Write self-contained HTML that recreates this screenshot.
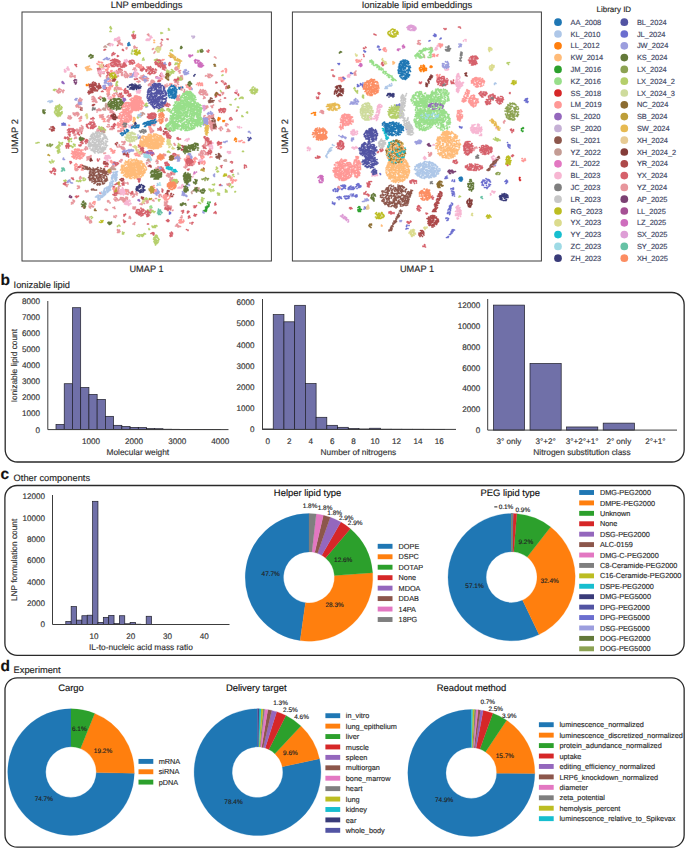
<!DOCTYPE html>
<html><head><meta charset="utf-8"><style>
html,body{margin:0;padding:0;background:#fff;}
svg{display:block;font-family:"Liberation Sans", sans-serif;text-rendering:geometricPrecision;}
</style></head><body>
<svg width="685" height="848" viewBox="0 0 685 848">
<rect width="685" height="848" fill="#fff"/>
<path d="M128.5 157h0M128 155h0M128.5 154.5h0M128.5 156h0M126.5 156h0M128 156h0M112.5 116h0M112 117h0M112 118h0M111.5 115h0M111 117h0M110.5 115.5h0M112 115.5h0M112 116.5h0M110.5 116h0M111 115.5h0M114 116h0M112.5 117.5h0M113.5 115.5h0M111 117.5h0M113 118h0M112.5 118.5h0M112 118.5h0M123 97h0M123 95.5h0M123 96.5h0M97.5 68.5h0M100.5 70h0M100.5 69h0M100 69.5h0M98 70.5h0M99.5 70h0M98 69h0M98 70h0M99.5 68.5h0M99.5 68h0M98.5 68.5h0M156.5 77.5h0M157 77h0M156 77h0M157.5 77h0M156.5 77h0M158 81.5h0M160.5 80.5h0M160 80.5h0M160 81h0M159 81.5h0M159.5 80.5h0M159 80h0M158 81h0M141.5 147.5h0M142.5 148.5h0M143 147.5h0M143 148h0M141 148.5h0M142.5 148h0M142 147.5h0M143 146.5h0M140.5 148.5h0M143 148.5h0M141.5 149.5h0M201.5 162h0M201 162h0M202 162.5h0M200 161.5h0M201 162.5h0M199 163.5h0M200 162.5h0M199 164h0M199.5 164h0M198.5 162.5h0M199 162.5h0M104 66.5h0M106.5 66.5h0M107 66.5h0M103.5 66h0M106 65.5h0M107 65h0M106 66.5h0M103.5 65h0M106.5 65h0M107 65.5h0M105.5 166.5h0M107.5 166.5h0M106.5 166h0M107.5 166h0M105 166.5h0M175 155.5h0M173 154h0M173.5 153.5h0M174.5 153.5h0M175.5 154h0M173 154.5h0M176 155h0M174.5 154h0M176 154.5h0M112 128.5h0M114 128.5h0M113 128h0M113.5 127h0M114.5 124.5h0M114.5 125.5h0M113.5 124.5h0M114.5 123.5h0M115 125h0M114.5 126.5h0M113 126h0M114 125.5h0M115.5 124.5h0M113.5 125.5h0M113.5 126.5h0M111.5 126.5h0M112.5 126.5h0M118.5 70h0M120 71.5h0M122 70.5h0M122 70h0M120 71h0M120.5 72h0M119 70h0M118.5 69.5h0M120.5 69.5h0M121 72h0M120 68.5h0M119 68.5h0M121 69.5h0M119.5 71.5h0M120.5 66.5h0M122 66h0M122 67.5h0M121 66h0M121 67h0M120.5 66h0M124 66.5h0M123 66.5h0M120 66h0M123.5 67h0M123 67h0M139.5 181.5h0M138 178.5h0M137.5 179h0M140 178.5h0M140 180h0M139 180.5h0M139 181h0M139 179.5h0M140 179.5h0M138.5 179.5h0M139 182h0M138.5 181h0M167 133.5h0M166.5 135.5h0M167.5 135h0M167 136h0M167.5 134h0M168.5 133h0M168 134.5h0M168 134h0M167 134h0M166.5 132h0M166 131.5h0M165 133.5h0M167 132h0M165 132.5h0M166.5 133h0M165.5 133h0M167 131.5h0M166.5 134h0M164.5 134h0M166.5 132.5h0M164 134.5h0M163.5 133.5h0M167 134.5h0M166.5 134.5h0M163.5 134h0M164.5 133.5h0M165.5 132.5h0M165 133h0M166 132.5h0M190 163h0M191.5 163h0M190 160.5h0M190.5 162.5h0M190 161h0M191 163.5h0M191.5 162.5h0M190.5 161.5h0M79.5 167.5h0M79 166.5h0M81 166.5h0M79.5 166.5h0M80.5 167h0M80.5 166h0M78 167h0M80.5 165h0M78 167.5h0M112 86.5h0M110.5 85h0M111.5 86h0M110 85.5h0M112 86h0M112.5 85.5h0M124 182h0M123 183.5h0M123 184.5h0M122.5 185h0M123 182h0M124 185h0M124 183.5h0M122 183.5h0M122.5 184h0M127.5 90.5h0M126.5 92.5h0M128.5 92h0M127.5 92h0M127.5 92.5h0M128 93h0M128 91h0M127 92h0M128 92h0M125.5 92.5h0M124.5 92h0M125 90h0M126 93.5h0M127.5 91h0M125.5 90h0M124.5 91h0M124 90.5h0M125.5 88.5h0M124.5 93h0M125.5 91h0M124.5 89.5h0M126.5 90.5h0M125 89h0M124.5 90h0M129 96.5h0M131 95.5h0M128.5 95h0M130 96h0M130.5 96h0M130 94h0M130.5 94h0M129 95h0M129 94h0M128.5 94.5h0M130.5 95.5h0M127.5 95.5h0M78 132h0M78.5 132.5h0M78 133h0M79.5 135h0M79.5 130h0M81.5 131.5h0M81.5 133h0M78.5 134h0M77.5 133h0M79 130.5h0M81.5 133.5h0M79 134.5h0M79.5 134.5h0M78 134h0M144 152.5h0M145.5 152h0M144.5 153.5h0M145 152.5h0M143.5 152.5h0M160 75.5h0M161.5 74h0M161.5 75.5h0M162 75.5h0M162.5 75.5h0M160.5 74.5h0M161 76.5h0M161 73.5h0M108 74.5h0M107 72.5h0M109.5 73h0M108 72h0M107.5 73h0M109.5 75.5h0M107.5 76h0M110 73.5h0M108.5 72.5h0M109.5 75h0M107.5 72h0M107 75.5h0M108 74h0M115 194h0M114.5 195.5h0M115.5 193h0M114.5 193.5h0M116.5 195h0M113 194.5h0M114.5 195h0M114.5 192.5h0M115 195.5h0M116 193.5h0M114 195h0M116 193h0M117.5 192.5h0M116.5 192h0M118 192.5h0M119 191h0M119.5 192h0M119 193h0M117.5 193.5h0M118 193.5h0M118 191h0M172.5 158h0M171.5 158.5h0M174 158h0M173.5 156h0M172.5 159h0M174.5 158.5h0M174 157.5h0M174.5 158h0M174.5 157.5h0M172 157.5h0M98.5 98h0M99.5 98h0M99 98h0M99.5 98.5h0M160 167.5h0M160.5 170h0M162 170.5h0M160.5 167h0M163 168h0M162.5 170.5h0M160 170h0M161.5 168.5h0M161 167.5h0M161 169h0M161.5 167h0M163 170h0M162 169h0M161.5 170h0M164 170h0M164.5 172.5h0M163.5 169.5h0M163 171h0M165 172.5h0M163.5 172h0M164.5 171.5h0M142.5 149.5h0M143.5 148.5h0M142 149.5h0M142.5 152h0M142.5 152.5h0M141.5 151h0M141.5 149h0M143.5 150.5h0M140.5 151h0M143 150.5h0M142 151.5h0M143.5 151.5h0M142.5 150h0M141.5 151.5h0M141 151.5h0M140.5 149h0M141 153h0M140 151.5h0M143.5 151h0M143 149h0M142 153h0M141 147h0M140.5 146h0M138.5 145h0M142.5 145.5h0M140.5 145h0M142.5 146h0M141 145h0M140 146h0M139 147h0M142 146.5h0M139.5 146h0M138.5 145.5h0M85.5 142h0M85 141.5h0M86 143.5h0M88.5 141h0M87.5 142h0M86.5 139.5h0M86.5 141h0M88 141h0M88 142.5h0M87 140.5h0M86 141.5h0M86 142h0M86.5 140.5h0M85.5 140.5h0M84.5 139h0M84 138.5h0M83 138.5h0M82.5 138.5h0M87 141.5h0M86.5 140h0M86.5 141.5h0M87.5 140h0M123.5 191.5h0M124 192.5h0M123 191.5h0M124 192h0M123 191h0M155 70h0M156.5 70h0M155.5 69.5h0M155.5 69h0M155 72h0M156 72h0M155 73h0M153 71.5h0M152 72.5h0M153.5 71.5h0M154 73.5h0M154.5 73h0M154 71.5h0M152.5 71.5h0M149 150.5h0M151.5 153h0M149 152h0M150 153h0M150 150.5h0M152 151.5h0M152 151h0M150 152h0M151.5 150.5h0M152.5 154h0M153.5 153h0M151.5 155h0M152 152.5h0M152.5 155.5h0M154 154h0M152.5 154.5h0M152.5 153h0M205 136.5h0M206.5 138h0M207 137.5h0M204.5 138h0M204 137h0M205 138h0M205.5 142h0M206.5 139.5h0M205.5 140h0M207.5 141.5h0M207.5 142h0M206.5 140h0M208.5 141.5h0M209 139h0M209 141.5h0M208 140h0M208 138h0M205.5 139.5h0M208 138.5h0M208.5 142h0M208 139h0M208 139.5h0M206.5 138.5h0M209 141h0M206.5 140.5h0M205.5 139h0M207.5 140h0M125 199.5h0M124 200.5h0M125.5 201h0M127 199.5h0M123.5 199.5h0M125.5 200.5h0M124 199h0M126 198.5h0M126.5 199.5h0M127 199h0M169 164.5h0M168 163.5h0M167.5 164h0M168.5 165.5h0M167 166h0M168.5 166h0M169 165.5h0M166 163.5h0M165.5 165.5h0M167.5 165h0M167 162h0M166.5 162.5h0M165.5 162.5h0M166.5 165.5h0M165.5 164h0M165 162.5h0M166 163h0M167.5 163.5h0M166 165h0M165 163.5h0M120 94h0M122 96.5h0M121 95h0M119 96h0M118.5 95h0M120 94.5h0M121.5 97.5h0M121.5 94.5h0M120.5 97h0M120.5 94.5h0M120 96h0M120 93.5h0M118.5 96.5h0M120.5 94h0M119.5 93.5h0M121.5 94h0M121.5 93h0M140 66h0M139 64.5h0M139 67h0M139 66h0M138 66.5h0M141 65h0M139 65.5h0M138.5 64.5h0M139.5 67.5h0M125 65.5h0M124 62.5h0M124 65.5h0M125 62.5h0M123.5 64.5h0M124.5 62.5h0M126 66h0M124 64.5h0M124.5 66.5h0M124 64h0M124 65h0M126.5 65.5h0M125.5 64.5h0M125 66h0M126 65h0M123 64.5h0M125.5 64h0M123.5 63.5h0M124 66h0M124.5 63h0M125 63.5h0M123 64h0M123 65.5h0M125.5 66h0M122 67h0M123 66h0M124.5 67h0M124 67h0M123.5 66.5h0M177.5 182.5h0M177 181.5h0M175 182.5h0M176 182h0M177 183h0M177 182h0M177.5 182h0M176.5 181h0M176.5 182h0M178 181.5h0M206.5 119h0M207.5 119.5h0M205.5 119h0M206 119h0M205.5 119.5h0M206.5 120.5h0M208 119h0M204 120.5h0M205.5 118.5h0M204 119h0M204.5 120h0M205 119.5h0M205 120h0M206 119.5h0M173.5 173h0M171 172.5h0M172 173.5h0M172 174h0M173 173h0M172.5 172.5h0M171 174.5h0M173 172h0M171 173h0M173 171.5h0M171 174h0M171.5 174.5h0M162.5 191.5h0M163 190h0M162.5 191h0M162 191h0M162.5 190.5h0M162.5 192h0M162 189h0M114 187h0M112.5 186h0M113.5 187.5h0M114.5 187h0M113 186.5h0M113.5 187h0M114 186.5h0M115.5 184.5h0M117 183.5h0M115 184.5h0M117 184h0M117 183h0M117.5 183h0M117.5 184h0M116 184h0M136.5 79h0M136 79h0M137 78.5h0M135 79.5h0M134.5 79h0M137.5 79h0M136.5 78.5h0M170 138.5h0M169 137h0M170.5 138h0M167 137h0M171 136.5h0M170.5 137.5h0M167 136.5h0M170 135.5h0M168 136h0M168 136.5h0M170 138h0M167.5 138h0M168 138h0M168.5 135.5h0M168.5 138h0M169.5 135h0M167 135.5h0M169 136h0M168 135h0M167.5 134.5h0M192 162h0M191 163h0M189.5 161.5h0M189.5 162h0M190.5 162h0M189 169h0M188 169.5h0M187.5 169.5h0M188 170h0M188.5 170h0M141 69h0M141.5 69.5h0M140.5 70h0M143 68h0M141.5 70.5h0M140.5 68.5h0M142 68h0M143 69h0M141 70.5h0M141 69.5h0M141 68h0M144 69h0M142 70.5h0M144 68.5h0M142 71h0M144.5 69h0M141.5 69h0M143 70h0M143 67h0M143.5 67.5h0M142.5 68.5h0M80 146h0M79 145h0M80.5 145h0M80.5 145.5h0M81 145.5h0M79 145.5h0M81 144.5h0M82 141h0M83 140.5h0M82 141.5h0M80.5 142.5h0M81.5 140.5h0M81 142.5h0M82.5 140.5h0M81.5 141h0M82 142.5h0M82 143h0M83 143h0M82.5 143.5h0M93 118h0M93 120h0M91 119h0M92 118.5h0M94 118.5h0M91 118.5h0M93 117.5h0M101.5 130.5h0M102.5 128h0M100.5 131h0M100.5 130h0M101 130.5h0M102 129h0M102.5 128.5h0M100 129.5h0M102 128.5h0M100.5 129.5h0M101.5 128h0M99.5 128.5h0M102 129.5h0M104 129h0M103.5 128h0M101.5 129h0M102.5 129.5h0M103 128h0M102 128h0M106 87.5h0M106.5 88h0M105.5 89.5h0M104.5 89h0M104 89h0M105.5 87h0M106 89h0M103.5 88.5h0M103 91.5h0M101.5 91.5h0M102.5 91h0M204 145.5h0M204.5 147h0M204 146h0M203.5 147.5h0M202.5 146h0M206 148.5h0M203.5 148h0M205 146.5h0M204 146.5h0M204.5 146h0M204.5 148h0M204.5 146.5h0M204 147h0M205.5 148h0M171.5 235h0M171.5 233h0M172.5 234h0M171 235.5h0M170.5 236.5h0M170.5 235h0M170.5 235.5h0M170.5 234h0M172 236h0M170 233h0M170 235.5h0M172 235.5h0M172.5 233h0M171.5 232h0M84.5 208h0M85 206.5h0M85 207h0M84 207.5h0M83.5 207h0M84.5 206h0M83 206.5h0M84 206h0M85 204h0M133 35h0M133.5 34h0M132.5 36h0M133.5 35.5h0M132 35h0M133.5 36.5h0M132 35.5h0M133.5 35h0M133.5 37h0M135.5 37h0M132.5 36.5h0M135.5 35h0M134 38.5h0M134.5 36.5h0M135 38h0M134.5 38.5h0M135 36h0M135 35.5h0M133 36.5h0M133 35.5h0M134 36h0M133 38h0M150.5 191.5h0M152.5 191.5h0M151.5 192.5h0M154 193h0M153.5 192.5h0M50 171.5h0M51 172.5h0M51.5 173h0M52 171.5h0M50.5 171.5h0M51 171.5h0M55.5 169.5h0M54.5 169.5h0M54.5 171.5h0M53 170h0M55 169h0M54.5 169h0M52.5 171h0M53 168.5h0M53.5 170h0M55.5 171h0M53.5 169.5h0M54 168h0M53 170.5h0M55.5 170.5h0M54 173.5h0M55 173.5h0M55 174.5h0M77.5 196.5h0M76.5 197.5h0M75.5 196.5h0M78.5 196h0M78 196.5h0M76.5 196h0M77 197h0M66 184.5h0M65.5 182h0M65.5 182.5h0M63.5 183.5h0M64.5 183.5h0M63.5 184h0M64.5 184.5h0M64.5 184h0M66 182.5h0M65.5 185h0M65 183.5h0M65 182h0M208.5 52h0M208.5 50h0M209 50.5h0M207 51h0M208 52h0M70 136h0M69.5 136h0M70 134.5h0M69 134h0M69.5 135.5h0M68.5 134.5h0M69.5 134h0M190 217.5h0M188.5 216.5h0M189.5 216h0M189 216h0M189 216.5h0M188.5 218h0M236 92.5h0M235 92.5h0M237 92h0M236 93h0M235.5 93h0M236.5 93.5h0M238.5 95.5h0M238 94.5h0M238.5 95h0M238.5 94h0M246 165.5h0M245 165.5h0M244.5 165h0M245.5 165.5h0M244.5 167.5h0M244.5 167h0M246.5 167h0M244.5 165.5h0M244.5 168h0M223 82h0M222 81.5h0M221.5 81h0M222.5 81h0M171.5 57h0M170.5 57h0M172 56.5h0M170.5 56h0M171 55.5h0M170.5 55.5h0M226 84h0M226 83.5h0M225.5 83h0M224.5 83.5h0M224.5 84.5h0M227 86.5h0M228 88h0M227 86h0M228.5 87.5h0M228 87h0M226.5 86.5h0M226 87h0M226 88.5h0M215.5 96.5h0M216.5 96.5h0M215.5 97h0M220.5 95.5h0M220 95.5h0M219.5 95h0M219 95h0M220 94.5h0M217 94h0M218 94.5h0M216 93h0M217.5 93h0M216.5 95.5h0M215.5 94h0M216 95.5h0M153 233.5h0M152 233h0M153 233h0M153 232.5h0M151 233.5h0M153 234h0M153.5 233.5h0M153.5 235h0M154 234h0M154 233h0M363.5 54.5h0M364 56.5h0M364 56h0M507.5 165.5h0M508 165h0M507.5 163.5h0M506.5 164h0M507 164.5h0M513.5 155.5h0M513 155h0M512.5 156.5h0M511.5 156h0M512.5 155h0M431.5 197.5h0M433.5 197.5h0M432.5 198h0M432.5 196h0M432.5 198.5h0M433 199h0M432.5 199h0M431 196.5h0M377.5 152h0M378.5 151.5h0M378 152.5h0M377.5 152.5h0M381 148h0M382 151h0M383 150h0M381 150.5h0M381.5 150.5h0M380.5 149h0M380.5 150.5h0M382 148h0M380 149.5h0M382.5 148h0M382.5 149.5h0M381 151.5h0M367 183h0M367.5 184h0M368.5 183h0M369.5 183.5h0M369 182h0M369 181.5h0M370.5 181.5h0M369.5 182h0M371.5 181.5h0M370 184h0M369 184.5h0M368 186.5h0M370 184.5h0M369 187h0M368.5 186h0M367.5 185h0M368 185h0M369.5 184.5h0M369 186h0M369 185h0M367.5 183.5h0M368 183.5h0M368 185.5h0M369 185.5h0M367.5 186.5h0M369.5 184h0M426.5 214h0M426 213h0M427 213.5h0M427.5 213.5h0M453.5 82.5h0M451 82h0M451 81h0M452.5 82.5h0M452.5 83h0M453 82h0M453.5 80h0M453.5 80.5h0M451.5 82h0M451.5 83.5h0M452 83.5h0M454 83.5h0M364 193h0M364.5 194h0M365 193h0M365 194h0M366 191.5h0M364 194h0M365.5 192.5h0M369 195h0M367.5 194.5h0M368.5 196h0M367.5 194h0M366.5 194.5h0M368 195h0M368.5 194.5h0M369 195.5h0M383.5 65h0M384.5 63.5h0M382 62.5h0M382.5 62.5h0M382 63h0M382.5 64h0M381.5 64h0M383 65.5h0M383 64.5h0M382.5 65.5h0M383 62h0" stroke="#d6616b" stroke-width="1.7" stroke-linecap="round" fill="none"/>
<path d="M101 97.5h0M100 96.5h0M101.5 97.5h0M102 97.5h0M100.5 96.5h0M156.5 161.5h0M157 163.5h0M157.5 162h0M157.5 162.5h0M158 163h0M158 161.5h0M156.5 160.5h0M157.5 160.5h0M156 161.5h0M156.5 160h0M181.5 88h0M181.5 89h0M183 88h0M182 88h0M182 87.5h0M184.5 91h0M184 92.5h0M185.5 92.5h0M184.5 90.5h0M186.5 92.5h0M184 91.5h0M184.5 89.5h0M184.5 92h0M187 91h0M180.5 87.5h0M181 86.5h0M178.5 87h0M181 87.5h0M140.5 78.5h0M139.5 77.5h0M142.5 77.5h0M141.5 78.5h0M141 77.5h0M141.5 79h0M143 78.5h0M142.5 80h0M140 78h0M141.5 78h0M138.5 82h0M140 81.5h0M137 81.5h0M139.5 81h0M138.5 82.5h0M138.5 81h0M122.5 149h0M123.5 147.5h0M121.5 148h0M124 148.5h0M124 147.5h0M121.5 148.5h0M123 147h0M179.5 95h0M177.5 96h0M179.5 95.5h0M178.5 96.5h0M177.5 95.5h0M179 96.5h0M178 97h0M179.5 96h0M178.5 97h0M178.5 98h0M176 97h0M177 98h0M176.5 97h0M176.5 98.5h0M178 98.5h0M213 128.5h0M212 128.5h0M212 130h0M213.5 128.5h0M211 129h0M212 130.5h0M211.5 128.5h0M76 134h0M74.5 135.5h0M75 135h0M74 135h0M74 133.5h0M75.5 135h0M74 133h0M74.5 134h0M122.5 148h0M121 147h0M123 148h0M121 146.5h0M121.5 146.5h0M121.5 147h0M122 148.5h0M123 148.5h0M119.5 146.5h0M119 145h0M118 147h0M117.5 147h0M120 147h0M117 146.5h0M119.5 145h0M124.5 149h0M123.5 150h0M125 149h0M123.5 149h0M123.5 148h0M122.5 148.5h0M110 129h0M110 129.5h0M111.5 128.5h0M110.5 128.5h0M111.5 129h0M111.5 128h0M112.5 129.5h0M111.5 129.5h0M112 129h0M109.5 126.5h0M107 126.5h0M109 125h0M107.5 126.5h0M109 124.5h0M108 124.5h0M108 127h0M100 75h0M100.5 76.5h0M99.5 75.5h0M100.5 75h0M100 73h0M98.5 71h0M98.5 73.5h0M99.5 74h0M99.5 71h0M100 70h0M101 71.5h0M99.5 73.5h0M99.5 75h0M98.5 72.5h0M101.5 73.5h0M100.5 73h0M99 71.5h0M101.5 73h0M100.5 72.5h0M98.5 71.5h0M99.5 74.5h0M102 72h0M102 73h0M103.5 73.5h0M104 73.5h0M104 73h0M104 72.5h0M104 71.5h0M103.5 73h0M75 137.5h0M75.5 138h0M74.5 138.5h0M76 137h0M76 138h0M76.5 138h0M142 153h0M140.5 153.5h0M141.5 154h0M142 153.5h0M141.5 153h0M141 153h0M192.5 162.5h0M190 162.5h0M189 163h0M190 163.5h0M192.5 163h0M189.5 163.5h0M189 162.5h0M191.5 162h0M191 163h0M192 163.5h0M191 164h0M190.5 162h0M191.5 164.5h0M188.5 159h0M188.5 162h0M187.5 158.5h0M187 161.5h0M189.5 159h0M188 160.5h0M189.5 160.5h0M188 162h0M189 160h0M188.5 160h0M186 161h0M189 160.5h0M186 160.5h0M189.5 161h0M187.5 158h0M92.5 99h0M93 99.5h0M93.5 99.5h0M93.5 96.5h0M92 97h0M93 97h0M94.5 97.5h0M92 99h0M93 96.5h0M93 99h0M94 98h0M128 75h0M127.5 77.5h0M128 75.5h0M128.5 76h0M130 77h0M127.5 76.5h0M127.5 75.5h0M127.5 76h0M126.5 77h0M128.5 75.5h0M130 73.5h0M132.5 75h0M130 75h0M131.5 73.5h0M130.5 75h0M132 75.5h0M131 75h0M203.5 150.5h0M205.5 152.5h0M205 151.5h0M202.5 154.5h0M203 151h0M203 153h0M201.5 153h0M203.5 153h0M202 154h0M205 154.5h0M203 154h0M204 150.5h0M204.5 151h0M145 79.5h0M144 80.5h0M144.5 79h0M145.5 80h0M144 79h0M145 78.5h0M143.5 79h0M143.5 78.5h0M145.5 78.5h0M147 77.5h0M148.5 78.5h0M148 80.5h0M146.5 80.5h0M147 79h0M146.5 81h0M146.5 79h0M147.5 78.5h0M146 79.5h0M146 80.5h0M147.5 79h0M209.5 149h0M209 150.5h0M210 150h0M210 149h0M209.5 150h0M210.5 149h0M106.5 76.5h0M109 78.5h0M106.5 77.5h0M107 76.5h0M107 78.5h0M106.5 79h0M108 78.5h0M107 77.5h0M108 77.5h0M110 79h0M109 79h0M110.5 79.5h0M111 80.5h0M140 204h0M142 204.5h0M141.5 204.5h0M140.5 204h0M143.5 201.5h0M143 202h0M144.5 203.5h0M143 203h0M143.5 203h0M143.5 202.5h0M142 203h0M142.5 203.5h0M74.5 114.5h0M73.5 114.5h0M73 113h0M73.5 113h0M74 113.5h0M209.5 121h0M210.5 123.5h0M210 121.5h0M210 124h0M210.5 123h0M210.5 121h0M210 121h0M210.5 122h0M210 123h0M211 122.5h0M211 121.5h0M212 123h0M212 121.5h0M210 122.5h0M212 122.5h0M94 100.5h0M95 99h0M92.5 101.5h0M93.5 101h0M93 101.5h0M95 98.5h0M92 99.5h0M95 100.5h0M93.5 98.5h0M94.5 100h0M93.5 101.5h0M94.5 99.5h0M94 99h0M113 167.5h0M115 166h0M113.5 166.5h0M112.5 166h0M113 166.5h0M113.5 165.5h0M113 166h0M113 165h0M175.5 145h0M174.5 145h0M175 145h0M174.5 143.5h0M174 143.5h0M136.5 70h0M135.5 68h0M133 69.5h0M134 68h0M135 68h0M134 69h0M135.5 71h0M135 70.5h0M135 70h0M135 68.5h0M81 118.5h0M81.5 118h0M79 118.5h0M81.5 116.5h0M80 118.5h0M81.5 118.5h0M80 117.5h0M81 116.5h0M81.5 117.5h0M122.5 198h0M122.5 199.5h0M121.5 197.5h0M121.5 198.5h0M120 199h0M122 199h0M121 199h0M121.5 198h0M123 201h0M123.5 200.5h0M125.5 202h0M124.5 200h0M124 199.5h0M126 201h0M124.5 199.5h0M125.5 199.5h0M124 201.5h0M126.5 202h0M126 198.5h0M124 199h0M124 198.5h0M123.5 200h0M124.5 199h0M213 126h0M210.5 125h0M211 126.5h0M210.5 127.5h0M211.5 127.5h0M212.5 124h0M213 125.5h0M212.5 126h0M212 128h0M213 125h0M212 125.5h0M212.5 128h0M211 128h0M213.5 125.5h0M210 126.5h0M216.5 127.5h0M213.5 127.5h0M214.5 128h0M216 129h0M213 127.5h0M216 126.5h0M216 128h0M214 129h0M215 127h0M215 127.5h0M214.5 125.5h0M215.5 126.5h0M125.5 72.5h0M124.5 71.5h0M125 71.5h0M126 72h0M121.5 73h0M122.5 72.5h0M122 75.5h0M122.5 74h0M122 73.5h0M121.5 74h0M122.5 75h0M121.5 75h0M116.5 72.5h0M118.5 73.5h0M117.5 73.5h0M117 72.5h0M116.5 77.5h0M116.5 76.5h0M117.5 76.5h0M118 75.5h0M118.5 76h0M118 76h0M182.5 78.5h0M181 76.5h0M180 77.5h0M180.5 76h0M182 75.5h0M181 78h0M180.5 77h0M182.5 77h0M180.5 78.5h0M180.5 79h0M182 79.5h0M182.5 79h0M180.5 79.5h0M178.5 82h0M177.5 84h0M178.5 84.5h0M178 84h0M177.5 83h0M176 85.5h0M176 86h0M174.5 85h0M175 86.5h0M175.5 85.5h0M176.5 86h0M175 85h0M176 81h0M175 82.5h0M176 82.5h0M177.5 81h0M174.5 80.5h0M175 81.5h0M177 82.5h0M176 81.5h0M174 80.5h0M176.5 82.5h0M207.5 154h0M207 153.5h0M206 154.5h0M208 155h0M205.5 153h0M206 152.5h0M208 153h0M206 154h0M90 156.5h0M89.5 157h0M91 155.5h0M89.5 156.5h0M89 156.5h0M90.5 157h0M91 157h0M88 157h0M89 157h0M88.5 159.5h0M89.5 157.5h0M87.5 157h0M88 159.5h0M87 158h0M88.5 157.5h0M88.5 158.5h0M90.5 158.5h0M90 158.5h0M87.5 159.5h0M87 157h0M87 160h0M122.5 144.5h0M124.5 144h0M124 144h0M123 144.5h0M123.5 144.5h0M125 142.5h0M124.5 142h0M123.5 142h0M124 143h0M122 141.5h0M122 142h0M124.5 141.5h0M125 141.5h0M124 142h0M97 131.5h0M98.5 132h0M99 130.5h0M98 131.5h0M98 128.5h0M98.5 131h0M97 130h0M98.5 130h0M116 199.5h0M117 199.5h0M119 200h0M118 200.5h0M117.5 199.5h0M116 199h0M120 199.5h0M117 198.5h0M120.5 198.5h0M120.5 198h0M122 200h0M120.5 199.5h0M122 198h0M123 197.5h0M120.5 197.5h0M120.5 199h0M116 197.5h0M114 199h0M115 200.5h0M115 197.5h0M115.5 200.5h0M115 200h0M117.5 199h0M116 201h0M116.5 198h0M115.5 197.5h0M116.5 199h0M111 112h0M110 112h0M110.5 112.5h0M112 112.5h0M111.5 111h0M113 111.5h0M111 111h0M111 112.5h0M112.5 111.5h0M112 110.5h0M109.5 109.5h0M111 110.5h0M111 109.5h0M109 110h0M110.5 111h0M109.5 110h0M113 112.5h0M113.5 114h0M114.5 113h0M113 113h0M112.5 113h0M113 114h0M178 99h0M179 98.5h0M176.5 99h0M178 100.5h0M177.5 100h0M177 100.5h0M180 98.5h0M179 99.5h0M177.5 97.5h0M206 120h0M205.5 119h0M206.5 117.5h0M206 117.5h0M206.5 118h0M207 118h0M207 119h0M205.5 120.5h0M206.5 119.5h0M207 118.5h0M205 115.5h0M204 116h0M204 117h0M209.5 121.5h0M208.5 123h0M209 122.5h0M209.5 122.5h0M207.5 123.5h0M209 122h0M207 121.5h0M208.5 122.5h0M209.5 124h0M207.5 121.5h0M121 193h0M118.5 193h0M119.5 192h0M119.5 193.5h0M118.5 191h0M121 191.5h0M120 192h0M119 191h0M120.5 193.5h0M118.5 192.5h0M120.5 193h0M207 107.5h0M204 106h0M206 106h0M205.5 108.5h0M204 108h0M204 107h0M206.5 108h0M207.5 106.5h0M205.5 106.5h0M206.5 108.5h0M206.5 107h0M206 107.5h0M208 107h0M207 106h0M207.5 106h0M207 107h0M205 106.5h0M154 121.5h0M153 120.5h0M153 121.5h0M154 121h0M154.5 123.5h0M154 125h0M153.5 124.5h0M154.5 125.5h0M153.5 125.5h0M154 124.5h0M154 123h0M153.5 123.5h0M155 124.5h0M157 121.5h0M157 120.5h0M156.5 121.5h0M178 69h0M176 67.5h0M177 67h0M175.5 69.5h0M177.5 67h0M178 69.5h0M176 67h0M176 70h0M176.5 70h0M176 69.5h0M175.5 67.5h0M177.5 69h0M177.5 68.5h0M177 67.5h0M175 69h0M175 68h0M176.5 68h0M180 73h0M179 71h0M178.5 71.5h0M180.5 70.5h0M179.5 73h0M179.5 71.5h0M179.5 70.5h0M180 72.5h0M123.5 179.5h0M123.5 180h0M123.5 180.5h0M121.5 180.5h0M121 180.5h0M122 179.5h0M123 178.5h0M80 129.5h0M79.5 130.5h0M79.5 131.5h0M79 131h0M80.5 132h0M80 130.5h0M82.5 130h0M79.5 131h0M82 131.5h0M82 127h0M82 127.5h0M83 127h0M82.5 127.5h0M82.5 127h0M81.5 125.5h0M83 128.5h0M81 130h0M79.5 129h0M82.5 128.5h0M81 128.5h0M82.5 126.5h0M82 128.5h0M80 127.5h0M78 130h0M77 129h0M77 131h0M77 129.5h0M76 130h0M78 130.5h0M79 130h0M77 131.5h0M76.5 129.5h0M75.5 130h0M164 155h0M164 156h0M165.5 155h0M165.5 154.5h0M165.5 155.5h0M164.5 154.5h0M163.5 154h0M165 155h0M164 154h0M117.5 94.5h0M118.5 95h0M118 95.5h0M117 94.5h0M119.5 95.5h0M118.5 95.5h0M117 92.5h0M115.5 93h0M114 93.5h0M117 94h0M114.5 94h0M116.5 93h0M211.5 122h0M213 122h0M213 124.5h0M213.5 122.5h0M213 123.5h0M211 124h0M213 123h0M214 123h0M211.5 124h0M165 85.5h0M168 85.5h0M167 84h0M167 86.5h0M165.5 87h0M165 85h0M165.5 85h0M166 85.5h0M165 87h0M165 86h0M165 86.5h0M68.5 133.5h0M69.5 133h0M67.5 132.5h0M70 132.5h0M119.5 70.5h0M117.5 71.5h0M116.5 71.5h0M118 73.5h0M118 73h0M120 71.5h0M119 70.5h0M116 71.5h0M119.5 71h0M116 73h0M118 72h0M116.5 70.5h0M119 72.5h0M121.5 70.5h0M120.5 71h0M121 70h0M145.5 156.5h0M145 155.5h0M148 154.5h0M145.5 155.5h0M146.5 154h0M146 157h0M146 155.5h0M147.5 156h0M146 156.5h0M148 156.5h0M148 155h0M147 156h0M151 153h0M151 152.5h0M149 152h0M148.5 153.5h0M149 152.5h0M150 153.5h0M148.5 152.5h0M148 153h0M174.5 174.5h0M174 173.5h0M174 174.5h0M173.5 174h0M174.5 173h0M173 173.5h0M151 159h0M148.5 161h0M150 159.5h0M150 162h0M150 160.5h0M150.5 160h0M149.5 159.5h0M149.5 161h0M150.5 159.5h0M149 160.5h0M152 129.5h0M153.5 131h0M153 131h0M151 131h0M150.5 131.5h0M151 132h0M150.5 132h0M152.5 132h0M153.5 130.5h0M152.5 131h0M153 131.5h0M151 133h0M213 117.5h0M211.5 115.5h0M213 116.5h0M212 117.5h0M211.5 114h0M213.5 114.5h0M210 117h0M212.5 115.5h0M212 116h0M213.5 116h0M211.5 117h0M212 115.5h0M209.5 119.5h0M208 117h0M209.5 119h0M209.5 116.5h0M211 117h0M209 116.5h0M209.5 118.5h0M209 118.5h0M209.5 115.5h0M209.5 120h0M208.5 116h0M211 118h0M209.5 116h0M208.5 119.5h0M210 116h0M208 118h0M116 190h0M116.5 189.5h0M118.5 189.5h0M118 188h0M119 188.5h0M118.5 190h0M118 191h0M120.5 186h0M118.5 186.5h0M119 187h0M118.5 187.5h0M120 186h0M121 129.5h0M123 130h0M121.5 132h0M121.5 130.5h0M121.5 130h0M124 131h0M121 131.5h0M123.5 129.5h0M123.5 130h0M119 130.5h0M118 130.5h0M119 131.5h0M118 131.5h0M119.5 131.5h0M120 130.5h0M129.5 145h0M130 144h0M130.5 144.5h0M130.5 145h0M131 144.5h0M131 145.5h0M141 76h0M144 76.5h0M142 76h0M143 76h0M142.5 76h0M143.5 77h0M143 77h0M143.5 75h0M109 172h0M110 173.5h0M109 173h0M111 170h0M108 172.5h0M109 170.5h0M109.5 172.5h0M110.5 169.5h0M108 170.5h0M108 171h0M108 172h0M109 170h0M110.5 170.5h0M110.5 173h0M108.5 170h0M111.5 172h0M109.5 169h0M108.5 171h0M108.5 172.5h0M105.5 171h0M105 172h0M105.5 171.5h0M108.5 171.5h0M106 171h0M149.5 83.5h0M150 84.5h0M151.5 85.5h0M151 85h0M151 83.5h0M150.5 83.5h0M148.5 85.5h0M151 85.5h0M149 85h0M150.5 85h0M148.5 84.5h0M153.5 80.5h0M152 81h0M151 81h0M152 82.5h0M154 82h0M154.5 81.5h0M152 80h0M151 83h0M152.5 82h0M153 81.5h0M151 82h0M152 82h0M153 83h0M152.5 81.5h0M153.5 81.5h0M137.5 193.5h0M136.5 192h0M137 193h0M137 195h0M136.5 194h0M136 191.5h0M136 192h0M135.5 194h0M133 194.5h0M133 194h0M134.5 196h0M134 195h0M133 196.5h0M131 193.5h0M131 195h0M132.5 197h0M134.5 194.5h0M133 193h0M133 197h0M131.5 194h0M134 194h0M133.5 196.5h0M146.5 70h0M146.5 70.5h0M148 70.5h0M149 70h0M148 70h0M208.5 143.5h0M209 145h0M208 144.5h0M208 143.5h0M207.5 143h0M207.5 144.5h0M209 143.5h0M207.5 145.5h0M204 144.5h0M204.5 144.5h0M205.5 145h0M206 145.5h0M204.5 145h0M205.5 143.5h0M205 146h0M205 144h0M205.5 146.5h0M193.5 164h0M193.5 163.5h0M193.5 164.5h0M192.5 165.5h0M191 165.5h0M191.5 163.5h0M191.5 165h0M194 164h0M184 167h0M186.5 166h0M185.5 168h0M187 165.5h0M186.5 167h0M186 167h0M185 167.5h0M186 166.5h0M185.5 165h0M185.5 166h0M187 166.5h0M125.5 192.5h0M128.5 192h0M128 190.5h0M125.5 193h0M127 189.5h0M128 194h0M126.5 190.5h0M126 192.5h0M126 190.5h0M128.5 192.5h0M128 191.5h0M128.5 190h0M126.5 191h0M127.5 194h0M128.5 191.5h0M126 192h0M126 194h0M128 194.5h0M129.5 192.5h0M123 191h0M123.5 190h0M125 192.5h0M123.5 189.5h0M125.5 189.5h0M123.5 191h0M125.5 190h0M125 191.5h0M124 191.5h0M124.5 192h0M172.5 174h0M173.5 172.5h0M174.5 173.5h0M174.5 172.5h0M173.5 174.5h0M174 172.5h0M173 172.5h0M175 172.5h0M171.5 172h0M173.5 172h0M108.5 95h0M108 95h0M107 94h0M108 96.5h0M109.5 94.5h0M109 92.5h0M108.5 95.5h0M108 93.5h0M109.5 94h0M107.5 96h0M109 93.5h0M108.5 119h0M109.5 119.5h0M109 120h0M107.5 120h0M107 121h0M109 122h0M109 119.5h0M108 121.5h0M109 120.5h0M109.5 120h0M108 119.5h0M108.5 119.5h0M109.5 117.5h0M111 118.5h0M109.5 119h0M109.5 118.5h0M110 119h0M159.5 168.5h0M158 167.5h0M159 168h0M157 170h0M159.5 169.5h0M158.5 170.5h0M157.5 169h0M158.5 168h0M158 166.5h0M158 170.5h0M157 169h0M159 167h0M157 168.5h0M156.5 170h0M156 169h0M157 170.5h0M158 168.5h0M157.5 168h0M156 168h0M110 108.5h0M108 109.5h0M109.5 109h0M108 107.5h0M107.5 108h0M107.5 108.5h0M110 108h0M108.5 107h0M121 159.5h0M121.5 160.5h0M122 159.5h0M119.5 161.5h0M119.5 161h0M120 161h0M122 160.5h0M121 162h0M78.5 107h0M79.5 103h0M78.5 106.5h0M79.5 107.5h0M80.5 107h0M79 105h0M77.5 106h0M80.5 104h0M78 106.5h0M79 102.5h0M78.5 107.5h0M78 104h0M79 107h0M80.5 104.5h0M77 104.5h0M79.5 103.5h0M78 105.5h0M80 104h0M79 104.5h0M76.5 105.5h0M76 105.5h0M77 106.5h0M76 106h0M76.5 107h0M202 152h0M200.5 152h0M200.5 152.5h0M201 152h0M201.5 150.5h0M201 152.5h0M202 152.5h0M202 151h0M159.5 197h0M159 195.5h0M160.5 194.5h0M159 196.5h0M159.5 194.5h0M161.5 196.5h0M161 195h0M159.5 195.5h0M160 194.5h0M92 206.5h0M91 206.5h0M91.5 205h0M90.5 206.5h0M93 206.5h0M93.5 206.5h0M93 207h0M92.5 206h0M90 203h0M90.5 204h0M89.5 204h0M89.5 207.5h0M90 206.5h0M90.5 208h0M90 206h0M90 207h0M89 206h0M214.5 57h0M216 58h0M215 57h0M204.5 97.5h0M205 98h0M204 97h0M204.5 98h0M204 96.5h0M205 97.5h0M203.5 98.5h0M206 94.5h0M206 95h0M207 95h0M207.5 94h0M207.5 95h0M188.5 199.5h0M188 200h0M146.5 201h0M148 202h0M147 202.5h0M146 200.5h0M148 202.5h0M148 200.5h0M146 201.5h0M148 201.5h0M148 200h0M147 203h0M57.5 92h0M58 92.5h0M57 91h0M58.5 93h0M59 92.5h0M57 91.5h0M56.5 91h0M57.5 91h0M59 89.5h0M59.5 88.5h0M59.5 92h0M59 91h0M60.5 89.5h0M60 92h0M58 90h0M60 91.5h0M59 88.5h0M61.5 90h0M60 92.5h0M60.5 91.5h0M59 89h0M119 232h0M117.5 232.5h0M118 231.5h0M119.5 231.5h0M118.5 231h0M119.5 230h0M119 232.5h0M117.5 229.5h0M120 231.5h0M117.5 230.5h0M119 230h0M223.5 93.5h0M222.5 92.5h0M221.5 92.5h0M222.5 93.5h0M222.5 94.5h0M223.5 92.5h0M150.5 211h0M151 210h0M151 209h0M150 211h0M151 211h0M150 210h0M152 210.5h0M120 40h0M119 40.5h0M118 41.5h0M119.5 41h0M119.5 40h0M117.5 41h0M122 44.5h0M122.5 45h0M122 43.5h0M122 44h0M121 44.5h0M180.5 100h0M180 100h0M180 100.5h0M179 100h0M177 99.5h0M73 200h0M72.5 202.5h0M74 202h0M73 203.5h0M74 200.5h0M71.5 202.5h0M73.5 201h0M72 202.5h0M71.5 204h0M73.5 201.5h0M73.5 200.5h0M74.5 201h0M136.5 48h0M137 47.5h0M135 46.5h0M134.5 46h0M134.5 46.5h0M135.5 47.5h0M134 48h0M134.5 48h0M134 46.5h0M152.5 49.5h0M153.5 48.5h0M153 49h0M152.5 49h0M154.5 52.5h0M154 53h0M155 51.5h0M220 101.5h0M219.5 101.5h0M220.5 99.5h0M220.5 101.5h0M219 100.5h0M175.5 226h0M176.5 224.5h0M177.5 226h0M176.5 226h0M178 225.5h0M177.5 225.5h0M177 224.5h0M177.5 225h0M177.5 224h0M180.5 226.5h0M178 227h0M179 226.5h0M179 226h0M178.5 227h0M179.5 226.5h0M180 226.5h0M180.5 217.5h0M182 216h0M182 217.5h0M181.5 216h0M168 175h0M168.5 177h0M169.5 175h0M168.5 175.5h0M166.5 175.5h0M172.5 179h0M171.5 178.5h0M172.5 177.5h0M171.5 179.5h0M171 181h0M170 179.5h0M172 178h0M170 179h0M170 180.5h0M172 179.5h0M171 179.5h0M170.5 177.5h0M171.5 180h0M170.5 180.5h0M194 207.5h0M194.5 206.5h0M194.5 206h0M193.5 206h0M108 116h0M107 117h0M108.5 115.5h0M108 117h0M152.5 200.5h0M154 201h0M153.5 200h0M155.5 198.5h0M156.5 198.5h0M119.5 43.5h0M120 44h0M119.5 41.5h0M118.5 43.5h0M118.5 42.5h0M120.5 43h0M119.5 42h0M159.5 47h0M161 46h0M160.5 47h0M157.5 47h0M157.5 47.5h0M158 46.5h0M161 43h0M160.5 43.5h0M162 45h0M161.5 42h0M161.5 44.5h0M104 153h0M104 153.5h0M105.5 153h0M229.5 177h0M228.5 177h0M228 176.5h0M229.5 176.5h0M228.5 176.5h0M229 175.5h0M230 176h0M228 177h0M228 124.5h0M225.5 125h0M226 123.5h0M226.5 125.5h0M227.5 124h0M225.5 125.5h0M227 124h0M226.5 126h0M100 192.5h0M100 193h0M101 193.5h0M100 193.5h0M166 121h0M166 119h0M166.5 118.5h0M165.5 120h0M166.5 119h0M167 118.5h0M167.5 120h0M166 120.5h0M180.5 89.5h0M182 90h0M181.5 89.5h0M126.5 49h0M127 48h0M127 47.5h0M126 48h0M87 219.5h0M87.5 220h0M88.5 218h0M89 218h0M87.5 217.5h0M87.5 218h0M87.5 218.5h0M88.5 219h0M89 219.5h0M89 218.5h0M86 218h0M86.5 218h0M87.5 217h0M85.5 217h0M88 217h0M85.5 216h0M85.5 218h0M91.5 221.5h0M90 223h0M91.5 222.5h0M89.5 222h0M91 220.5h0M90 221.5h0M90 220h0M89.5 221.5h0M200.5 154h0M200.5 155.5h0M199 155h0M199 154h0M202 156h0M201 156.5h0M201.5 156h0M202.5 155h0M135.5 207h0M135 209h0M134 207h0M133 208.5h0M134 207.5h0M133 207h0M135 207h0M134 209h0M135 208h0M148 166h0M150 165h0M149.5 166.5h0M149.5 165h0M149.5 166h0M149 166.5h0M150 166.5h0M147 162.5h0M146.5 162.5h0M146.5 164h0M148 163h0M171.5 207h0M170 207h0M169 208h0M171 206h0M171 208.5h0M170.5 206.5h0M170.5 207.5h0M171 208h0M172.5 210.5h0M170.5 210h0M173 210h0M170.5 209.5h0M72.5 76h0M72 76.5h0M72.5 74h0M70 76.5h0M71 77h0M70.5 73h0M72 74.5h0M71.5 73h0M70 75h0M71 75h0M72 73.5h0M72 74h0M74.5 76.5h0M73.5 76.5h0M75 75.5h0M75 77.5h0M75 76.5h0M73.5 76h0M166.5 206.5h0M167 205.5h0M166 205.5h0M165.5 205h0M165 205h0M165.5 205.5h0M165.5 206h0M167 206h0M166 206h0M165 203h0M164.5 205.5h0M164.5 204h0M165 204.5h0M165.5 204h0M165.5 203h0M166 203h0M166 205h0M164.5 202h0M167.5 202h0M167 201.5h0M165 202.5h0M166.5 202.5h0M167.5 201.5h0M165 202h0M165 203.5h0M166.5 201h0M167 204h0M123.5 202h0M125.5 202.5h0M124.5 201h0M126 202h0M126.5 201h0M126 200.5h0M125 202h0M126.5 199h0M125.5 200h0M127 197.5h0M127.5 198h0M127.5 197.5h0M126 197.5h0M125 198.5h0M126 197h0M127.5 199h0M126.5 197.5h0M85 148.5h0M87.5 148.5h0M87.5 148h0M85.5 150h0M85.5 147h0M86.5 149h0M85.5 147.5h0M86 147h0M87.5 149h0M86.5 147h0M84.5 149h0M339 187.5h0M338 187.5h0M338 187h0M338.5 188h0M339 187h0M338.5 186.5h0M339 186.5h0M340.5 188h0M339.5 189h0M339.5 188.5h0M505 121h0M504.5 121h0M504 123h0M504 122h0M504 121.5h0M503.5 122h0M504.5 120.5h0M476 147.5h0M476.5 147h0M477 148h0M475.5 147.5h0M474.5 149h0M474.5 147.5h0M475 148.5h0M475 147.5h0M471.5 150.5h0M472.5 150h0M473 149.5h0M473.5 148.5h0M474 150.5h0M472.5 150.5h0M472.5 149.5h0M472 150.5h0M494 166h0M495 166h0M493 165h0M494.5 165.5h0M494 165.5h0M493 166h0M493.5 165.5h0M492.5 165.5h0M493.5 167h0M432 48h0M430.5 49h0M430.5 47.5h0M431.5 49.5h0M431 48.5h0M432 50h0M432.5 50h0M430.5 48.5h0M430.5 49.5h0M431 50.5h0M424.5 56h0M424 55.5h0M424 56.5h0M424.5 57.5h0M424 56h0M424 55h0M354.5 73h0M355.5 73.5h0M356 71h0M355.5 73h0M355 73h0M355.5 75h0M355 72h0M355 75h0M354 73h0M356 75h0M354.5 75h0M354.5 74h0M321.5 111h0M322.5 112.5h0M322 112h0M322 111h0M321.5 112.5h0M322 112.5h0M323 111h0M322 110.5h0M320 112h0M321 110.5h0M322 113h0M322.5 111.5h0M321 112h0M323 112h0M323.5 111.5h0M323 113.5h0M323.5 113h0M322 111.5h0M418.5 40.5h0M419 44h0M418.5 44h0M420.5 43.5h0M418 44h0M420 44.5h0M418 41h0M417.5 43.5h0M418.5 42h0M420 40.5h0M419 42.5h0M418.5 43h0" stroke="#e7969c" stroke-width="1.7" stroke-linecap="round" fill="none"/>
<path d="M147 106.5h0M146.5 107h0M147.5 106.5h0M146.5 106.5h0M146 107h0M146 106.5h0M104.5 80.5h0M104.5 83h0M107 80h0M106.5 83h0M105.5 80h0M106.5 81h0M106 83h0M106 82h0M105 81h0M105 80h0M105 82h0M104.5 82.5h0M107.5 78.5h0M108.5 78h0M109 79h0M108.5 79.5h0M108 78.5h0M191.5 88.5h0M191.5 88h0M192 88.5h0M192 89.5h0M191.5 89h0M191 89h0M191 87.5h0M114.5 164h0M115 163h0M113 164h0M114 163h0M113.5 162.5h0M115 162h0M113 163h0M115.5 163h0M114 162h0M117.5 163.5h0M117 164.5h0M115.5 164h0M117 164h0M162.5 65.5h0M161.5 66h0M161.5 64.5h0M164.5 63.5h0M165.5 64.5h0M164.5 63h0M165 63.5h0M164.5 64h0M163 63.5h0M165 62.5h0M166 64.5h0M165 64h0M164 66h0M164 64.5h0M165 64.5h0M163.5 65.5h0M162.5 65h0M163.5 66h0M160 167.5h0M159.5 167.5h0M161 168.5h0M159.5 168h0M190.5 154h0M189 156h0M188.5 154h0M189.5 153.5h0M190 155h0M188 155h0M188.5 153.5h0M190 154.5h0M190.5 154.5h0M190 159h0M189 158h0M190.5 157h0M189.5 158h0M189 157h0M188 158.5h0M188 157h0M192 157h0M189.5 157h0M190.5 157.5h0M190 158h0M190 156.5h0M191.5 158.5h0M191 156.5h0M191.5 156h0M191.5 158h0M191 158h0M104.5 88h0M105 87.5h0M105.5 85.5h0M103 87h0M103.5 88.5h0M104 88.5h0M105 88.5h0M103 86h0M103.5 85.5h0M104.5 86h0M104.5 87.5h0M105 85h0M104 87.5h0M132.5 75.5h0M133.5 73.5h0M132.5 74.5h0M136 74.5h0M134 76h0M134 73.5h0M135 76.5h0M135 72.5h0M134 75h0M135 73h0M135.5 74h0M134 72.5h0M136.5 74.5h0M133 74h0M134.5 74.5h0M134.5 73h0M131.5 77h0M133 76h0M131 76.5h0M130.5 77h0M132 77h0M130 77h0M157 192.5h0M157.5 193.5h0M156 194h0M157 192h0M158 193h0M156 192.5h0M156.5 195h0M157 195h0M155 193.5h0M157.5 192.5h0M156.5 194h0M157 189h0M156 193.5h0M157.5 193h0M157.5 192h0M156 191.5h0M155.5 191h0M157.5 189.5h0M156.5 193h0M156 190.5h0M159 191.5h0M158 190.5h0M159 192.5h0M157 193h0M158.5 193.5h0M156.5 193.5h0M145 76.5h0M144 76.5h0M144.5 76h0M146 77h0M143 77.5h0M144 77h0M146.5 77h0M145 81h0M146.5 80.5h0M144 80h0M144.5 79.5h0M145.5 79.5h0M145 82h0M144.5 80.5h0M186 187h0M186.5 186h0M187.5 187h0M186.5 187h0M186 186.5h0M188 184.5h0M189.5 185.5h0M188.5 184.5h0M187.5 184.5h0M189.5 185h0M189 185h0M187.5 184h0M187.5 183.5h0M188 182.5h0M76 99.5h0M76 98.5h0M77 98.5h0M76.5 100h0M75 99.5h0M75.5 100h0M76 99h0M80 103.5h0M81.5 102h0M79 102h0M80.5 100.5h0M79 101h0M80 104h0M80.5 102h0M80 100.5h0M78.5 101.5h0M79 103.5h0M78.5 101h0M81.5 104h0M78.5 102.5h0M80 100h0M78.5 104h0M80.5 102.5h0M80 102.5h0M79 100.5h0M249.5 131.5h0M249.5 132h0M248.5 132h0M249 132h0M248.5 131.5h0M249 131.5h0M250.5 133h0M204 213h0M203 212.5h0M203 211h0M204.5 211.5h0M184 193.5h0M184 194.5h0M182.5 193h0M183.5 195.5h0M184.5 194.5h0M182.5 193.5h0M184.5 193.5h0M183 194.5h0M182 195h0M186.5 196.5h0M185 195.5h0M186 196h0M186 195h0M187 196h0M183.5 192.5h0M182.5 191.5h0M184.5 192h0M70 180h0M69 181h0M68.5 180.5h0M69.5 180h0M72.5 183h0M72 183h0M71.5 183h0M70 181.5h0M70.5 182.5h0M71 182.5h0M68 182.5h0M67.5 182h0M67.5 181.5h0M68 181h0M68 181.5h0M68 182h0M220 185.5h0M221 185.5h0M220.5 184.5h0M222 185.5h0M225.5 141.5h0M223.5 142h0M224 142h0M225 142.5h0M227 141h0M227 141.5h0M105 58.5h0M103.5 59.5h0M104.5 59.5h0M107.5 58h0M106.5 59h0M109.5 58.5h0M108 59h0M107.5 59.5h0M106.5 58h0M108.5 59.5h0M106.5 57.5h0M356 102h0M358 102h0M357.5 101.5h0M358 101h0M355.5 102.5h0M355 101h0M356 104h0M357.5 104h0M356 101h0M357.5 100h0M355 102.5h0M355.5 100.5h0M358.5 101.5h0M357 103.5h0M356 99h0M355 99.5h0M355.5 98.5h0M355 100h0M354 100h0M494 165h0M493.5 164h0M495 165h0M495 165.5h0M495.5 165h0M496 163h0M495 163h0M342 137h0M342 137.5h0M342 136.5h0M343.5 136.5h0M342.5 135.5h0M343 137h0M340.5 136.5h0M339 135.5h0M344.5 137.5h0M345.5 138.5h0M346 137.5h0M345 138h0M345 137h0M345.5 137.5h0M353.5 138h0M352 138h0M352 141h0M353 139.5h0M353.5 139.5h0M351.5 139h0M351.5 140.5h0M352 140.5h0M352 138.5h0M363.5 201.5h0M364 201.5h0M364.5 201h0M364 201h0M362.5 201.5h0M400 220.5h0M401.5 220.5h0M401 221.5h0M400 221.5h0M461 46.5h0M460.5 45.5h0M461 45.5h0M459 44h0M459 46.5h0M459.5 46h0M461 46h0M460.5 44h0M461.5 44.5h0M459 47h0M460 45.5h0M350 195h0M351.5 195.5h0M352.5 195.5h0M351 194.5h0M352 194h0M352 196h0M351 194h0M352 196.5h0" stroke="#9c9ede" stroke-width="1.7" stroke-linecap="round" fill="none"/>
<path d="M68.5 139.5h0M69.5 139.5h0M69 141h0M69.5 138.5h0M69 138h0M70.5 139h0M69.5 141h0M68.5 141h0M69.5 139h0M68 139h0M69 139.5h0M71 139.5h0M70 139h0M71.5 138.5h0M69 142h0M71.5 141.5h0M169.5 75.5h0M170 74.5h0M170 75.5h0M170 72.5h0M168 74.5h0M171 74h0M169 72.5h0M167.5 74.5h0M168.5 73.5h0M173 71.5h0M173.5 73h0M171 72.5h0M171 72h0M172 73h0M172.5 70h0M172.5 70.5h0M173 72h0M172 71.5h0M171 71.5h0M173 70.5h0M172 72.5h0M174.5 71.5h0M171.5 69.5h0M167.5 72.5h0M166.5 72h0M167 71h0M168 71.5h0M167 70h0M167.5 71h0M169 71h0M168.5 71h0M158.5 200h0M159 201h0M160 199.5h0M159 200h0M159 200.5h0M158.5 199.5h0M101 130.5h0M104.5 132h0M104.5 131h0M103.5 129h0M102 131.5h0M104 129h0M104.5 131.5h0M103 131h0M102.5 130.5h0M102.5 127.5h0M102.5 129h0M105.5 130h0M102.5 128.5h0M102 129h0M105 129.5h0M103 130.5h0M102 128h0M101 129h0M102.5 131.5h0M103.5 132.5h0M102.5 132.5h0M101 127.5h0M100 129h0M99.5 127h0M99.5 128.5h0M99 127.5h0M99 128h0M101.5 128.5h0M99 128.5h0M101.5 127h0M99 126.5h0M147.5 199h0M146.5 199h0M146 198h0M146.5 198h0M145 199h0M144.5 200h0M143.5 199h0M144 199h0M146.5 199.5h0M179.5 148h0M180 145h0M180 144.5h0M180.5 145.5h0M179.5 147.5h0M178.5 146.5h0M178.5 144.5h0M180 145.5h0M179.5 145.5h0M178.5 144h0M178 145.5h0M179.5 147h0M178.5 143.5h0M178.5 147h0M175 179.5h0M174.5 179.5h0M175.5 180h0M173.5 179.5h0M173 180.5h0M176.5 181h0M177 180.5h0M176.5 180h0M177.5 181.5h0M175 184h0M177 180h0M177 182h0M177.5 182h0M175.5 184h0M174.5 183h0M174.5 180.5h0M175.5 183h0M175 183h0M176.5 179.5h0M176 183h0M175 182.5h0M175 181h0M176 183.5h0M175.5 182h0M172 183h0M172 182.5h0M174 183h0M173 181h0M173.5 180.5h0M172 182h0M173.5 183h0M174.5 181.5h0M172 181h0M116.5 91h0M114.5 90.5h0M116.5 90h0M114.5 89.5h0M116.5 91.5h0M115.5 178.5h0M115.5 179.5h0M115.5 180h0M116 179h0M116 178h0M163 109h0M161 110.5h0M160 110h0M160.5 111h0M162.5 109.5h0M162.5 111.5h0M162 110.5h0M160 110.5h0M163 110h0M162 108h0M162 112.5h0M161.5 108.5h0M161.5 109h0M162 110h0M162.5 110h0M163.5 110h0M164.5 110.5h0M162 109h0M162 109.5h0M161 110h0M162.5 111h0M164 110.5h0M159 108.5h0M161 109.5h0M158.5 109.5h0M159 110.5h0M160.5 111.5h0M158 111.5h0M158.5 110h0M159 109h0M138.5 116.5h0M137.5 117.5h0M139 115.5h0M137.5 117h0M139 117h0M138 118h0M138.5 115.5h0M147.5 105.5h0M146.5 106h0M146.5 103.5h0M146 103.5h0M146 104.5h0M144.5 105.5h0M145 105h0M146 105h0M145 105.5h0M147 103.5h0M170 109.5h0M169.5 110h0M169.5 111h0M168.5 111h0M168 108.5h0M167 109h0M167 110h0M167.5 109h0M168.5 109h0M169 109h0M70 146h0M72 146.5h0M71 145.5h0M70.5 146h0M73.5 144.5h0M75 144.5h0M73 146.5h0M73.5 144h0M75 146h0M72.5 147.5h0M74.5 144.5h0M74.5 145.5h0M74.5 145h0M73 147h0M167.5 152h0M169.5 152h0M168.5 152h0M168.5 151h0M167.5 151.5h0M170 152.5h0M168 152h0M157.5 63h0M157.5 63.5h0M156 63h0M156.5 62h0M158.5 61.5h0M159.5 62.5h0M159.5 62h0M161 64h0M161.5 64h0M158.5 63h0M159 62h0M158.5 62.5h0M160 62h0M157 59.5h0M157 59h0M156 60h0M155 60h0M158.5 60h0M155.5 60.5h0M154.5 60h0M155.5 59.5h0M158 60h0M201.5 200.5h0M202 201.5h0M202.5 201h0M202.5 202h0M202 199.5h0M201.5 199.5h0M202.5 201.5h0M202 198.5h0M203 200h0M204 198.5h0M202 200h0M202 197.5h0M202.5 198h0M202 199h0M200 203h0M198.5 202.5h0M200.5 203.5h0M199 202.5h0M141 235h0M142 234.5h0M143 235.5h0M140 235h0M142.5 236.5h0M140.5 235h0M141.5 236h0M143.5 234.5h0M143.5 235.5h0M145.5 234h0M144.5 234h0M144.5 233.5h0M142.5 235h0M144 233.5h0M139 236.5h0M137.5 235.5h0M139 234.5h0M137 235.5h0M138.5 234.5h0M139.5 236.5h0M137.5 236h0M170.5 50.5h0M171.5 50h0M172.5 51h0M172 50h0M171 50h0M59 145.5h0M58 145.5h0M58.5 146h0M58.5 147h0M59 144.5h0M59.5 145.5h0M60 146h0M60 145.5h0M59 142.5h0M61 143h0M61 143.5h0M59.5 142.5h0M62.5 142.5h0M59.5 144.5h0M59.5 143h0M62 144h0M62 143h0M59 142h0M60 143h0M62 144.5h0M58 147.5h0M59 147.5h0M57 146.5h0M57 148h0M56 147.5h0M149.5 211h0M149 210.5h0M149 211h0M148 213h0M147 212h0M148 210.5h0M149 211.5h0M148.5 212h0M147.5 210.5h0M147.5 210h0M148.5 211h0M148 210h0M148 211.5h0M81 180.5h0M80.5 180h0M79.5 181h0M80.5 181.5h0M79.5 180.5h0M79 181h0M77.5 181h0M76.5 181h0M77 180.5h0M78.5 181.5h0M85 180h0M85.5 179h0M84 180.5h0M83.5 180.5h0M83 180h0M83.5 178.5h0M84 178h0M83 178h0M116.5 82.5h0M116.5 83h0M117.5 81.5h0M117 81.5h0M117.5 82.5h0M117 84.5h0M116 84h0M117.5 85.5h0M116 85.5h0M179.5 78.5h0M177.5 79h0M179.5 79h0M180 79h0M178 80.5h0M177.5 80h0M178 77h0M177.5 80.5h0M177 79.5h0M179 79.5h0M180.5 79.5h0M180 78h0M182 79h0M181.5 79.5h0M179 80h0M181 77.5h0M180 80h0M179 78h0M181 80h0M143 58.5h0M144 60h0M143.5 58h0M142.5 60h0M144 59.5h0M132 51h0M133 51.5h0M132.5 50h0M132.5 51.5h0M131.5 53h0M131.5 53.5h0M132 54h0M233 186.5h0M231.5 187.5h0M232 186.5h0M232 187h0M230.5 184.5h0M229.5 183.5h0M230.5 185h0M228 184.5h0M229 185.5h0M229.5 186h0M229.5 186.5h0M229.5 185.5h0M230.5 184h0M233 174.5h0M233.5 174.5h0M233 175h0M232.5 175h0M234 176.5h0M230.5 178h0M230.5 177h0M247.5 112.5h0M247 112h0M247.5 113h0M247.5 112h0M246.5 112.5h0M155 211.5h0M152 211h0M154 212.5h0M152 211.5h0M152.5 210.5h0M153 210.5h0M153 211.5h0M154 212h0M149.5 211.5h0M151.5 212h0M150.5 212.5h0M151 212.5h0M241 97.5h0M241 98h0M239.5 98.5h0M240.5 97.5h0M242 98h0M242 97h0M243 97.5h0M241.5 98h0M243 98.5h0M198 51.5h0M197.5 52h0M198 50.5h0M198.5 52h0M198.5 51.5h0M201 51h0M200 50h0M201 49.5h0M200.5 50h0M178 63.5h0M177 63.5h0M175.5 63h0M176.5 63h0M177.5 63h0M176.5 64h0M175.5 63.5h0M177 64h0M175.5 64h0M175 64.5h0M460.5 196.5h0M459 197h0M459.5 196h0M363.5 96h0M363 95.5h0M363.5 98h0M363.5 97.5h0M363 97.5h0M362.5 96.5h0M363.5 95.5h0M362.5 96h0M363 95h0M362.5 97h0" stroke="#b5cf6b" stroke-width="1.7" stroke-linecap="round" fill="none"/>
<path d="M108.5 65h0M108 66.5h0M107 65h0M109 64.5h0M108 64.5h0M108.5 67h0M109 64h0M109.5 67h0M109 66h0M107.5 65.5h0M115 190.5h0M114.5 190.5h0M115.5 188.5h0M113.5 189.5h0M114.5 189h0M114 190.5h0M114 190h0M114.5 188h0M113.5 188.5h0M116.5 189.5h0M114 191.5h0M117 189.5h0M113 189h0M113 188.5h0M189 88h0M188 87.5h0M189.5 88.5h0M191 87.5h0M189 87.5h0M189.5 88h0M191 88h0M189.5 89.5h0M190.5 89.5h0M188 86h0M190 86.5h0M188.5 86.5h0M187.5 85.5h0M186.5 87h0M188.5 85h0M186 85h0M188.5 86h0M187.5 84.5h0M188.5 84h0M187 85.5h0M150.5 123.5h0M153 121.5h0M152 121h0M152 121.5h0M152.5 124h0M152 124.5h0M151 124.5h0M150 122h0M151 124h0M150 123.5h0M152.5 123.5h0M152.5 122.5h0M150.5 121.5h0M152.5 121h0M101 117h0M101 115.5h0M100.5 116.5h0M102 117h0M102.5 117h0M100 116.5h0M100.5 117h0M99.5 115.5h0M100 115h0M103 116.5h0M100.5 116h0M103.5 116.5h0M100 117.5h0M125.5 193h0M126 191h0M127 191h0M124.5 192h0M126 193.5h0M125 192h0M125.5 193.5h0M125.5 191h0M126.5 192h0M124.5 192.5h0M126.5 193h0M110 99h0M110 97.5h0M110 98.5h0M111 100.5h0M109 98.5h0M111 98.5h0M108.5 98.5h0M110.5 100h0M109.5 98h0M111 97h0M109 97.5h0M111 99h0M110.5 97h0M111.5 100h0M111 99.5h0M111 97.5h0M114 95.5h0M112.5 95h0M113 96h0M113 95h0M115 95.5h0M114.5 96.5h0M113.5 95.5h0M113 98h0M114 97h0M186.5 157.5h0M189 160h0M188.5 156h0M188 158h0M188.5 157.5h0M188.5 157h0M189.5 157h0M188.5 156.5h0M187 156h0M189.5 159.5h0M187.5 160h0M188.5 159.5h0M150.5 126.5h0M150 126h0M150 126.5h0M150.5 128.5h0M150.5 127.5h0M150 127h0M149 126.5h0M150.5 125h0M151 128h0M149 127.5h0M150 127.5h0M150 130h0M150.5 131h0M150 129h0M151.5 128.5h0M151 131h0M151 129h0M150.5 130h0M149.5 129h0M149 125.5h0M149.5 125h0M149.5 124.5h0M150 125h0M149 125h0M149 124.5h0M178 156h0M177 156.5h0M179 155h0M179 156.5h0M178.5 157.5h0M177.5 155h0M178 155h0M176.5 157h0M176 156h0M175.5 158.5h0M177 158h0M175 157.5h0M176 157h0M175 158.5h0M175 158h0M178 159h0M178 157.5h0M177.5 157.5h0M180.5 158.5h0M178 158.5h0M180 158.5h0M179 158h0M112 163h0M112.5 162h0M112 162h0M113.5 162h0M111.5 162h0M103 119.5h0M105 119h0M104.5 118.5h0M104 119.5h0M104 119h0M102 119h0M103 118.5h0M104.5 119h0M103.5 121.5h0M105 121.5h0M104.5 120.5h0M103.5 119.5h0M194 161.5h0M195.5 161.5h0M193.5 162h0M194.5 162.5h0M194.5 162h0M194.5 161h0M194.5 163h0M195 161.5h0M195 162h0M190.5 163.5h0M190.5 164h0M191.5 163.5h0M192 163h0M195.5 158h0M195.5 157.5h0M195 161h0M196 158h0M195 158h0M195 157.5h0M196.5 158.5h0M194 158.5h0M195 159.5h0M194.5 159.5h0M193.5 159h0M197 159h0M196 158.5h0M111.5 160.5h0M110.5 161.5h0M110.5 161h0M110.5 162h0M162.5 60.5h0M164 59.5h0M162.5 59.5h0M163 60h0M162 60h0M155.5 190h0M154.5 190h0M154.5 191h0M156 191h0M154 190h0M156 189.5h0M155.5 191h0M154 190.5h0M156 190h0M154.5 187.5h0M69 125h0M69 125.5h0M69.5 125.5h0M152 186.5h0M153.5 186h0M152.5 186.5h0M153 187.5h0M154 185.5h0M204 162h0M204.5 163.5h0M201.5 163h0M202 161.5h0M205 162h0M202.5 163.5h0M203 161.5h0M203.5 161.5h0M201.5 163.5h0M203 162h0M204 164.5h0M201.5 162.5h0M205 163h0M204.5 161h0M111.5 71.5h0M111 70.5h0M112 72h0M111.5 72.5h0M112 70.5h0M110.5 71.5h0M109.5 80.5h0M109 81.5h0M109.5 81.5h0M110 80.5h0M110.5 81h0M108 81.5h0M110 83.5h0M109.5 84h0M111 84h0M111 83.5h0M111 83h0M111.5 83.5h0M112.5 150h0M111 148.5h0M111.5 149.5h0M110 149h0M112 151h0M110.5 149h0M111 151h0M112 150.5h0M114.5 150.5h0M112.5 153h0M115 150.5h0M114 151h0M114.5 152.5h0M113.5 153h0M114.5 152h0M112 150h0M112.5 151.5h0M112.5 151h0M112.5 150.5h0M114 152h0M170 85h0M170.5 85.5h0M169.5 84h0M170.5 84h0M171 83.5h0M172 84h0M171 84h0M170.5 85h0M160.5 79h0M160.5 78.5h0M161.5 78h0M160 79h0M161 78.5h0M162.5 79h0M162 79h0M161.5 79h0M109.5 86.5h0M110.5 87h0M109 89h0M110.5 89h0M109.5 89h0M110 87h0M110 88.5h0M109 87.5h0M108 87.5h0M110.5 88.5h0M108.5 89h0M110.5 86h0M111 86.5h0M112.5 85.5h0M112 86h0M107.5 90h0M107.5 93h0M109.5 90.5h0M107 89.5h0M107.5 89.5h0M107 90.5h0M108 91h0M107 91.5h0M109 92.5h0M107.5 93.5h0M109 91.5h0M108 90.5h0M108.5 89.5h0M187.5 162h0M186 162.5h0M187 162.5h0M187 164.5h0M186 164h0M186.5 165h0M188.5 162.5h0M186.5 163.5h0M186 159h0M185 160.5h0M185 160h0M184.5 159.5h0M185.5 161h0M184.5 159h0M76 163.5h0M75 166h0M75.5 164.5h0M76.5 166.5h0M75.5 166.5h0M76 166.5h0M77 166h0M77 164.5h0M74.5 165h0M75 167.5h0M75.5 169.5h0M77.5 169h0M75 168.5h0M76 168.5h0M76 169h0M77 168.5h0M75 169.5h0M75.5 170h0M83 170h0M82 168h0M81.5 167.5h0M83 168h0M81.5 170h0M82.5 168.5h0M81.5 169.5h0M81.5 165.5h0M81.5 164.5h0M81 165.5h0M83 167.5h0M83.5 166h0M81.5 166h0M83.5 166.5h0M82 165.5h0M83.5 167h0M82.5 165h0M137 155h0M134.5 154h0M137 153.5h0M135 153.5h0M136.5 155h0M137.5 153h0M137 154.5h0M137.5 155h0M137 152h0M135 154h0M135.5 155.5h0M135.5 153.5h0M136 155.5h0M139.5 155.5h0M139.5 154h0M139.5 154.5h0M138.5 156h0M140 156h0M138.5 155.5h0M139 154h0M137.5 155.5h0M138 74h0M137.5 74.5h0M138.5 74h0M137 73.5h0M137 74.5h0M119.5 88.5h0M119 89h0M121 89h0M122 89.5h0M118.5 89h0M120.5 89.5h0M120.5 88h0M121 88h0M81 120.5h0M80 121h0M80 119h0M79.5 121h0M138.5 66.5h0M139.5 65h0M139 66h0M136 65.5h0M136 66h0M137 64.5h0M137 66.5h0M138.5 64h0M138.5 63.5h0M139 65.5h0M137.5 65.5h0M138 64h0M138.5 65h0M137.5 66h0M142 66.5h0M140.5 65.5h0M141 68h0M140 67.5h0M142 67.5h0M141 66h0M141.5 67h0M142.5 67h0M140.5 68h0M141.5 66h0M221 147.5h0M220.5 146.5h0M220.5 147.5h0M220.5 148h0M221.5 147h0M235.5 180h0M235.5 181h0M233 181h0M236.5 180h0M234.5 180.5h0M235.5 180.5h0M231 180h0M230.5 178.5h0M232 177.5h0M231.5 178.5h0M233.5 179.5h0M232 178h0M231 180.5h0M232 177h0M232 180h0M231.5 179.5h0M232.5 181.5h0M232 182.5h0M233 182h0M232 183h0M232.5 183h0M201.5 158h0M204 157h0M202 158.5h0M203.5 156h0M203 156.5h0M201.5 158.5h0M202 159h0M202.5 158.5h0M201 157h0M202 156.5h0M203.5 157.5h0M225.5 71h0M226.5 69.5h0M226.5 70h0M225 69h0M226 71h0M226 70.5h0M226 68.5h0M226.5 71h0M226 71.5h0M226 72.5h0M223 71.5h0M222 71.5h0M223 70.5h0M221.5 71.5h0M98.5 62h0M99 61.5h0M99.5 62.5h0M99 62.5h0M98.5 61.5h0M102 63h0M101.5 62.5h0M102.5 62.5h0M101 62h0M97.5 64h0M98 64.5h0M97 63.5h0M99 64.5h0M93 203.5h0M94.5 204.5h0M94 201.5h0M94 202.5h0M93.5 202h0M95 203h0M94.5 202h0M93.5 202.5h0M92.5 203h0M95 201.5h0M95 202h0M105.5 69.5h0M107.5 70.5h0M106 71h0M106 70h0M107 70h0M106.5 70.5h0M107 69h0M107.5 69.5h0M108 68.5h0M108 67.5h0M108 69h0M210 157.5h0M212 157h0M210.5 156.5h0M211.5 157h0M211 157h0M243 142.5h0M244 142h0M244 142.5h0M244.5 142.5h0M241.5 140.5h0M242 140.5h0M239 141.5h0M239 141h0M240 141.5h0M240.5 141.5h0M240.5 141h0M434 56h0M432.5 56.5h0M434.5 55.5h0M434.5 56.5h0M434.5 54.5h0M434 54h0M433.5 55.5h0M432.5 54.5h0M434 55h0M437 56h0M437 55.5h0M436.5 55.5h0M437.5 56h0M437.5 55h0M438 54.5h0M358.5 62h0M356.5 62h0M357.5 62h0M357 62h0M356 60h0M357 61h0M359 60h0M358.5 60.5h0M357 59.5h0M356 60.5h0M360 61h0M360.5 61.5h0M361.5 59.5h0M360.5 61h0M359.5 61h0M359 61.5h0M359 61h0M343 80.5h0M341 80.5h0M341.5 80.5h0M342.5 81h0M341.5 81.5h0M341.5 81h0M342 80h0M342.5 79h0M342 77.5h0M344 80h0M342.5 77.5h0M342 80.5h0M343.5 77.5h0M343.5 79h0M343.5 79.5h0M343 77h0M343.5 80h0M343.5 77h0M341 79h0M341 77.5h0M341 78.5h0M341 78h0M340 79.5h0M339 79h0M339 78.5h0M340.5 77.5h0M339 77.5h0M339 79.5h0M439.5 75h0M437.5 74.5h0M437 75.5h0M438 76h0M439.5 76h0M438 77h0M439.5 75.5h0M437.5 76.5h0M436.5 75h0M438.5 77h0M440 74.5h0M439 76.5h0M438.5 78h0M437.5 77.5h0M438.5 78.5h0M438.5 77.5h0M439 77h0M438.5 79h0M437 78h0M440.5 47h0M442 46h0M440 45h0M440.5 44.5h0M440.5 47.5h0M442 44h0M442.5 44.5h0M441 46h0M442.5 45h0M441.5 45.5h0M440.5 46h0M440 45.5h0M440.5 45.5h0M440 43.5h0M438.5 44h0M439.5 46h0M439.5 44.5h0M438 45.5h0M439.5 45h0M440 46h0" stroke="#ff9896" stroke-width="1.7" stroke-linecap="round" fill="none"/>
<path d="M142.5 115h0M143 113.5h0M144 113.5h0M141.5 114.5h0M142 114.5h0M144.5 114h0M143.5 113h0M141.5 114h0M142.5 114h0M142.5 112.5h0M140 115h0M141 113h0M141.5 115.5h0M142 114h0M140.5 115h0M141 116h0M141.5 113.5h0M141 114h0M134.5 126h0M133 126.5h0M135.5 125.5h0M132 125.5h0M134 126.5h0M132.5 125h0M132.5 125.5h0M133.5 126.5h0M134.5 127h0M135.5 126h0M135 126.5h0M178 155.5h0M178 156.5h0M177.5 156.5h0M177.5 155.5h0M177 156h0M177.5 156h0M112 166.5h0M113 169h0M111 168.5h0M113.5 168h0M111.5 167.5h0M112 169h0M110.5 168h0M113 169.5h0M111 170h0M112 168h0M109 171h0M108.5 172.5h0M108.5 171h0M110 171.5h0M109 170.5h0M108.5 171.5h0M110 170.5h0M108.5 170.5h0M114 169.5h0M113.5 169h0M115.5 169h0M114.5 169.5h0M114.5 168h0M115.5 169.5h0M103 130.5h0M104 131h0M101.5 132h0M104.5 131h0M103 131h0M101.5 131h0M103 132h0M104.5 132.5h0M102 133.5h0M104 132.5h0M102 132h0M148.5 159.5h0M148 159.5h0M147 160.5h0M148.5 159h0M148 160.5h0M148 159h0M149 160.5h0M104.5 110h0M103 109.5h0M104 109h0M103.5 108h0M105 108h0M102.5 109h0M104 110h0M107 105.5h0M108 106.5h0M105.5 106h0M106 107h0M108 104h0M107 107h0M106 105h0M106 103.5h0M107.5 105h0M106.5 106.5h0M105.5 105h0M107 105h0M105 109.5h0M105.5 108.5h0M104.5 108.5h0M105.5 110h0M197 188h0M195 187.5h0M196 189.5h0M196 188h0M195.5 188h0M195.5 189.5h0M195 188.5h0M193.5 191h0M192 193h0M194 191h0M191.5 192.5h0M191.5 192h0M193.5 190.5h0M192.5 191h0M192 193.5h0M197 188.5h0M198 188.5h0M197.5 190h0M199 188h0M198.5 190.5h0M198.5 188h0M196 188.5h0M197 190.5h0M199 189h0M198.5 189.5h0M197.5 188.5h0M198 191h0M224.5 160h0M226 159.5h0M224 160.5h0M225 161h0M226.5 161h0M109 45h0M109.5 44h0M110 43.5h0M108.5 44.5h0M110 45.5h0M109 43.5h0M107.5 44.5h0M108.5 44h0M105.5 46h0M105.5 46.5h0M106 47h0M105 46h0M106.5 47h0M104.5 46.5h0M104 47h0" stroke="#c49c94" stroke-width="1.7" stroke-linecap="round" fill="none"/>
<path d="M184 146h0M183.5 147h0M182.5 146h0M184 146.5h0M182 145.5h0M183 147.5h0M183 149.5h0M181.5 149h0M182.5 150h0M183.5 150h0M183.5 149.5h0M181.5 150h0M92.5 105h0M93.5 105.5h0M94.5 104.5h0M93.5 104.5h0M92.5 105.5h0M171 194.5h0M171 193.5h0M171.5 196.5h0M172.5 196.5h0M172.5 196h0M171 194h0M171.5 193.5h0M170.5 196h0M173.5 194.5h0M121.5 180.5h0M120.5 179.5h0M123.5 179.5h0M122 181h0M123 180h0M120 179.5h0M123 178.5h0M121.5 178.5h0M151 167h0M149.5 166h0M150.5 166h0M150 165.5h0M151 166h0M149 166h0M106.5 163h0M106 164.5h0M108 164h0M107.5 163h0M107.5 163.5h0M108 164.5h0M106 163h0M106.5 163.5h0M104 164h0M104.5 163h0M105.5 164h0M104 163.5h0M104 162.5h0M103.5 163h0M105.5 161.5h0M105.5 163.5h0M104 162h0M104 161.5h0M80.5 109.5h0M82 108h0M81 110h0M82 110h0M81 108h0M124 154.5h0M123.5 153.5h0M123.5 154.5h0M125 154.5h0M124.5 154.5h0M125.5 154h0M126.5 154.5h0M127.5 153h0M127.5 154h0M124.5 153h0M126.5 155h0M126 154h0M125 153h0M127 154.5h0M127.5 153.5h0M165 128.5h0M166 129h0M166 128h0M165.5 128.5h0M165 129h0M166.5 129h0M169 130h0M168 129.5h0M169 130.5h0M169.5 129h0M170 131h0M169 129.5h0M165 132h0M163.5 131h0M163.5 131.5h0M114.5 80h0M114 78h0M113.5 77.5h0M114.5 77.5h0M115.5 79.5h0M114 77.5h0M113 81h0M112.5 78.5h0M115 80h0M114.5 78.5h0M113 78.5h0M112.5 81h0M115 79h0M114.5 79h0M113.5 80h0M113 79.5h0M114.5 81h0M143 199h0M142.5 198h0M141.5 197h0M143.5 197.5h0M142.5 199h0M142 197h0M141.5 198h0M167 193.5h0M168.5 195h0M166.5 194h0M166 193.5h0M168 194h0M165.5 194h0M167 196h0M167 194h0M167 192h0M167.5 192.5h0M169 191.5h0M167.5 190.5h0M169 190.5h0M167.5 192h0M168.5 191h0M166.5 194.5h0M165.5 195h0M167.5 195h0M166.5 195.5h0M166.5 196h0M167 195.5h0M116.5 145h0M115.5 143.5h0M117.5 143h0M117 142.5h0M116.5 144.5h0M115.5 144h0M203.5 168h0M204 168.5h0M203 169.5h0M203.5 169h0" stroke="#ad494a" stroke-width="1.7" stroke-linecap="round" fill="none"/>
<path d="M138 91.5h0M137 91h0M139 93h0M139 92.5h0M137 93h0M136.5 91.5h0M137 91.5h0M140 92h0M139.5 93h0M137.5 92.5h0M140.5 90.5h0M139 91.5h0M140 90h0M138.5 90h0M140 91h0M139.5 90.5h0M175 158h0M173.5 158h0M174.5 158.5h0M174.5 158h0M175 158.5h0M174.5 159h0M116 72h0M114.5 71.5h0M115 72.5h0M113.5 73.5h0M115 71.5h0M114.5 74h0M114 73h0M116 74h0M114 72.5h0M114.5 73h0M113.5 72h0M101 70.5h0M101.5 72h0M98 71h0M100 71.5h0M100 71h0M99 72.5h0M101 72h0M99.5 73h0M103 67h0M103 67.5h0M104 68.5h0M103.5 68.5h0M103 69h0M102 67.5h0M103.5 67.5h0M102 69h0M101.5 73.5h0M102 72.5h0M103 72.5h0M103 72h0M104 72.5h0M165 76.5h0M164 76h0M162.5 76.5h0M163 77h0M162 73.5h0M162.5 75h0M162.5 75.5h0M161.5 74.5h0M161.5 75.5h0M161.5 73h0M161 74.5h0M162.5 76h0M162.5 74h0M161.5 72.5h0M109.5 98h0M108.5 98.5h0M110.5 97h0M108.5 97h0M108.5 97.5h0M110 97h0M110 98h0M211.5 144.5h0M211 144h0M210.5 145.5h0M211.5 144h0M209.5 146.5h0M209 144h0M209 146.5h0M211.5 146h0M211.5 145.5h0M210.5 147h0M211 146h0M209 145h0M209.5 145.5h0M209.5 147h0M209.5 146h0M209.5 145h0M211.5 145h0M211 145h0M211.5 146.5h0M212.5 148.5h0M212 149h0M212.5 147.5h0M212.5 146h0M212.5 148h0M211.5 148.5h0M179.5 187h0M181 187.5h0M178 188h0M179 187.5h0M179.5 188h0M178.5 187.5h0M179 188h0M179.5 187.5h0M181.5 187.5h0M183.5 185.5h0M182 185.5h0M181.5 186h0M182.5 187h0M181.5 188h0M182 185h0M181 188h0M182.5 186h0M182.5 184.5h0M182.5 185.5h0M183 185.5h0M183 186.5h0M184 187h0M129 127h0M129.5 126h0M129.5 127h0M128.5 125h0M130 126h0M131 125h0M130.5 127.5h0M131.5 126h0M129.5 126.5h0M131 126.5h0M125 61.5h0M125.5 61.5h0M126 61.5h0M126 62.5h0M124.5 61h0M126.5 59.5h0M124.5 61.5h0M127 61.5h0M126.5 60h0M126 60h0M124.5 60h0M125 61h0M127.5 60.5h0M127.5 61.5h0M65.5 72h0M64.5 69.5h0M66 71h0M64.5 70h0M65 72h0M65 71.5h0M65.5 70.5h0M64.5 71.5h0M69 69h0M68 67h0M68 68.5h0M68 70h0M69 70h0M66.5 68.5h0M68.5 69.5h0M67.5 69.5h0M68 67.5h0M67.5 67h0M118 37.5h0M117.5 38h0M118 39h0M119 37h0M118.5 39h0M119.5 39h0M119.5 37.5h0M119.5 38h0M118 38h0M117.5 39.5h0M117 39h0M114.5 39.5h0M116.5 38.5h0M115 38.5h0M115.5 40h0M116.5 39h0M114.5 40.5h0M116.5 40.5h0M116 39.5h0M146 40h0M148 39.5h0M147 39h0M148.5 40h0M149 40.5h0M146.5 40h0M147.5 39h0M147 40.5h0M151 36h0M149.5 36.5h0M152 37.5h0M150.5 37.5h0M151.5 37.5h0M150.5 38.5h0M151.5 37h0M149 39h0M150 36.5h0M149.5 39h0M150 39.5h0M236 90.5h0M237 91h0M236.5 91.5h0M237 90h0M210 146h0M211 146.5h0M213 143h0M212.5 143h0M212.5 142.5h0M211.5 142.5h0M212 143.5h0M211 142.5h0M194 173.5h0M194.5 174h0M193.5 174.5h0M192.5 177h0M193 176.5h0M434.5 145h0M434 145h0M433.5 144.5h0M433 145h0M436 50h0M437 48h0M435 49.5h0M437.5 49h0M436 47.5h0M435.5 48h0M436.5 49h0M435.5 49.5h0M436 49h0M435.5 49h0M437 46h0M438 46.5h0M438.5 45h0M496 128.5h0M496.5 127h0M497 128.5h0M497.5 126.5h0M496.5 128.5h0M496 127.5h0M374.5 175.5h0M375.5 174.5h0M375.5 173.5h0M375 175h0M375 176h0M373.5 175h0M376.5 175h0M376 174.5h0M375 175.5h0M374 175.5h0M372.5 175.5h0M374 174.5h0M372 173.5h0M372 176h0M372.5 173.5h0M372.5 174.5h0M373 174.5h0M377.5 175.5h0M377 175.5h0M377 174h0M495 191.5h0M494.5 192h0M493.5 192h0M494 191.5h0M494 193h0M492 191h0M492 192h0M494 192h0M492.5 191.5h0M492.5 191h0M490.5 195h0M491 194.5h0M490.5 193.5h0M493 160.5h0M492.5 159.5h0M493.5 159h0M493.5 160h0M492 158h0M492.5 156.5h0M491.5 157h0M493 158.5h0M494 156.5h0M492.5 158.5h0M493.5 155.5h0M481 134h0M479.5 135.5h0M480 135.5h0M481.5 135h0M481.5 134h0M480.5 135h0M481 134.5h0M481.5 135.5h0M371 119.5h0M371 118.5h0M372 119h0M371.5 118h0M372 118h0M371 119h0M369.5 117.5h0M370.5 116.5h0M370.5 115.5h0M370.5 116h0M369.5 115.5h0M495 159.5h0M495.5 158.5h0M496 158h0M448.5 69.5h0M447.5 70h0M448 69.5h0M445.5 70h0M446.5 70h0M445 69.5h0M448 68h0M446.5 67.5h0M447 67.5h0M446 67.5h0M447 68h0M447.5 66.5h0M447 66.5h0M447.5 67h0M446 66.5h0" stroke="#f7b6d2" stroke-width="1.7" stroke-linecap="round" fill="none"/>
<path d="M350.5 73h0M352.5 73.5h0M351 73.5h0M352 73.5h0M351 72.5h0M399.5 104h0M400 105h0M400 106.5h0M400.5 105h0M398.5 105h0M398 105.5h0M398.5 105.5h0M396 107h0M395.5 106h0M398.5 107h0M397.5 106.5h0M395.5 106.5h0M396.5 105h0M396.5 105.5h0M397 107.5h0M397.5 107h0M397 105h0M406 229h0M406.5 228.5h0M408 228.5h0M407 228.5h0M406.5 226h0M407 225h0M406.5 226.5h0M409 225.5h0M407 225.5h0M344.5 78.5h0M344 78h0M343 77.5h0M344 79h0M345 78.5h0M364 209h0M365.5 207.5h0M366.5 208h0M364.5 207h0M367 207.5h0M365.5 208.5h0M366 207.5h0M366.5 208.5h0M364 50.5h0M364 51h0M365.5 51.5h0M365 51.5h0M365 52h0M380.5 174h0M380 173.5h0M380.5 174.5h0M379 47h0M379 46.5h0M378 46h0M377.5 47h0M378 46.5h0M379.5 50h0M379 49h0M380.5 49.5h0M411 127.5h0M411 125.5h0M410 126.5h0M410 127h0M410 128h0M408.5 126h0M409.5 127h0M411 126h0M409 125.5h0M408 129h0M406.5 129.5h0M406.5 128.5h0M362.5 85.5h0M360.5 85h0M360.5 83.5h0M360.5 84h0M362 84.5h0M360.5 84.5h0M363 83h0M361 84h0M357.5 86h0M358 85h0M358 86.5h0M357.5 84.5h0M357.5 86.5h0M359 86h0M363 86.5h0M363 85h0M362.5 86h0M363.5 87h0M363 87h0" stroke="#6b6ecf" stroke-width="1.7" stroke-linecap="round" fill="none"/>
<path d="M110 27.5h0M110.5 26.5h0M111.5 28.5h0M111 31.5h0M110.5 28h0M110 31.5h0M111 29h0M110.5 31h0M111 27.5h0M133.5 32h0M133 32h0M133 32.5h0M134 31.5h0M133.5 31.5h0M62 113.5h0M58.5 109h0M57.5 110h0M57 113h0M55.5 114h0M57.5 115h0M56.5 114h0M61.5 108.5h0M59 114h0M62 111.5h0M58 112h0M59.5 105.5h0M59 115.5h0M59 106.5h0M57 115.5h0M58 105.5h0M57 111.5h0M56 110.5h0M58.5 112.5h0M56.5 107h0M58 106.5h0M59 109h0M61.5 106.5h0M58.5 108h0M59 110.5h0M59.5 112.5h0M62 107.5h0M56 114h0M55 112h0M55.5 110.5h0M60 114h0M55.5 108h0M56.5 107.5h0M59.5 104.5h0M61 114.5h0M62 112.5h0M59.5 113h0M60.5 113.5h0M59.5 110.5h0M56.5 108.5h0M60 105.5h0M58 115h0M56 106h0M59.5 115.5h0M58 115.5h0M57 112.5h0M60.5 108h0M57.5 106h0M61.5 108h0M57.5 114.5h0M58 111.5h0M58.5 115h0M60.5 109.5h0M56.5 114.5h0M59.5 107h0M59 111.5h0M55 111h0M59.5 106.5h0M61.5 109h0M59 108.5h0M58 116.5h0M56.5 109.5h0M60.5 115h0M60 116h0M56.5 115.5h0M61 112.5h0M58 113h0M54.5 112h0M55.5 109.5h0M55 113h0M56 106.5h0M60 113h0M58 107h0M55 108h0M59 105.5h0M54 89.5h0M54 90h0M54.5 89.5h0M54.5 90.5h0M55 89.5h0M56 89.5h0M53.5 90h0M161 33.5h0M162.5 33h0M161 32.5h0M161.5 33h0M169.5 30h0M169 29h0M168.5 30h0M168.5 28.5h0M222.5 75h0M223 75h0M222 75.5h0M221 91.5h0M220.5 90.5h0M235.5 99.5h0M236 98.5h0M235 99.5h0M231 104.5h0M230 104.5h0M231 105h0M237.5 107h0M238.5 107.5h0M238.5 107h0M242 115.5h0M243 116.5h0M242 116.5h0M255 93.5h0M255 93h0M251 89.5h0M257.5 89.5h0M251 92h0M255.5 92.5h0M257 92h0M252.5 90.5h0M250.5 90h0M252.5 89.5h0M253 89.5h0M252.5 92h0M254.5 93h0M256 92.5h0M254.5 88.5h0M251.5 91.5h0M255 88.5h0M255 89h0M254.5 91h0M256.5 89.5h0M253 93h0M256.5 91h0M253 90h0M250 90.5h0M253 87h0M254 89.5h0M257 89.5h0M254.5 94h0M252 88h0M257.5 90.5h0M251.5 93h0M257 89h0M254.5 89.5h0M254 92.5h0M254 93h0M253.5 93h0M254.5 90h0M252.5 93.5h0M253.5 87h0M255.5 89.5h0M255 88h0M251.5 90.5h0M255.5 91h0M38.5 142.5h0M36 143h0M37.5 142.5h0M37 143h0M39 142.5h0M59 152h0M59 149.5h0M57.5 150.5h0M59 151h0M59 150h0M57.5 151h0M59.5 150h0M57.5 151.5h0M58 150.5h0M59.5 149h0M58 148.5h0M58 153h0M60 152h0M58.5 153h0M54 161h0M52.5 161.5h0M53 162.5h0M51 163h0M52 161.5h0M50 162h0M53 162h0M50 161.5h0M52 160h0M49.5 161.5h0M50.5 162.5h0M65.5 181h0M66 180.5h0M65.5 180h0M64 180.5h0M64.5 181h0M91.5 216.5h0M90 217h0M92.5 217.5h0M91.5 218.5h0M119 225.5h0M119 225h0M117.5 226h0M120 226h0M117.5 226.5h0M122.5 232h0M122.5 234h0M124 232.5h0M123.5 234h0M123 234h0M123.5 233.5h0M122.5 233.5h0M242.5 151.5h0M243.5 151.5h0M243 151h0M216 169.5h0M217 171.5h0M217.5 171h0M218 171h0M216.5 167h0M218.5 171.5h0M217.5 171.5h0M217 168h0M216.5 167.5h0M217.5 168.5h0M217.5 172h0M217.5 168h0M216.5 169h0M214.5 184h0M213.5 184.5h0M212.5 184.5h0M214 185h0M214.5 184.5h0M213.5 189h0M209.5 190h0M211.5 190h0M214 190.5h0M210.5 190.5h0M213 191h0M209 189h0M210 189h0M212 190h0M210.5 189.5h0M213 190.5h0M213 190h0M211 191.5h0M217.5 193h0M219.5 195h0M218 193h0M218 195h0M219 194h0M218.5 195h0M217.5 193.5h0M219 193.5h0M219.5 193.5h0M218 193.5h0M225.5 191h0M225.5 192h0M226.5 190.5h0M227 191h0M225.5 189.5h0M227 192h0M235 191.5h0M235.5 191.5h0M235 192h0M155 227h0M154.5 225.5h0M157 226h0M153 227.5h0M152.5 226.5h0M154.5 227.5h0M156.5 226h0M156 225.5h0M152 226h0M155.5 227.5h0M152.5 227h0M156.5 225.5h0M154.5 226.5h0M153 226.5h0M155.5 226.5h0M149 229.5h0M149 228.5h0M149.5 229.5h0M155.5 240h0M158 238h0M154 241.5h0M155 236h0M156.5 237.5h0M157.5 238h0M155 243h0M155.5 244h0M156.5 236h0M156.5 240h0M155.5 242h0M156 244h0M155 243.5h0M154 239.5h0M154.5 239h0M159 239.5h0M157 235.5h0M156.5 235.5h0M158 242.5h0M157.5 237h0M155.5 239h0M155 237.5h0M154.5 240.5h0M157 241h0M155.5 242.5h0M157 243h0M154.5 240h0M156.5 241.5h0M156 235h0M154 237.5h0M153.5 239h0M155.5 237h0M158.5 239.5h0M157 243.5h0M155 242.5h0M155.5 239.5h0M156.5 242h0M155.5 245h0M156 241h0M156.5 236.5h0M154.5 242.5h0M156 239.5h0M158.5 241h0M157 242.5h0M158.5 238.5h0M158 240.5h0M155.5 236h0M389.5 110.5h0M395 107.5h0M399.5 114h0M395 115h0M399 109h0M398.5 109h0M389 114.5h0M396.5 108.5h0M392.5 115.5h0M393.5 118h0M389 113.5h0M394 111h0M390.5 116.5h0M398 106h0M396 107.5h0M389.5 112h0M394.5 116h0M391 111.5h0M400 112.5h0M394.5 109.5h0M392 112h0M393.5 113.5h0M398.5 117h0M389 109.5h0M397.5 107h0M389.5 114.5h0M390 113.5h0M390 109.5h0M391.5 118h0M396.5 111.5h0M398 112.5h0M395.5 116.5h0M394 115h0M397 116h0M391.5 108.5h0M399.5 107.5h0M389.5 110h0M396 118.5h0M395 118h0M391 108h0M389.5 114h0M391 112.5h0M391 109.5h0M394.5 115.5h0M394.5 108.5h0M394.5 105h0M390 117h0M398.5 110h0M390 116.5h0M397.5 110.5h0M399.5 111.5h0M394.5 108h0M395 111.5h0M392 107.5h0M395.5 106h0M401.5 110h0M395.5 117h0M390 113h0M402 112.5h0M389 115h0M389.5 113.5h0M397 107.5h0M395 113.5h0M395 115.5h0M397.5 110h0M391.5 109.5h0M392.5 109.5h0M393 111h0M392.5 117h0M402 113h0M391.5 116.5h0M394 116h0M396 109.5h0M392.5 118h0M389 115.5h0M402 111h0M394.5 105.5h0M400 113h0M401 113.5h0M397.5 115h0M397 110h0M398.5 113h0M392 112.5h0M394 111.5h0M391.5 112.5h0M390 111h0M390.5 113.5h0M392 111.5h0M391.5 117.5h0M399 117.5h0M400.5 112h0M400.5 108h0M397 118h0M402 111.5h0M392.5 107.5h0M398 113h0M388.5 114h0M396 112.5h0M399 109.5h0M401 111h0M397.5 109.5h0M393 117h0M399 106.5h0M397 116.5h0M398 108h0M393 109.5h0M390.5 111h0M398 109.5h0M388 111.5h0M395.5 114.5h0M389 112.5h0M393.5 109h0M394.5 115h0M391.5 113h0M393.5 116h0M401 111.5h0M399 108h0M401.5 115h0M393.5 116.5h0M391.5 106h0M394 113h0M399 113h0M394 118h0M400.5 110.5h0M396 110h0M400 117h0M392 110h0M397 117.5h0M393.5 107h0M401 116h0M401.5 114h0M395.5 107.5h0M398 116h0M394.5 116.5h0M392 113.5h0M392.5 108.5h0M398.5 114.5h0M390 112h0M395 105h0M399.5 112.5h0M398.5 116h0M389.5 107.5h0M394.5 118h0M400 109h0M392.5 117.5h0M391.5 112h0M398.5 113.5h0M393 109h0M396 106.5h0M396.5 113h0M392 118h0M400 110.5h0M392.5 111h0M390.5 110h0M393.5 111.5h0M393 110h0M399.5 115h0M391 117.5h0M396 108.5h0M396 107h0M398.5 115h0M395.5 106.5h0M509.5 62.5h0M507.5 63h0M508 63h0M508 63.5h0M508 62.5h0M507 63h0M508.5 64.5h0M354.5 87.5h0M355 90h0M354.5 88.5h0M357 92h0M357.5 91h0M357.5 90.5h0M357 92.5h0M356.5 91.5h0M354 88.5h0M357 91.5h0M355.5 90.5h0M357.5 93h0M356 91.5h0M355 88.5h0M357.5 91.5h0M496.5 139h0M496.5 140.5h0M496.5 139.5h0M498 140.5h0M497 138.5h0M493.5 139h0M495 139.5h0M495 140h0M499 140h0M497.5 141h0M495.5 137.5h0M500 140h0M495.5 138.5h0M498 139h0M498.5 139h0M500 140.5h0M497.5 140.5h0" stroke="#b5cf6b" stroke-width="1.7" stroke-linecap="round" fill="none"/>
<path d="M128 45.5h0M128.5 44h0M128.5 45.5h0M129 42.5h0M128 43.5h0M130 45h0M129.5 44h0M128 44.5h0M174.5 86.5h0M170 93h0M176 91h0M175.5 93h0M171 90.5h0M172.5 97h0M168.5 91.5h0M176 88h0M173 97h0M175.5 88h0M172 90h0M172 86h0M176.5 93h0M176 94.5h0M168 90h0M169 89h0M175 96h0M173.5 96.5h0M171 97h0M175.5 91.5h0M173.5 91h0M168.5 93.5h0M173.5 86h0M172.5 88.5h0M171.5 93.5h0M170 90h0M172 90.5h0M171 93.5h0M172 98h0M170.5 93.5h0M177 89.5h0M172.5 89.5h0M170.5 91.5h0M174 93h0M168.5 95h0M171.5 98h0M174.5 98h0M170.5 86.5h0M175 97.5h0M170 87h0M175.5 95.5h0M170 95h0M173.5 85.5h0M174 89.5h0M172.5 96h0M172 89.5h0M174 97h0M175.5 94h0M173 94.5h0M170.5 95h0M175 95.5h0M172 93.5h0M172 94.5h0M168.5 92h0M171.5 97.5h0M170.5 89h0M169 96h0M174.5 88h0M174.5 88.5h0M176.5 91h0M176.5 92h0M168.5 96h0M171.5 92.5h0M173.5 98h0M172.5 92.5h0M174.5 98.5h0M176.5 92.5h0M171.5 86.5h0M169 88h0M168.5 92.5h0M176 96.5h0M172 92h0M171.5 85h0M176 95.5h0M174 88h0M168 93h0M169.5 92.5h0M174.5 90h0M175.5 97.5h0M172.5 95.5h0M171 95h0M169 92h0M174.5 94.5h0M171.5 94h0M173 90.5h0M171 91.5h0M173.5 90h0M175.5 89h0M175 90.5h0M175 97h0M172 86.5h0M167.5 91h0M173.5 95h0M169.5 95.5h0M174.5 91.5h0M173 86.5h0M168.5 90.5h0M172.5 91h0M176 95h0M174.5 94h0M169.5 97.5h0M175 95h0M170.5 92.5h0M175 87h0M169.5 91.5h0M173.5 97.5h0M170.5 92h0M172.5 96.5h0M182.5 87.5h0M179 88.5h0M180 88h0M182.5 87h0M180 87.5h0M179.5 88.5h0M179 87.5h0M179.5 89h0M149 122h0M149 123.5h0M149 124.5h0M149.5 125h0M147.5 125h0M148.5 125h0M148 125h0M150.5 123.5h0M148.5 123.5h0M148.5 122.5h0M149.5 123h0M149 121.5h0M148 124.5h0M128 130h0M127.5 130.5h0M124.5 132h0M121.5 133.5h0M125.5 132.5h0M122 133h0M126.5 132h0M123 135h0M128.5 130.5h0M121 134h0M124.5 130.5h0M121.5 134h0M126.5 129.5h0M125.5 133.5h0M127 129.5h0M127 132h0M123.5 134h0M122 135.5h0M122.5 133h0M128 131.5h0M123 133h0M127 130.5h0M120.5 133.5h0M124 133.5h0M121.5 133h0M127 130h0M125.5 132h0M134 125.5h0M139 125h0M136 125.5h0M136 126.5h0M137 125.5h0M136 127h0M132 128h0M133.5 127h0M132 127h0M137 125h0M137.5 127.5h0M131.5 128h0M134 127.5h0M132 126.5h0M139 126h0M137 127.5h0M138.5 127.5h0M136.5 127.5h0M137 127h0M135 128h0M138 125.5h0M138.5 126h0M149.5 123.5h0M145 122.5h0M149.5 121.5h0M145 123.5h0M150 124h0M144.5 124h0M150.5 125h0M147 123.5h0M146 123h0M148.5 124.5h0M144 124h0M144 123h0M146.5 124.5h0M148.5 121.5h0M149.5 124h0M143 124h0M144.5 126.5h0M145.5 126.5h0M146 125.5h0M145 126h0M147.5 121.5h0M147 122h0M146 122.5h0M146 123.5h0M155.5 119h0M154 120h0M156 122h0M151 122h0M155.5 122.5h0M155 123h0M151 120.5h0M154.5 120h0M151.5 123.5h0M154 123h0M150.5 121h0M152 123h0M155 119h0M153 121h0M152 120.5h0M156 121.5h0M155 121h0M152.5 123.5h0M153.5 122h0M152 122.5h0M401.5 61h0M401 63h0M401.5 75.5h0M406.5 62.5h0M402.5 65h0M401 77.5h0M403.5 77.5h0M408 63h0M399 71.5h0M407.5 75h0M404 74h0M406.5 66h0M406.5 77h0M399 73.5h0M401.5 78h0M409.5 69h0M405.5 77h0M410.5 71.5h0M401.5 67.5h0M398 70h0M402 61.5h0M407.5 70h0M407.5 66.5h0M409 75.5h0M404 72.5h0M401 62h0M404 64h0M401.5 70h0M400.5 62h0M402.5 65.5h0M402.5 66h0M405.5 64h0M398.5 71.5h0M400.5 69h0M405 63h0M403.5 69.5h0M404 60h0M403.5 64h0M399 68.5h0M408 64.5h0M404 65.5h0M409.5 74.5h0M400.5 63h0M400.5 69.5h0M403 66.5h0M410 67h0M406 71h0M406.5 74h0M402 72.5h0M404.5 72.5h0M401.5 62.5h0M400 76h0M409.5 70.5h0M404.5 71h0M405.5 76.5h0M400.5 73.5h0M410 66h0M398.5 67h0M405.5 76h0M399 73h0M405.5 60h0M402 67.5h0M402.5 71.5h0M401 66h0M399.5 68.5h0M405 69h0M408.5 72h0M398.5 73h0M409.5 66.5h0M404.5 78h0M409 63.5h0M401.5 62h0M405 67.5h0M408 70h0M399.5 71.5h0M408 72h0M398.5 72h0M403.5 62.5h0M408.5 75.5h0M404.5 77h0M402 75.5h0M407 75h0M405 78.5h0M408 73h0M406.5 76h0M405 77h0M399.5 66.5h0M410.5 67.5h0M409.5 67h0M406.5 77.5h0M406.5 78.5h0M407 60.5h0M405.5 71.5h0M408.5 61.5h0M409 70.5h0M402 76h0M404 78h0M409 67.5h0M400 65h0M400 70h0M408.5 62.5h0M401.5 74.5h0M400 63.5h0M403 72h0M404.5 61.5h0M406 66h0M407 66h0M406 78.5h0M405.5 68.5h0M406.5 63.5h0M403.5 62h0M400.5 71.5h0M407 78h0M401.5 69h0M401.5 70.5h0M405 63.5h0M408.5 77h0M403 75h0M398.5 70h0M404.5 72h0M404 61h0M402 73h0M405.5 72h0M405 68.5h0M408 61.5h0M400 75.5h0M407.5 61.5h0M405.5 64.5h0M409.5 75.5h0M406 74h0M408 71h0M406.5 75h0M401.5 71h0M399.5 67.5h0M401 75h0M400.5 66h0M408 74.5h0M408 66.5h0M407.5 74h0M405.5 79.5h0M399.5 63.5h0M404 79h0M408 63.5h0M402 63.5h0M404 65h0M406 75.5h0M402 66h0M401.5 68h0M407 76.5h0M404 69h0M401.5 63.5h0M409 69h0M400 66.5h0M407.5 76h0M404.5 60.5h0M403 60h0M404 66h0M403 61h0M404 71h0M398.5 70.5h0M402.5 74h0M407.5 70.5h0M403 68h0M406 66.5h0M408.5 68h0M408.5 76.5h0M404.5 75h0M400 76.5h0M406 77h0M407 70h0M400.5 67.5h0M400 64h0M399 72h0M402 70h0M402.5 73.5h0M399 65h0M408 73.5h0M407.5 62.5h0M405 65.5h0M401.5 75h0M407.5 73.5h0M398.5 71h0M404 67.5h0M405.5 78h0M404 62.5h0M409 66h0M405.5 61.5h0M401 72h0M405.5 67.5h0M400.5 61.5h0M403 67.5h0M410 70.5h0M406 65h0M402 78h0M406.5 76.5h0M402.5 79h0M405 77.5h0M403.5 68.5h0M406 73h0M402 64.5h0M402.5 126.5h0M391.5 124h0M403.5 130.5h0M393.5 129h0M393 127h0M401.5 130.5h0M393.5 125h0M397.5 126.5h0M391.5 128h0M395 132.5h0M391.5 129.5h0M386.5 132h0M386 131.5h0M388 124.5h0M388.5 131.5h0M391 129h0M392.5 130.5h0M388 125.5h0M392 132.5h0M396.5 127.5h0M392.5 124h0M391 122.5h0M395 129.5h0M394.5 123.5h0M397 134h0M397 123h0M389 125h0M401 132.5h0M393.5 131h0M394 131.5h0M385.5 127.5h0M392.5 134h0M399.5 131h0M401 132h0M392.5 127h0M397 126h0M397.5 134.5h0M385 127.5h0M387.5 125.5h0M391 133.5h0M385 129h0M386 130h0M401 125.5h0M391 127h0M389 134h0M386.5 131h0M396.5 125.5h0M394.5 125h0M398 130.5h0M394 124.5h0M401.5 128.5h0M398.5 123.5h0M387 127.5h0M397.5 127.5h0M390 128.5h0M397 132h0M396.5 122.5h0M389.5 126h0M395 124h0M401.5 126h0M396 133.5h0M388.5 130h0M388 124h0M401.5 130h0M387 127h0M401 130.5h0M396 135.5h0M389.5 122.5h0M388.5 134h0M401.5 132.5h0M389 127.5h0M395.5 129.5h0M398 125.5h0M388 125h0M399.5 127.5h0M394 127h0M401 129h0M389.5 132.5h0M385.5 131.5h0M400 126h0M397 125h0M386.5 129h0M395 128.5h0M396.5 125h0M389.5 127h0M395.5 131.5h0M402 127h0M400 134.5h0M399 131.5h0M392 133.5h0M390 134h0M387 132h0M398 132h0M398.5 125.5h0M393 129h0M391.5 135h0M385 131h0M400.5 125.5h0M389 131h0M395.5 126.5h0M392 135.5h0M394 124h0M394.5 124.5h0M389.5 135h0M394.5 126h0M389.5 127.5h0M397.5 125.5h0M396 123h0M401 126.5h0M393 128h0M403.5 127.5h0M399 123h0M398.5 133.5h0M386.5 127h0M392.5 122.5h0M393.5 122h0M403 129h0M392 131.5h0M390.5 128.5h0M391 130.5h0M388.5 124h0M388 129.5h0M390.5 131h0M391.5 128.5h0M384.5 131h0M400.5 127h0M399 130.5h0M385 131.5h0M386 127.5h0M392.5 122h0M398.5 128h0M395 123h0M386.5 132.5h0M401.5 127h0M399 126.5h0M387.5 134h0M399 132h0M391 134.5h0M389.5 125.5h0M385.5 126h0M392 131h0M399.5 129.5h0M401.5 126.5h0M387.5 128.5h0M396 128.5h0M392.5 131.5h0M389.5 130h0M391 131.5h0M393.5 134.5h0M392 130.5h0M399.5 125h0M390.5 134h0M391 131h0M390 131.5h0M396 124.5h0M392 132h0M398.5 126h0M393.5 126h0M390 123h0M388 134h0M397 126.5h0M389 135h0M390 134.5h0M400 132.5h0M386.5 125h0M394 128.5h0M390.5 129.5h0M391 127.5h0M389 131.5h0M394.5 134.5h0M402 128.5h0M388 128.5h0M392.5 127.5h0M391.5 126.5h0M398.5 124.5h0M394 134.5h0M391.5 131.5h0M385.5 129h0M389 130.5h0M393.5 124h0M399 128h0M399.5 126h0M401 128.5h0M392.5 129.5h0M387 131.5h0M398.5 130h0M393.5 123h0M397.5 132.5h0M388.5 132h0M399 129h0M391 125h0M393 135.5h0M388.5 126.5h0M388 126.5h0M403 128.5h0M400 128h0M385.5 130h0M394 125h0M387 125.5h0M391.5 130.5h0M393 135h0M399.5 128h0M398 133h0M403 126.5h0M385.5 133h0M398.5 135h0M393.5 122.5h0M397.5 129h0M390 125.5h0M387.5 130.5h0M395 131.5h0M400 127h0M393 124h0M401 124.5h0M394 130h0M392.5 130h0M402 130h0M385 123h0M388.5 125.5h0M385 125.5h0M386 124.5h0M384.5 124h0M383 124h0M388.5 125h0M385 124h0M388.5 126h0M387.5 125h0M386 126.5h0M386 126h0M385 123.5h0M385.5 123.5h0M385 126h0M384 126h0M389 125.5h0M386.5 124h0M383.5 122.5h0M387 123.5h0M389.5 123.5h0M387 124.5h0M382.5 123.5h0M385.5 124.5h0M384.5 122h0M390 123.5h0M382.5 125h0M460.5 179.5h0M460.5 178h0M462.5 179h0M462 177.5h0M460.5 180.5h0M459.5 177.5h0M461 179.5h0M462 179h0M461 177h0M460 180.5h0M461.5 181h0M459.5 180h0M462 180h0M460 180h0M459 178.5h0M461 178h0M460.5 181h0" stroke="#1f77b4" stroke-width="1.7" stroke-linecap="round" fill="none"/>
<path d="M111.5 44h0M109.5 45h0M113 44.5h0M112 44h0M110.5 45.5h0M112.5 44.5h0M110.5 44h0M112.5 45.5h0M136.5 74h0M135 74.5h0M135.5 74.5h0M137 76h0M135 76h0M135.5 76h0M136 74.5h0M136 73h0M134.5 71.5h0M134 76h0M137 72.5h0M136 70.5h0M135 75.5h0M136.5 73.5h0M136.5 75.5h0M136.5 76.5h0M135 72h0M136 76.5h0M136 70h0M136 77h0M134.5 74.5h0M137.5 72.5h0M134.5 73.5h0M135 71.5h0M136.5 74.5h0M136 77.5h0M136.5 72.5h0M137.5 74.5h0M135.5 70.5h0M238 127.5h0M239.5 127.5h0M237.5 126.5h0M239 127h0M241.5 127.5h0M239.5 126.5h0M239.5 128h0M108.5 155.5h0M108 155.5h0M106 157h0M107.5 160h0M106.5 161h0M107 156.5h0M106.5 159h0M108.5 158h0M105.5 158h0M108.5 160.5h0M105 157h0M107.5 161h0M105 158.5h0M105.5 159h0M107 155.5h0M105.5 158.5h0M105.5 155.5h0M108.5 157.5h0M107 157.5h0M108 157.5h0M108 160h0M104.5 158h0M106 158h0M125.5 192.5h0M123 191h0M120.5 194h0M120 190h0M124.5 192.5h0M121.5 189.5h0M120.5 194.5h0M121.5 191h0M121 189.5h0M123 192h0M122.5 190.5h0M120 191.5h0M123.5 195h0M123.5 192.5h0M122.5 192.5h0M120 191h0M124 190.5h0M122.5 187.5h0M123.5 190h0M124.5 191h0M122.5 194h0M125 192.5h0M121 192h0M122.5 188h0M124.5 194h0M123.5 194.5h0M123 188.5h0M122 192h0M123 194h0M122.5 189.5h0M121 190.5h0M123.5 192h0M123.5 189.5h0M121 192.5h0M121 194.5h0M119.5 192h0M122 191h0M128.5 203.5h0M129 205h0M127 202.5h0M130.5 204h0M127 201.5h0M130 201h0M126.5 203h0M128.5 205.5h0M128.5 203h0M124.5 202.5h0M127.5 203h0M130.5 203h0M128 201h0M127 201h0M126 204.5h0M129 204.5h0M128.5 201h0M129 201.5h0M127.5 202h0M129.5 200h0M127.5 204h0M131 203.5h0M126 202.5h0M126 201.5h0M125.5 203.5h0M130.5 203.5h0M126.5 200h0M129.5 204h0M130 200.5h0M127.5 203.5h0M126.5 204.5h0M124.5 204h0M128 204.5h0M187 139h0M187.5 139.5h0M187.5 141h0M188.5 138.5h0M189 138.5h0M187.5 140.5h0M189 139.5h0M185 140.5h0M188 139.5h0M186 139.5h0M187 141h0M229 153.5h0M230.5 151.5h0M229.5 152h0M230.5 153h0M229 153h0M227.5 152.5h0M229 151.5h0M230 153h0M227.5 151.5h0M201.5 159.5h0M202.5 160.5h0M201.5 160.5h0M199.5 160h0M200.5 160h0M200.5 162h0M202.5 160h0M199 161h0M109.5 157.5h0M110 157h0M109 157h0M108 156.5h0M109 155.5h0M110 158.5h0M107.5 157h0M109.5 157h0M107.5 157.5h0M107.5 158.5h0M110.5 157.5h0M347.5 76h0M347.5 75.5h0M348 76h0M348 77h0M348.5 76h0M348.5 74.5h0M349.5 75h0M350 75h0M349.5 77h0M349.5 74.5h0M349.5 76h0M350.5 75h0M352 132h0M354 130h0M354 130.5h0M352.5 130h0M354 131h0M352 133h0M352.5 135h0M357 131h0M357 132h0M356.5 134.5h0M351 132h0M353 135h0M357.5 133.5h0M354 131.5h0M351.5 132.5h0M353 130.5h0M353 131.5h0M353.5 131.5h0M355 134h0M352.5 133h0M351.5 131.5h0M354 129.5h0M357.5 131.5h0M356 134.5h0M354 132h0M354 135h0M354.5 130.5h0M353.5 134h0M354.5 133h0M355.5 132.5h0M355 131.5h0M351.5 134h0M351 131.5h0M351 133.5h0M352.5 134.5h0M351.5 133h0M465 39.5h0M466 39.5h0M466 41h0M463.5 41h0M463.5 40.5h0M456.5 84h0M458 87.5h0M458.5 91.5h0M458.5 86h0M459 85h0M457 88.5h0M457 91.5h0M456.5 89.5h0M458.5 73.5h0M457.5 82h0M459.5 81h0M456 80h0M457.5 74h0M458.5 74h0M458 75h0M457.5 90h0M455.5 82.5h0M458 85.5h0M456.5 76.5h0M459.5 84h0M456 83h0M458.5 88h0M457 78.5h0M458 77h0M459.5 78.5h0M457.5 82.5h0M459.5 76.5h0M457.5 83h0M459 75h0M458 75.5h0M459 90h0M457.5 85h0M457 79.5h0M460 86h0M458 76.5h0M460 81.5h0M457 75h0M457.5 91h0M456 84h0M459 82h0M457 75.5h0M456 82h0M460 77h0M458 92.5h0M456.5 86h0M458.5 86.5h0M457 80h0M459 88.5h0M457.5 81h0M459 90.5h0M460 85h0M457.5 89.5h0M456.5 78h0M456.5 91h0M459 82.5h0M457.5 76h0M460 77.5h0M456.5 85h0M455.5 84.5h0M457.5 77h0M456 81.5h0M460 86.5h0M458.5 79.5h0M458 83.5h0M457.5 75h0M456.5 80h0M458 89.5h0M456.5 85.5h0M460 84h0M460 88h0M458 90h0M457 85h0M460 82h0M459 83.5h0M459.5 81.5h0M472 130.5h0M471 129.5h0M472 127.5h0M472 131h0M472.5 130.5h0M481.5 128h0M477.5 128.5h0M470.5 128h0M476.5 127.5h0M471.5 130.5h0M473.5 128.5h0M479 125h0M477.5 132h0M478.5 131.5h0M478 124h0M476.5 133h0M477.5 126h0M481 128.5h0M478 124.5h0M472 125h0M477 130.5h0M473 126.5h0M482 129.5h0M475 132h0M481 130h0M475.5 128h0M473.5 132.5h0M472 131.5h0M474.5 127.5h0M474 128h0M473.5 125h0M476.5 128.5h0M473.5 129.5h0M473 127h0M478.5 133h0M475 124.5h0M477 130h0M480.5 128h0M479.5 125h0M471.5 127h0M479.5 128h0M472 132h0M478 130h0M475 132.5h0M479.5 127h0M475 128h0M477.5 132.5h0M474.5 131.5h0M477 127.5h0M473 131h0M472 129.5h0M475.5 128.5h0M475 129h0M473.5 130.5h0M476.5 131.5h0M481.5 127h0M479.5 130.5h0M472 126.5h0M471 130.5h0M477.5 124.5h0M479 124.5h0M478 133.5h0M480 129.5h0M478 125.5h0M480 129h0M480.5 132h0M478.5 128h0M476 133.5h0M479.5 131h0M480 128h0M473 132.5h0M474 125h0M473.5 133h0M477 128h0M474.5 129.5h0M474 132.5h0M479 129h0M475 131.5h0M475.5 130h0M477 131h0M479 127.5h0M481.5 131h0M473 126h0M474.5 130h0M478.5 126h0M476.5 129.5h0M476 132h0M473 133h0M472 128h0M479 130h0M475.5 129h0M308.5 147h0M310.5 149h0M309 149h0M307.5 148h0M307.5 150.5h0M309.5 150.5h0M310 148h0M308 148h0M307.5 147.5h0M309.5 148.5h0M307.5 148.5h0M308.5 148h0M352.5 148h0M354 149h0M354 148h0M356 148h0M356.5 147.5h0M356 147.5h0M354.5 149h0M357.5 147.5h0M354.5 147.5h0M356 147h0M353 147h0M352 147.5h0M353 147.5h0M356 146.5h0M357 148h0M425 159h0M424.5 158h0M424.5 159.5h0M426 158.5h0M424.5 157.5h0M424.5 156.5h0M425.5 157.5h0M423.5 158h0M424 157.5h0M425 158.5h0M457.5 211.5h0M457 213h0M459.5 213h0M455.5 215.5h0M459 208.5h0M461 210.5h0M457.5 219h0M457 214h0M459 215h0M460 213.5h0M457.5 215h0M460.5 210h0M456 207.5h0M455.5 211.5h0M459 213h0M459 208h0M460.5 213.5h0M457.5 209h0M457.5 207h0M460.5 211h0M460 211.5h0M461 213.5h0M460.5 213h0M458.5 205.5h0M457.5 218.5h0M457.5 214h0M458 206.5h0M459 211.5h0M458 208.5h0M459.5 208h0M455.5 214h0M458.5 216.5h0M459 214.5h0M460 209.5h0M457 209.5h0M459 211h0M456 211h0M458 215.5h0M457.5 207.5h0M457 209h0M457 211h0M457 218h0M457.5 218h0M456.5 208h0M458 210h0M458 214h0M460 215h0M459.5 207.5h0M461 212h0M458 205.5h0M457 206.5h0M457.5 208h0M459 210h0M460.5 216.5h0M458 213.5h0M459.5 210.5h0M460 211h0M456.5 215.5h0M456.5 206.5h0M461 214.5h0M460 207.5h0M457.5 208.5h0M458.5 218.5h0M378.5 115.5h0M376.5 116h0M373.5 118.5h0M377.5 108h0M377 109h0M379 108h0M378 106h0M375.5 117.5h0M377.5 119h0M379.5 112.5h0M378.5 112h0M379 106h0M378.5 114h0M381.5 107h0M377.5 117h0M376.5 116.5h0M376.5 117h0M374.5 116.5h0M380.5 107.5h0M378 117.5h0M378 108h0M379.5 106h0M379 112.5h0M378.5 108h0M377 119.5h0M376.5 119.5h0M380 109.5h0M376 117.5h0M378.5 106h0M378 110h0M375 118.5h0M379.5 104.5h0M378 112h0M377 117.5h0M379 107h0M376 114.5h0M379 110.5h0M378 111h0M380 107.5h0M377 118h0M378 115h0M376.5 112.5h0M377.5 106.5h0M378.5 111.5h0M379.5 107h0M377 116.5h0M378.5 115h0M381 106.5h0M379.5 111.5h0M376.5 118h0M378.5 114.5h0M376.5 120.5h0M379 104.5h0M378 106.5h0M377.5 115h0M375.5 115.5h0M374 119h0M378 105.5h0M379 111.5h0M377.5 116h0M380.5 104.5h0M382 106h0M381.5 105.5h0M379 113.5h0M379.5 110h0M379.5 110.5h0M377 111h0M463.5 82.5h0M459 84.5h0M462 83.5h0M457.5 85.5h0M460 87h0M463 82.5h0M458 86.5h0M461.5 86h0M461 84.5h0M461 83h0M463 83h0M462.5 85h0M461.5 84h0M462.5 82.5h0M457 86.5h0M462 85h0M462.5 85.5h0M457 85.5h0M461 83.5h0M462 85.5h0M461 86.5h0" stroke="#f7b6d2" stroke-width="1.7" stroke-linecap="round" fill="none"/>
<path d="M117.5 45.5h0M118 45h0M123 49.5h0M122.5 49.5h0M123.5 50.5h0M122.5 50h0M104.5 49.5h0M105.5 49.5h0M104.5 50h0M104 50h0M105 49.5h0M113.5 54.5h0M115 53.5h0M114 54.5h0M113.5 52.5h0M112 54h0M113 53h0M113 53.5h0M112 55.5h0M117.5 55.5h0M117.5 56.5h0M118.5 56h0M118 56h0M117.5 61h0M110.5 63.5h0M119 61h0M118 62h0M111 65.5h0M116 62h0M115 66h0M115 63.5h0M115 59h0M118 60h0M116 61h0M117 64h0M118 65.5h0M112 63h0M120 62h0M111.5 63h0M113 59.5h0M118.5 62.5h0M113 60h0M119 62.5h0M116.5 59.5h0M114.5 62h0M115 63h0M121 64h0M110.5 60.5h0M113 61.5h0M113 65.5h0M112.5 59.5h0M118 65h0M119 62h0M117.5 64.5h0M116 64h0M114.5 62.5h0M114.5 64h0M119 61.5h0M115.5 62h0M111 64.5h0M118 62.5h0M112.5 63h0M120 64h0M113.5 66.5h0M112 60h0M118.5 62h0M117 60.5h0M112 66.5h0M115.5 64.5h0M113.5 62h0M120 65h0M114 66.5h0M119.5 61h0M117.5 60h0M114.5 59h0M114 60.5h0M114 64.5h0M117 66h0M120 61.5h0M113 62.5h0M112 65.5h0M118.5 64.5h0M117 61.5h0M112.5 65h0M118 66.5h0M115 60h0M115.5 61h0M119.5 64.5h0M118 66h0M119 63h0M111.5 60.5h0M116.5 63.5h0M114 63h0M111.5 62.5h0M116 65h0M118.5 61h0M118 61h0M130.5 64h0M129.5 64h0M132 60h0M131.5 62.5h0M129 61.5h0M131.5 62h0M134 61.5h0M134 61h0M133 60.5h0M132 63.5h0M133.5 60.5h0M134.5 62.5h0M133 63.5h0M131 61h0M132.5 64h0M129 62h0M130 62.5h0M132.5 62.5h0M130 62h0M130 60.5h0M134.5 63h0M76.5 64.5h0M75.5 65h0M76.5 66.5h0M75 64.5h0M76 65.5h0M91 124.5h0M91 127h0M93 122.5h0M94 123h0M93 127h0M91.5 122h0M86.5 126h0M94 124h0M94 124.5h0M91 126.5h0M93 126h0M87.5 126.5h0M94 127h0M92.5 126h0M91 123.5h0M90 122.5h0M94.5 125h0M92 122.5h0M87 125h0M87.5 126h0M88.5 128h0M93 122h0M95 126.5h0M88.5 124h0M93 128h0M90.5 127.5h0M92.5 127.5h0M87 126.5h0M95 124h0M94.5 124h0M92 126h0M90 124.5h0M92.5 128.5h0M93.5 122.5h0M95.5 126.5h0M91.5 125.5h0M92.5 122.5h0M91 128h0M87 125.5h0M87 124.5h0M90.5 123.5h0M90 123h0M90.5 128.5h0M87.5 127.5h0M94 125h0M93 125.5h0M94 127.5h0M93 128.5h0M87 126h0M94 122h0M91.5 127.5h0M93 124.5h0M88.5 123.5h0M94.5 127h0M96 126h0M90 122h0M86.5 124.5h0M71 128.5h0M69 132.5h0M73.5 130h0M74.5 132h0M73 131.5h0M69.5 131h0M73 130.5h0M70 132h0M72.5 131.5h0M73 132h0M67.5 130h0M72 129.5h0M73 133h0M74.5 130h0M69.5 131.5h0M70 132.5h0M69.5 132.5h0M74.5 131h0M73 128.5h0M70 129.5h0M68.5 131.5h0M75 130.5h0M68.5 129.5h0M74 129.5h0M72 130h0M69 131h0M71 131.5h0M74 131.5h0M69 128.5h0M69.5 130h0M162 39.5h0M161.5 39.5h0M162.5 40h0M167 39h0M168 39h0M168 39.5h0M158.5 64h0M159 60.5h0M158.5 66.5h0M160 62.5h0M155 62.5h0M157.5 64.5h0M158 60h0M159.5 66h0M160 66.5h0M159.5 63.5h0M159.5 60h0M157.5 63h0M159 66h0M160.5 62h0M162.5 64h0M155.5 63h0M157 62.5h0M159.5 65.5h0M159.5 60.5h0M155.5 64h0M156.5 63.5h0M162 63h0M156 63.5h0M156 64h0M157 60.5h0M155.5 61.5h0M161 63.5h0M160 60.5h0M161 65h0M162.5 62.5h0M158 65.5h0M158 64.5h0M161 61h0M160 65h0M158 60.5h0M160 60h0M157 60h0M160.5 60.5h0M156 64.5h0M155.5 63.5h0M165.5 67h0M162 65h0M164.5 68h0M164.5 65.5h0M162.5 66.5h0M160.5 67.5h0M163.5 67.5h0M164.5 67.5h0M163 66h0M162.5 66h0M163 68.5h0M165 65.5h0M161.5 66h0M163.5 65h0M165 66h0M165 65h0M163.5 67h0M162.5 67.5h0M162.5 69h0M163 66.5h0M164 69.5h0M165 70h0M166 68h0M163 65.5h0M163.5 65.5h0M162 66h0M165.5 68h0M163 67h0M152 69h0M149 73.5h0M150.5 66.5h0M150.5 67h0M149.5 68.5h0M152 71h0M149 72.5h0M153 69.5h0M151 67.5h0M151 69.5h0M149 67.5h0M150 74.5h0M151.5 73.5h0M149 68h0M146 71h0M149 72h0M148 68.5h0M150.5 73.5h0M146 70.5h0M152 70h0M146.5 71.5h0M153.5 69.5h0M146.5 70.5h0M150.5 70h0M146 69.5h0M149.5 69h0M149.5 72h0M150.5 71h0M148.5 68.5h0M151 70h0M147 67h0M152.5 73h0M146 70h0M152.5 70.5h0M152 72.5h0M150 69.5h0M150 73.5h0M148.5 67h0M150 67h0M148.5 68h0M147.5 69h0M148.5 73h0M150.5 70.5h0M149.5 73.5h0M148 73.5h0M153 68.5h0M150.5 69h0M169 64.5h0M170.5 63h0M169 63.5h0M169 65h0M169.5 65.5h0M170.5 64.5h0M169.5 62.5h0M177.5 78.5h0M174.5 79.5h0M177 79.5h0M178.5 79.5h0M176.5 80.5h0M175.5 79.5h0M175 79.5h0M178 78h0M176 81h0M178 78.5h0M177.5 79h0M175.5 80h0M178.5 78.5h0M216 83h0M216 82h0M217 82.5h0M169.5 105h0M166 105h0M165.5 105.5h0M168.5 106.5h0M163.5 106.5h0M165 105h0M166 104.5h0M169 104h0M164.5 103.5h0M168 106h0M162.5 105h0M166 105.5h0M167.5 103.5h0M170 105h0M165.5 105h0M167 106h0M167.5 104.5h0M166.5 106h0M164.5 105h0M163.5 103.5h0M167 103h0M220 109.5h0M222.5 109h0M225.5 109h0M224.5 108.5h0M222.5 110h0M223 109.5h0M223 111h0M219.5 110h0M225.5 110h0M223.5 108.5h0M221.5 112.5h0M222.5 109.5h0M225 110h0M222 109h0M220.5 108.5h0M223.5 109.5h0M220 110.5h0M223 110h0M221.5 109h0M219.5 112h0M225 111.5h0M222.5 111h0M221.5 110h0M224 112.5h0M221 109h0M222.5 111.5h0M219 109.5h0M224 111.5h0M220 111.5h0M219 110.5h0M223 110.5h0M225 98h0M225.5 98h0M224.5 98h0M237 110h0M237 110.5h0M236.5 111h0M231 118h0M230 118h0M231 117.5h0M232 119.5h0M230.5 120h0M232 119h0M229.5 119h0M152 118h0M152 113.5h0M149 115h0M155 115.5h0M154.5 114.5h0M152.5 117.5h0M153.5 117.5h0M153.5 114.5h0M155 117.5h0M155 114.5h0M150.5 115h0M155 116h0M153 118.5h0M150 116h0M151.5 114.5h0M151.5 116.5h0M147.5 116.5h0M150 114h0M153.5 118.5h0M148.5 115.5h0M153 113.5h0M151 118.5h0M149.5 118.5h0M153.5 117h0M154.5 116h0M150 117.5h0M148 117.5h0M156 114.5h0M156 116h0M151 116h0M153 117.5h0M155 113.5h0M149.5 117.5h0M148.5 116.5h0M147.5 117.5h0M153 116.5h0M152.5 114.5h0M154 113h0M148.5 115h0M151 113.5h0M155.5 117.5h0M149.5 115h0M148 114h0M149 118.5h0M152 113h0M155.5 114.5h0M154 118h0M148 117h0M150.5 117h0M151.5 117h0M152.5 119h0M154 115h0M154 117.5h0M149 117.5h0M160 130h0M158 130h0M159.5 129.5h0M160.5 127h0M160 129.5h0M158 128.5h0M160 127.5h0M161 128h0M159.5 129h0M161 129.5h0M161 130.5h0M160.5 130h0M160.5 128.5h0M161.5 129.5h0M161 128.5h0M67 146h0M68.5 147.5h0M69.5 146h0M68.5 143.5h0M69 145h0M67.5 146h0M67 143.5h0M66.5 148h0M68.5 146.5h0M68.5 144.5h0M66 146.5h0M68 146.5h0M68.5 148h0M68 146h0M67 145h0M66 145.5h0M66.5 147h0M69 138.5h0M67 138h0M66 138h0M68 137.5h0M65 137h0M64.5 138h0M67.5 137h0M68 139.5h0M65.5 138.5h0M66.5 138h0M99.5 159h0M98 161h0M97.5 159.5h0M98.5 160.5h0M97.5 160h0M97.5 159h0M118.5 163.5h0M118 163.5h0M115.5 163h0M115.5 164.5h0M117.5 164.5h0M116 164h0M114 162.5h0M117 162.5h0M115.5 163.5h0M114.5 162.5h0M114.5 163h0M118 163h0M116 165.5h0M115.5 164h0M138.5 214h0M141 216h0M140 213.5h0M142 213h0M141.5 211.5h0M137 210h0M141.5 215.5h0M136.5 211.5h0M142 210h0M141.5 213h0M144 213.5h0M143.5 211h0M143 213.5h0M141 211h0M143 215h0M144 210h0M138 209.5h0M137 213h0M141 213.5h0M141 208h0M136.5 213h0M136.5 210.5h0M139.5 215h0M142 215h0M137 211.5h0M143.5 210h0M136 212.5h0M140 212h0M139 209.5h0M144.5 213h0M137 209.5h0M142 209.5h0M142 215.5h0M139.5 210h0M138 213h0M141 213h0M138.5 212h0M140 211h0M137 213.5h0M141 208.5h0M145.5 211h0M136 212h0M140.5 214.5h0M139 213.5h0M141.5 212.5h0M138 210h0M136.5 212.5h0M138.5 214.5h0M139 213h0M143 209h0M143.5 209.5h0M142.5 213.5h0M145 213.5h0M137.5 213h0M143 209.5h0M143 214h0M142.5 209.5h0M142 211.5h0M70.5 163.5h0M70.5 162h0M71.5 162.5h0M71 161.5h0M70 162h0M70 161.5h0M71 162.5h0M73.5 179.5h0M72.5 178.5h0M71.5 178h0M72.5 179h0M73 178.5h0M73 178h0M124 215.5h0M124 214.5h0M125.5 214h0M124 216h0M125.5 214.5h0M124.5 215.5h0M124 221.5h0M125.5 221.5h0M124.5 222.5h0M124 222h0M125 221h0M123.5 220h0M132.5 192.5h0M132 193.5h0M131.5 192.5h0M132 193h0M130.5 193.5h0M131.5 192h0M132.5 191.5h0M177.5 139h0M177.5 138h0M177 138h0M178.5 139.5h0M180.5 139h0M178.5 138.5h0M178 137.5h0M178.5 139h0M178 138.5h0M180 139h0M211 143h0M209 143.5h0M209.5 141.5h0M209.5 143h0M208.5 141h0M208 141.5h0M209.5 142.5h0M210.5 141.5h0M210.5 143.5h0M211 141.5h0M211 142.5h0M211 141h0M207.5 140.5h0M211 143.5h0M210 143h0M208 140.5h0M210.5 142h0M208.5 144.5h0M221 143.5h0M219.5 143.5h0M218.5 143h0M221 143h0M217.5 142.5h0M221.5 142.5h0M218.5 142h0M221 144h0M218 143.5h0M219.5 142.5h0M220.5 144h0M220 142.5h0M219 144.5h0M217.5 143.5h0M218.5 141.5h0M218 145h0M210 153.5h0M210.5 153h0M210 152h0M207.5 152.5h0M211.5 151.5h0M210.5 154h0M208.5 154h0M211.5 152.5h0M208.5 153h0M210.5 153.5h0M211.5 152h0M208.5 151h0M210.5 150.5h0M211.5 151h0M209 151.5h0M189 160.5h0M192 160h0M189 161h0M193 161.5h0M190 165h0M187.5 164h0M190.5 161.5h0M190 160.5h0M189.5 162.5h0M188 160.5h0M186.5 163h0M189.5 163.5h0M189.5 162h0M191 163.5h0M192.5 160.5h0M190 159.5h0M192 161h0M191 161.5h0M189 165.5h0M190.5 161h0M188 165h0M189.5 165h0M187.5 162.5h0M188 161.5h0M190 161h0M191 160h0M192 165h0M191.5 160.5h0M190 163h0M187.5 163.5h0M190 162.5h0M187 160.5h0M188.5 161.5h0M187 162.5h0M188.5 160.5h0M193 162h0M189.5 163h0M192 162.5h0M232 163h0M231.5 161.5h0M230.5 162h0M232.5 162h0M220.5 166h0M221.5 166h0M222 165.5h0M221.5 167.5h0M230.5 171h0M232 170.5h0M231.5 172h0M233 170h0M232.5 172h0M220.5 184.5h0M220.5 185h0M219.5 185h0M166.5 209.5h0M166 209h0M167 209.5h0M168.5 209.5h0M165.5 207.5h0M167 208.5h0M170.5 208.5h0M168 209.5h0M168 210.5h0M168 208.5h0M168.5 206h0M170.5 209h0M169 208h0M169 209h0M167 209h0M165 208h0M168 207.5h0M165.5 208h0M165 209h0M170 208h0M169 206h0M166.5 208h0M167.5 206h0M183 210.5h0M181.5 211h0M183.5 210.5h0M182.5 213h0M183 211.5h0M183.5 212h0M194.5 207.5h0M195 207.5h0M196 206h0M195.5 207h0M194.5 206h0M196.5 205.5h0M194.5 214h0M195 216h0M195.5 216h0M195.5 215.5h0M194 215.5h0M196.5 214.5h0M195 214.5h0M215.5 203h0M215 203.5h0M216 204.5h0M215 205h0M215 204h0M214.5 212.5h0M215.5 211.5h0M216 213.5h0M215.5 212.5h0M214 213h0M216 212.5h0M189 211.5h0M187.5 213h0M188 211h0M188.5 212h0M188 212.5h0M187.5 212h0M187.5 211.5h0M145.5 212.5h0M148.5 211.5h0M147.5 213.5h0M148.5 215.5h0M148 211h0M148.5 214.5h0M148.5 216h0M149.5 215h0M147.5 210.5h0M147 212h0M146.5 214.5h0M148 215.5h0M148 213h0M147 215.5h0M147 216.5h0M148.5 212.5h0M148 215h0M147.5 216.5h0M146 212h0M150 212.5h0M146 211.5h0M147.5 214.5h0M150 213h0M192 224h0M192.5 222.5h0M190 223h0M192 223h0M193 222.5h0M192 222.5h0M188 230.5h0M186.5 229.5h0M188 230h0M166.5 220.5h0M168.5 221.5h0M169 220.5h0M168.5 221h0M168 219.5h0M167.5 221.5h0M167.5 220h0M148.5 224h0M148 224h0M147.5 224h0M150 116.5h0M151 116.5h0M152 114.5h0M151.5 115.5h0M149 115.5h0M149 114.5h0M149.5 116h0M152 117.5h0M149.5 115.5h0M148.5 114.5h0M152.5 115h0M147.5 117h0M150.5 116h0M151.5 116h0M187.5 162h0M186 161h0M189.5 158.5h0M191 162.5h0M186.5 159.5h0M191.5 160h0M186.5 160h0M190 161.5h0M189 160h0M187 160h0M189.5 161.5h0M191 159.5h0M187 159.5h0M188.5 163h0M188 158.5h0M189 163h0M186.5 162h0M187.5 159.5h0M187.5 161.5h0M375 34.5h0M376 35h0M374 34h0M374.5 34.5h0M365.5 47h0M366 47.5h0M364 48.5h0M364.5 48.5h0M363.5 48h0M333 70h0M331.5 70h0M332.5 70h0M333.5 76h0M333 75h0M334.5 76h0M334 76.5h0M333 76h0M318.5 93.5h0M318 93h0M320 93.5h0M319 92.5h0M319 94.5h0M317 98.5h0M318.5 97h0M316.5 97h0M317.5 98h0M318.5 98.5h0M446 28.5h0M446 29h0M445 29.5h0M444 28.5h0M458.5 27h0M460.5 28h0M460 27h0M459.5 27h0M476 58.5h0M477 57h0M471 63h0M476 58h0M472.5 58h0M475 57h0M469.5 61.5h0M474.5 62h0M474.5 56.5h0M473.5 61.5h0M469.5 58h0M477 58h0M475.5 59h0M473 57.5h0M475 62.5h0M473.5 60.5h0M476 63h0M472 59.5h0M475 56.5h0M473 60h0M472.5 63h0M471.5 60.5h0M472.5 56h0M474.5 64h0M477 63.5h0M469.5 60h0M471 61.5h0M472 58.5h0M471.5 59h0M471.5 65h0M469.5 61h0M477.5 57.5h0M476.5 58h0M472 64h0M475.5 60.5h0M474 56.5h0M476.5 62h0M475 56h0M471.5 61.5h0M471 56.5h0M474 62.5h0M475.5 57.5h0M468.5 60h0M470.5 63h0M472 64.5h0M474 64.5h0M474.5 59h0M477 59h0M475 58h0M472 57h0M476 63.5h0M471 61h0M475.5 64.5h0M472.5 62h0M474 63.5h0M470 60h0M475.5 63h0M473.5 56.5h0M476 61h0M472.5 56.5h0M473 65h0M472.5 57.5h0M475.5 56.5h0M476.5 57.5h0M469.5 63h0M478 58.5h0M474.5 60.5h0M476 56h0M471 57.5h0M473.5 64.5h0M472.5 61h0M473.5 64h0M471.5 58.5h0M476 61.5h0M473.5 63.5h0M473 58h0M440 77.5h0M441 84h0M437.5 81.5h0M446 80h0M439 78h0M439 81h0M444 85h0M441 78.5h0M445 80.5h0M444 78.5h0M447.5 82h0M441 80.5h0M448 80h0M444 77.5h0M440.5 83.5h0M444 80h0M439.5 79h0M443 81.5h0M443 80.5h0M444.5 81h0M441.5 81.5h0M446.5 81h0M445.5 84.5h0M444 83h0M444 80.5h0M441.5 79h0M439.5 77.5h0M441.5 83h0M447.5 84h0M442.5 86h0M444.5 78h0M442 76.5h0M440.5 81.5h0M438 84.5h0M438.5 83.5h0M437.5 79.5h0M443 76.5h0M439 82h0M444.5 78.5h0M446 82.5h0M444 76.5h0M441.5 77.5h0M442 85.5h0M437.5 82.5h0M441.5 85h0M443.5 80h0M443.5 84h0M447.5 81.5h0M443.5 80.5h0M446.5 84.5h0M437 81.5h0M447.5 81h0M437 80h0M438 78.5h0M441.5 84.5h0M439.5 81h0M447 84h0M441 85h0M443.5 81h0M438.5 84h0M438.5 78h0M440 85.5h0M442.5 82h0M441.5 83.5h0M439 82.5h0M441 81h0M444 77h0M439 79.5h0M442.5 85h0M444.5 79h0M437 80.5h0M447 81h0M446 82h0M438 82.5h0M443.5 82h0M442.5 78.5h0M442.5 83.5h0M447 83h0M441.5 85.5h0M446 81h0M443 82h0M445.5 85.5h0M445 81h0M445.5 82h0M447 78.5h0M421.5 82h0M419.5 82h0M420.5 83.5h0M420 82.5h0M419.5 83h0M421 83h0M483.5 94.5h0M483 94h0M480.5 95.5h0M482 96h0M482.5 94h0M484 94h0M482 97h0M485 94.5h0M484.5 95.5h0M480.5 95h0M484 94.5h0M484 95h0M482 93.5h0M485.5 95h0M480 93.5h0M485.5 95.5h0M486.5 92.5h0M479 93.5h0M482.5 94.5h0M481.5 95.5h0M480 92.5h0M486 92h0M481.5 95h0M480 94.5h0M483 92h0M479.5 93h0M481 92.5h0M483.5 92h0M483.5 95h0M486.5 93.5h0M487 93.5h0M481 91.5h0M484.5 92h0M485.5 93h0M483.5 93.5h0M483 97h0M481.5 96h0M486.5 94h0M493 94h0M488.5 97h0M490 99h0M490.5 99.5h0M493.5 97h0M495 96h0M489.5 96h0M494 96h0M495 95.5h0M489 97.5h0M490 99.5h0M493 94.5h0M491 99.5h0M494.5 97h0M495 97h0M492.5 99h0M493.5 98.5h0M490 96h0M493 100h0M494.5 97.5h0M491 97h0M492.5 95h0M493 96.5h0M491.5 95h0M493.5 95h0M488.5 96h0M491.5 99h0M492 94.5h0M493 99.5h0M490.5 95.5h0M491.5 98.5h0M495.5 98h0M490.5 95h0M490 95h0M492 95h0M497.5 101h0M498 103h0M497.5 100.5h0M502 100h0M498 98.5h0M498.5 99.5h0M503.5 99.5h0M499 98h0M500.5 99h0M500 102h0M499.5 101h0M502 96.5h0M501 103.5h0M500 98.5h0M502.5 100.5h0M502 98.5h0M502 99.5h0M499.5 100h0M501 96.5h0M498 100.5h0M503 99.5h0M502 100.5h0M497 102h0M499.5 99.5h0M497 100h0M501 100.5h0M502.5 102h0M500.5 96.5h0M500 103h0M497.5 99h0M499 103.5h0M499.5 104h0M500 99h0M498.5 100h0M498 97.5h0M496.5 98.5h0M501.5 101.5h0M500 101.5h0M503 98.5h0M503 97.5h0M498 97h0M499 101h0M496 100.5h0M500.5 101h0M497 100.5h0M487.5 102h0M488.5 102h0M490 103h0M486.5 99.5h0M490.5 101h0M490.5 101.5h0M488 99.5h0M489.5 104h0M489 102h0M485.5 101.5h0M490 103.5h0M487 102.5h0M486.5 104h0M487 102h0M487 101h0M487.5 104.5h0M490.5 103.5h0M487.5 100h0M489.5 102h0M489 103.5h0M487.5 103.5h0M490.5 100h0M486 103h0M489 99h0M486.5 104.5h0M488 100.5h0M485.5 102h0M487.5 103h0M486 102h0M510 93.5h0M510 92.5h0M509.5 93h0M511.5 129h0M510.5 129.5h0M511 130h0M512 131h0M511 130.5h0M511.5 130h0M513 131h0M513.5 130.5h0M513.5 129.5h0M512 130.5h0M513.5 131h0M512 132.5h0M338.5 143h0M343.5 147.5h0M341.5 145.5h0M341.5 149.5h0M343.5 143h0M339 148.5h0M340 149h0M342.5 144.5h0M341 141h0M343 146h0M340 144h0M339.5 143h0M339.5 145.5h0M338 148.5h0M340 145h0M339 144.5h0M339 146h0M338.5 145.5h0M338.5 146h0M341.5 141.5h0M343.5 145h0M339 148h0M342.5 148.5h0M341.5 149h0M340.5 147h0M336.5 147h0M340.5 143.5h0M343 147.5h0M342.5 145.5h0M338 146.5h0M337.5 144.5h0M339 143h0M338 144h0M339.5 142.5h0M344 146.5h0M343.5 143.5h0M341.5 146h0M341 143h0M339.5 144.5h0M341 140.5h0M340 141h0M342.5 143h0M337.5 143h0M340.5 144h0M340.5 142h0M339.5 146h0M343 143.5h0M340 143h0M338 145.5h0M342.5 148h0M338.5 148h0M341.5 146.5h0M337.5 143.5h0M341 145h0M343 148.5h0M339.5 141h0M342.5 141.5h0M319.5 157.5h0M316 158h0M318.5 156.5h0M317.5 156h0M317.5 158h0M320 157h0M315.5 157.5h0M317.5 157.5h0M319.5 156.5h0M317 158h0M317.5 157h0M318.5 158h0M349.5 208h0M350 207.5h0M352 208.5h0M351.5 208.5h0M350.5 209h0M351 207.5h0M390 213h0M391 211.5h0M391 212.5h0M394 212.5h0M391.5 213.5h0M392 213.5h0M392 212.5h0M394 213.5h0M389 213h0M389.5 212.5h0M391 214h0M389.5 212h0M390.5 211.5h0M389 212h0M393.5 213h0M407.5 221.5h0M408 223h0M409 223.5h0M411 221.5h0M407 222h0M409.5 222.5h0M410.5 221.5h0M408.5 222h0M409 222.5h0M410.5 221h0M410.5 222h0M411.5 181h0M416 181.5h0M413 180.5h0M410.5 183h0M411.5 183h0M416.5 181h0M414.5 181h0M415 181h0M411 182h0M412 180h0M410 182h0M416 180.5h0M413.5 180h0M414.5 180.5h0M410 181h0M411 182.5h0M412 181h0M414.5 183.5h0M416.5 183h0M410.5 181h0M412.5 180.5h0M412.5 180h0M414 182h0M413.5 182h0M411.5 180.5h0M469.5 152h0M466.5 154h0M472.5 148.5h0M468.5 153h0M464 150.5h0M465.5 145.5h0M466 150.5h0M469.5 153h0M470 151.5h0M464.5 144.5h0M465.5 151h0M471 151.5h0M468 145h0M468.5 154.5h0M464 145.5h0M470.5 151.5h0M469 148.5h0M464.5 149.5h0M464.5 144h0M470 141.5h0M469 141.5h0M464 149.5h0M466.5 142h0M467.5 145h0M468 151h0M465 148h0M470.5 149.5h0M466.5 145h0M467 147.5h0M465.5 146h0M470 145h0M465.5 150.5h0M472 150.5h0M471.5 144h0M463.5 146h0M466 145h0M467.5 144.5h0M469 143.5h0M468 144.5h0M472 147h0M466.5 144.5h0M470 151h0M464 148h0M471.5 146.5h0M472 143.5h0M469.5 150h0M464.5 153h0M465 152h0M472 148.5h0M466.5 150.5h0M468.5 147.5h0M465.5 142h0M466 153h0M467.5 150h0M467.5 153h0M473 146h0M471.5 149h0M469.5 151h0M471.5 143.5h0M467 153.5h0M470.5 149h0M470 147h0M470.5 146h0M471 150.5h0M469 153.5h0M465.5 143.5h0M468.5 154h0M464 146.5h0M470 152.5h0M464.5 147h0M469.5 146h0M469 146.5h0M465 145h0M467 141.5h0M471 146h0M464.5 145.5h0M469 147.5h0M465 150h0M466.5 146h0M469 152.5h0M468 141.5h0M471 144.5h0M467 144h0M465.5 149.5h0M469 149h0M466 152.5h0M464 148.5h0M465 143h0M469.5 144.5h0M466 154.5h0M469.5 150.5h0M471.5 152.5h0M464.5 150h0M467 142.5h0M467.5 155h0M468 146h0M472 145.5h0M470 148h0M466 150h0M469 144h0M467.5 154.5h0M472 151h0M465 153h0M468 143h0M471 151h0M484.5 151h0M483 147.5h0M487.5 153.5h0M487 150.5h0M488.5 151.5h0M486 147h0M485 149.5h0M490.5 148h0M480 150.5h0M480 149.5h0M481 149h0M485.5 150.5h0M481.5 146h0M482.5 150h0M484 149.5h0M490.5 149.5h0M483 148h0M487 149.5h0M484.5 154h0M491 152.5h0M487.5 146h0M488.5 154h0M483.5 146.5h0M481 148.5h0M491 149.5h0M483.5 148h0M485 154.5h0M488.5 148.5h0M485.5 148.5h0M490 147.5h0M490 149.5h0M483.5 154h0M491 151h0M491.5 147.5h0M487.5 148h0M483 149.5h0M488.5 152h0M486 152h0M491.5 149.5h0M484.5 149h0M483.5 151.5h0M487.5 148.5h0M488.5 147.5h0M483 151h0M489.5 149h0M486.5 147h0M488.5 146.5h0M487.5 150.5h0M484 146h0M485.5 153.5h0M484 152.5h0M489 153h0M484 148h0M485 152h0M492 151h0M490 152h0M486 154h0M482.5 150.5h0M483.5 149h0M486 150h0M482 149.5h0M487.5 145.5h0M490 149h0M479.5 147.5h0M485 146.5h0M481 152.5h0M490.5 147.5h0M492 149h0M488.5 153h0M486 149.5h0M491.5 151.5h0M490 150h0M484.5 146.5h0M483.5 145.5h0M487 148.5h0M486.5 152h0M486 146h0M487 147.5h0M485 153.5h0M481.5 147.5h0M485 148.5h0M484 151h0M486 145h0M488 150.5h0M487.5 149.5h0M481.5 148h0M482.5 145.5h0M489 152.5h0M491 147h0M482 151h0M489.5 147.5h0M484.5 153h0M486.5 149.5h0M480 150h0M483 151.5h0M491 151.5h0M482 150h0M482.5 152h0M480 151h0M482.5 154h0M481 150.5h0M488 151h0M489 150h0M488 148h0M482.5 151.5h0M492 148h0M485.5 149h0M481.5 150h0M475 164h0M482.5 167.5h0M468.5 169h0M480.5 168h0M468.5 168h0M470.5 168.5h0M479 169.5h0M474 169h0M470 169.5h0M465.5 167.5h0M476.5 169h0M482 167h0M467 165.5h0M469.5 164.5h0M470.5 165.5h0M467.5 166h0M479 167h0M473 167h0M469.5 166.5h0M481.5 168.5h0M471.5 165.5h0M469 168h0M474 170h0M471.5 165h0M480.5 166h0M475.5 168h0M481 168h0M470 164h0M467 166h0M476.5 164.5h0M477.5 164.5h0M472 167.5h0M474.5 167h0M473 170h0M475 166h0M472 167h0M471 169.5h0M476 164.5h0M465.5 166.5h0M476.5 167.5h0M470 169h0M474.5 169h0M471.5 170h0M482 166h0M480.5 169h0M476.5 170h0M468 169.5h0M472 165h0M467 168h0M466 167.5h0M475.5 165.5h0M474 170.5h0M467.5 166.5h0M472 166h0M466 167h0M477 166.5h0M471.5 164h0M472 164.5h0M470.5 170h0M467.5 165h0M476 167h0M466.5 167h0M479.5 165.5h0M470.5 166.5h0M477.5 166.5h0M475 168h0M477.5 168h0M476 170.5h0M467.5 169.5h0M481 168.5h0M480.5 168.5h0M477 169h0M465.5 166h0M470 168h0M471.5 168h0M479 170h0M469 170h0M470 166h0M479 166.5h0M480 165.5h0M470 165.5h0M469.5 164h0M482 168.5h0M468.5 167.5h0M471.5 166.5h0M478 168.5h0M473.5 165.5h0M480 166.5h0M478 164.5h0M481.5 168h0M471 168.5h0M475 170h0M476 170h0M454.5 161.5h0M455 160.5h0M454 162h0M456 163.5h0M454 161.5h0M457 163h0M456 161h0M457.5 162h0M455.5 160.5h0M454.5 163h0M456.5 162.5h0M456.5 160h0M453 162h0M454.5 162.5h0M453.5 160.5h0M454.5 162h0M417.5 209.5h0M417.5 206.5h0M418 207h0M418.5 205.5h0M417.5 209h0M420.5 207.5h0M419 207h0M418 208.5h0M418.5 207h0M417 208.5h0M419 209.5h0M419.5 206h0M417.5 210h0M417.5 208h0M419.5 209h0M418 206h0M420 210.5h0M419.5 207h0M421 208h0M419 211h0M425.5 247h0M424.5 244.5h0M425 245h0M424.5 246.5h0M424.5 246h0M423 246h0M423 246.5h0M464 147h0M467 146.5h0M467 145h0M467.5 145.5h0M466 145.5h0M467.5 148h0M465.5 151.5h0M464.5 147.5h0M465.5 148.5h0M467 147h0M464 147.5h0M465 146.5h0M465 150.5h0M465.5 144.5h0M468 147h0M467 146h0M468 150.5h0M467 151h0M466 146h0M466.5 148h0M464.5 145h0" stroke="#d6616b" stroke-width="1.7" stroke-linecap="round" fill="none"/>
<path d="M140 53.5h0M136 51.5h0M136 54.5h0M139 53.5h0M136 51h0M135.5 53h0M136.5 50.5h0M134.5 54h0M135 50h0M137 49.5h0M139.5 52.5h0M137 52h0M137.5 54h0M139.5 50.5h0M136.5 50h0M137 55h0M138.5 52h0M135.5 50.5h0M136.5 51h0M137 52.5h0M136.5 52.5h0M136.5 52h0M137 54h0M140 52.5h0M139 51h0M134.5 51h0M134.5 53.5h0M140 53h0M139 52.5h0M137.5 53h0M134.5 50.5h0M137 54.5h0M135 51.5h0M116.5 77h0M111.5 74h0M111.5 73.5h0M116 76h0M114.5 76.5h0M115.5 78h0M112 78.5h0M111 73.5h0M114.5 73h0M115.5 74.5h0M113.5 73h0M113 78h0M111 74h0M112 75h0M110 77h0M113 76.5h0M115.5 76h0M112.5 78h0M112.5 75.5h0M113 73.5h0M110 74h0M114.5 76h0M111 75.5h0M112 76.5h0M116 76.5h0M115.5 76.5h0M112 75.5h0M110.5 77h0M112.5 73h0M113.5 77.5h0M115.5 77h0M110 74.5h0M114.5 75h0M101 220.5h0M102.5 221h0M103 220.5h0M99.5 222h0M101.5 222h0M102.5 222h0M101 222.5h0M224.5 176h0M226.5 175.5h0M226 174h0M226 175.5h0M224 175h0M224.5 174.5h0M226.5 175h0M223.5 176h0M225 175.5h0M224.5 174h0M224 176h0M397 31h0M390.5 36h0M395 29.5h0M393.5 29.5h0M393 36.5h0M398 34h0M392.5 29h0M394.5 34h0M390 35h0M389.5 35h0M394 31h0M396 36h0M391 35.5h0M395 31.5h0M388 33.5h0M395 36.5h0M390.5 33h0M392.5 36.5h0M391.5 35h0M394 37h0M394 34.5h0M397.5 33.5h0M388 32.5h0M390.5 35h0M393.5 36.5h0M397 32.5h0M391 36.5h0M389.5 31.5h0M392.5 32h0M396 34h0M396 33.5h0M389 34.5h0M393 36h0M392 35.5h0M397 34h0M392.5 37h0M395 30.5h0M394.5 31h0M393 32h0M397 32h0M393.5 33h0M389.5 35.5h0M389.5 34.5h0M391.5 29.5h0M390 31h0M398 32.5h0M388.5 31.5h0M391 30h0M397.5 31.5h0M394.5 36h0M391.5 35.5h0M388.5 34.5h0M395.5 36h0M393 29h0M396 35.5h0M514.5 82h0M512 83.5h0M512.5 82.5h0M515.5 82h0M516 82.5h0M514 84h0M512.5 81h0M513.5 81h0M514 84.5h0M514 82.5h0M514 80.5h0M513.5 83.5h0M516 81h0M511.5 83.5h0M516 83h0M514 81.5h0M513.5 84.5h0M513 81h0M515.5 83.5h0M379.5 216h0M383 215h0M379.5 218.5h0M379 218.5h0M383 217.5h0M381 214h0M380.5 215.5h0M382 212.5h0M380 214h0M382 217.5h0M380.5 218.5h0M377 215h0M376 213.5h0M383.5 215h0M381.5 218h0M378 214.5h0M378.5 218.5h0M382.5 217.5h0M375.5 213.5h0M378 214h0M380 216h0M383.5 214.5h0M379 216h0M382.5 217h0M379 214h0M379 214.5h0M380 218h0M376.5 212.5h0M379 213h0M378.5 214.5h0M384 215.5h0M384 216.5h0M379.5 215.5h0M379.5 217.5h0M381 218h0M381.5 213.5h0M378.5 218h0M381 216h0M375.5 217h0M377 218h0M376.5 218.5h0M381.5 212.5h0M383.5 215.5h0M378 218h0M376.5 214.5h0M378 216h0M377.5 215h0M379 216.5h0M382.5 214h0M377 217h0M506 164h0M507 157.5h0M509 158h0M507 156.5h0M509.5 160h0M510 157.5h0M509.5 163h0M508 157h0M506.5 157.5h0M509.5 157.5h0M509.5 161h0M507.5 163.5h0M507 160.5h0M509.5 158.5h0M508 161.5h0M507 159.5h0M509.5 163.5h0M511 160.5h0M510 161.5h0M506 159.5h0M509 160.5h0M509.5 162.5h0M506 163h0M506.5 164h0M506.5 161.5h0M510.5 162h0M510 163.5h0M506.5 158.5h0M508 161h0M506.5 160h0M509.5 164.5h0M508.5 163.5h0M510 163h0M510 158.5h0M508.5 156h0M507 163h0M508.5 158h0M509 159.5h0M509.5 157h0M508.5 160h0M507.5 162.5h0M510 160.5h0M508 162h0M510 164.5h0M508.5 159.5h0M507.5 156.5h0M509.5 162h0M487.5 216h0M486.5 216.5h0M489 217h0M487 215.5h0M487.5 215h0M489 217.5h0M490 216h0M488 217.5h0M489.5 215h0M489 215.5h0M488.5 216h0M490 215.5h0M487.5 218h0M491 217h0M489 218h0" stroke="#bcbd22" stroke-width="1.7" stroke-linecap="round" fill="none"/>
<path d="M92 57.5h0M90.5 54.5h0M91.5 55h0M92 56h0M93 55.5h0M89 56.5h0M91.5 57.5h0M90 56h0M93 57h0M92.5 56.5h0M89.5 55.5h0M89 56h0M90 55.5h0M90.5 58h0M89.5 56h0M91 58h0M119.5 105h0M114 109h0M112.5 103.5h0M110 105h0M119 104h0M114 98.5h0M118 98.5h0M120 105.5h0M122 106h0M120 101.5h0M123 105h0M117 102.5h0M121.5 105.5h0M117 105.5h0M112.5 103h0M119.5 108h0M113.5 101.5h0M116.5 104h0M114.5 101.5h0M113.5 109h0M118 99.5h0M111 102.5h0M111 99.5h0M120.5 104h0M110.5 104h0M119 108h0M115 100.5h0M108.5 105h0M116.5 110h0M116.5 106.5h0M112 101.5h0M111 108h0M117 101.5h0M114 101h0M120.5 102h0M112 106.5h0M122.5 101.5h0M111 106.5h0M113.5 103.5h0M121.5 100h0M111.5 105.5h0M112 103.5h0M118.5 98.5h0M113 107.5h0M113 109h0M114.5 102h0M111 108.5h0M123 106.5h0M122.5 102h0M109.5 104h0M121.5 106h0M114.5 104h0M112 102.5h0M118 106.5h0M113 105.5h0M114.5 107h0M120.5 99.5h0M120.5 100.5h0M119.5 98.5h0M121 102h0M119 99h0M116 102.5h0M110.5 103h0M123.5 102h0M121 108h0M117.5 105.5h0M123.5 103.5h0M121 104h0M120 100h0M120 109h0M119 107h0M114 100h0M114 99.5h0M122.5 103h0M115.5 105h0M114 106.5h0M122 104.5h0M109.5 101.5h0M116 108.5h0M117.5 103.5h0M118 109h0M116.5 99.5h0M112 106h0M115 100h0M117 103.5h0M123 106h0M118.5 109h0M111.5 104h0M117 102h0M117.5 105h0M123 103.5h0M114.5 104.5h0M122 107h0M112 105.5h0M110.5 104.5h0M116.5 106h0M109.5 106.5h0M112 102h0M122.5 106.5h0M110 105.5h0M114.5 100h0M112 107.5h0M118 102.5h0M116.5 100.5h0M116.5 99h0M111 104h0M116 104.5h0M116.5 101.5h0M111.5 101.5h0M110.5 100.5h0M108.5 102.5h0M117 106h0M121 99.5h0M116.5 109h0M114.5 105.5h0M120.5 102.5h0M115.5 104.5h0M115 106h0M116.5 107.5h0M123 102.5h0M121.5 102.5h0M112 104h0M116 99.5h0M118 108h0M111 105.5h0M122 101.5h0M119 106h0M119 107.5h0M117.5 106.5h0M114.5 102.5h0M118 99h0M116.5 103h0M119 102h0M109 106.5h0M113 99h0M109 104.5h0M115 98.5h0M117.5 99.5h0M108 104h0M114 108.5h0M116.5 100h0M110.5 108h0M111.5 105h0M114 105.5h0M114 102h0M113.5 108h0M120 102.5h0M104.5 100.5h0M100.5 99.5h0M104 99h0M104 101h0M105.5 99h0M104.5 98h0M103 98h0M104.5 99.5h0M103 101h0M105.5 100h0M103 100.5h0M103 98.5h0M105.5 100.5h0M103.5 101h0M102.5 98.5h0M104.5 101h0M103.5 99.5h0M44 111.5h0M43 110h0M43.5 113h0M45 112.5h0M45 110h0M43.5 111h0M43 112h0M44 113h0M44.5 113.5h0M43 110.5h0M43.5 110h0M43 111.5h0M181.5 48h0M181.5 47h0M181 46.5h0M181.5 46.5h0M182 47.5h0M181 48.5h0M180.5 48h0M203 51h0M202.5 51h0M201 52h0M202 52h0M200.5 51.5h0M200.5 50.5h0M201 51h0M201 51.5h0M202 49.5h0M188 84.5h0M190.5 82.5h0M190.5 84h0M191.5 83.5h0M190.5 83.5h0M190 85.5h0M189 82h0M190 83h0M189 85h0M190 83.5h0M188.5 83h0M191.5 84h0M188.5 82.5h0M189.5 86h0M190 81.5h0M79.5 138h0M79.5 139h0M82 139h0M80.5 139.5h0M81 140.5h0M80.5 137.5h0M81 138h0M83 139.5h0M83.5 138.5h0M82.5 139.5h0M80.5 137h0M80 140h0M82.5 138h0M80 138h0M81.5 139.5h0M81.5 138h0M84.5 207h0M84 204.5h0M85.5 203h0M82.5 204.5h0M84.5 205.5h0M84 205.5h0M83 202.5h0M81.5 204h0M84.5 204h0M82.5 202h0M82.5 205.5h0M85 207h0M83 202h0M84 208h0M84.5 208h0M84.5 207.5h0M83.5 201h0M82 206.5h0M84 204h0M85 203.5h0M85.5 206h0M84 205h0M86 204h0M83 205.5h0M85 204h0M84 202h0M108 222.5h0M111.5 222h0M110 223h0M109 222h0M109.5 224.5h0M109 223.5h0M110.5 224h0M108 223h0M110.5 222.5h0M111.5 223h0M109 224h0M192.5 145h0M195 143h0M195.5 144h0M198 144.5h0M194 146h0M195.5 146.5h0M196.5 145h0M194.5 148.5h0M193 150h0M193.5 144.5h0M198 145.5h0M198.5 148h0M197 143.5h0M193 144.5h0M197.5 148h0M192 146h0M193.5 145h0M195.5 145h0M192.5 147.5h0M198 144h0M193.5 147.5h0M195.5 148.5h0M192 148.5h0M197.5 150h0M197.5 144.5h0M193.5 146.5h0M191.5 147.5h0M193 146h0M194.5 150h0M195.5 147h0M192.5 150h0M192 146.5h0M192 145h0M194.5 143.5h0M191.5 147h0M197 145h0M197.5 144h0M197.5 145h0M198 150h0M196.5 147h0M194 148h0M192.5 148.5h0M197 144.5h0M196.5 143.5h0M193 148.5h0M195 146.5h0M192.5 149.5h0M198 148h0M186 148h0M185 153.5h0M185.5 150.5h0M187 152h0M184.5 149h0M186.5 150.5h0M185.5 148h0M184 150.5h0M184 152h0M187 149.5h0M185 148.5h0M185 150h0M186.5 149.5h0M186.5 151.5h0M187 149h0M183.5 151.5h0M184.5 152h0M187.5 151h0M187 151h0M185.5 152h0M185.5 149h0M179.5 148.5h0M179.5 148h0M178 147h0M178.5 148h0M178 149.5h0M179.5 149h0M177.5 147.5h0M178.5 149h0M179 148h0M180.5 148h0M161.5 172.5h0M157 176h0M157.5 171.5h0M157.5 175h0M157 175h0M154.5 170.5h0M151 177h0M154.5 171.5h0M151 173h0M157.5 172.5h0M154.5 172.5h0M158 169.5h0M160 174h0M154.5 169.5h0M158.5 178.5h0M155.5 178h0M160 173h0M161.5 176h0M155 171.5h0M154.5 171h0M158.5 179h0M156.5 172.5h0M161 177h0M158.5 176.5h0M159.5 176.5h0M158 174.5h0M153 172h0M158.5 177h0M161.5 173.5h0M158 173.5h0M152 172h0M155 176.5h0M156 172h0M154.5 179h0M156 179h0M154 179h0M155.5 172h0M155 174.5h0M153.5 172h0M161 173.5h0M153.5 175h0M154.5 178.5h0M152 175.5h0M155 175.5h0M159 174.5h0M155.5 179h0M160 174.5h0M155.5 178.5h0M158 176h0M159 175.5h0M159.5 177.5h0M151.5 174.5h0M158 176.5h0M150.5 173h0M151.5 176.5h0M153.5 174.5h0M153 176.5h0M160.5 176.5h0M151.5 171.5h0M159 175h0M151 176h0M157.5 174.5h0M151.5 171h0M156 170h0M155.5 171h0M160 171h0M161.5 174.5h0M159 171h0M157.5 178h0M156.5 172h0M158.5 174.5h0M160.5 174.5h0M156 175.5h0M157.5 179h0M157.5 169.5h0M154.5 173.5h0M152.5 175.5h0M151 172h0M159.5 173.5h0M151.5 172h0M160.5 177h0M159.5 174h0M153.5 171.5h0M161 174h0M152.5 170.5h0M153 171h0M156 170.5h0M161 175h0M188.5 174h0M184 174h0M189 175h0M187 179.5h0M186.5 179h0M189 175.5h0M187.5 177.5h0M190 174.5h0M188 179h0M185 173h0M190 176h0M184 176h0M187 175h0M186 177h0M187.5 176h0M185.5 176.5h0M185.5 174h0M188 175h0M185.5 172.5h0M188.5 175.5h0M186.5 176.5h0M185.5 176h0M185.5 173.5h0M183.5 176.5h0M190 174h0M185 179h0M189 178h0M189.5 177.5h0M186 178.5h0M186.5 178h0M184 178.5h0M185 174h0M184 176.5h0M185.5 177.5h0M189.5 177h0M185 177.5h0M189.5 176.5h0M188 174h0M184 177h0M185.5 178h0M183.5 175.5h0M186 176.5h0M189 178.5h0M187.5 174h0M187.5 177h0M190 175.5h0M188 173h0M191 176.5h0M189 177h0M196.5 183h0M196.5 181.5h0M195 183h0M194 183h0M196 181.5h0M193.5 182h0M197 180.5h0M195 179.5h0M195.5 180h0M196 180h0M195.5 181.5h0M195 182.5h0M195.5 184h0M197 180h0M184 190.5h0M186.5 191.5h0M187.5 188.5h0M188 190.5h0M186.5 188.5h0M187.5 187.5h0M185 190.5h0M185.5 190h0M185 188.5h0M187 188.5h0M185 187.5h0M187.5 190.5h0M184.5 191.5h0M188 189.5h0M185.5 192h0M185.5 189h0M184 189h0M186 188.5h0M186 192h0M185.5 191.5h0M186.5 190h0M185 189.5h0M184 186.5h0M188 190h0M186.5 189.5h0M186 186.5h0M186.5 191h0M185.5 186h0M185 187h0M195.5 190.5h0M196 188h0M195 189h0M196.5 192h0M195.5 189h0M194 190h0M197.5 190h0M198 190.5h0M194.5 189.5h0M196 189.5h0M197 187.5h0M195.5 190h0M197 190.5h0M196.5 188.5h0M196.5 189h0M196 191h0M204.5 190h0M203.5 193h0M202 193h0M203 190.5h0M203.5 192.5h0M203 189h0M202.5 190.5h0M202 192.5h0M201 190h0M204 192h0M202 192h0M200.5 191.5h0M200.5 190.5h0M205 190.5h0M202 190h0M201.5 192.5h0M204 189h0M200 191h0M204.5 191h0M182 204h0M181.5 204.5h0M185.5 203.5h0M183.5 203h0M182.5 203h0M181.5 205.5h0M180.5 204h0M182 205h0M181 204h0M182.5 203.5h0M182.5 204h0M180.5 205h0M182.5 205h0M180.5 204.5h0M183.5 204h0M186 205h0M184.5 204h0M154 174h0M157.5 172h0M153.5 176.5h0M153 177h0M156.5 177h0M156 178h0M153.5 175.5h0M160 176h0M153 176h0M156 176h0M156 177.5h0M158 172h0M157 172h0M159.5 176h0M153.5 176h0M157.5 176h0M158.5 171.5h0M156 175h0M153 174h0M155 177h0M156.5 175h0M158.5 174h0M155 174h0M153 175h0M157 174.5h0M157 173.5h0M158 178h0M154.5 174h0M157.5 173.5h0M155.5 172.5h0M157 171.5h0M154 176h0M154 175.5h0M156.5 174.5h0M156.5 176h0M152.5 175h0M193 149.5h0M191.5 148h0M189 148.5h0M188.5 151.5h0M189.5 147.5h0M187.5 147h0M187 150.5h0M184 148h0M186 147.5h0M190.5 148.5h0M191 147.5h0M191 145.5h0M191.5 145h0M190 149h0M191 145h0M187 150h0M189.5 151.5h0M188.5 151h0M185 148h0M192 147h0M191.5 146.5h0M185 149h0M190 146h0M190.5 151.5h0M188 147.5h0M187.5 150h0M186 150h0M191 147h0M190 151h0M184.5 146.5h0M187.5 147.5h0M191 146h0M193 147h0M188.5 148.5h0M189 146h0M186.5 147.5h0M189.5 148h0M193.5 149.5h0M190 149.5h0M186 146.5h0M193 146.5h0M186 146h0M186.5 150h0M188.5 145h0M185 146.5h0M189.5 145.5h0M188 146.5h0M184.5 148.5h0M188 151.5h0M188 152h0M187 174.5h0M189 176.5h0M188 182h0M189 176h0M190 181h0M185.5 180.5h0M187 183h0M187 178h0M188 176h0M184.5 181h0M188.5 177.5h0M190 180h0M186 181.5h0M190 178.5h0M186.5 182h0M190.5 178h0M187.5 184h0M188 181.5h0M190.5 180.5h0M190 177h0M188 177h0M186 180.5h0M190.5 176.5h0M188.5 182h0M189.5 175.5h0M188 181h0M188.5 178h0M186.5 183h0M184.5 180.5h0M186.5 176h0M189 181h0M188 180.5h0M185 182.5h0M190.5 179h0M189 179h0M184 179.5h0M186.5 184h0M186 176h0M185 176h0M184.5 175.5h0M185.5 175h0M186.5 174.5h0M187 180.5h0M187.5 175.5h0M184.5 177.5h0M185 176.5h0M185.5 182.5h0M187 176.5h0M190.5 177h0M190 180.5h0M187 182h0M190.5 180h0M340 52h0M341.5 52h0M340 52.5h0M339.5 53h0M340.5 51.5h0M339.5 52.5h0M371.5 196.5h0M371 197.5h0M371 198h0M374 198.5h0M373 199.5h0M375 195.5h0M372.5 198h0M373.5 200.5h0M373.5 199.5h0M374 194h0M374 199.5h0M375.5 196h0M373.5 193.5h0M372 195h0M373 198h0M372.5 199h0M373 194h0M371.5 195h0M371.5 195.5h0M373.5 199h0M373.5 197h0M374 200.5h0M371.5 198.5h0M372 195.5h0M372 197h0M372 199h0M374 201h0M374 195.5h0M373.5 198.5h0M375 194.5h0M469.5 183.5h0M469.5 181.5h0M473 183h0M468 186.5h0M470 187.5h0M470 189h0M470 180h0M473 185.5h0M471 183.5h0M469 189.5h0M471 187.5h0M472.5 183h0M471.5 191h0M473 187h0M470.5 183h0M471.5 181.5h0M468.5 186.5h0M470.5 189.5h0M471.5 181h0M472.5 188.5h0M470.5 183.5h0M470 183.5h0M468 184.5h0M470.5 180h0M468.5 185.5h0M473.5 183h0M471.5 184.5h0M473.5 184h0M473 189h0M471 185.5h0M471.5 190.5h0M471 189.5h0M473 187.5h0M469 187.5h0M469 184.5h0M472.5 183.5h0M470 189.5h0M468.5 184h0M471.5 184h0M471 179.5h0M470 184h0M473.5 183.5h0M471.5 185.5h0M472.5 189.5h0M471 186.5h0M469.5 190h0M471 181h0M469 187h0M470 179.5h0M468 183.5h0M473.5 186h0M473.5 188h0M469.5 187.5h0" stroke="#637939" stroke-width="1.7" stroke-linecap="round" fill="none"/>
<path d="M102.5 67.5h0M100 66.5h0M101 64.5h0M100.5 66.5h0M103 67h0M99.5 66h0M101.5 65.5h0M102.5 66h0M102.5 64h0M102.5 67h0M101 67.5h0M102 66h0M99.5 65.5h0M368.5 206h0M369 208h0M367.5 209h0M367.5 206h0M368.5 207h0M366.5 207h0M367.5 208h0M368 205h0M366.5 208.5h0M367 209h0M367 206.5h0M368 209h0" stroke="#e7cb94" stroke-width="1.7" stroke-linecap="round" fill="none"/>
<path d="M88 68.5h0M87.5 70.5h0M87.5 66.5h0M87 70.5h0M88.5 68h0M88 67h0M91 69.5h0M87.5 69.5h0M86.5 68.5h0M89.5 68.5h0M89 68.5h0M88 69h0M88 67.5h0M88 70h0M86 68.5h0M87 70h0M88.5 66.5h0M87 68h0M89 69.5h0M89.5 70h0M86.5 67h0M87 69h0M85.5 67.5h0M90.5 68.5h0M89.5 66h0M91.5 69.5h0M154.5 40.5h0M154 42.5h0M154 40.5h0M154 40h0M154.5 42.5h0M131.5 167.5h0M127.5 171h0M125.5 168.5h0M131.5 178.5h0M131 176.5h0M141.5 167.5h0M133.5 165h0M140.5 161h0M126 171h0M133 160h0M134 162h0M138 166h0M144 164.5h0M135.5 167h0M134 167h0M139 165.5h0M121.5 166.5h0M141.5 173.5h0M128 167h0M131 162.5h0M137 177.5h0M129.5 178h0M142.5 167h0M127 167.5h0M141 167h0M127.5 172h0M125.5 161h0M132.5 173.5h0M140 173.5h0M128 162h0M124 165h0M128 174.5h0M130.5 174h0M134 159.5h0M129.5 176.5h0M129 170h0M139 163h0M124 165.5h0M138.5 171h0M130.5 170h0M135 162h0M121.5 166h0M135.5 163h0M141.5 162.5h0M135 168h0M138.5 171.5h0M131 166.5h0M130.5 178.5h0M134.5 178.5h0M139 175.5h0M130 162h0M132.5 164h0M136.5 164h0M128 172.5h0M123.5 175.5h0M136.5 173h0M134.5 166.5h0M124.5 174.5h0M131 174.5h0M136.5 162.5h0M142 175.5h0M144 172h0M124.5 163h0M129 175.5h0M127 168h0M139 161h0M129 164h0M125 171.5h0M136.5 177.5h0M122 172h0M129 160h0M138.5 166.5h0M142 161.5h0M133.5 170.5h0M141.5 166.5h0M143.5 165.5h0M141 166.5h0M127 176h0M128.5 161.5h0M125.5 172h0M136.5 160.5h0M144.5 169.5h0M136 165h0M126 162.5h0M141.5 168.5h0M140 165.5h0M143.5 173.5h0M128 169h0M125.5 175h0M126 164h0M134 163.5h0M140 166.5h0M125.5 174h0M142.5 166h0M144 166h0M135 171h0M140 172h0M123.5 169h0M141 163.5h0M136 171h0M133.5 172.5h0M137.5 173h0M134.5 159.5h0M141 174h0M126.5 162.5h0M142.5 166.5h0M134 164.5h0M127.5 161.5h0M134.5 175h0M141.5 176.5h0M138 162.5h0M138 167h0M128 163h0M128 176.5h0M132 173h0M125 165h0M130 163.5h0M134 166.5h0M146.5 169h0M132.5 165h0M132.5 165.5h0M143 174.5h0M131 168h0M127.5 174.5h0M137.5 173.5h0M140.5 174h0M136.5 165.5h0M134 170h0M138 160.5h0M141.5 167h0M139.5 175h0M132 171h0M131 169h0M137 162h0M143 175.5h0M129 174h0M123 166h0M138 163.5h0M137 165h0M132 163h0M135 173.5h0M138 161.5h0M143 167.5h0M143 163.5h0M123.5 173h0M140 170.5h0M142.5 163.5h0M126.5 177.5h0M133 172.5h0M132.5 168h0M133 175h0M123.5 170h0M127.5 172.5h0M132 175h0M140 169h0M126 172.5h0M132 164.5h0M130 171.5h0M141.5 163h0M128.5 161h0M145 171h0M139.5 170h0M127.5 175.5h0M142.5 174h0M141.5 172.5h0M127.5 169h0M135.5 160.5h0M125 168.5h0M124.5 172h0M136 177.5h0M134.5 172h0M140.5 168h0M141 176.5h0M138.5 164h0M131 162h0M143 165.5h0M129 173.5h0M136 173h0M145 170.5h0M131 171h0M143 173.5h0M136.5 170.5h0M133 170.5h0M132 165h0M141.5 169h0M144.5 170.5h0M120.5 170h0M142.5 175.5h0M132 169.5h0M143 172h0M134.5 164h0M139 177h0M126 161.5h0M141.5 161h0M126.5 167h0M122 171.5h0M125.5 176.5h0M136.5 164.5h0M144 164h0M123.5 170.5h0M143.5 167h0M122.5 168h0M143.5 164h0M144 173h0M123.5 167h0M125 171h0M121 169.5h0M142.5 171.5h0M127.5 162.5h0M130 166h0M139.5 169h0M121.5 172.5h0M131 163h0M146 167.5h0M136 163.5h0M143 175h0M137.5 168.5h0M125 176h0M130 164h0M137 174.5h0M142.5 169h0M136.5 171h0M134.5 171h0M134 168.5h0M141.5 171.5h0M140 166h0M130.5 161.5h0M125.5 173.5h0M126.5 171h0M134 160h0M144 172.5h0M139 162.5h0M125.5 165h0M122.5 173h0M141 167.5h0M130.5 172.5h0M143 171.5h0M136 164.5h0M134 172h0M122 165h0M121.5 168h0M135.5 161h0M137.5 165.5h0M128 173h0M133 175.5h0M137 160h0M123.5 166h0M133.5 173.5h0M131.5 170.5h0M140 162.5h0M141 177h0M127 174h0M132.5 163h0M141 169h0M131.5 164.5h0M124.5 171.5h0M131.5 176h0M129 174.5h0M131 175h0M130.5 177h0M122.5 169h0M144 170h0M129.5 176h0M128.5 164h0M128.5 176.5h0M143.5 170.5h0M135.5 164.5h0M135.5 175h0M129.5 166h0M145.5 166.5h0M131 173h0M127.5 177h0M126 167.5h0M129 159.5h0M125 168h0M129 162h0M124.5 170h0M143.5 168.5h0M134.5 176h0M127.5 175h0M124 166.5h0M135 174h0M136.5 177h0M128.5 176h0M145 172.5h0M141 169.5h0M140 172.5h0M141.5 161.5h0M128 165.5h0M140 177h0M131.5 172.5h0M139.5 170.5h0M140 164h0M140 163.5h0M131.5 160.5h0M138.5 165h0M125 167.5h0M127.5 173h0M126 169.5h0M133 169.5h0M139 173.5h0M131.5 173.5h0M143.5 164.5h0M133 177.5h0M132.5 172h0M141.5 170h0M135.5 173.5h0M125.5 168h0M145 166h0M128 164.5h0M122.5 170.5h0M130 175h0M139 166h0M138 166.5h0M139.5 166h0M135 168.5h0M134.5 177h0M126.5 172h0M140.5 177h0M136 176h0M142 168.5h0M122.5 165.5h0M137.5 169h0M136.5 178h0M129 166h0M127.5 173.5h0M137.5 168h0M122 171h0M126.5 177h0M144.5 165.5h0M128 167.5h0M137.5 163.5h0M142.5 168.5h0M136.5 160h0M126.5 174.5h0M134 169.5h0M126.5 167.5h0M143 167h0M125.5 170h0M144 170.5h0M144 173.5h0M132.5 170.5h0M139.5 163.5h0M130 170.5h0M121.5 173h0M140 165h0M122 167h0M137.5 174.5h0M131 159h0M133.5 172h0M135 174.5h0M136.5 159h0M130.5 173.5h0M142 172h0M140.5 165.5h0M137 170.5h0M144.5 169h0M131 166h0M132.5 161h0M135 171.5h0M122.5 171.5h0M138.5 172.5h0M127 177.5h0M135.5 169.5h0M132.5 160h0M132.5 175.5h0M131.5 174h0M127.5 169.5h0M137 164.5h0M142.5 164.5h0M127.5 164.5h0M126 162h0M126.5 173h0M129 165h0M135.5 177h0M129.5 168.5h0M146 170h0M135.5 167.5h0M124 169h0M131 176h0M123 167h0M137.5 160.5h0M125 174.5h0M138 177h0M135 163.5h0M123 172.5h0M132 169h0M128.5 160.5h0M142.5 146h0M143 144h0M140.5 144.5h0M141.5 145h0M142.5 142h0M142.5 145h0M140 143.5h0M144 145h0M145 144h0M139.5 144.5h0M145.5 144.5h0M140.5 145h0M142.5 144.5h0M144.5 145.5h0M142.5 141.5h0M143 146h0M141 144.5h0M144 146.5h0M141.5 144.5h0M143 145.5h0M140 144h0M141.5 142h0M143.5 141.5h0M140.5 142.5h0M141.5 146.5h0M143.5 144h0M154.5 147.5h0M150.5 144.5h0M157 144h0M149.5 141.5h0M152 148.5h0M155.5 144h0M149.5 144h0M155.5 148.5h0M151 144.5h0M147.5 143h0M153 140h0M146 143.5h0M160 144h0M161 142.5h0M153.5 145.5h0M153.5 146.5h0M146 142.5h0M148 146.5h0M147 143h0M151.5 141h0M159 145h0M158 141.5h0M158.5 141h0M153 144h0M152 143h0M146 144h0M151 138h0M149.5 148h0M158.5 145.5h0M157 147h0M160.5 138.5h0M159.5 140.5h0M150.5 141h0M150 139.5h0M157 148.5h0M158 147.5h0M155.5 138h0M159.5 145.5h0M154.5 146h0M151 139.5h0M157.5 145.5h0M151 148.5h0M159 138.5h0M150 141.5h0M159 146h0M155 148h0M154 146.5h0M158.5 139h0M153.5 144.5h0M162 141.5h0M151.5 143h0M156.5 139.5h0M150 138h0M148 139.5h0M148 141.5h0M162.5 141.5h0M157 147.5h0M151.5 148h0M161.5 146.5h0M151.5 147h0M151 142h0M161.5 142h0M161 146.5h0M155 147h0M149 146.5h0M157 143.5h0M154.5 145h0M150.5 146h0M153.5 147.5h0M154.5 148.5h0M161 143h0M154 144h0M154 140h0M149.5 146.5h0M152 147h0M158 142.5h0M156 146h0M157.5 142h0M155 139.5h0M158 141h0M158.5 148h0M157.5 143h0M156 147.5h0M156 142h0M159.5 143h0M153.5 140.5h0M147.5 141h0M151.5 138h0M152.5 147h0M158 148.5h0M148.5 140h0M148.5 139.5h0M150.5 142.5h0M151 137.5h0M155.5 140.5h0M150 143.5h0M150.5 141.5h0M155.5 145h0M156 145h0M155 142.5h0M150.5 139h0M150.5 142h0M149.5 141h0M162.5 144h0M163 144h0M153.5 139.5h0M159.5 141h0M153 139.5h0M156 145.5h0M150 145.5h0M148 140.5h0M158 146h0M151.5 141.5h0M161 145.5h0M154 147.5h0M153.5 149h0M148.5 140.5h0M158 138.5h0M158 139.5h0M159 139.5h0M153 142h0M156 141h0M146.5 142h0M152 140h0M151 141.5h0M158 137.5h0M157 140h0M151 148h0M158 138h0M160.5 144h0M156 146.5h0M162 143.5h0M158.5 140.5h0M160 139.5h0M158.5 144.5h0M149 138h0M152 139h0M162.5 143.5h0M159 144h0M148 146h0M160.5 145h0M158.5 143h0M150 144.5h0M146.5 143h0M146 140.5h0M145.5 142h0M146 142h0M160.5 147h0M155.5 142h0M159.5 138.5h0M155.5 140h0M152.5 143.5h0M152.5 146h0M157.5 140h0M148.5 147h0M155 144h0M146.5 142.5h0M147.5 139h0M159 147h0M146.5 145h0M147.5 142.5h0M160 145h0M147.5 146h0M156.5 142.5h0M143.5 143.5h0M151.5 139h0M142.5 142.5h0M154 137.5h0M162 140h0M149 140.5h0M140.5 141h0M151.5 145h0M154 134h0M157.5 142.5h0M146.5 136.5h0M154.5 138.5h0M149.5 146h0M151 135.5h0M141.5 142.5h0M153 146h0M140.5 139h0M155 141.5h0M155 135h0M143.5 138.5h0M153.5 148.5h0M141 137h0M141 144h0M156.5 136.5h0M144 141h0M144.5 142h0M141.5 145.5h0M157.5 137.5h0M151.5 144h0M156 143.5h0M153.5 142.5h0M156 140.5h0M159.5 138h0M148.5 142h0M146.5 141h0M147 136.5h0M147 146h0M149.5 147h0M158 147h0M145.5 139h0M147.5 138h0M161 144h0M162 143h0M155 141h0M163 138.5h0M156 144.5h0M142 142.5h0M162 144.5h0M161.5 136.5h0M140 142.5h0M151.5 138.5h0M153 144.5h0M157 139.5h0M145.5 141h0M150 137h0M159 143h0M140.5 143h0M155.5 148h0M149 137.5h0M156 136h0M163 141h0M153 147h0M147 139h0M155 135.5h0M159 146.5h0M159.5 137h0M151 141h0M162 142.5h0M150.5 144h0M153 136.5h0M161.5 140h0M151.5 140.5h0M141.5 141h0M158.5 143.5h0M162.5 142.5h0M154 137h0M143 141h0M152.5 145h0M158 142h0M153 148.5h0M156.5 134.5h0M161.5 138.5h0M160 136h0M144 144h0M149 140h0M157.5 139h0M151 135h0M144.5 140.5h0M147 139.5h0M147.5 139.5h0M149 148h0M148 145.5h0M152 146.5h0M163 139h0M159 140h0M164 139.5h0M142 137.5h0M140 141h0M148 135h0M156.5 143.5h0M154.5 143.5h0M141.5 137.5h0M148 142.5h0M148 148h0M154.5 136h0M149 134.5h0M164 138.5h0M146 146.5h0M152.5 146.5h0M143.5 143h0M142 144.5h0M142 143h0M154 135h0M140.5 140.5h0M142 145h0M150.5 145.5h0M149.5 135h0M152 144.5h0M162.5 137.5h0M152 137h0M144.5 142.5h0M146.5 146.5h0M161 140.5h0M152.5 144.5h0M150.5 134.5h0M153.5 136h0M143.5 136h0M142 142h0M153 145.5h0M155 144.5h0M149 134h0M148.5 143.5h0M151.5 147.5h0M158 135.5h0M149 146h0M148.5 139h0M150.5 136.5h0M157 134.5h0M150 142h0M145 145h0M161.5 141.5h0M158 135h0M157.5 136.5h0M149 147.5h0M144.5 136.5h0M160.5 136.5h0M149 136.5h0M145.5 137h0M152.5 144h0M150 138.5h0M151 138.5h0M143.5 139.5h0M152 136h0M150.5 139.5h0M155 145h0M154 139.5h0M149.5 137h0M145.5 143.5h0M157.5 147.5h0M149.5 138h0M149 139.5h0M141 137.5h0M150 135h0M156 147h0M164 141.5h0M155.5 134.5h0M144.5 145h0M143 137.5h0M154 135.5h0M143 138.5h0M157 145.5h0M147 144h0M142.5 136h0M151 146.5h0M153 136h0M142.5 138h0M148 143h0M141.5 138h0M161 138.5h0M160 139h0M151 147h0M150.5 138h0M155 134h0M156 142.5h0M140.5 138h0M160 144.5h0M157 144.5h0M160 137h0M162.5 139.5h0M154 134.5h0M145 136.5h0M147 146.5h0M161 141.5h0M155.5 146.5h0M150 147h0M163.5 140h0M147.5 137.5h0M156 138h0M147.5 140h0M161 135.5h0M160.5 141h0M145 139.5h0M143 143h0M154 142.5h0M156 148h0M149 145h0M148.5 136h0M141 143h0M158.5 140h0M155.5 144.5h0M147.5 141.5h0M142 137h0M148 139h0M145.5 138h0M151.5 137h0M146 138h0M156 134h0M150.5 146.5h0M148.5 144h0M159 141h0M163 141.5h0M154 140.5h0M148 141h0M159 143.5h0M157.5 141h0M147.5 144h0M143.5 139h0M160.5 140.5h0M156 139.5h0M146 137.5h0M153 141h0M159.5 135.5h0M146.5 145.5h0M151.5 139.5h0M150 140.5h0M153.5 146h0M149 139h0M161 140h0M160 138.5h0M147.5 145h0M161 137.5h0M153 143.5h0M153.5 134h0M145.5 145h0M155.5 135.5h0M155.5 145.5h0M162.5 142h0M146.5 140h0M143 137h0M146.5 143.5h0M152.5 148h0M161.5 143h0M155 145.5h0M160.5 139h0M147 140.5h0M155 146.5h0M147 145h0M147 142.5h0M151.5 135h0M134.5 170.5h0M132.5 167h0M130 170h0M127 172.5h0M140 171h0M135 176h0M132 170.5h0M137.5 166h0M131.5 170h0M133 173.5h0M133.5 163.5h0M134.5 165.5h0M134.5 172.5h0M137.5 170.5h0M139 165h0M129 165.5h0M134.5 169h0M135.5 174.5h0M128.5 167h0M131.5 176.5h0M137.5 167.5h0M139 169h0M132.5 169.5h0M132.5 169h0M135.5 176.5h0M142 171.5h0M127 168.5h0M138.5 173h0M130 165h0M128 171.5h0M135.5 170h0M130.5 168h0M139 168h0M130.5 172h0M128 170.5h0M133 164.5h0M139 174h0M132 167.5h0M134 165.5h0M127.5 168.5h0M137 175.5h0M138.5 169.5h0M129 172h0M133 174.5h0M140.5 173h0M132 176h0M134 169h0M134.5 174.5h0M136.5 163.5h0M133.5 174.5h0M133.5 163h0M131 164h0M130 168h0M138.5 174h0M140 171.5h0M132 163.5h0M135.5 171h0M137.5 164.5h0M131.5 175h0M139 164h0M139 172.5h0M129 171h0M135.5 172.5h0M137 173.5h0M130 167.5h0M129 167.5h0M138 172h0M131.5 172h0M126.5 169.5h0M132.5 164.5h0M137 174h0M136.5 176.5h0M140 174.5h0M140.5 172.5h0M131 174h0M137.5 174h0M128.5 173.5h0M135.5 175.5h0M138.5 168h0M135.5 174h0M133.5 170h0M138 171.5h0M131.5 166.5h0M133 174h0M140 168h0M135 172h0M129.5 169.5h0M131.5 168.5h0M131.5 164h0M137 168.5h0M133.5 164.5h0M127 170h0M129.5 174h0M130.5 173h0M131.5 165h0M129 167h0M127.5 167.5h0M140 167h0M132.5 174h0M139.5 165.5h0M133 168h0M130 172h0M136 163h0M129.5 170.5h0M130.5 167.5h0M134 175h0M133 171.5h0M133.5 164h0M136.5 167h0M139 172h0M138.5 173.5h0M135 176.5h0M140.5 166h0M142 169h0M139.5 172.5h0M138 164.5h0M138.5 174.5h0M132 166h0M133 164h0M128.5 174.5h0M139.5 169.5h0M137 167.5h0M137 176.5h0M130.5 169h0M131 171.5h0M132.5 163.5h0M133 121.5h0M134.5 119h0M134.5 117.5h0M135 119.5h0M133.5 119h0M133.5 121h0M133.5 118.5h0M134.5 120.5h0M134 120.5h0M134 121h0M134 119h0M135 118.5h0M135 121.5h0M133.5 117.5h0M134 123h0M133.5 120.5h0M135 122h0M134.5 123.5h0M393 61.5h0M393 64h0M393 62.5h0M394 63.5h0M393.5 62h0M394.5 62.5h0M448 132h0M448 134.5h0M445 133h0M444.5 132h0M443.5 133h0M443 134h0M449.5 133h0M447.5 133h0M446.5 134.5h0M444.5 134h0M443 132h0M447.5 135h0M447 134.5h0M446.5 132h0M447.5 132.5h0M444.5 133h0M449 134h0M448.5 134.5h0M444 132h0M444 134h0M445.5 133.5h0M444 134.5h0M444.5 131.5h0M446 134h0M446.5 135.5h0M447.5 131h0M444.5 135h0M447 131h0M446.5 131h0M449 132.5h0M447 134h0M389 177.5h0M398 161.5h0M390 163h0M397 159.5h0M397.5 180h0M390 161h0M398.5 160.5h0M400 163.5h0M388 168.5h0M388.5 164.5h0M406.5 162.5h0M394.5 159h0M393 165h0M391.5 165.5h0M402.5 161h0M403 159.5h0M389.5 164h0M391 162.5h0M398.5 172.5h0M393 172.5h0M397.5 160.5h0M391.5 175h0M408 164h0M400 179h0M407 167h0M406.5 174h0M403.5 166.5h0M397.5 167h0M393.5 164.5h0M400 168.5h0M392.5 173h0M406.5 163h0M405.5 166h0M402 165h0M394.5 161h0M390.5 175.5h0M397 160h0M394.5 181.5h0M390 172.5h0M393 173h0M401 159h0M399 171.5h0M406.5 161h0M390 177h0M391 167.5h0M401 166h0M400 160h0M388 176h0M398.5 178h0M390 167.5h0M400.5 158h0M400.5 159h0M392 177h0M396 181.5h0M395.5 174.5h0M403.5 177h0M407 176.5h0M402 162.5h0M405.5 171h0M397.5 178h0M398.5 182.5h0M390.5 173h0M408 170h0M405 172h0M387.5 165h0M390.5 164h0M399.5 168h0M403 164.5h0M389.5 163.5h0M400 181h0M399 163h0M392 170h0M387.5 167.5h0M395.5 179h0M396 168.5h0M395.5 171h0M394 176.5h0M398 177.5h0M402.5 160h0M393 159.5h0M400.5 177h0M390 176.5h0M403 179.5h0M409.5 172h0M393 167h0M406.5 177.5h0M394 169h0M400.5 172h0M393 160.5h0M400 176.5h0M398.5 167.5h0M392.5 162.5h0M391 168.5h0M386 168h0M391.5 181h0M393 175.5h0M393.5 167h0M405.5 171.5h0M403 170.5h0M403.5 168h0M403.5 180.5h0M405 177h0M391.5 167.5h0M401.5 162h0M387.5 174.5h0M391.5 166h0M395.5 176h0M395.5 177.5h0M396.5 168h0M404.5 168.5h0M392 172h0M396 169h0M394.5 166h0M395.5 177h0M389.5 176h0M386.5 167.5h0M390.5 165h0M402.5 171.5h0M386 172h0M391.5 161.5h0M399 173.5h0M398.5 173.5h0M409 173.5h0M406.5 164h0M392 168h0M407.5 166.5h0M403 158.5h0M392 171.5h0M389 173.5h0M398.5 159.5h0M395 180h0M407 174.5h0M396.5 160h0M404 170.5h0M393.5 178h0M402.5 168.5h0M393.5 175h0M390.5 177.5h0M392.5 167h0M405 168.5h0M399.5 177.5h0M393.5 163h0M402.5 164h0M396.5 166.5h0M393 180h0M389.5 169.5h0M398 180.5h0M396 161.5h0M403.5 169.5h0M399 157.5h0M390 172h0M402 172.5h0M402.5 179.5h0M409 172.5h0M386.5 173.5h0M398.5 177h0M391 163.5h0M390 161.5h0M387 166h0M398 158h0M401 170.5h0M389.5 164.5h0M403.5 172.5h0M405 173h0M400.5 165h0M400.5 158.5h0M395 177.5h0M403 164h0M397.5 170.5h0M387.5 165.5h0M395 158.5h0M407.5 176h0M395 157.5h0M390.5 179h0M404 167h0M392.5 159.5h0M408.5 170.5h0M398.5 158h0M405.5 160.5h0M407 173h0M398.5 174h0M407 166h0M390.5 170.5h0M398.5 162.5h0M388.5 174.5h0M395.5 172.5h0M390.5 175h0M390 165h0M391 175.5h0M392.5 163h0M404 177h0M389.5 166h0M392.5 162h0M406.5 176.5h0M404.5 171.5h0M401.5 169.5h0M407.5 172h0M390.5 174.5h0M401.5 157.5h0M389.5 170h0M406.5 175h0M407.5 163h0M395.5 163h0M387 172h0M392 173h0M402 167h0M394.5 178.5h0M406 161h0M405.5 173h0M404 174.5h0M398.5 161h0M398 171h0M398.5 175h0M405.5 165h0M395.5 169.5h0M399 176h0M392.5 170h0M393.5 182h0M396.5 171h0M403 167h0M400.5 167h0M402 178h0M396.5 170.5h0M408.5 166h0M389.5 174.5h0M398.5 162h0M392 178h0M407.5 174.5h0M389 178.5h0M402 176h0M399 175h0M399 179.5h0M394 176h0M400.5 175h0M393 170h0M401 158.5h0M388.5 162.5h0M402.5 171h0M400 181.5h0M394.5 164.5h0M388 164.5h0M400 167.5h0M403 168h0M400 170.5h0M405 178.5h0M401 172.5h0M393.5 174h0M408.5 175h0M406.5 172h0M406.5 171.5h0M403 162h0M388.5 167h0M404 177.5h0M404 164.5h0M390 175h0M391 170.5h0M390.5 176.5h0M391 164.5h0M393.5 167.5h0M396 172.5h0M392.5 175.5h0M403.5 163h0M394.5 174h0M404.5 178h0M400 164.5h0M408 171.5h0M403.5 175.5h0M386 170h0M407 165.5h0M395 170.5h0M403 176h0M400 177.5h0M406.5 174.5h0M390.5 169.5h0M399.5 180.5h0M403 167.5h0M401 159.5h0M391.5 172.5h0M401.5 176h0M399.5 160.5h0M395.5 168h0M401 160.5h0M389 163h0M405 179h0M393 165.5h0M389 161.5h0M395.5 170.5h0M392 166h0M407 164h0M390 170h0M403 172h0M403.5 159.5h0M404.5 159.5h0M409.5 166.5h0M390 170.5h0M399.5 165.5h0M408 176h0M388.5 170.5h0M402 174h0M402 158h0M395.5 181.5h0M398.5 176.5h0M394 170.5h0M393.5 173h0M394.5 173.5h0M395.5 161h0M401 180h0M389 167.5h0M389 178h0M403.5 176h0M393.5 160h0M393.5 172.5h0M407.5 177.5h0M402 177h0M395 167h0M407.5 165h0M408 167h0M405.5 165.5h0M409 169.5h0M402 180.5h0M401 158h0M404.5 180h0M391.5 176.5h0M393 166h0M390 175.5h0M391.5 168.5h0M388.5 166h0M403.5 170h0M399.5 159.5h0M397.5 157.5h0M392 159.5h0M404.5 165h0M400.5 181h0M401.5 164.5h0M399 164.5h0M402 181h0M404 165.5h0M406 174h0M397.5 166h0M400.5 170.5h0M386.5 169.5h0M404.5 179.5h0M396 182h0M396 165h0M398.5 163h0M398.5 170h0M397 161.5h0M400 180.5h0M399 162h0M393.5 158.5h0M405 162h0M390 178.5h0M400 171.5h0M402.5 177.5h0M401 163.5h0M392 160h0M405 166h0M408.5 166.5h0M398 164.5h0M398 157h0M399 176.5h0M391.5 176h0M397.5 180.5h0M402.5 181.5h0M401 162.5h0M388 170h0M407 178h0M394 165.5h0M400 166h0M391 159h0M398.5 165.5h0M405.5 168h0M407 171.5h0M391.5 162h0M399.5 167h0M404.5 169h0M395.5 182.5h0M397 161h0M408 167.5h0M393.5 159h0M390.5 162h0M406 176.5h0M393.5 180h0M403 170h0M389.5 172h0M403.5 159h0M401.5 177.5h0M406 161.5h0M391.5 164h0M403.5 173.5h0M396.5 157h0M391.5 159.5h0M403.5 171.5h0M400 165.5h0M391.5 167h0M403.5 173h0M398 179.5h0M406 163h0M389 171h0M401.5 166h0M391 175h0M401 168h0M406.5 165.5h0M406.5 162h0M404.5 175h0M409 170h0M393 181h0M392 168.5h0M392.5 177.5h0M394.5 165h0M402 163h0M387 166.5h0M396.5 180.5h0M405.5 162.5h0M399.5 180h0M399.5 169.5h0M389.5 173.5h0M398.5 169h0M391.5 168h0M402 166.5h0M400.5 179.5h0M406.5 169.5h0M392.5 160h0M402 170h0M398 168.5h0M393.5 165.5h0M398 173.5h0M394 158.5h0M409.5 170.5h0M402.5 165h0M392.5 176h0M388 163h0M391 160h0M397.5 181h0M393 159h0M401 176h0M405.5 170.5h0M387 175h0M394 177h0M399 172.5h0M399.5 175h0M408.5 169h0M394 165h0M399.5 161h0M395 173h0M400.5 166.5h0M397 173h0M403.5 168.5h0M397 177h0M404 176.5h0M394 159.5h0M408.5 168.5h0M409 170.5h0M394 178h0M404.5 173h0M391.5 169h0M390 162h0M398 166.5h0M399 172h0M407.5 169.5h0M405.5 174h0M403 175.5h0M396.5 167.5h0M395 172h0M393 168h0M396.5 179h0M405.5 160h0M399 165.5h0M400 178h0M391 170h0M395 163.5h0M409 172h0M405 162.5h0M397 166h0M397.5 174h0M395 160.5h0M406 171h0M403.5 160h0M400.5 175.5h0M393.5 180.5h0M404.5 161.5h0M394 170h0M381.5 225h0M381.5 225.5h0M382 225.5h0M382 226h0M381.5 226h0M450 148h0M460 143.5h0M454.5 154.5h0M459.5 145h0M450.5 139h0M451.5 131.5h0M441.5 148.5h0M442.5 143.5h0M455 145.5h0M440 141h0M444 149.5h0M447 137h0M445.5 146.5h0M449 148h0M454 144.5h0M443 148h0M443.5 148h0M453.5 150.5h0M448.5 138.5h0M447.5 144.5h0M450 146h0M446.5 131.5h0M448.5 154h0M441 150.5h0M440 147h0M438.5 139.5h0M449 158.5h0M449 140.5h0M446.5 144h0M449.5 149.5h0M436 148h0M445 137h0M442.5 133h0M443 141h0M440.5 138h0M458.5 145h0M444.5 141h0M457 149.5h0M442 156h0M449.5 138h0M459.5 147h0M451.5 148h0M450.5 138.5h0M457.5 140.5h0M442 155h0M454.5 152h0M450 143h0M440.5 137h0M449 141h0M453.5 148.5h0M450.5 136.5h0M446 146.5h0M443 136.5h0M453 157.5h0M453.5 156.5h0M454 149.5h0M449.5 154.5h0M439.5 142.5h0M455 144h0M442 153.5h0M456 144.5h0M440.5 152.5h0M447 149.5h0M441.5 137.5h0M446 138h0M454.5 144h0M448.5 149h0M438.5 140h0M446 151h0M451 143.5h0M449 137.5h0M443 156h0M455 153h0M444 152.5h0M446.5 145.5h0M451 143h0M443 137.5h0M442 140h0M443 140.5h0M451.5 141h0M450.5 156.5h0M439 139.5h0M442.5 157h0M459 149h0M456 135h0M445 157.5h0M456 153h0M445 135.5h0M455 145h0M442.5 157.5h0M436 143.5h0M453 150.5h0M449.5 137.5h0M453 155h0M455 150.5h0M459.5 145.5h0M456 136.5h0M450.5 134h0M442.5 138h0M454 152h0M452.5 152.5h0M454.5 151.5h0M448.5 142.5h0M454.5 141h0M444.5 139h0M445 138h0M452 145h0M450.5 148.5h0M449 158h0M438 151h0M436 148.5h0M439.5 144.5h0M457 146.5h0M450 147h0M457 144h0M440 143.5h0M450.5 137h0M442.5 148h0M441.5 135h0M455.5 146.5h0M443.5 141h0M449 154h0M456 137.5h0M458 150h0M441 146.5h0M445.5 151.5h0M449.5 153h0M441.5 152.5h0M447.5 152.5h0M456.5 152.5h0M440.5 150h0M447.5 150h0M457 153h0M445.5 154h0M447.5 149.5h0M456 153.5h0M452 132h0M444 151h0M444 133h0M456 151h0M439.5 147h0M457 138h0M452.5 152h0M443.5 150h0M447.5 141.5h0M444 153h0M459.5 140h0M450.5 138h0M438 144.5h0M455.5 138h0M447 151h0M449.5 150h0M452 143.5h0M458.5 144h0M446 142h0M458 140.5h0M444.5 137.5h0M446.5 134h0M453.5 149h0M438 137h0M444 155.5h0M444.5 150.5h0M439 137.5h0M454.5 137.5h0M449.5 154h0M456 150h0M455 147h0M450 133h0M445.5 132h0M457.5 150.5h0M445.5 140h0M456.5 152h0M451.5 133.5h0M446 136h0M446 158h0M444 147h0M449 137h0M453 154h0M445 135h0M449 150.5h0M455 156h0M447.5 148h0M443.5 152.5h0M441.5 138h0M443 155.5h0M456.5 140.5h0M442 145.5h0M447.5 141h0M447 138.5h0M446.5 148.5h0M445.5 138.5h0M440.5 154.5h0M440.5 146h0M441 147h0M443 150h0M448.5 145h0M443.5 145h0M440 153h0M447 157.5h0M454.5 140h0M452.5 156.5h0M443 139.5h0M437.5 138h0M449 131.5h0M457 136.5h0M447.5 136h0M456 149h0M447.5 135.5h0M450.5 140h0M453.5 140h0M457 146h0M451 133.5h0M452 132.5h0M449 142h0M448 145.5h0M453 151h0M453 154.5h0M449 138.5h0M452 144h0M453 149.5h0M448.5 148.5h0M436 146h0M446 149h0M438.5 140.5h0M447.5 154.5h0M450.5 150.5h0M442.5 141.5h0M447.5 140h0M437 143h0M437.5 147h0M458.5 147h0M457 154h0M450 151h0M444.5 139.5h0M453.5 145.5h0M454 136.5h0M439.5 144h0M454 143.5h0M452 156h0M447 148h0M445 140h0M448 146.5h0M450 142h0M453 150h0M447.5 158h0M450.5 154h0M440 144h0M445.5 156.5h0M452 147h0M445 141.5h0M447 133h0M440 141.5h0M449 153.5h0M444.5 150h0M447.5 140.5h0M437 148h0M441 154h0M437 139.5h0M448.5 147h0M453 140h0M447.5 156h0M446.5 140h0M455 141.5h0M439 138h0M457 150h0M454 138.5h0M447 137.5h0M451 154h0M444.5 149h0M440 143h0M452.5 147h0M446 155.5h0M451 157.5h0M438 138.5h0M445 154.5h0M438.5 153h0M438 149.5h0M445.5 150.5h0M443.5 147h0M457.5 143.5h0M441.5 147.5h0M446.5 150.5h0M451 148.5h0M444 137.5h0M444.5 142h0M442 150h0M457.5 152h0M448 153h0M446.5 133h0M450 155h0M455 146h0M444.5 153h0M449.5 141.5h0M443 144.5h0M441 146h0M453 146h0M448.5 158h0M457.5 136h0M455 137.5h0M454 134h0M451 145h0M447 139h0M446 133.5h0M452.5 157h0M454.5 148.5h0M441 147.5h0M455 154h0M440 136.5h0M438.5 141.5h0M452.5 154.5h0M439 142h0M440 139h0M452 153h0M449.5 148.5h0M440 147.5h0M456 138.5h0M443.5 138h0M452 149.5h0M448 153.5h0M451 137h0M448 143.5h0M440.5 142h0M440 148h0M450.5 134.5h0M448 151.5h0M451.5 150.5h0M451.5 143.5h0M443 140h0M455 135h0M442 140.5h0M438.5 145.5h0M437.5 146h0M446.5 142.5h0M444.5 140.5h0M444.5 155h0M449 155h0M452 139.5h0M448.5 136.5h0M452.5 147.5h0M456.5 141h0M440 137h0M442 152h0M437.5 143h0M445.5 140.5h0M443.5 135h0M440 146.5h0M443.5 143.5h0M447 139.5h0M455.5 134.5h0M451 154.5h0M447.5 137.5h0M438 153.5h0M438 144h0M450 154h0M437.5 141h0M451 140.5h0M454.5 136h0M459 142h0M448 139.5h0M446.5 157.5h0M446.5 156h0M441 139h0M450.5 133h0M451.5 155.5h0M450.5 150h0M459.5 147.5h0M447.5 144h0M451 152h0M443.5 157.5h0M439.5 149h0M449 133h0M446 142.5h0M439.5 154.5h0M441.5 134.5h0M453 133h0M456.5 142.5h0M450.5 142.5h0M440.5 137.5h0M453.5 141h0M439 144h0M448.5 141.5h0M445.5 147h0M453.5 155h0M456.5 144h0M454 137h0M452.5 138h0M443 135h0M449 136.5h0M447.5 153h0M449 156h0M451 144h0M446.5 145h0M458 150.5h0M436.5 145.5h0M456 141.5h0M457.5 153.5h0M460.5 144.5h0M447 135.5h0M451 158h0M443 151.5h0M452 151.5h0M443 132.5h0M457 137.5h0M443.5 132.5h0M452.5 142h0M437 140h0M450.5 154.5h0M455.5 136.5h0M439 154h0M440 155.5h0" stroke="#ffbb78" stroke-width="1.7" stroke-linecap="round" fill="none"/>
<path d="M126 75h0M125 75h0M127.5 74h0M124 75h0M128 75.5h0M127 76h0M124.5 75h0M126 73h0M124.5 74h0M125.5 77.5h0M125 76h0M126.5 73.5h0M127.5 76h0M124.5 76.5h0M126.5 73h0M127.5 75h0M116 89h0M115.5 87.5h0M115.5 88h0M118.5 88h0M116.5 86.5h0M119 87.5h0M119 89.5h0M114.5 88h0M116.5 87h0M115 88h0M117 89h0M117.5 88.5h0M117.5 87h0M114.5 89h0M116.5 90h0M115.5 89h0M116.5 89.5h0M81 99h0M80 98h0M81 101h0M80 100.5h0M81.5 100.5h0M79 99.5h0M79 101h0M79.5 100.5h0M80 98.5h0M80.5 101h0M82 99.5h0M96 102.5h0M96 102h0M96 100h0M95.5 100.5h0M95 100h0M94 101.5h0M97 102h0M96 101h0M93.5 101h0M95.5 101.5h0M75 113h0M77.5 116h0M76.5 114.5h0M78.5 115h0M77.5 114.5h0M78.5 113.5h0M77.5 112.5h0M79 114h0M76.5 112.5h0M75 115.5h0M77 113.5h0M74.5 113.5h0M78 115h0M78 112.5h0M76 114h0M74.5 114.5h0M68 118h0M70.5 116h0M69 116h0M70 117.5h0M71.5 117.5h0M70 117h0M68 117.5h0M68.5 118h0M68.5 118.5h0M71 118.5h0M68.5 116h0M70.5 117.5h0M70 119h0M97.5 110h0M101 110h0M100.5 110.5h0M100.5 109.5h0M97.5 110.5h0M98 110h0M97 112h0M99.5 110.5h0M96.5 110h0M100.5 110h0M99.5 109.5h0M99 108.5h0M97.5 109.5h0M98.5 109.5h0M98 110.5h0M99 110h0M101.5 116.5h0M103 117h0M103 114.5h0M103 117.5h0M103 116.5h0M102.5 115h0M102.5 115.5h0M101.5 115h0M101.5 116h0M101.5 117.5h0M101 116h0M62.5 91h0M63.5 90h0M62 91h0M64 90.5h0M63 92.5h0M63 91.5h0M147.5 34.5h0M148.5 34h0M148.5 35.5h0M149 35h0M211 75.5h0M208.5 77h0M207.5 76h0M210 77.5h0M209 75.5h0M208.5 75.5h0M208.5 77.5h0M209 77h0M209 77.5h0M211.5 75h0M211.5 76.5h0M208.5 74.5h0M206 75.5h0M208 76.5h0M211 75h0M208 74h0M210 74h0M205.5 76h0M209.5 77.5h0M210.5 75h0M209.5 77h0M209 75h0M212.5 75.5h0M208.5 76h0M223.5 83h0M223.5 81.5h0M223 81.5h0M224 83h0M200 90.5h0M200 93.5h0M202.5 91h0M203 92.5h0M203 91h0M205 90.5h0M200 91h0M204.5 91h0M205.5 93h0M202 94.5h0M200.5 94.5h0M203 89.5h0M202 92h0M206 93.5h0M199.5 91.5h0M202 91h0M203.5 94.5h0M204.5 93h0M205 94h0M201 90h0M200.5 92.5h0M199.5 93.5h0M200.5 89.5h0M201.5 91.5h0M205.5 90.5h0M205 92h0M201.5 92.5h0M206.5 92h0M203.5 94h0M204 91.5h0M203 94h0M204 90.5h0M199 92.5h0M203 94.5h0M203 95h0M212 107.5h0M212 106h0M212 107h0M211 106h0M212.5 107.5h0M213.5 105h0M212.5 106h0M220 128h0M220.5 128.5h0M222.5 128.5h0M220.5 127h0M222.5 129h0M220 129h0M220.5 129h0M221.5 127.5h0M220.5 129.5h0M219 128.5h0M220.5 130.5h0M221 130.5h0M221.5 127h0M228 129h0M227 131.5h0M229 131.5h0M230 131h0M229 131h0M228 130h0M227.5 129.5h0M228.5 129.5h0M229 130h0M228 131h0M229 130.5h0M79.5 178h0M81.5 178h0M80.5 176.5h0M80 179h0M80 177h0M80.5 177.5h0M88 190.5h0M85.5 191h0M85.5 190.5h0M86.5 191h0M88 191.5h0M86.5 192h0M66.5 185.5h0M67 186h0M66.5 186h0M68 184.5h0M67 186.5h0M67 185.5h0M79 186.5h0M79 186h0M77.5 188.5h0M78.5 187h0M77.5 186h0M79 188h0M79.5 187h0M77.5 169h0M76 169h0M78 169.5h0M76.5 169.5h0M76 170.5h0M77 168.5h0M77 170.5h0M105.5 209.5h0M106 209h0M105.5 210h0M107.5 210h0M107 210.5h0M107 209.5h0M105 209.5h0M116.5 216h0M115.5 217.5h0M114 216h0M116 215.5h0M115 217h0M114 217h0M130 216.5h0M130.5 218.5h0M130.5 217.5h0M130 217h0M129.5 216.5h0M129 218h0M133 224h0M135 222.5h0M134.5 223h0M134.5 224.5h0M133.5 224h0M134.5 222.5h0M110 202.5h0M110 203h0M107.5 201h0M108.5 201.5h0M109 201h0M108 200.5h0M108 202h0M114.5 208.5h0M114.5 208h0M114.5 207h0M114.5 207.5h0M115 208.5h0M113 207.5h0M128 183.5h0M128 184h0M125.5 183h0M127 183h0M128 183h0M127.5 182.5h0M170 177h0M168.5 176.5h0M169.5 176.5h0M167 176h0M169 173.5h0M169.5 176h0M169 176h0M170.5 175h0M168.5 176h0M171 175h0M169.5 174.5h0M168.5 174h0M168.5 175.5h0M167.5 173.5h0M167 175h0M229 183.5h0M227 184h0M228.5 184h0M229 185h0M227.5 185h0M429 154.5h0M429.5 154h0M431.5 154h0M431 154h0M431 152.5h0M429.5 155.5h0M430.5 154h0M430 156h0M431.5 153h0M428.5 152.5h0M430.5 153.5h0M430 155.5h0M429 156h0M431 155h0M431 153.5h0" stroke="#e7969c" stroke-width="1.7" stroke-linecap="round" fill="none"/>
<path d="M76 83.5h0M74.5 81h0M76.5 82h0M75.5 84h0M74 80.5h0M76 80h0M75.5 83.5h0M74.5 82.5h0M76 83h0M76.5 80h0M75 79.5h0M75.5 83h0M71.5 197.5h0M71.5 197h0M69.5 196.5h0M70 195.5h0M69.5 197h0M71.5 196.5h0M70.5 197.5h0M428 145h0M429 146h0M429 143.5h0M427.5 144.5h0M428 144h0M429 144.5h0M428.5 145.5h0M429.5 145h0M429 145.5h0M429 144h0M430.5 146h0M430.5 145.5h0M428 144.5h0M450.5 171.5h0M450.5 170.5h0M449.5 172h0M452 170.5h0M453.5 172h0M453 171.5h0M452 171.5h0M452 170h0M450 171h0M452.5 171.5h0M449.5 173.5h0M455.5 171.5h0M454 172h0M452 171h0M453 171h0M449.5 173h0M449.5 170h0M453 173h0M449.5 171h0M448.5 170.5h0M452 172.5h0M450.5 173.5h0M455 171.5h0M448 171.5h0M450 173h0M448.5 172h0" stroke="#7b4173" stroke-width="1.7" stroke-linecap="round" fill="none"/>
<path d="M86.5 85.5h0M86.5 84.5h0M88 85.5h0M88.5 84h0M87 85h0M220 119h0M218 119h0M218.5 118h0M218.5 117.5h0M220 118h0M218.5 120.5h0M218 120h0M219 119.5h0M218 119.5h0M223 121.5h0M224.5 120.5h0M223 120.5h0M224 121.5h0M235.5 138h0M236.5 141h0M235.5 139.5h0M234.5 140h0M235 139h0M236 141.5h0M236.5 139h0M235 138.5h0M315 112.5h0M314.5 115h0M315 114h0M315.5 115h0M315 113.5h0M315.5 112.5h0M311.5 113.5h0M313.5 112.5h0M313 113h0M423 69.5h0M420 67.5h0M424 69.5h0M423 65.5h0M422.5 69h0M422.5 68.5h0M422 69.5h0M424 71h0M423.5 70h0M424.5 68h0M424.5 66h0M423.5 65h0M424.5 70h0M423 66.5h0M420 70.5h0M423 68h0M426 68h0M421 69.5h0M425.5 68.5h0M424.5 69h0M423.5 69h0M420.5 67.5h0M419.5 68.5h0M426.5 70h0M421 66.5h0M423 69h0M423.5 68.5h0M423.5 71h0M423 70h0M424 65.5h0M419.5 69h0M420 68h0M423.5 71.5h0M425.5 69h0M419.5 68h0M424.5 67h0M421 65.5h0M421 71.5h0M426 70.5h0M424 68.5h0M421.5 67.5h0M424.5 70.5h0M421 70.5h0M426.5 68.5h0M430 67h0M431.5 66h0M432 66.5h0M432 67h0M431 67.5h0M431.5 67h0M430.5 66h0" stroke="#ff7f0e" stroke-width="1.7" stroke-linecap="round" fill="none"/>
<path d="M98 87.5h0M93 89h0M90 89h0M94 89.5h0M96 85.5h0M93 87h0M90.5 84.5h0M96.5 84h0M100 87h0M93 83.5h0M92.5 86h0M90.5 85h0M96.5 86h0M91 88.5h0M100.5 86h0M97.5 90.5h0M99.5 87.5h0M99.5 85.5h0M99 86h0M91.5 90h0M98.5 88h0M94.5 84.5h0M99 88.5h0M97 90h0M92 87h0M95 82.5h0M91 90h0M98.5 89h0M95 88.5h0M94.5 87.5h0M92.5 84h0M93 85h0M91 86.5h0M93 85.5h0M93.5 82h0M99.5 85h0M93.5 85.5h0M97 91h0M95.5 88.5h0M94.5 88.5h0M93.5 89h0M99 84.5h0M95.5 83h0M93 87.5h0M99 83.5h0M98.5 88.5h0M95 83h0M100 85.5h0M91.5 89.5h0M93 90.5h0M92.5 90.5h0M93 88h0M89.5 85.5h0M98.5 86.5h0M98 86h0M91.5 85h0M93.5 86.5h0M95 89.5h0M98.5 86h0M98 88h0M99.5 88h0M95 91h0M101 87.5h0M89.5 87h0M91.5 86.5h0M96 84h0M90 86.5h0M97 87h0M93.5 87h0M92 88.5h0M94 84.5h0M91 85h0M89.5 84.5h0M96.5 87h0M93 88.5h0M93 90h0M99 84h0M95 85.5h0M100.5 88h0M98 86.5h0M97.5 86h0M96.5 90h0M91 84h0M94.5 84h0M95.5 85h0M94 90h0M92.5 82.5h0M95 90.5h0M94.5 85h0M90.5 91.5h0M88.5 91h0M90.5 92h0M88 92.5h0M92.5 92.5h0M89.5 92.5h0M89 92h0M92 92h0M89.5 91h0M92 91h0M91 92.5h0M92 92.5h0M89 94h0M90.5 91h0M90.5 92.5h0M90.5 93h0M89.5 93h0M89 93h0M93 92h0M52 127h0M53 128h0M54.5 128.5h0M54 130.5h0M52.5 129.5h0M51 127h0M52.5 130.5h0M51.5 130.5h0M54 129h0M54 127.5h0M51 129h0M53.5 128.5h0M53.5 127h0M53 126.5h0M52 131h0M49.5 129h0M52 130.5h0M431.5 225.5h0M433 215.5h0M437 220h0M428 223.5h0M433.5 217h0M432.5 222.5h0M434 223h0M431 217.5h0M430 223h0M436.5 224h0M435.5 223h0M430.5 216h0M428 219h0M428.5 222.5h0M428.5 223.5h0M435.5 221.5h0M437.5 219h0M435 224h0M436 222.5h0M436.5 217h0M433.5 224.5h0M429 225h0M434 216h0M436 218h0M430.5 221h0M435 217.5h0M434.5 217.5h0M432 215.5h0M431 223.5h0M436.5 220.5h0M431 222.5h0M433 217.5h0M436.5 218.5h0M433 221.5h0M434 220h0M429.5 222h0M433.5 216h0M437.5 221.5h0M430 222h0M431.5 221h0M431 216h0M427 218.5h0M430 217h0M437 223h0M430.5 224h0M428 221.5h0M433.5 220.5h0M433 227h0M436.5 221h0M429 220h0M434.5 218h0M432.5 216.5h0M437.5 221h0M432 221.5h0M430 217.5h0M428.5 219h0M430 223.5h0M429 219h0M433 219.5h0M433.5 225.5h0M430.5 225h0M431 218h0M428.5 221.5h0M429 222.5h0M437 223.5h0M428.5 218.5h0M438.5 220h0M432.5 215.5h0M432.5 218.5h0M429.5 219h0M432.5 220.5h0M433 225h0M436.5 222h0M429 224h0M433 221h0M436 220.5h0M430 220h0M432.5 224.5h0M434 218h0M428.5 221h0M434 215.5h0M428 218.5h0M435 222h0M430.5 223.5h0M438 219h0M431 221.5h0M431 219h0M432.5 217.5h0M436.5 223h0M436.5 223.5h0M429.5 225.5h0M432 227h0M433.5 218.5h0M433 225.5h0M432.5 225h0M429 220.5h0M434.5 226h0M434 225h0M436.5 224.5h0M435 216h0M438.5 221.5h0M428.5 217h0M429.5 222.5h0M438 222h0M434.5 216.5h0M430.5 220h0M428.5 220.5h0M431.5 218h0M437.5 220h0M429 221.5h0M420 233.5h0M421.5 233.5h0M422 232h0M420 233h0M423 232.5h0M419 233h0M423.5 231.5h0M422.5 236.5h0M419 235h0M420.5 233.5h0M419.5 235h0M420 236h0M421.5 232h0M424 235h0M420.5 230.5h0M421 232.5h0M423 233.5h0M421 234.5h0M419 234h0M421 233h0M423.5 234.5h0M422.5 230.5h0M424 233h0M421.5 230.5h0M419.5 233.5h0M423.5 232h0M423.5 233h0M422.5 233.5h0M421.5 235.5h0M420 236.5h0M440.5 197h0M437 199h0M440 195.5h0M439.5 198.5h0M438 202.5h0M439.5 196h0M434 209.5h0M435 203.5h0M436.5 202h0M436 205.5h0M442 193h0M437 200h0M441.5 196h0M436.5 203h0M441 192h0M438 199.5h0M440.5 198.5h0M435 206.5h0M440.5 192.5h0M433.5 209.5h0M435 211h0M438 196.5h0M438.5 194h0M440 194h0M437.5 205.5h0M437.5 207.5h0M438 203.5h0M434.5 211h0M441 194h0M436 203h0M437 208h0M441 196.5h0M438 201.5h0M439 200.5h0M436.5 204.5h0M435.5 205h0M436 211.5h0M440 197.5h0M434.5 210h0M437.5 196h0M437.5 198.5h0M439.5 193.5h0M439.5 197h0M435.5 209h0M435 208.5h0M438.5 199h0M436 209.5h0M437 203.5h0M433.5 211.5h0M436.5 205.5h0M439.5 195.5h0M439 195h0M439 199h0M435.5 205.5h0M434.5 210.5h0M437.5 199.5h0M434.5 204.5h0M439 196h0M435.5 203h0M441.5 192.5h0M440 191.5h0M433 210.5h0M435.5 210.5h0M436.5 205h0M440 196.5h0M435.5 207.5h0M436 205h0M435 210h0M432.5 211.5h0M440 192h0M439 199.5h0M434.5 205h0M439 203h0M439.5 199.5h0M436.5 208.5h0M437 201.5h0M442 195h0M436.5 200h0M436 206.5h0M441.5 194h0M434.5 211.5h0" stroke="#ad494a" stroke-width="1.7" stroke-linecap="round" fill="none"/>
<path d="M132.5 88.5h0M138 86.5h0M133.5 87.5h0M128 87h0M128.5 87h0M135.5 86h0M133 89.5h0M129.5 85.5h0M131 89h0M136 87h0M139 85h0M129.5 89h0M136.5 86.5h0M132 88h0M136 86h0M141 86.5h0M131 85h0M127.5 86.5h0M140 88h0M132 85.5h0M138.5 88.5h0M131.5 85.5h0M131 88.5h0M134 88h0M136.5 88.5h0M135 84h0M136.5 85h0M139 87.5h0M137 88h0M139 88.5h0M132 88.5h0M135 87h0M132 86.5h0M135 88h0M137.5 86h0M134 87h0M138.5 86h0M138 87.5h0M127.5 87h0M133.5 85h0M129.5 85h0M139.5 87h0M133 87h0M133.5 87h0M135.5 88h0M132.5 89h0M134 89.5h0M136.5 89.5h0M138.5 87h0M133 84.5h0M131 84.5h0M134.5 86h0M137 85.5h0M140 85h0M130 85h0M135.5 85h0M134.5 88.5h0M133 89h0M132 84h0M131.5 84.5h0M134 85.5h0M132 87h0M132.5 85h0M130.5 87.5h0M140.5 88h0M194 75.5h0M195 74.5h0M194 76h0M142.5 190h0M139 185.5h0M137 189.5h0M137 188.5h0M142 192h0M139.5 187.5h0M145 190h0M138.5 190.5h0M136.5 188.5h0M143 192h0M136.5 189.5h0M139 186h0M143.5 191h0M143 186h0M138 189.5h0M136 189h0M138.5 191h0M137.5 187h0M140.5 192h0M144.5 190h0M139.5 186h0M143.5 189.5h0M138 186.5h0M140 191h0M140 192.5h0M137.5 190.5h0M140.5 192.5h0M140 185h0M139 191h0M141.5 184.5h0M141 189.5h0M141 192h0M140.5 187h0M144.5 186.5h0M142.5 188h0M140 185.5h0M139 188h0M141 190h0M137.5 189h0M140.5 185.5h0M137 188h0M140 192h0M141.5 191.5h0M136.5 187h0M143 190.5h0M137.5 186.5h0M143.5 185.5h0M143 187.5h0M138.5 188h0M142.5 185.5h0M144 187h0M139.5 184.5h0M136.5 190.5h0M139.5 190.5h0M137 189h0M143.5 187.5h0M144 190.5h0M140.5 186h0M143.5 189h0M135 123.5h0M135.5 122.5h0M135 123h0M136 123.5h0M135.5 124h0M135 124.5h0M393 93.5h0M389.5 93.5h0M389 94.5h0M388 93.5h0M393.5 95.5h0M391.5 95.5h0M390 94.5h0M387.5 94.5h0M390.5 96h0M392 95h0M390.5 94.5h0M393 96.5h0M390.5 95.5h0M392.5 94h0M390.5 93.5h0M391.5 94.5h0M387 95.5h0M389 93.5h0M393.5 95h0M388 94h0M392 94.5h0M393 95h0M394 96h0M387.5 95.5h0M389.5 95h0M392.5 95.5h0M393 97h0M389 97h0M392 96h0M392.5 96h0M394 94h0M502 199h0M505 197h0M504.5 193.5h0M506.5 194.5h0M502 194h0M504 195.5h0M500.5 199h0M502 196.5h0M500 199h0M502 200h0M505 200.5h0M501.5 196.5h0M500 195.5h0M501 198.5h0M500 196.5h0M500.5 199.5h0M503.5 200.5h0M501.5 197h0M503.5 197h0M499.5 196.5h0M504.5 194h0M503.5 194.5h0M506.5 195.5h0M508 196h0M502 195.5h0M505.5 196h0M507 196h0M501 198h0M505.5 198h0M502 198.5h0M500.5 198.5h0M505 195.5h0M504.5 196h0M506.5 199.5h0M504.5 196.5h0M500.5 197.5h0M501 196.5h0M506 195.5h0M505 194h0M507 197.5h0M500 197.5h0M505.5 197.5h0M507.5 195h0M503.5 196h0M503 195h0M505 197.5h0M505.5 200h0M501 195.5h0M506 196h0M506 194h0M503 194.5h0M506 196.5h0M506 200.5h0M504.5 195.5h0M504.5 198.5h0M508 197.5h0M503.5 194h0M501 199.5h0" stroke="#393b79" stroke-width="1.7" stroke-linecap="round" fill="none"/>
<path d="M111.5 84h0M109 85h0M111.5 83.5h0M111 85h0M110.5 83h0M107.5 83.5h0M108.5 84h0M109 83.5h0M108.5 83h0M108.5 84.5h0M108.5 85h0M186 69.5h0M183.5 72.5h0M188.5 71.5h0M186 70.5h0M187 74h0M184.5 72h0M186 74.5h0M187.5 72.5h0M184 73h0M186 73h0M185 71.5h0M186 73.5h0M186.5 70.5h0M186 72.5h0M186.5 73h0M187 73.5h0M183.5 71.5h0M184.5 73h0M184.5 72.5h0M188.5 73.5h0M184.5 74.5h0M184 72.5h0M184.5 70h0M209 113.5h0M209 113h0M207.5 113.5h0M211 112h0M211 114h0M210.5 113h0M208 114.5h0M211.5 114h0M212 114h0M212.5 113h0M210.5 111.5h0M210.5 113.5h0M208.5 113.5h0M208 114h0M211 113h0M208.5 112.5h0M205.5 121h0M203.5 121h0M205 120.5h0M206 123h0M205 119h0M207.5 118.5h0M207 120h0M206.5 118.5h0M207.5 121h0M205.5 122h0M202.5 121.5h0M205.5 118h0M206 121.5h0M207 119h0M205.5 120h0M203.5 118h0M205 118h0M203.5 124h0M207 125h0M207 121h0M206.5 125.5h0M207.5 120h0M207.5 124h0M206 124.5h0M203.5 123h0M207 121.5h0M207 123h0M204 123h0M206.5 123h0M205 123.5h0M207 125.5h0M204 122h0M207.5 119.5h0M203.5 125h0M205.5 125h0M204 124h0M206.5 120.5h0M207.5 123.5h0M207.5 122h0M204.5 121h0M204.5 119h0M204 120.5h0M203 118.5h0M63.5 158h0M63.5 159h0M64.5 159.5h0M63.5 159.5h0M63 159h0M127.5 150.5h0M127 150.5h0M123.5 152h0M124.5 150h0M128 150.5h0M126 151h0M126 151.5h0M128.5 150.5h0M129 151h0M125 151h0M129 152h0M129 152.5h0M123 152.5h0M123.5 151h0M130 151.5h0M126 153h0M125 151.5h0M177.5 159h0M179.5 158h0M178 159h0M178.5 158.5h0M179 159.5h0M179.5 160h0M177.5 156.5h0M177.5 161h0M179 160.5h0M178.5 159h0M179.5 157h0M178.5 161h0M177.5 158.5h0M179 161h0M179 157.5h0M178 160.5h0M178.5 160h0M214.5 175h0M214.5 174.5h0M214 176h0M213.5 175h0M214.5 174h0M214.5 176.5h0M176.5 157.5h0M176.5 158h0M175 158.5h0M177 157.5h0M175.5 157.5h0M175.5 158h0M203.5 119h0M204 120h0M203.5 120h0M203.5 121.5h0M203.5 122h0M203 120.5h0M204 123.5h0M203.5 122.5h0M140 137.5h0M139.5 138h0M137.5 137h0M139.5 137.5h0M138 138.5h0M139 138h0M140 136h0M139.5 136.5h0M140 137h0M138 137.5h0M138 135h0M130 151h0M129.5 150h0M130.5 150.5h0M131.5 149.5h0M129 149.5h0M122.5 151.5h0M132.5 150.5h0M132.5 151h0M133 151h0M132 151h0M129.5 151.5h0M133.5 150h0M133.5 150.5h0M131.5 151h0M127 151h0M131 149.5h0M132.5 150h0M132 150.5h0M353.5 103h0M354.5 103h0M352 103.5h0M352.5 104h0M353 102h0M350 104h0M351.5 102h0M354 102h0M351 102h0M352.5 103h0M351 103h0M350.5 104h0M354 104h0M352 102.5h0M448.5 63.5h0M447.5 64.5h0M447.5 67.5h0M445.5 67.5h0M446.5 68.5h0M443.5 65.5h0M443.5 67h0M444.5 67h0M445.5 65h0M447.5 62.5h0M447.5 67h0M448 67h0M447.5 66.5h0M444 67.5h0M443 65.5h0M447 66h0M445.5 66.5h0M448.5 67.5h0M447 64.5h0M447.5 61.5h0M446.5 64.5h0M443.5 66.5h0M448 64h0M446 66h0M448 62.5h0M444.5 68h0M447.5 66h0M442.5 66h0M445.5 61.5h0M448.5 64.5h0M443 67h0M449 66.5h0M445 67.5h0M442.5 65h0M446 62h0M447 66.5h0M445 67h0M444 64h0M448 65.5h0M444 63.5h0M442.5 63.5h0M446 67.5h0M448.5 66h0M443 66.5h0M366.5 200.5h0M366 200h0M368 200.5h0M367.5 199.5h0M367.5 200h0M366 200.5h0M365 199h0M367 198.5h0M366 201h0M365.5 200h0M368.5 200h0M367 199h0M418 142.5h0M418.5 143h0M421 140.5h0M419 142.5h0M418.5 141h0M420 140.5h0M420 143.5h0M419 140h0M419.5 143h0M421.5 141.5h0M420.5 140.5h0M417.5 141h0M421 141h0M420 142h0M419.5 142h0M421 142h0M419 141h0M416 142.5h0M416.5 144h0M417.5 143.5h0M416 143h0M417 141.5h0M415 142h0M420.5 143h0M417 143.5h0M415.5 142h0M415.5 141.5h0M417.5 142h0M418 143.5h0M417 143h0M419 143.5h0M419 143h0" stroke="#9c9ede" stroke-width="1.7" stroke-linecap="round" fill="none"/>
<path d="M140.5 108h0M132.5 107.5h0M136.5 109.5h0M132.5 109h0M143 106.5h0M132.5 103h0M135 109.5h0M132.5 104h0M135 105.5h0M133.5 100h0M137 107h0M141 107.5h0M139 106.5h0M135.5 107h0M136.5 103h0M134.5 104h0M131.5 107.5h0M132.5 106h0M141.5 101h0M133 102.5h0M133 105h0M134 107.5h0M134 101h0M141.5 107.5h0M141 109.5h0M136.5 104h0M141 105h0M133.5 106.5h0M136 108h0M142 108.5h0M131 105.5h0M136.5 99.5h0M140 101.5h0M132.5 109.5h0M134 107h0M139.5 106.5h0M141.5 103.5h0M134 105h0M134.5 107.5h0M136.5 110.5h0M137.5 106h0M138 101h0M135.5 105h0M141 105.5h0M135 110.5h0M141.5 102h0M138.5 110.5h0M138.5 102h0M133 108.5h0M133.5 110h0M136 100h0M140 108h0M135 105h0M136 103h0M139 104.5h0M134.5 105h0M137.5 99.5h0M134.5 102h0M134 103.5h0M139.5 102h0M139 102.5h0M135.5 108.5h0M138 109.5h0M139 109.5h0M135 102.5h0M137.5 103.5h0M137.5 102h0M133 106.5h0M131.5 102h0M132 102.5h0M142 105.5h0M137 108.5h0M135 100.5h0M136.5 110h0M133 107.5h0M135.5 102.5h0M140 103h0M133 104.5h0M144 104h0M132 101h0M139 109h0M133.5 108.5h0M133 101.5h0M142 108h0M132.5 106.5h0M136 110.5h0M141.5 102.5h0M138 103.5h0M143.5 103h0M136 108.5h0M141 102.5h0M141 100.5h0M135.5 106h0M138 106.5h0M139.5 101h0M132 105h0M136 101.5h0M142.5 103h0M134 108.5h0M140 105.5h0M141.5 105.5h0M137 107.5h0M137.5 110h0M131 102.5h0M134 102h0M138.5 107.5h0M133.5 109h0M136.5 105h0M135 104.5h0M134.5 100h0M142 104h0M132 101.5h0M140.5 105.5h0M139.5 108h0M138 107h0M132.5 101h0M136 109h0M141.5 108h0M141.5 101.5h0M130.5 106h0M140 109h0M202 84h0M198.5 83.5h0M202 83.5h0M201 83.5h0M199.5 82.5h0M198 83.5h0M200 83.5h0M200.5 84h0M199.5 83.5h0M199 84h0M202.5 85.5h0M202.5 84h0M202 85h0M198.5 84.5h0M196.5 84.5h0M198.5 85.5h0M198.5 84h0M200.5 85.5h0M197.5 83h0M202 83h0M82 153h0M77.5 154h0M76 159h0M72.5 152.5h0M82 158h0M83 156.5h0M73.5 154h0M79 155.5h0M83 154h0M81.5 151.5h0M78 156.5h0M75.5 149h0M75 156h0M78 154.5h0M72.5 157h0M79 153h0M81.5 150h0M74.5 158h0M82.5 155h0M74 157.5h0M79 149h0M71.5 153.5h0M80 150h0M84.5 155h0M74.5 149.5h0M74.5 151h0M80 152.5h0M75 153h0M80.5 158.5h0M82 150h0M79 150h0M74 157h0M73 154h0M77.5 153.5h0M72 156.5h0M76.5 158.5h0M73 154.5h0M78.5 154.5h0M83.5 156h0M80.5 153h0M78.5 151h0M73 156.5h0M81 158h0M77.5 149h0M74 158.5h0M79.5 156.5h0M76.5 158h0M77.5 150.5h0M80 155.5h0M77 151h0M79.5 150.5h0M81.5 153.5h0M79.5 158h0M76.5 155h0M83.5 155.5h0M79 149.5h0M76 151h0M74.5 153.5h0M76.5 149.5h0M76 155.5h0M80 157.5h0M79.5 153h0M80 159h0M77.5 153h0M78 152.5h0M73.5 156h0M83.5 153h0M74 156.5h0M77.5 150h0M75 152h0M85 153.5h0M72 151h0M82 155h0M74 152h0M80.5 157h0M73.5 157.5h0M75 153.5h0M76.5 157.5h0M75 154.5h0M80.5 158h0M77.5 157h0M76 152.5h0M73.5 152h0M80.5 151h0M75.5 149.5h0M76.5 152.5h0M72.5 156.5h0M79 158.5h0M82 152.5h0M77 152.5h0M84 155h0M72.5 151.5h0M76 154h0M78 158h0M75 157h0M80.5 155h0M73.5 153h0M77 154.5h0M78.5 156h0M76 157h0M83 150h0M81 153.5h0M83 153.5h0M73.5 155.5h0M76.5 159h0M80.5 157.5h0M79.5 150h0M81.5 154h0M77 158h0M78.5 153h0M74.5 151.5h0M77 155.5h0M79.5 154h0M76 149.5h0M79.5 156h0M81.5 157h0M166 198h0M168.5 195.5h0M169 198.5h0M164.5 199.5h0M166 199.5h0M165.5 196h0M165 198h0M163 197h0M165 197.5h0M166 195.5h0M163.5 198h0M167 196h0M166.5 199h0M169.5 196.5h0M166.5 197.5h0M164 195h0M163.5 197.5h0M167.5 199.5h0M165.5 196.5h0M168 199.5h0M165 197h0M164.5 195h0M166 194.5h0M164 197h0M166 200h0M165.5 199.5h0M166 197.5h0M167 200h0M165 198.5h0M164.5 197.5h0M165 196.5h0M168.5 195h0M163.5 195.5h0M170 197.5h0M166 196.5h0M165 200h0M180 222h0M183.5 220h0M181.5 220h0M180 223h0M181 219.5h0M181 222.5h0M181 223h0M179.5 220h0M183.5 221.5h0M179 222.5h0M182 222.5h0M181 221h0M179.5 222h0M183 222h0M182 221.5h0M180 219.5h0M179 220.5h0M180 222.5h0M180.5 221h0M181.5 219h0M183 222.5h0M184 221h0M133.5 99h0M142.5 101.5h0M138.5 108h0M138.5 107h0M132 98h0M135 98h0M134.5 96.5h0M139 98h0M139.5 105.5h0M140 97h0M143 102.5h0M135 108h0M133.5 107.5h0M138.5 99h0M133.5 101.5h0M142 106h0M136 95.5h0M138.5 101h0M134 99h0M136.5 107.5h0M139 100.5h0M130.5 103h0M136.5 108.5h0M131.5 104h0M137 98.5h0M136.5 99h0M138 105.5h0M135.5 105.5h0M138 97h0M140 98.5h0M138.5 104.5h0M142.5 101h0M137.5 103h0M134.5 103h0M137.5 97.5h0M139 97.5h0M132 104.5h0M135.5 96h0M132 100.5h0M139 107.5h0M136 97h0M132 104h0M132 107.5h0M138 108h0M135.5 96.5h0M139.5 104h0M138.5 106.5h0M138 96.5h0M137 103h0M131 100.5h0M138 103h0M141 97.5h0M141 99h0M131.5 100h0M138.5 104h0M134.5 106.5h0M134 104h0M137 97.5h0M135 102h0M133.5 105h0M140.5 99.5h0M133 98.5h0M135.5 99.5h0M137.5 98h0M137.5 100.5h0M134.5 101.5h0M130.5 105h0M134.5 97h0M137.5 106.5h0M133.5 107h0M137 102.5h0M130 99.5h0M142 101.5h0M137 100h0M135 106h0M141.5 105h0M136 103.5h0M139.5 100.5h0M136 102.5h0M132 102h0M138 109h0M133 103h0M141 98.5h0M132 103h0M132.5 107h0M139 99h0M133.5 102.5h0M140.5 102.5h0M134.5 96h0M136 97.5h0M138 104.5h0M130.5 99h0M137.5 105.5h0M137 100.5h0M136.5 106.5h0M136 96.5h0M136.5 109h0M140.5 98.5h0M134 105.5h0M134.5 98h0M129.5 104.5h0M137.5 108h0M133 100.5h0M136.5 100h0M133.5 98h0M141.5 106.5h0M139.5 103.5h0M135 107h0M136.5 96.5h0M139 96.5h0M138.5 101.5h0M136.5 98h0M136 98.5h0M137.5 101h0M131.5 99h0M137 109h0M130.5 105.5h0M135.5 104.5h0M130 105.5h0M131.5 103h0M137.5 96h0M128.5 121.5h0M119.5 118h0M126 119h0M126 116.5h0M124 123h0M122 117h0M129.5 119.5h0M124 115h0M127 119h0M127 116h0M119 118.5h0M123.5 112h0M127.5 119.5h0M127 122h0M120 114.5h0M126.5 116.5h0M128.5 120h0M128 112.5h0M125 122.5h0M123.5 121.5h0M126.5 122h0M124.5 112h0M128.5 113.5h0M127 113h0M118.5 116h0M124 121h0M124.5 120h0M120.5 114.5h0M126.5 119.5h0M131 118h0M121.5 120h0M121.5 119h0M122 116.5h0M121.5 120.5h0M122.5 121h0M131 115.5h0M123.5 118.5h0M128 114h0M130 120h0M122 112h0M131.5 119h0M119.5 113.5h0M122.5 121.5h0M128 115.5h0M120 116h0M130 117.5h0M126 122.5h0M124 113.5h0M123 122h0M126 114h0M122.5 114.5h0M120.5 120.5h0M128.5 112h0M118.5 117.5h0M121 112.5h0M129.5 118.5h0M122 117.5h0M122.5 115h0M130 117h0M128.5 122h0M121 118h0M128 120.5h0M130 112.5h0M119.5 116h0M123 115.5h0M121 115h0M126 114.5h0M126.5 116h0M122.5 116.5h0M124.5 115.5h0M123.5 111.5h0M124 118.5h0M128.5 115h0M127.5 116.5h0M129 116h0M131 115h0M119 117.5h0M123 114h0M126 118.5h0M120 115h0M125 119.5h0M119.5 117.5h0M131 120h0M120 118.5h0M128.5 115.5h0M131.5 116.5h0M128 114.5h0M123 121h0M126.5 122.5h0M120 114h0M129 116.5h0M129.5 115.5h0M130 116h0M124.5 121.5h0M122 118h0M129.5 114.5h0M131.5 117.5h0M126.5 121h0M124.5 117h0M124 122.5h0M128.5 121h0M129 121.5h0M127.5 114h0M127.5 116h0M126.5 118.5h0M130.5 120.5h0M127.5 120h0M130.5 118.5h0M120 115.5h0M126 117.5h0M125.5 121.5h0M125.5 121h0M124.5 114h0M120.5 119h0M124.5 123h0M121 119.5h0M124 112.5h0M127.5 121h0M118.5 118h0M122.5 112.5h0M128 118h0M122.5 120.5h0M124 114.5h0M128.5 117.5h0M121.5 116.5h0M131 119h0M124.5 107h0M123.5 104.5h0M130.5 111.5h0M128.5 108.5h0M132 112h0M124 110h0M128.5 103.5h0M131.5 111h0M123 110.5h0M131.5 109.5h0M123.5 106.5h0M124.5 109.5h0M126.5 110h0M129 112h0M126.5 108.5h0M126 112h0M127 109.5h0M125 109.5h0M125.5 106h0M134 109h0M125.5 111h0M129.5 111h0M128.5 106h0M128.5 104h0M131.5 108.5h0M126 113.5h0M126 110.5h0M131 103.5h0M130 113h0M131 107.5h0M127 102.5h0M130 104h0M130 105h0M123 105.5h0M127.5 112.5h0M133 108h0M132.5 111h0M129 108.5h0M131.5 106.5h0M124 109.5h0M125 103h0M124 104h0M128 108h0M128.5 105h0M125.5 112.5h0M125.5 107h0M125.5 105.5h0M131 104.5h0M126.5 109h0M128.5 104.5h0M124 111.5h0M128.5 111h0M129.5 113h0M130.5 112h0M126.5 103.5h0M123.5 107h0M131.5 104.5h0M126 102.5h0M130 112h0M123 106h0M127 114h0M129 102.5h0M133 110.5h0M125 104h0M128 113.5h0M129 108h0M126.5 106h0M127 103h0M129.5 106.5h0M126.5 111h0M128.5 109h0M128.5 108h0M128.5 110.5h0M128 110.5h0M122 106.5h0M132.5 108h0M126.5 104h0M127.5 103h0M127 105.5h0M128 103h0M125 110h0M127.5 110.5h0M125.5 109h0M131 113h0M127.5 107.5h0M131 110h0M125 106h0M123.5 106h0M129 109h0M123 107h0M132.5 110h0M128 102.5h0M129.5 108.5h0M122.5 109h0M122 109h0M127.5 107h0M121 122.5h0M117 125h0M117.5 125.5h0M119 123.5h0M121 126h0M117.5 124h0M123 128h0M123 124.5h0M119 125.5h0M122 128.5h0M123.5 128.5h0M124 124.5h0M119.5 124h0M125 125h0M118 127.5h0M121 122h0M120.5 125.5h0M126.5 124.5h0M122.5 123h0M123.5 127.5h0M120 121.5h0M119 124.5h0M126 126.5h0M118.5 124.5h0M118 122.5h0M126 123h0M117.5 125h0M122.5 126.5h0M120.5 128.5h0M124 121.5h0M124.5 122h0M123.5 122.5h0M118 125.5h0M123.5 123.5h0M124.5 125h0M123 126.5h0M120 125.5h0M118.5 124h0M121 125h0M123 125.5h0M120.5 121.5h0M126 123.5h0M121 124h0M122 128h0M120.5 123.5h0M123.5 124h0M119 127h0M123 126h0M118.5 126.5h0M124 124h0M117.5 123.5h0M122.5 124.5h0M125.5 125h0M118 124h0M125 127.5h0M126 126h0M125 127h0M122.5 124h0M125.5 127.5h0M126.5 126.5h0M384 49.5h0M384 48h0M385 48h0M383.5 48.5h0M384.5 50h0M383 49.5h0M384.5 51h0M385.5 48h0M383.5 49h0M385 48.5h0M386 51.5h0M385 49.5h0M384 50.5h0M384.5 48h0M386.5 50h0M349.5 117.5h0M350.5 123.5h0M351.5 121h0M350.5 120h0M341 122h0M349.5 119.5h0M348.5 117.5h0M342.5 121h0M348.5 121h0M351 118.5h0M344 121h0M343.5 121.5h0M348.5 117h0M345.5 123h0M350.5 119h0M347.5 116.5h0M349 120.5h0M348 117.5h0M342.5 119h0M344.5 117h0M347.5 116h0M341 120.5h0M345.5 121h0M349.5 118.5h0M345 114h0M344 120.5h0M346.5 122h0M350 121h0M350.5 122.5h0M353 120h0M348.5 116h0M351.5 124h0M348.5 125h0M348.5 120h0M353 121.5h0M340.5 119h0M346.5 115.5h0M351.5 117.5h0M344.5 125h0M348 119.5h0M345 119h0M345.5 125.5h0M349 122.5h0M340.5 122.5h0M350 120h0M341.5 120h0M347 123.5h0M343.5 123.5h0M347 118.5h0M346.5 114.5h0M351.5 117h0M344.5 118.5h0M349 114.5h0M344 125h0M344 118.5h0M352.5 117h0M344 114.5h0M346.5 118h0M347 121.5h0M350.5 117h0M352 117h0M347 122.5h0M342 122h0M343.5 120.5h0M345.5 115h0M345.5 118.5h0M341.5 122.5h0M342 115.5h0M343 120.5h0M347.5 114.5h0M344 123h0M344.5 118h0M350.5 118h0M348.5 123.5h0M342.5 115h0M342.5 117h0M348.5 119.5h0M343.5 120h0M352 117.5h0M345 123.5h0M346 119h0M352 121.5h0M349 124h0M345 117h0M347 125h0M350 122.5h0M346.5 125h0M347 124h0M341.5 117.5h0M345 124.5h0M343.5 123h0M349 121.5h0M349 116h0M348.5 115h0M345.5 120.5h0M343.5 117.5h0M346 122.5h0M344.5 119h0M350.5 117.5h0M351 116.5h0M344 116h0M348.5 114.5h0M344.5 114h0M343.5 116.5h0M344.5 115h0M343.5 115.5h0M343 117.5h0M344.5 114.5h0M353 122h0M342.5 122.5h0M350 123.5h0M346 121h0M350.5 122h0M347.5 124h0M347 115h0M346 121.5h0M346.5 117h0M350 115h0M342.5 122h0M350 117h0M348 121h0M342.5 124h0M343 124.5h0M341.5 117h0M349.5 119h0M347.5 123h0M343.5 116h0M343 118.5h0M351 119h0M347.5 118.5h0M344 115h0M347.5 125h0M340 127h0M341 129h0M340.5 126.5h0M343 126.5h0M341 128h0M342.5 125h0M343 128.5h0M339.5 127h0M341 129.5h0M340.5 125h0M342.5 125.5h0M341 128.5h0M341.5 127.5h0M342.5 127h0M343 128h0M340.5 128h0M343 126h0M342 127h0M480.5 80h0M477.5 84h0M473 82.5h0M477.5 86.5h0M484 81h0M478.5 86.5h0M475.5 86.5h0M478.5 83.5h0M482.5 82h0M481 81h0M482 82h0M476.5 77.5h0M473 82h0M476.5 78.5h0M471.5 83h0M479.5 78h0M474 81h0M479 79h0M472.5 79h0M473.5 83h0M478 82h0M479.5 80.5h0M475.5 79.5h0M475.5 79h0M475 84h0M478.5 83h0M479.5 84h0M473 80.5h0M474 85h0M477.5 80h0M471.5 81.5h0M477 87h0M472 83h0M478.5 82h0M484 82h0M477 78.5h0M476 86.5h0M475 84.5h0M479 81.5h0M480 81h0M475.5 81h0M473 79h0M475.5 77.5h0M476.5 87h0M480 84.5h0M483 81.5h0M474 78.5h0M481 85h0M484 82.5h0M480.5 78h0M476.5 86h0M479.5 80h0M480 80h0M482.5 80.5h0M478.5 82.5h0M484 80.5h0M472.5 80.5h0M480.5 83.5h0M484 83h0M481.5 83.5h0M476 81.5h0M481.5 82.5h0M480.5 86.5h0M483 80h0M476.5 82.5h0M474 84h0M474.5 84.5h0M484.5 81.5h0M471.5 80.5h0M478 78h0M482 86h0M482.5 78.5h0M483.5 85h0M474 83.5h0M481 84h0M474 79.5h0M478 82.5h0M476.5 83.5h0M479 81h0M472.5 82h0M473 81.5h0M477 80h0M477 83h0M478.5 79.5h0M476.5 80h0M481.5 79.5h0M482 81.5h0M477.5 87h0M477 85h0M480.5 81.5h0M474.5 78h0M474 83h0M476.5 84h0M478 85.5h0M483.5 80.5h0M478 83.5h0M483.5 82h0M473 81h0M476.5 80.5h0M480.5 80.5h0M470.5 104h0M472 103.5h0M475 103h0M474.5 95.5h0M469 98.5h0M471 104.5h0M473 101h0M470 98.5h0M476 102h0M474.5 103h0M474.5 98h0M478.5 102h0M471.5 102.5h0M471 96h0M478 102.5h0M469.5 99.5h0M473.5 105.5h0M471 104h0M472 100.5h0M476.5 99h0M475.5 106h0M471.5 104.5h0M476.5 100.5h0M476 105h0M477.5 99.5h0M475.5 105.5h0M471 102.5h0M471 103h0M476 100h0M477 100.5h0M470 103h0M477 99.5h0M472.5 106h0M474 98h0M473 102.5h0M474 106h0M471.5 105.5h0M470 97.5h0M469 101.5h0M472.5 100.5h0M472.5 98.5h0M475.5 102h0M471 96.5h0M476 102.5h0M469 100.5h0M473.5 107h0M473 97.5h0M476 104h0M476.5 103.5h0M473.5 98.5h0M474.5 97.5h0M478 99h0M475.5 98.5h0M471 100.5h0M473 102h0M471 97h0M469 102.5h0M475.5 101.5h0M472.5 99h0M473 104.5h0M475 106h0M474.5 97h0M470 102.5h0M472 104h0M470.5 101.5h0M472 95.5h0M469 101h0M471 105h0M471 103.5h0M469.5 98.5h0M473.5 95h0M470.5 97.5h0M474 98.5h0M472.5 102h0M470 100h0M473.5 99h0M469 99h0M477 99h0M468.5 101h0M470.5 103h0M473.5 96h0M470.5 100.5h0M474 99.5h0M474.5 99h0M470 103.5h0M474 99h0M476.5 100h0M478 101h0M472 102h0M471.5 98.5h0M477 102.5h0M472 105h0M474 104h0M473.5 103h0M477.5 102h0M458 119h0M458 113.5h0M460.5 119.5h0M460.5 115h0M459 110.5h0M460.5 117.5h0M459.5 114h0M462 117.5h0M462.5 116.5h0M460 114h0M460 120h0M457.5 113h0M458.5 118.5h0M459 117.5h0M460 116h0M457.5 117.5h0M457.5 116.5h0M457.5 111h0M459.5 112h0M457.5 119h0M458.5 119h0M458.5 117h0M460 117h0M458 120h0M461 112h0M459.5 120.5h0M458 117h0M460 117.5h0M459 112h0M462.5 115h0M460.5 117h0M458 110.5h0M459 113.5h0M461 116.5h0M458 112.5h0M458.5 116.5h0M459.5 115h0M461 114.5h0M460 112h0M460 121h0M458.5 113.5h0M459.5 114.5h0M461 110h0M459.5 118.5h0M457.5 116h0M458.5 116h0M461 114h0M459 119.5h0M457 116.5h0M462 118h0M462 111.5h0M457 115h0M460.5 118.5h0M460 118.5h0M459 117h0M459.5 121h0M461.5 111h0M460.5 110h0M335.5 167h0M350.5 172h0M341.5 165h0M337 173.5h0M335 174h0M339.5 166h0M343 163.5h0M339 170h0M338 168h0M341.5 172h0M349.5 177.5h0M346.5 160h0M335 173h0M336 176h0M340 174h0M336.5 172h0M333 170.5h0M348.5 168h0M341 176h0M339.5 162h0M341.5 164.5h0M344.5 160.5h0M349.5 174.5h0M348.5 169.5h0M342 171h0M351 164h0M345 178h0M343 167.5h0M344.5 176.5h0M339.5 165h0M347.5 164h0M337.5 168.5h0M349.5 174h0M342.5 173.5h0M340.5 174.5h0M352 171h0M333.5 172h0M341.5 174h0M345.5 177h0M351.5 170.5h0M343 167h0M338 177h0M335.5 171h0M345.5 161h0M335 171.5h0M335 176.5h0M337.5 170.5h0M350.5 167h0M349.5 166.5h0M349.5 173h0M348 164.5h0M341.5 167.5h0M341 159.5h0M336 168h0M344.5 170.5h0M340.5 164.5h0M345 170h0M351 170h0M339 165h0M344 172.5h0M346 172.5h0M339 176h0M340 172.5h0M346.5 176.5h0M343 168h0M344 179.5h0M341 168.5h0M336 169h0M340 163h0M337 168.5h0M346 169h0M333.5 171.5h0M340 174.5h0M336.5 169h0M346.5 171h0M345.5 180h0M348.5 178h0M336.5 174h0M352.5 171h0M349 175.5h0M334.5 165h0M346.5 172h0M343 160h0M341.5 161.5h0M341.5 180h0M348 173h0M340 178h0M345.5 164.5h0M340.5 163h0M350.5 170h0M352 165.5h0M345 161.5h0M343 175h0M351 166.5h0M349.5 168.5h0M351 175h0M338 176.5h0M342 179h0M347 178h0M345 175.5h0M350 167h0M346.5 165.5h0M347.5 168h0M352.5 170h0M345 166.5h0M347.5 178.5h0M338.5 162.5h0M337.5 167h0M349 166.5h0M350.5 166.5h0M341 178.5h0M346 175.5h0M343.5 168.5h0M352 171.5h0M352 167.5h0M351.5 172h0M352.5 170.5h0M338 164h0M348.5 166h0M348.5 173h0M339.5 161.5h0M351.5 171h0M345 165.5h0M338 175h0M344.5 164h0M351.5 170h0M342.5 162.5h0M351.5 176h0M339 167h0M343 161h0M347.5 172.5h0M343.5 175.5h0M350 165h0M341 164.5h0M342.5 180.5h0M340 176.5h0M346 170h0M344.5 174h0M342 180h0M342 164.5h0M336 165h0M341 167h0M342.5 171.5h0M348.5 177.5h0M352 172.5h0M338.5 163.5h0M339.5 167.5h0M344 180.5h0M352 168h0M351.5 172.5h0M351.5 169.5h0M347 162.5h0M338.5 164.5h0M347.5 171h0M349.5 170h0M345 170.5h0M338.5 175h0M341 160.5h0M340 164h0M345.5 174h0M337 171.5h0M349.5 167h0M345.5 178.5h0M347 163h0M335.5 176.5h0M337.5 169h0M336.5 173h0M344.5 171h0M347.5 165.5h0M335.5 170h0M345 180h0M343.5 180.5h0M347.5 169h0M338 171.5h0M342 168h0M344.5 179.5h0M347.5 170h0M335.5 169.5h0M341.5 175h0M340 175.5h0M338.5 171h0M348 170h0M341.5 164h0M344 174h0M338.5 165h0M349 174h0M344 169.5h0M341.5 173h0M352 174h0M337.5 163h0M340 168.5h0M343 165.5h0M348 178.5h0M333.5 171h0M346 179h0M339.5 175h0M343.5 167h0M341.5 161h0M350.5 167.5h0M349.5 162.5h0M343 178.5h0M340.5 166.5h0M339 164.5h0M335.5 167.5h0M338.5 174.5h0M335.5 173.5h0M347 166h0M333.5 170.5h0M344 173h0M347.5 177h0M339.5 165.5h0M353 170h0M336 162.5h0M343.5 170h0M343.5 173.5h0M340 165.5h0M338 171h0M343.5 172.5h0M337.5 175.5h0M345 160.5h0M339.5 170h0M335 172.5h0M341 166.5h0M340 166h0M339 177h0M339.5 177h0M352 166.5h0M334 168h0M345 171.5h0M346 165.5h0M337.5 175h0M342.5 161h0M337.5 162h0M345.5 176h0M336 174.5h0M348 172h0M338 165.5h0M337.5 177.5h0M336 163h0M349 171.5h0M339.5 179.5h0M336 169.5h0M335.5 171.5h0M341.5 176.5h0M345.5 170.5h0M341.5 168.5h0M334.5 175h0M346 173.5h0M348 162.5h0M334.5 170.5h0M344 176.5h0M334.5 164.5h0M346.5 170.5h0M346.5 163.5h0M349 164.5h0M340 170.5h0M336.5 167.5h0M338 167.5h0M338.5 173h0M340 165h0M342 178.5h0M343.5 165.5h0M345 161h0M344 163.5h0M339.5 163.5h0M338.5 170.5h0M339.5 173h0M334.5 172h0M336 172h0M350 164h0M346 160.5h0M348.5 163h0M346.5 179.5h0M347.5 165h0M342 180.5h0M340.5 173.5h0M339.5 179h0M339.5 169h0M340.5 170.5h0M345 159.5h0M335 168h0M335 169.5h0M346.5 175h0M341.5 179h0M336.5 171.5h0M343 162h0M352.5 172h0M350 175.5h0M339.5 171.5h0M336.5 170.5h0M347 174h0M347 170.5h0M339 179h0M341 169.5h0M347.5 174.5h0M334 168.5h0M346 176h0M349 173.5h0M350.5 163h0M338.5 178.5h0M343.5 178h0M336 177.5h0M341.5 162h0M343 166.5h0M346 174.5h0M351.5 174h0M349 178h0M341 177.5h0M343 177.5h0M343 173.5h0M343 180h0M339.5 180h0M352 169.5h0M341.5 166.5h0M348.5 176h0M340.5 172.5h0M342.5 164.5h0M347 177.5h0M343.5 161.5h0M343 168.5h0M341.5 173.5h0M347.5 164.5h0M345 164h0M345 169h0M345 172h0M340 161h0M350.5 177h0M348.5 174h0M337 162.5h0M338 174h0M346.5 179h0M345 167h0M348.5 171h0M342.5 180h0M335.5 169h0M344 169h0M341.5 159h0M351 164.5h0M349.5 172.5h0M358.5 161h0M356.5 157.5h0M358 162h0M357.5 177h0M359 163h0M356.5 164.5h0M353.5 166.5h0M356 160.5h0M356 159.5h0M354.5 160h0M358 166h0M360.5 167h0M355 173.5h0M358 165h0M357 159h0M360 165.5h0M354 172h0M356.5 177.5h0M356 173h0M357.5 163.5h0M360 162.5h0M358.5 163h0M355 166.5h0M356 170h0M356.5 165.5h0M357.5 172h0M360.5 169.5h0M357 163h0M359.5 173h0M357.5 156.5h0M356 156.5h0M354 169.5h0M361 164h0M357.5 176.5h0M354.5 163h0M357.5 169h0M356.5 170h0M357.5 166.5h0M357 163.5h0M358 173.5h0M354 170.5h0M359.5 163.5h0M357.5 175h0M356 159h0M358 163.5h0M360 162h0M354.5 168h0M354.5 165h0M354.5 172.5h0M359.5 167.5h0M353 166h0M357.5 170.5h0M358.5 167.5h0M357 161h0M354.5 173.5h0M358 157h0M359 163.5h0M354.5 174h0M358.5 170h0M358 172h0M359 171.5h0M354.5 167h0M353.5 166h0M356.5 173h0M356 162h0M360 173h0M359 175h0M355.5 170.5h0M353.5 169h0M357.5 169.5h0M354 162.5h0M357 157h0M358.5 160.5h0M359 160.5h0M359 162h0M358.5 174h0M358 161.5h0M360.5 168.5h0M356 170.5h0M354 171.5h0M355.5 167.5h0M356 165h0M355.5 175.5h0M356.5 177h0M358 158h0M358 157.5h0M358.5 169.5h0M354.5 166.5h0M355 174h0M359 169.5h0M354 168h0M359 167.5h0M354 162h0M358.5 157h0M357.5 167.5h0M357 177.5h0M353.5 164h0M357.5 175.5h0M356.5 160h0M357.5 158h0M355 176.5h0M357.5 163h0M356.5 166h0M355 172.5h0M356 172.5h0M358 158.5h0M357 173.5h0M358.5 173h0M356 160h0M358 170h0M358.5 169h0M359 164h0M356 157h0M357 176h0M354 170h0M354 173.5h0M360.5 164h0M354 172.5h0M356.5 159.5h0M358 176h0M356 164.5h0M359 161.5h0M357.5 173.5h0M356.5 168h0M355 175.5h0M355.5 171h0M354.5 161h0M359.5 174h0M360.5 169h0M356 176.5h0M359.5 173.5h0M359.5 172.5h0M359.5 175.5h0M360 166.5h0M525 160.5h0M522.5 161h0M524.5 160h0M525.5 160h0M523 161h0M522 160.5h0M522 158.5h0M523.5 160h0M522.5 158.5h0M523.5 161.5h0M525 158.5h0M525 160h0M523.5 160.5h0M468 95h0M462 101h0M468.5 90.5h0M468 96.5h0M468 90.5h0M466.5 98.5h0M467 98.5h0M465.5 92.5h0M464.5 101.5h0M468 93h0M467.5 95h0M468 94h0M462.5 101h0M467.5 94h0M466 100.5h0M463 101h0M463.5 98.5h0M467.5 92.5h0M467 96h0M469 93.5h0M465.5 93.5h0M466.5 91h0M462.5 99h0M464.5 97h0M465.5 99h0M468 91h0M465 97.5h0M464 96.5h0M464 96h0M463 100.5h0M465.5 101h0M464.5 97.5h0M467 93.5h0M464.5 100h0M464.5 99.5h0M467 89.5h0M464.5 100.5h0M467 90h0M465 94.5h0M468 95.5h0M467.5 96h0M469 92.5h0M467.5 91h0M463 101.5h0M469.5 91h0M465.5 97.5h0M467 95h0M463 99h0M463.5 102h0M468.5 93h0M467.5 91.5h0M466.5 97.5h0M468.5 93.5h0" stroke="#ff9896" stroke-width="1.7" stroke-linecap="round" fill="none"/>
<path d="M93 108h0M94.5 109.5h0M95 109h0M93.5 109h0M95 108h0M94.5 108.5h0M92.5 109h0M93 107.5h0M92.5 110h0M143 131.5h0M146 131.5h0M144.5 131h0M141 131h0M142 132h0M143.5 133h0M142 131.5h0M139.5 131h0M140.5 132.5h0M143 129.5h0M142 130h0M145.5 132h0M145.5 130h0M141.5 132h0M141 132h0M145.5 131.5h0M144 131h0M144 130h0M146 131h0M145 130.5h0M145 131h0M144 133h0M145 131.5h0M124.5 123.5h0M124 124.5h0M125 126h0M125.5 123.5h0M126 124.5h0M125.5 125.5h0M125.5 126h0M125 123.5h0M124 126.5h0M124 124h0M126.5 123.5h0M126 123.5h0M126.5 124h0M124 123h0M123 124.5h0M125.5 126.5h0M447.5 51h0M450.5 48.5h0M447 49.5h0M447 50.5h0M449 47h0M448.5 51h0M448.5 46h0M448.5 49.5h0M447 51h0M448.5 47.5h0M446 50.5h0M449 51h0M449.5 50h0M445.5 49.5h0M447.5 50h0M450 49h0M448.5 48.5h0M447.5 48h0M448.5 50h0M446 47h0M449 50h0M448 46.5h0M449 46h0M448 50h0M449 48.5h0M449.5 50.5h0M444 84.5h0M445 84h0M444 85.5h0M443 85.5h0M443 85h0M443.5 84.5h0M492 98h0M491 98h0M491.5 98h0M492.5 98.5h0M493 97.5h0M493 99h0M476 156.5h0M478.5 157.5h0M477.5 156.5h0M478 158h0M478.5 158h0M477 157h0M477.5 155h0M478.5 155.5h0M476 158h0M477 158h0M477.5 158h0M477 156h0M431.5 182h0M430.5 182h0M431.5 183h0M431 182.5h0M432 181.5h0M432.5 183.5h0M430.5 183.5h0M461 54h0M460.5 58.5h0M461.5 57.5h0M460.5 55.5h0M460 58h0M462 52.5h0M461.5 54h0M460.5 60h0M460.5 54h0M461 58h0M462 53.5h0M461 53h0M461 61h0M461 60.5h0M461.5 54.5h0M461 52h0M461 56h0M459.5 60.5h0M462 55h0M460 60.5h0" stroke="#7f7f7f" stroke-width="1.7" stroke-linecap="round" fill="none"/>
<path d="M86.5 114h0M87.5 116h0M87 114h0M87 115.5h0M87 116h0M87 118.5h0M86 114.5h0M85.5 115.5h0M87 114.5h0M86.5 117h0M87.5 117.5h0M159 49.5h0M157.5 47h0M159.5 48.5h0M155.5 49h0M157.5 51h0M156.5 50.5h0M157.5 52h0M160 47.5h0M160.5 49h0M157 47.5h0M156 48.5h0M159 52h0M158.5 48.5h0M160.5 48h0M159 51h0M158 51h0M160 50h0M158.5 47h0M158.5 48h0M156.5 47.5h0M160 49.5h0M157 48.5h0M155.5 49.5h0M156.5 48.5h0M157 49.5h0M158 51.5h0M142.5 202h0M143.5 202h0M142.5 203h0M144.5 201.5h0M143 203h0M143.5 201h0M143 200.5h0M170 140.5h0M169.5 141.5h0M168.5 145h0M170 142h0M168 139.5h0M170 146.5h0M169.5 146.5h0M169 141.5h0M168 142.5h0M169.5 147h0M167 144h0M167.5 142.5h0M168 144h0M170 143h0M170.5 143.5h0M169 143h0M169 147h0M169 139.5h0M167 141h0M167 141.5h0M169 147.5h0M169.5 144h0M167.5 143.5h0M170 141.5h0M133 146.5h0M135 145.5h0M136 148h0M136.5 149h0M138 150h0M136.5 147.5h0M139 152h0M136 149h0M140 152.5h0M140.5 153h0M140.5 152.5h0M136.5 150.5h0M136 149.5h0M138 152h0M134 147h0M136 146.5h0M135.5 148h0M140 154h0M134.5 147.5h0M141.5 152h0M134.5 146h0M139 153h0M139.5 153h0M136.5 149.5h0M137 147h0M138.5 150h0M138.5 152h0M168 140.5h0M168 141.5h0M169.5 144.5h0M173 149h0M170.5 144.5h0M173 148h0M170.5 144h0M171 144.5h0M168.5 142h0M171.5 145h0M173 147.5h0M169 142h0M169 143.5h0M167.5 141h0M172.5 147h0M172.5 148.5h0M168.5 142.5h0M167.5 142h0M172 148.5h0M167.5 139.5h0M174.5 148.5h0M356 55.5h0M357 55.5h0M357 55h0M356.5 56h0M355.5 54h0M491.5 50h0M489 50.5h0M489 50h0M488.5 49h0M489 49.5h0M489 47.5h0M491 48h0M492 49h0M490 47.5h0M490 48.5h0M489.5 51.5h0M490.5 50h0M490 66h0M492 64.5h0M491 68h0M491.5 65.5h0M490 69h0M492 65h0M493.5 67h0M492 65.5h0M494 67h0M493 68h0M489.5 67.5h0M492 68.5h0M491.5 66h0M492 70h0M491 70.5h0M493.5 65.5h0M489.5 68h0M493.5 66.5h0M494 66h0M492.5 67.5h0M492 67h0M491.5 69.5h0M492.5 65.5h0M492.5 69.5h0M489.5 67h0M494 65.5h0M490 69.5h0M490.5 66h0M415.5 234h0M410.5 231h0M413 229.5h0M410.5 233h0M410 233h0M411.5 236h0M415 233.5h0M413.5 231h0M413.5 229.5h0M412.5 232h0M411 230h0M413.5 233.5h0M414.5 230h0M414 235.5h0M411.5 232h0M414 234h0M411.5 233.5h0M413 235.5h0M411 232.5h0M414 231.5h0M410.5 232h0M410.5 231.5h0M411 234h0M411.5 234h0M411.5 235.5h0M409 233h0M412 235h0M415 233h0M409.5 232h0M411 231.5h0M412 236.5h0M410.5 234.5h0M412.5 230h0M413.5 232.5h0M412.5 230.5h0M413 234.5h0M413.5 230.5h0M411 232h0M471.5 215h0M472 213.5h0M472 214h0M472 215h0M472.5 215.5h0M472.5 213.5h0M427 227.5h0M427 227h0M425 227h0M424 228h0M425 229.5h0M425 229h0M424 227.5h0M426.5 228h0M425.5 228h0M384.5 62h0M384.5 62.5h0M383 61h0M382.5 60h0M385.5 62h0M386 62h0M382.5 58.5h0M383.5 60.5h0M383 60.5h0M385.5 64h0M382 59.5h0M386.5 63.5h0M385 64h0M385 61.5h0" stroke="#dbdb8d" stroke-width="1.7" stroke-linecap="round" fill="none"/>
<path d="M115.5 116h0M115 118.5h0M115.5 117.5h0M113.5 114h0M114 114.5h0M113 118.5h0M114.5 119.5h0M116.5 118h0M114.5 114.5h0M114 119.5h0M115.5 119.5h0M113.5 119h0M115.5 117h0M114 116.5h0M113.5 116h0M114 117.5h0M112 115h0M115 117.5h0M114 117h0M113 117h0M113 117.5h0M113 116.5h0M111.5 116h0M113 115.5h0M117 118h0M117 117h0M115 114.5h0M115.5 115.5h0M91 159h0M90.5 161h0M91.5 159.5h0M90.5 159h0M90.5 160.5h0M91 158.5h0M92 160.5h0M90 160h0M341 86h0M337.5 92h0M343 93.5h0M335.5 90h0M339.5 87h0M341 91.5h0M337 86.5h0M337 91h0M341.5 91.5h0M341 95.5h0M334.5 94h0M341.5 89h0M337 95.5h0M340.5 92h0M339 85.5h0M343 90.5h0M339.5 91h0M340.5 90.5h0M339.5 93.5h0M340.5 86h0M340 89h0M338 95h0M342 95.5h0M340 94.5h0M339 95.5h0M340 87h0M341 86.5h0M343.5 89h0M336.5 93.5h0M335.5 92h0M337.5 87.5h0M343 92.5h0M334.5 92h0M341.5 90.5h0M336.5 91.5h0M340.5 87h0M339.5 94h0M343 91h0M338 89h0M340.5 85.5h0M338.5 94.5h0M335 91h0M338 96.5h0M341 94.5h0M342.5 89.5h0M340 94h0M336.5 87h0M342 89.5h0M343 89h0M340.5 94h0M335.5 90.5h0M341 92h0M342.5 89h0M336.5 92h0M337.5 95.5h0M338.5 89.5h0M338 90.5h0M340.5 88h0M337.5 86.5h0M335.5 87h0M339.5 95h0M336 87h0M337 86h0M337.5 87h0M339 93.5h0M336.5 88.5h0M340 85.5h0M338 86h0M343.5 91h0M334.5 93.5h0M342 92h0M465 73.5h0M465.5 75.5h0M467 76h0M466 74h0M466.5 75.5h0M465.5 74h0M466.5 73h0M466 73h0M472 200h0M469 205.5h0M470 201.5h0M469.5 198.5h0M470.5 206.5h0M469.5 200h0M467 203h0M470.5 205.5h0M469 204.5h0M471 200h0M469.5 202h0M468 203.5h0M468.5 206.5h0M471 200.5h0M469.5 199h0M467 201.5h0M472 204h0M469.5 201.5h0M469.5 203.5h0M471 205h0M467.5 200.5h0M467.5 202h0M469 200h0M468 200h0M472 201h0M467.5 201h0M468 204h0M468 205h0M470.5 203.5h0M470 203h0M470.5 207h0M471 205.5h0M467 202h0M471.5 202.5h0M471.5 201h0M470.5 200.5h0M468.5 205h0M469.5 204h0M469.5 207h0M472 200.5h0M471.5 203.5h0M427 85h0M431 76h0M429 79.5h0M430 77.5h0M427.5 84h0M430 78.5h0M429 78.5h0M431 77.5h0M430 79h0M428.5 82h0M429 83h0M429 81.5h0M426 84.5h0M431 77h0M426 83h0M431 78h0M428.5 81h0M430.5 77h0M431 75h0M428 80h0M432 77.5h0M427 86.5h0M430.5 78.5h0M427.5 85h0M430.5 79.5h0M432 76h0M430 76.5h0M428 80.5h0M426 86h0M428.5 81.5h0M430 79.5h0M426.5 83.5h0M432.5 76h0" stroke="#843c39" stroke-width="1.7" stroke-linecap="round" fill="none"/>
<path d="M124.5 98.5h0M124 99h0M125.5 99.5h0M125 98.5h0M124 99.5h0M123.5 99h0M123.5 100.5h0M124.5 100.5h0M123 98h0M123 100h0M124 101.5h0M125.5 100h0M62.5 83h0M63.5 82.5h0M63.5 83.5h0M63 82h0M62 82h0M64 83.5h0M62.5 81.5h0M139.5 200.5h0M139 199.5h0M138 200h0M139.5 201h0M138.5 200.5h0M152 153h0M150 153.5h0M153 153.5h0M152.5 153h0M153 152.5h0M150.5 152.5h0M150.5 154h0M151 152h0M153 153h0M147 152.5h0M146 153h0M148.5 152.5h0M147 151.5h0M148 153h0M148 153.5h0M147.5 151.5h0" stroke="#9467bd" stroke-width="1.7" stroke-linecap="round" fill="none"/>
<path d="M64.5 124.5h0M65 123.5h0M62.5 124h0M65 125h0M63 123.5h0M62 125h0M63.5 125h0M63.5 123h0M62 123.5h0M65.5 125h0M64 123.5h0M169.5 213.5h0M169.5 212h0M169.5 214h0M170.5 212.5h0M170.5 213.5h0M170 213.5h0M339.5 63.5h0M338 63.5h0M339 64.5h0M435.5 34.5h0M434.5 36h0M434.5 34h0M436 35h0M436 36h0M434.5 35.5h0M433.5 35.5h0M435 36h0M435 36.5h0M435 35h0M435.5 35h0M435 35.5h0M429 41h0M430 40.5h0M441 38.5h0M441 38h0M440 39h0M527.5 98.5h0M525.5 99.5h0M526.5 101h0M527.5 102h0M526 102h0M525.5 99h0M527 101h0M527 98.5h0M524.5 100.5h0M528 101.5h0M525.5 100.5h0M526 100h0M527.5 102.5h0M527 99.5h0M526 99h0M461.5 128h0M459.5 126.5h0M460.5 127h0M462 127h0M460 127.5h0M336 189.5h0M337.5 191.5h0M334.5 189h0M337 191h0M335 188.5h0M333 190h0M338 189h0M333.5 190.5h0M333.5 191h0M335 189h0M333.5 190h0M335.5 191.5h0M338.5 189.5h0M337.5 188.5h0M335.5 189h0M338 190.5h0M337.5 191h0M338 190h0M335.5 191h0M343.5 185.5h0M343.5 186h0M344.5 186.5h0M345 188h0M341 185.5h0M342.5 185.5h0M341.5 189h0M343 185h0M344 188h0M343 186h0M345.5 186.5h0M342 189.5h0M345.5 186h0M344.5 185h0M345.5 188.5h0M343 186.5h0M345.5 185.5h0M342.5 186h0M342 185.5h0M341.5 186h0M343.5 188h0M344.5 187.5h0M343 188.5h0M354.5 188.5h0M348.5 187.5h0M352.5 187h0M349.5 187h0M351 189.5h0M351.5 189h0M354 188h0M349 188h0M353.5 189h0M350 186.5h0M349 189h0M353 188h0M350 187h0M352 187.5h0M349 189.5h0M351 186h0M350.5 187h0M353 189h0M348 189h0M353 189.5h0M350 188.5h0M353.5 187h0M357 185h0M355.5 187h0M357 188.5h0M358.5 187h0M360.5 186h0M359 186h0M360 186h0M358.5 184h0M356.5 184.5h0M359 185h0M357 185.5h0M359 184h0M360.5 187h0M358.5 187.5h0M358 184.5h0M359.5 187h0M358.5 184.5h0M358 183.5h0M361 186h0M359 187.5h0M357 184.5h0M356.5 186.5h0M360 185.5h0M358.5 185h0M341 197h0M341.5 198.5h0M338 197h0M337 197.5h0M339 199.5h0M340 198h0M339.5 197h0M338 198h0M341 198h0M339.5 196.5h0M340 197h0M348 198.5h0M345.5 198.5h0M349 198h0M349.5 196.5h0M344 196.5h0M346 199h0M348 196h0M345 196.5h0M348.5 196h0M346.5 196h0M346.5 198.5h0M347.5 198.5h0M345 196h0M345 198h0M347 196.5h0M348.5 197h0M356 195h0M353.5 194h0M357 196.5h0M353 194.5h0M357 195h0M352.5 195h0M356.5 195h0M356.5 195.5h0M357 196h0M355 196h0M355.5 196.5h0M354 196h0M356 197h0M352.5 195.5h0M332.5 203.5h0M334 203.5h0M332.5 202h0M334.5 203.5h0M334.5 204.5h0M334 204h0M334 203h0M333.5 203.5h0M335 203h0M446 177h0M445.5 177h0M446 178.5h0M447.5 178h0M446 177.5h0M447 176h0M446.5 177.5h0M445 178.5h0M452.5 180h0M452 181h0M454 181.5h0M454.5 180h0M454.5 181.5h0M507.5 181h0M506.5 183h0M506.5 181h0M505 181.5h0M506.5 180h0M506.5 181.5h0M506 183.5h0M505.5 181.5h0M507.5 182h0M506 180.5h0M489 180.5h0M489.5 181.5h0M482 185h0M486 178.5h0M486 187.5h0M489.5 185.5h0M485 183.5h0M485 182.5h0M482.5 184h0M488.5 179.5h0M484.5 181h0M481.5 182.5h0M489 184.5h0M484.5 187.5h0M485 180.5h0M486.5 185.5h0M483.5 180.5h0M489.5 186h0M488 179.5h0M488 187h0M487 188.5h0M486 182.5h0M490.5 184.5h0M483.5 185.5h0M487 181h0M489 184h0M490 181h0M484 180h0M482.5 182h0M489.5 180h0M487.5 187.5h0M483 184.5h0M488.5 180h0M483 181h0M489 180h0M483 180h0M486 183h0M487 182h0M482 181.5h0M482 182h0M486.5 179h0M487 187.5h0M487.5 179.5h0M486.5 183.5h0M482.5 182.5h0M483.5 181h0M489 186h0M490.5 182h0M447 220.5h0M448 219.5h0M446 218.5h0M447.5 218h0M446 218h0M448 220h0M448.5 218.5h0M446.5 218h0M507.5 142.5h0M508.5 145h0M508.5 146.5h0M508 145h0M508.5 144.5h0M508 144.5h0M510 148h0M509.5 145h0M508 146h0M509 147.5h0M510 146h0M510 145h0M452 191h0M453 188h0M451 188.5h0M454 192h0M452 193h0M452.5 194h0M453.5 191.5h0M453 194h0M453 193.5h0M452.5 195h0M453 189.5h0M453 194.5h0M453.5 189h0M451 189h0M453.5 188h0M454.5 196h0M454 192.5h0M453.5 194h0M454.5 194h0M451.5 191h0M452.5 191.5h0M452.5 188.5h0M453.5 194.5h0M452.5 195.5h0M450 212.5h0M450.5 207h0M449.5 206.5h0M447.5 213.5h0M450.5 205h0M449 209.5h0M450.5 210.5h0M450.5 207.5h0M449 208.5h0M451 205.5h0M449.5 208h0M451 206.5h0M448 212h0M450.5 209.5h0M452 205h0M452.5 203.5h0M447.5 213h0M450 213.5h0M449.5 212h0M448 210h0M450 212h0M449.5 206h0M450.5 206h0M450.5 205.5h0M449 213h0M450 209.5h0M449 209h0M452.5 204.5h0M449.5 214.5h0M451 208h0M451.5 203h0M446.5 237.5h0M448.5 236.5h0M452 230h0M453 231h0M448 237.5h0M452 233h0M450.5 234h0M452.5 231.5h0M454 230h0M452 231.5h0M453.5 230h0M454.5 230h0M453 229.5h0M452.5 230.5h0M449.5 234.5h0M452 232h0M451 232h0M451 233.5h0M448 236.5h0M452 231h0M451.5 232.5h0M453 231.5h0M448 237h0M450.5 234.5h0" stroke="#6b6ecf" stroke-width="1.7" stroke-linecap="round" fill="none"/>
<path d="M52 100.5h0M52 101h0M52.5 101.5h0M50.5 101h0M49 101h0M49.5 101h0M51 102h0M48 101.5h0M50 102.5h0M115.5 175h0M117 174.5h0M116.5 178.5h0M117 174h0M115.5 181h0M116.5 177h0M114.5 174.5h0M115.5 172.5h0M116 178h0M115 177h0M115 178h0M116 180h0M117 177.5h0M116.5 179.5h0M116.5 173.5h0M116 180.5h0M117 172h0M116.5 180h0M115.5 175.5h0M116.5 173h0M115.5 177h0M116 177.5h0M117 175.5h0M158 184.5h0M157.5 183.5h0M157.5 185h0M157 185.5h0M140.5 116.5h0M140.5 113.5h0M140.5 114h0M141 114h0M138 115h0M138.5 116.5h0M138.5 115h0M140.5 117h0M140 114.5h0M140.5 114.5h0M139 114.5h0M139 115h0M110.5 187.5h0M104.5 189.5h0M102 195.5h0M105 194.5h0M105.5 188h0M97.5 196h0M101 197.5h0M101.5 192h0M101 196.5h0M99 198h0M99 195.5h0M104 192h0M106 193h0M106 188h0M107.5 192.5h0M108.5 189.5h0M103.5 192h0M99 199.5h0M108.5 187h0M103.5 191h0M98.5 197.5h0M100 199.5h0M104 193h0M108 190.5h0M100.5 195.5h0M105.5 192.5h0M100 198h0M103 194.5h0M106.5 188.5h0M110 189h0M107 191h0M108 188.5h0M100.5 197.5h0M110 188.5h0M96.5 197h0M108.5 191.5h0M104.5 189h0M110.5 189.5h0M104 194.5h0M109 187.5h0M95.5 197h0M101.5 197.5h0M107.5 191.5h0M105 193h0M104 190h0M98.5 200h0M105.5 194.5h0M98 195h0M109.5 189h0M110.5 190h0M104 195h0M98 198.5h0M108.5 186.5h0M98 200h0M104.5 194h0M99.5 199.5h0M103 193.5h0M102.5 197h0M107.5 189h0M100 198.5h0M109.5 190.5h0M110 188h0M98.5 196.5h0M101 195.5h0M109 188.5h0M101.5 195.5h0M96.5 196h0M105.5 191.5h0M99 200h0M100 196h0M98 197.5h0M102 193h0M106.5 190h0M104.5 195h0M104.5 194.5h0M105 194h0M107 187h0M98.5 199.5h0M104.5 188.5h0M104.5 191h0M103.5 196h0M108 188h0M110 187h0M107.5 192h0M104 195.5h0M107 189h0M108.5 190.5h0M115.5 173h0M112.5 179h0M114 178h0M115.5 176.5h0M111.5 179h0M112 176h0M111.5 177.5h0M112.5 184.5h0M113 180.5h0M112 176.5h0M110.5 184h0M111 181h0M113 175h0M112 186h0M113 176h0M112.5 183.5h0M112.5 181.5h0M116 174h0M112 177.5h0M112 183.5h0M112.5 184h0M113.5 173h0M114 174.5h0M113.5 176.5h0M110 184.5h0M114 175.5h0M111.5 183h0M113 184.5h0M116 171.5h0M110 186.5h0M113 174.5h0M116 173h0M110 183.5h0M113 172.5h0M111 185.5h0M114 172h0M112 175.5h0M111.5 186.5h0M114 176h0M116 174.5h0M110 183h0M110.5 186.5h0M110.5 184.5h0M112 181.5h0M115 179.5h0M112.5 175.5h0M114.5 176.5h0M114.5 177h0M109.5 186.5h0M113.5 175h0M109.5 185h0M116.5 172.5h0M112 177h0M112.5 177.5h0M117.5 171.5h0M112.5 182h0M110 182.5h0M113.5 181.5h0M114 175h0M110.5 185.5h0M112 179h0M113 181.5h0M116 175h0M495 83h0M494.5 83.5h0M496 83.5h0M494.5 84.5h0M495.5 83h0M424.5 173h0M428.5 173h0M427 169.5h0M436 170h0M434.5 171h0M424 166.5h0M430 166h0M418.5 172h0M422.5 171.5h0M421.5 176.5h0M425.5 170h0M423.5 178h0M435.5 164.5h0M435.5 170.5h0M427.5 176.5h0M421.5 176h0M428.5 175.5h0M433 170h0M429.5 162h0M419.5 167.5h0M419.5 172h0M431 162.5h0M431 174.5h0M416 166.5h0M422.5 168.5h0M432 165.5h0M420.5 177h0M433.5 163.5h0M430 170h0M417 172h0M430.5 175.5h0M426 173h0M417 174.5h0M427.5 177h0M418 172h0M434 176.5h0M419 168h0M430 163h0M434 177h0M422 176h0M431.5 169h0M418 166.5h0M427 167h0M422 170h0M422 175.5h0M430 171h0M429.5 168.5h0M418 176h0M419.5 174h0M437 167h0M435 166h0M429.5 161.5h0M428.5 168.5h0M432.5 176h0M424.5 163.5h0M423 170.5h0M424 163h0M421.5 177h0M430 163.5h0M435.5 171.5h0M431.5 171.5h0M420.5 165h0M422 178h0M431 177.5h0M433.5 165h0M425 177h0M426.5 170.5h0M440 170.5h0M425 167h0M417.5 172h0M436 176h0M426.5 175h0M431 170h0M424.5 168.5h0M424 165h0M434 168h0M432 173.5h0M417.5 175.5h0M437 168h0M432 165h0M423 175.5h0M424 164h0M422.5 175h0M431.5 172.5h0M415 166.5h0M435 176.5h0M433.5 175h0M424.5 161.5h0M436 172h0M419.5 165.5h0M422.5 163.5h0M416 174h0M420 166.5h0M437.5 171h0M425.5 170.5h0M420.5 172h0M428.5 174.5h0M435 172h0M420.5 166h0M422.5 166.5h0M424 176h0M434.5 173h0M425.5 166.5h0M424.5 174h0M428.5 171h0M418 171h0M434.5 174.5h0M422.5 168h0M420 166h0M433.5 169h0M425.5 164h0M430.5 172.5h0M427.5 173h0M439 170.5h0M419.5 172.5h0M434 167.5h0M426 166h0M423.5 168h0M417.5 174.5h0M418 168h0M421.5 169h0M432.5 174.5h0M428.5 166h0M438.5 173.5h0M421.5 171.5h0M423.5 172.5h0M423 170h0M424 178h0M428 166.5h0M420 164.5h0M429.5 163h0M437.5 171.5h0M419.5 164h0M418 170.5h0M423 174h0M418.5 170h0M428 162h0M436.5 170h0M435 168h0M432 162.5h0M423.5 169h0M427 175h0M420 173.5h0M426 177.5h0M432.5 168h0M432.5 165.5h0M426.5 162h0M432 169h0M431.5 170.5h0M431 167h0M418.5 165h0M420 172.5h0M422 174.5h0M424 171.5h0M430.5 171h0M429.5 166h0M420.5 163h0M422 173.5h0M423.5 175.5h0M429.5 165h0M434 172h0M436.5 173.5h0M426.5 164h0M416.5 169.5h0M422 172h0M428.5 170.5h0M434.5 173.5h0M429 177h0M433 173h0M420 177h0M433 163h0M418.5 164.5h0M415.5 173.5h0M425 177.5h0M417 172.5h0M418 167h0M428.5 162.5h0M427.5 170.5h0M432 171h0M425.5 167.5h0M439 168.5h0M432.5 173.5h0M421.5 165h0M422.5 172.5h0M424 167h0M421 165h0M428.5 174h0M432 172.5h0M433.5 176.5h0M417.5 165h0M427 162h0M417 165.5h0M431.5 177.5h0M431.5 165h0M428 172.5h0M427.5 175h0M421 177h0M419 166h0M423 163h0M434 164h0M437.5 166.5h0M426.5 173h0M419 172.5h0M430 162h0M425 174h0M427 165h0M418 173.5h0M437 174h0M430 170.5h0M433 176h0M420.5 164h0M437 172.5h0M435 175.5h0M417 173.5h0M423 163.5h0M433.5 176h0M437.5 167h0M426 170h0M420.5 170.5h0M437 166.5h0M419.5 176h0M417 165h0M426.5 174.5h0M421 165.5h0M424.5 172h0M427 172.5h0M433 168h0M430 176h0M429.5 167h0M431.5 167.5h0M434.5 175.5h0M430.5 169h0M435 164.5h0M426.5 177h0M424.5 163h0M434 171.5h0M428.5 164h0M429 178h0M425 173.5h0M428 173h0M417.5 165.5h0M425 172.5h0M423.5 169.5h0M417 175h0M429.5 173.5h0M431.5 164.5h0M430 167h0M428.5 177.5h0M439 171.5h0M426 176h0M428 167h0M417 174h0M423 172h0M434 170.5h0M432 163.5h0M421 164h0M432.5 174h0M437 167.5h0M427.5 167h0M424.5 178h0M435 171.5h0M430.5 177h0M425.5 161.5h0M426.5 167.5h0M433.5 174.5h0M429.5 177.5h0M432 167.5h0M424.5 169h0M421 169h0M427 171.5h0M423 174.5h0M422.5 170.5h0M434.5 168.5h0M436 165.5h0M416 170.5h0M427 170.5h0M433.5 168h0M433 166h0M430.5 163h0M414.5 169.5h0M435 175h0M436.5 168.5h0M428.5 164.5h0M423 167h0M421 177.5h0M418 173h0M423.5 162.5h0M421 164.5h0M422 165h0M429.5 171.5h0M416.5 165h0M419 164h0M432.5 167.5h0M420.5 173h0M436 175h0M433 172h0M434 170h0M420 174.5h0M415 168.5h0M434 174.5h0M430.5 176h0M426.5 164.5h0M418.5 175h0M417 166h0M422 170.5h0M423.5 165h0M426.5 173.5h0M438 172h0M438 170h0M431.5 175.5h0M426 172.5h0M440 169h0M415 169h0M425 164.5h0M419 165h0M423 169.5h0M417 169.5h0M420 170.5h0M433.5 172.5h0M418.5 164h0M423 165.5h0M437.5 170h0M431 177h0M424.5 173.5h0M415.5 167h0M420 169.5h0M432.5 163.5h0M425 165h0M438 174h0M424.5 178.5h0M427.5 172.5h0M387 88.5h0M385 88.5h0M385.5 88h0M392 85h0M385.5 87h0M387.5 88h0M386 88h0M388.5 86h0M390.5 85.5h0M391.5 83.5h0M389.5 84.5h0M391 86h0M386 86.5h0M389.5 86h0M387 87.5h0M385.5 88.5h0M386.5 88h0M390 85h0M387.5 86h0M329.5 151.5h0M326.5 156h0M330.5 148h0M327 157h0M326 156h0M328 153h0M332.5 145h0M330.5 151h0M328.5 153h0M328.5 151.5h0M332 147.5h0M332.5 144.5h0M327 154h0M329.5 149h0M326 155.5h0M328 152.5h0M329 150h0M331.5 150h0M330.5 150h0M334 145.5h0M328 151.5h0M326 156.5h0M331 148h0M327 154.5h0M327 157.5h0M329.5 150.5h0" stroke="#aec7e8" stroke-width="1.7" stroke-linecap="round" fill="none"/>
<path d="M194 36h0M193.5 37h0M194.5 36.5h0M192 36h0M194 37.5h0M192 36.5h0M193 38h0" stroke="#c5b0d5" stroke-width="1.7" stroke-linecap="round" fill="none"/>
<path d="M179 63.5h0M179.5 65h0M179 68h0M178.5 65h0M178 66.5h0M179 66.5h0M178 65h0M178.5 64h0M170.5 56h0M169 55.5h0M180 61.5h0M175 58.5h0M172 57h0M174 56h0M173.5 58h0M170.5 55.5h0M177.5 58.5h0M171.5 55h0M174.5 59.5h0M170 56h0M175 60h0M179.5 59.5h0M180 62h0M176 59.5h0M180 60h0M170 53h0M178 59.5h0M170 55.5h0M178.5 61h0M175.5 57h0M172 54.5h0M172.5 55.5h0M178 60.5h0M178 61h0M179 60h0M180 63h0M174 56.5h0M176.5 60h0M175.5 57.5h0M180 61h0M178 59h0M176.5 60.5h0M175 58h0M173.5 57.5h0M181.5 61h0M172 56h0M180.5 61h0M170.5 54h0M171.5 57h0M174.5 57h0M173 55h0M171.5 54h0M207 129.5h0M208.5 126h0M208.5 125.5h0M207.5 132.5h0M207.5 129h0M206.5 127.5h0M205.5 129.5h0M207.5 125.5h0M206.5 130h0M205 131h0M206.5 132.5h0M205.5 131h0M208.5 128h0M206.5 131h0M207.5 128h0M207 131h0M208 127.5h0M205.5 133h0M207 130.5h0M208 129.5h0M207 128.5h0M208 128.5h0M208 130h0M206 129.5h0M207.5 131.5h0M206.5 130.5h0M207.5 127.5h0M207.5 131h0M206.5 132h0M205.5 128.5h0M205 124.5h0M206 130.5h0M207 135h0M207 126.5h0M207 129h0M206.5 134h0M206 126.5h0M206 134.5h0M206 127h0M207 133.5h0M207 131.5h0M205 128h0M206.5 126h0M207.5 128.5h0M206 126h0M206 133h0M205.5 130h0M206.5 125.5h0M206.5 127h0M205.5 129h0M208 132.5h0M206 128h0M339 108h0M339 108.5h0M329.5 108h0M331.5 110h0M334.5 106.5h0M335.5 105.5h0M339.5 105.5h0M329.5 109.5h0M330 105h0M338 108.5h0M334 107.5h0M333.5 109.5h0M327.5 109h0M331.5 104h0M335.5 109.5h0M333 110.5h0M329.5 104.5h0M338.5 104.5h0M336 104.5h0M331 108.5h0M334.5 108.5h0M328.5 105h0M335.5 105h0M329.5 108.5h0M330 109h0M334.5 105h0M329 106.5h0M333 104.5h0M329 108.5h0M327 106.5h0M335 109h0M328.5 104.5h0M336.5 110h0M328 105h0M331.5 106h0M334 105h0M326.5 106.5h0M332.5 105h0M339 107.5h0M328 109h0M329.5 110h0M337 110h0M332 110h0M336 108.5h0M335 104.5h0M337.5 104.5h0M335.5 108h0M330.5 108h0M338 105h0M334 106h0M330.5 108.5h0M336 105h0M333 106h0M336 109.5h0M330.5 106.5h0M334.5 103.5h0M332 107.5h0M339.5 107h0M334.5 104h0M327.5 104.5h0M328 104.5h0M338.5 105.5h0M335 103h0M340 107.5h0M338.5 106h0M335 105.5h0M327.5 105h0M328.5 109.5h0M333.5 108.5h0M330 104h0M337 104h0M334.5 108h0M336.5 104.5h0M330 108h0M333 103.5h0M328.5 106.5h0M331 106h0M331 107h0M332 104.5h0M329 110h0M334.5 106h0M329.5 105.5h0M335.5 104h0M339 105h0M335.5 110h0M498 127.5h0M494 121.5h0M492 120.5h0M492.5 121h0M492.5 123h0M493 120h0M494.5 124h0M499.5 130h0M496 123h0M496.5 125h0M498.5 126.5h0M492 122.5h0M498.5 130h0M493.5 123h0M498 129h0M498.5 129h0M498 129.5h0M498.5 128h0M500 128h0M497.5 126.5h0M490 120.5h0M496.5 126.5h0M493.5 121.5h0M493.5 122h0M494.5 125.5h0M492.5 120h0M496 124h0M497.5 127.5h0M491.5 121.5h0M491.5 119.5h0M493 122.5h0M492 119h0M495.5 122h0M495 124h0M496.5 127h0M493.5 120.5h0M493 121.5h0M495.5 125h0M498 128h0" stroke="#e7ba52" stroke-width="1.7" stroke-linecap="round" fill="none"/>
<path d="M189 55h0M191 55.5h0M190 57h0M192.5 55h0M189 55.5h0M191 56h0M190.5 55.5h0M192.5 55.5h0M189 56h0M190 55h0M200 62h0M197 63h0M195 60h0M198.5 60.5h0M195.5 62h0M194.5 60.5h0M197.5 60.5h0M198.5 61h0M195.5 61.5h0M195 62h0M195 61.5h0M195.5 59.5h0M197 60h0M198 61.5h0M195.5 63h0M197.5 62.5h0M199 60.5h0M195.5 60.5h0M201 66h0M198.5 63.5h0M203.5 65.5h0M201 64.5h0M199.5 64.5h0M200.5 64h0M201.5 63h0M200 67h0M200.5 66.5h0M199 66.5h0M198.5 66.5h0M202.5 66h0M202.5 64h0M201.5 66h0M199 64.5h0M202 65.5h0M201 63h0M198 65h0M200 66.5h0M201 65.5h0M201.5 67h0M201.5 65.5h0M202 66.5h0M199.5 63h0M199.5 65.5h0M194.5 172.5h0M196.5 172h0M195 173h0M194 173h0M194.5 172h0M360.5 63.5h0M360.5 66.5h0M361.5 66h0M359.5 65.5h0M361.5 65h0M362 65h0M359 65.5h0M360 64h0M360.5 65h0M361.5 64h0M397.5 50h0M398.5 50.5h0M398 49h0M398 50h0M399 49h0M397.5 49.5h0M400 49h0M402.5 46h0M402.5 46.5h0M403 48h0M404 46.5h0M403.5 45h0M404.5 47.5h0M404.5 46.5h0M320.5 177.5h0M321.5 178.5h0M322 177.5h0M323 176.5h0M318 177.5h0M321 182h0M323 179.5h0M323 180.5h0M323 178.5h0M321.5 179h0M323 181h0M321.5 178h0M320 176h0M321 179h0M319.5 182.5h0M322 176.5h0M322 180h0M322 182.5h0M322 175.5h0M319.5 180h0M320 182h0M318.5 177h0M320 178h0M320.5 176.5h0M322.5 177.5h0M319.5 181.5h0M320.5 175.5h0M320.5 182.5h0M321 182.5h0M322.5 178h0M321 178.5h0M319 180.5h0M319.5 176h0M323 179h0M321 175.5h0M322 180.5h0M322.5 176.5h0M322.5 180.5h0" stroke="#ce6dbd" stroke-width="1.7" stroke-linecap="round" fill="none"/>
<path d="M214.5 64.5h0M215 64.5h0M215.5 66h0M214.5 66h0M214 64.5h0M166.5 78.5h0M168.5 76.5h0M168.5 77h0M166.5 75.5h0M167 75.5h0M167 74.5h0M166 76.5h0M166 74.5h0M167.5 79.5h0M168.5 74h0M166.5 77.5h0M168.5 80h0M167.5 74h0M165.5 77.5h0M169 75h0M168.5 79h0M167.5 74.5h0M166 78h0M166 77.5h0M166.5 73.5h0M167.5 79h0M168.5 75.5h0M167 77h0M167.5 73.5h0M168.5 73.5h0M229.5 87h0M227.5 87.5h0M229 85.5h0M229.5 87.5h0M228.5 86h0M228 88h0M215.5 95h0M215.5 94h0M216.5 92.5h0M216 95.5h0M218 94h0M215 95h0M217 93.5h0M216.5 93h0M94.5 210h0M95 210h0M95 210.5h0M95 209h0M96 210.5h0M173.5 158.5h0M170 158h0M173 158.5h0M169.5 157h0M170.5 158h0M172.5 156h0M173 157h0M171.5 157.5h0M171 157.5h0M170.5 156h0M170.5 160h0M173 158h0M169.5 159.5h0M173.5 156.5h0M171 156.5h0M171.5 155.5h0M170 157.5h0M171 157h0M171 158.5h0M172 160h0M172 156.5h0M172 157h0M172 156h0M173 159h0M170.5 159h0M172 157.5h0M170.5 157.5h0M171 159.5h0M399.5 141h0M393.5 158h0M399 149.5h0M400 145.5h0M393 163.5h0M401 161h0M405 153.5h0M398 150h0M388.5 147h0M401.5 148.5h0M392 144h0M398.5 155.5h0M398.5 143h0M398 155.5h0M391 147.5h0M391 158.5h0M390.5 153.5h0M392 144.5h0M398.5 149.5h0M401.5 152.5h0M396 163h0M397 146.5h0M400.5 151h0M403.5 158.5h0M391 155h0M395.5 151.5h0M398 154h0M397.5 142h0M398.5 162h0M403 152.5h0M393 148h0M400 142h0M401 157h0M402 155h0M397 160h0M402 161h0M388.5 149h0M396 160h0M403 152h0M396.5 141.5h0M392.5 151h0M400.5 147.5h0M390 157h0M388.5 157h0M399.5 161.5h0M395.5 141h0M404.5 150h0M390 158.5h0M394.5 142h0M393.5 145.5h0M398.5 141.5h0M397 149h0M400 157h0M393.5 152h0M400.5 142.5h0M396 140h0M398.5 141h0M391 152h0M388.5 158.5h0M397.5 149h0M396.5 157h0M397 154.5h0M404.5 149.5h0M400 155h0M402 157h0M397.5 151.5h0M389.5 147h0M394.5 161h0M401.5 154h0M390 144.5h0M399 162h0M398.5 154h0M399 155h0M392 152.5h0M389 144.5h0M398 147.5h0M395.5 150.5h0M403 150.5h0M395.5 149h0M390 144h0M388.5 153h0M393 150.5h0M398 152h0M392.5 146.5h0M400 154h0M389.5 154.5h0M405 149h0M394 148h0M401 147h0M392 158h0M393.5 151h0M405 152h0M389.5 160h0M392 154h0M397 152h0M401.5 144h0M393 141h0M398 162.5h0M388.5 156.5h0M403.5 157h0M389.5 149.5h0M391 157.5h0M399.5 154h0M396 158h0M401.5 143h0M394.5 159.5h0M392 151.5h0M405.5 153.5h0M390 143.5h0M390.5 145.5h0M401 159.5h0M396.5 150h0M397 153.5h0M400 158h0M397 150h0M389 154h0M402.5 152.5h0M393 156h0M392.5 158h0M393 152.5h0M397 160.5h0M398 151h0M405.5 149.5h0M392.5 152.5h0M386.5 152h0M388.5 148.5h0M390 149.5h0M396 159h0M392.5 163h0M401 151.5h0M391.5 158h0M403.5 148h0M392 147.5h0M398 147h0M400.5 157h0M396.5 150.5h0M389 145.5h0M400.5 146h0M395.5 144.5h0M401.5 156.5h0M397 149.5h0M390.5 155.5h0M403 154.5h0M403 160h0M404 152h0M399 147h0M386.5 150.5h0M401 149h0M401 148h0M401.5 148h0M403 148.5h0M394.5 158h0M395.5 145.5h0M398 150.5h0M387.5 154.5h0M386 150.5h0M392.5 145h0M389.5 156.5h0M402 146.5h0M399 150h0M396 152.5h0M399.5 154.5h0M394.5 153.5h0M393.5 143.5h0M392 157.5h0M394.5 150.5h0M397 141h0M394.5 148h0M395 158.5h0M397.5 150h0M392 152h0M400 161h0M393 159h0M396.5 155h0M386 150h0M401 152.5h0M399.5 146h0M398 149h0M388.5 152h0M394 148.5h0M400.5 158h0M396.5 154h0M394.5 157.5h0M404.5 153h0M400 153.5h0M391 142h0M403 150h0M393.5 162h0M401 156h0M394 145.5h0M391 161h0M399.5 147h0M391.5 145.5h0M401.5 153h0M397.5 152h0M390 146.5h0M390 147h0M401.5 147.5h0M389 145h0M386.5 150h0M397 156.5h0M395 156.5h0M400 159.5h0M402 156.5h0M397.5 155.5h0M392.5 159.5h0M394 152h0M392.5 148.5h0M387.5 151.5h0M390.5 158.5h0M391.5 158.5h0M390.5 160h0M399.5 150h0M397 155h0M387 153.5h0M395 153h0M389.5 150h0M387.5 148h0M400.5 161h0M396 163.5h0M399 142h0M389 149h0M400 143h0M396.5 153.5h0M401 142h0M392.5 150h0M401 153.5h0M395 154h0M399 152h0M396 154h0M403 147h0M391 154h0M404.5 150.5h0M391.5 156h0M390.5 143h0M392.5 156.5h0M390 149h0M399.5 149.5h0M387 155.5h0M401.5 161h0M390 157.5h0M391 145h0M391 156.5h0M393.5 140.5h0M393.5 150.5h0M402 149h0M396 155.5h0M394 153h0M399.5 151.5h0M389.5 156h0M400.5 159h0M402.5 151.5h0M401.5 151h0M395 141h0M390.5 142.5h0M396 149h0M403 159.5h0M400.5 154.5h0M400 147h0M397 140h0M393.5 156h0M394.5 144.5h0M369 225.5h0M370 224h0M371 227.5h0M370.5 227h0M369.5 226.5h0M369.5 225h0M370.5 225h0M369.5 224.5h0M371.5 224h0M370 225h0M371.5 225h0M438 185.5h0M439.5 182.5h0M441 185h0M439 185.5h0M439 183.5h0M438.5 186h0M440 187.5h0M439.5 186h0M439.5 184h0M440 185h0M438.5 187.5h0M442 185.5h0M439.5 181.5h0M439 183h0M442 182h0M439 181.5h0M440.5 181.5h0M441.5 186h0M438 183h0M438 184.5h0M437.5 185h0M440.5 182h0M438.5 187h0M439 186h0M441.5 184h0M441.5 181.5h0M443 185.5h0M439 187h0M438 182.5h0M439 186.5h0M440.5 184h0M438 187h0M440 181h0M441.5 185h0M439.5 183h0M437.5 186h0M442 186h0M437 184h0M442.5 186h0" stroke="#8c6d31" stroke-width="1.7" stroke-linecap="round" fill="none"/>
<path d="M157.5 78.5h0M159 77.5h0M159 78h0M156 78h0M157.5 77h0M159 78.5h0M157 77h0M160 78h0M157.5 78h0M202 108.5h0M204.5 105.5h0M204 109.5h0M205 109.5h0M204 108.5h0M203 106h0M203 105.5h0M204 108h0M205 107.5h0M203.5 106.5h0M204 110.5h0M202 108h0M202.5 108h0M204.5 108.5h0M204.5 106h0M411 30.5h0M409.5 29.5h0M413 28h0M411 27h0M412 26.5h0M407 27.5h0M409 26.5h0M414 29.5h0M415 29h0M411.5 27h0M414.5 28h0M410 26.5h0M414.5 27h0M413 29h0M410 28h0M413.5 26h0M408 29.5h0M407.5 27h0M408.5 26h0M411 25.5h0M416 28h0M412.5 27.5h0M411 27.5h0M409.5 30h0M412.5 25.5h0M411 30h0M413.5 30h0M408 27.5h0M415 30h0M408.5 26.5h0M412 29.5h0M408.5 29.5h0M416 29h0M415.5 28h0M413.5 27h0M409 28.5h0M408 28h0M409.5 27h0M416 28.5h0M408 28.5h0M413 30.5h0M408.5 28h0M409 28h0M413.5 27.5h0M408.5 29h0M415.5 27h0M414 26h0M411 25h0M409.5 25.5h0M414.5 30.5h0M345 216.5h0M342 216h0M341.5 216h0M346.5 217.5h0M343.5 217.5h0M346.5 219.5h0M342 217h0M345.5 219.5h0M343 217.5h0M344 218.5h0M343 215.5h0M343.5 218h0M345.5 219h0M345 217.5h0M344.5 216.5h0M346.5 220h0M341 216h0M347.5 219.5h0M348.5 220h0M348.5 221.5h0M342.5 214.5h0M342.5 215.5h0M341.5 216.5h0M340.5 216h0M346.5 218h0M342.5 217h0M346.5 220.5h0M346.5 219h0M343 215h0M348 222h0M343.5 218.5h0" stroke="#de9ed6" stroke-width="1.7" stroke-linecap="round" fill="none"/>
<path d="M157 100.5h0M153.5 103h0M151 92h0M151.5 104.5h0M159 104.5h0M161 87.5h0M161.5 104h0M155.5 103.5h0M153.5 85.5h0M157 85h0M154.5 107h0M164 102.5h0M155 87h0M157.5 85h0M162.5 104h0M148.5 91.5h0M157.5 93h0M162 100h0M156.5 87h0M163.5 98.5h0M152 90.5h0M155.5 94h0M159.5 87.5h0M159 99.5h0M164 104h0M162.5 98h0M160 98.5h0M154 85.5h0M156.5 93.5h0M165 95.5h0M153.5 93.5h0M157 99h0M162 101.5h0M165.5 92h0M153 105h0M165.5 102h0M152.5 96.5h0M158.5 90h0M158.5 108.5h0M158.5 98.5h0M156 89.5h0M156.5 99h0M166 100h0M148 91.5h0M160 106h0M148 94.5h0M154 99h0M164.5 88.5h0M158.5 100h0M156.5 99.5h0M158 99h0M160 93h0M159 93h0M162 96.5h0M148 93h0M148.5 94.5h0M161.5 94h0M155 89.5h0M163.5 88.5h0M166 101h0M151.5 94h0M158.5 87h0M160.5 96h0M150 97.5h0M152 89.5h0M157.5 87h0M160 87h0M154.5 95.5h0M152 87h0M157.5 104h0M154 100h0M152.5 100h0M160.5 95h0M159.5 104h0M165 96h0M153.5 88h0M153 101.5h0M148.5 99h0M151.5 94.5h0M149.5 100.5h0M151.5 99h0M156.5 96h0M159.5 94h0M162.5 99h0M152 88.5h0M160 97.5h0M150 94h0M165.5 94h0M153 99h0M148 92.5h0M149.5 92h0M157.5 99h0M158 99.5h0M152 99.5h0M154.5 83.5h0M154 103h0M155 99h0M160.5 94.5h0M151.5 102.5h0M156.5 96.5h0M154 97h0M161 97.5h0M164 103h0M162.5 85.5h0M165.5 94.5h0M152.5 102.5h0M150.5 99h0M148 100.5h0M162.5 102h0M157.5 103.5h0M151 95.5h0M158 90.5h0M158 83.5h0M153.5 102h0M157.5 101.5h0M158 103.5h0M157 102.5h0M163.5 89.5h0M156 85h0M164.5 102h0M161 88.5h0M150.5 91h0M155 96h0M151 88.5h0M157 99.5h0M156.5 107.5h0M156.5 86h0M149.5 98.5h0M149 103h0M161 89.5h0M154 87h0M156.5 90.5h0M163.5 86.5h0M157 93.5h0M163.5 93.5h0M155.5 93h0M155 102h0M155.5 101h0M153.5 107.5h0M156 103h0M162 99.5h0M148.5 99.5h0M159 106h0M162.5 96h0M159.5 90h0M151.5 87h0M159 90.5h0M151.5 102h0M155.5 100.5h0M164 99h0M157.5 84.5h0M165 90.5h0M160 84.5h0M163.5 88h0M148 91h0M160.5 98.5h0M153 93.5h0M151 100h0M160 85h0M162 85.5h0M148.5 100h0M149 88.5h0M155 101h0M154 90h0M162 92h0M154.5 85.5h0M147.5 96.5h0M153 100h0M152 95.5h0M160 107h0M150 96h0M159.5 83.5h0M149.5 88.5h0M149 97.5h0M157.5 86.5h0M157 107h0M156.5 94.5h0M153.5 99h0M166 98.5h0M154 101h0M155 85.5h0M162 91h0M148.5 92.5h0M151.5 101.5h0M159 85.5h0M161.5 93.5h0M150 91.5h0M159 108.5h0M162 102.5h0M154.5 84h0M161 94h0M155.5 87h0M159.5 106.5h0M162.5 95.5h0M154.5 108.5h0M162.5 97h0M158.5 85.5h0M160.5 90.5h0M151 90h0M157.5 91h0M154.5 96h0M150 97h0M147.5 94.5h0M159 96.5h0M165 92.5h0M152.5 104.5h0M156.5 88.5h0M149.5 99.5h0M150 100h0M150 94.5h0M160 100h0M153 98.5h0M165 103h0M156 84h0M159.5 84h0M166.5 95h0M160.5 107.5h0M161 90.5h0M165.5 91.5h0M152.5 106h0M156.5 85.5h0M153.5 102.5h0M162 105.5h0M147 97h0M165 99.5h0M165.5 101.5h0M152 105h0M157 86h0M155 83.5h0M148.5 100.5h0M158.5 97h0M153 93h0M155.5 106.5h0M158 105.5h0M158 91.5h0M149.5 96.5h0M154 100.5h0M158 102.5h0M151 104.5h0M154 86.5h0M156 88h0M156 106.5h0M155 88.5h0M161.5 92h0M158.5 104h0M152 89h0M149 100h0M162.5 102.5h0M166.5 93h0M161 98h0M160.5 91h0M152.5 85.5h0M153 96.5h0M161 87h0M156 85.5h0M149.5 99h0M154 107h0M159 101h0M164 96h0M155 100h0M151 91.5h0M156.5 92h0M160.5 104.5h0M155 94h0M152.5 84.5h0M147.5 92h0M155.5 97.5h0M163.5 87.5h0M156 102h0M149 89h0M151.5 97h0M162 104h0M154 83.5h0M149 92.5h0M149 90.5h0M163 95.5h0M153 94h0M161 85.5h0M163.5 106h0M156 87h0M160.5 104h0M151.5 87.5h0M160.5 84.5h0M149.5 98h0M156.5 105h0M156.5 106h0M156 95.5h0M156 83.5h0M155.5 89h0M155 84h0M155 92.5h0M163 91.5h0M162 98.5h0M159 103.5h0M158.5 84.5h0M153 106.5h0M155 93.5h0M152.5 103.5h0M157 95.5h0M164 87h0M163 102.5h0M163 96.5h0M161 86.5h0M159 93.5h0M154 86h0M147.5 95.5h0M162 107h0M149 92h0M157.5 107.5h0M165 103.5h0M150 102.5h0M160.5 84h0M155.5 96h0M150.5 87h0M153.5 96.5h0M165 95h0M154.5 100.5h0M165 91.5h0M154 90.5h0M163 99.5h0M150 91h0M158.5 104.5h0M159 100.5h0M159.5 98.5h0M152.5 98h0M166 94.5h0M151 93.5h0M151 101.5h0M156.5 94h0M159 88.5h0M153.5 86.5h0M148 90h0M163.5 87h0M157.5 98.5h0M166.5 98h0M153 87h0M157 89.5h0M158 91h0M155.5 107h0M156 92h0M155 96.5h0M162 106h0M155.5 98h0M150 96.5h0M164.5 88h0M152 93h0M158 93h0M166.5 97.5h0M164.5 89h0M152 97h0M153.5 101.5h0M157.5 105h0M166.5 93.5h0M158 94h0M159 106.5h0M163.5 95.5h0M161 102.5h0M160.5 105h0M148 98.5h0M154 96.5h0M164 90.5h0M157.5 97.5h0M159.5 108.5h0M162.5 92.5h0M150.5 103h0M160.5 102h0M160 91.5h0M153.5 106.5h0M152 94h0M159 88h0M163 93.5h0M166 92.5h0M165 102.5h0M159 84h0M154 94h0M165 98.5h0M159 101.5h0M159 97.5h0M163.5 96.5h0M153.5 87.5h0M153.5 97h0M159 92h0M156.5 101h0M148.5 101h0M154 85h0M154.5 104.5h0M151.5 100h0M154 106.5h0M147.5 98.5h0M153 102h0M157.5 94h0M160 99.5h0M153.5 98h0M155.5 99h0M250.5 138.5h0M249.5 140h0M248 137.5h0M248.5 140.5h0M249 139h0M248.5 140h0M250.5 137.5h0M249.5 139.5h0M249.5 138.5h0M250 138.5h0M251 138.5h0M369.5 132.5h0M372 131h0M368 131.5h0M370 130.5h0M369 130h0M367 131.5h0M368 132.5h0M370.5 130.5h0M369 132h0M368.5 131h0M373.5 131h0M372.5 130.5h0M369.5 129.5h0M367.5 131.5h0M371.5 134.5h0M367.5 132h0M373 134.5h0M372.5 131h0M373 133h0M370 134.5h0M369 129h0M373.5 130h0M370.5 135h0M371.5 129h0M371 135h0M368 132h0M367 133h0M367 134h0M371 131h0M368.5 135h0M373.5 130.5h0M372 130h0M371.5 133.5h0M372 134.5h0M373 129.5h0M370 132.5h0M368.5 132h0M370.5 134.5h0M367 132.5h0M368.5 135.5h0M372 133.5h0M370.5 135.5h0M374 133h0M367 132h0M372 135.5h0M373.5 135h0M372.5 140.5h0M366 132.5h0M374 139.5h0M369.5 139.5h0M370.5 129.5h0M364.5 136h0M370 135.5h0M373 131h0M375.5 139h0M371.5 130h0M368.5 139.5h0M373.5 138.5h0M375 131h0M369 139.5h0M369.5 140.5h0M371.5 128h0M374 141h0M369 136h0M367.5 133h0M376 137h0M372.5 139h0M373.5 141h0M373.5 129.5h0M374 137h0M377.5 133.5h0M370.5 132h0M372.5 132.5h0M370 134h0M366 138h0M366.5 130.5h0M375 135h0M368 135.5h0M369 133.5h0M371.5 139h0M375.5 129.5h0M370 137.5h0M375 132.5h0M365.5 137.5h0M371.5 134h0M367.5 132.5h0M366 131.5h0M364.5 136.5h0M376 137.5h0M372 131.5h0M371.5 132.5h0M367.5 136h0M366 139h0M372.5 136.5h0M372.5 129h0M372 132.5h0M376.5 131h0M372 128h0M372 129h0M372.5 138h0M370.5 134h0M368.5 137.5h0M371.5 129.5h0M376 135h0M370 131.5h0M375.5 130.5h0M372.5 141.5h0M371 136.5h0M369 130.5h0M364.5 133.5h0M372.5 135h0M366 136h0M371.5 135h0M375 130.5h0M364 134.5h0M365 133h0M377.5 135h0M373.5 133.5h0M367 136h0M369 140.5h0M371 131.5h0M372 130.5h0M369 138h0M376.5 133h0M371.5 139.5h0M367.5 138.5h0M370 133h0M376.5 137h0M375 132h0M365.5 133h0M371 142h0M372 137.5h0M369 140h0M373.5 136.5h0M376.5 136h0M368 133h0M376.5 133.5h0M369.5 139h0M369.5 133h0M372 129.5h0M367 136.5h0M369.5 130h0M370.5 130h0M367 139h0M370 132h0M369.5 135h0M372 133h0M375.5 135.5h0M376 136h0M371 132.5h0M368 137.5h0M368.5 141.5h0M372 139h0M376 136.5h0M370 128.5h0M365.5 135.5h0M373 136.5h0M372.5 134.5h0M371 134h0M374.5 139h0M369 133h0M376 140h0M372 136h0M375 134.5h0M377 135.5h0M376 139.5h0M370.5 137h0M367 130.5h0M373.5 140h0M371 137h0M371 133.5h0M376.5 138.5h0M365.5 132h0M374 136h0M376.5 132h0M369.5 141.5h0M370 135h0M364.5 134h0M371 133h0M367 134.5h0M366 131h0M367.5 135h0M364 151.5h0M372 146.5h0M361.5 150.5h0M374 144.5h0M373.5 146.5h0M374 152h0M374 153.5h0M371 156.5h0M363.5 154.5h0M360 153.5h0M369.5 148.5h0M375.5 149.5h0M361.5 153h0M368 148.5h0M359.5 148.5h0M360 148h0M374 147.5h0M366 149.5h0M366 151h0M363 155h0M365 144.5h0M369.5 152h0M376.5 150.5h0M363 149.5h0M367.5 145h0M365.5 147h0M371 145.5h0M362.5 149h0M367 145.5h0M359.5 148h0M368 144.5h0M369 153.5h0M365.5 152h0M364.5 151.5h0M368.5 156h0M364 154.5h0M370 145.5h0M375.5 151h0M366 144h0M368 152h0M368.5 146.5h0M373 148.5h0M365.5 143h0M369 142h0M367.5 153h0M361 148.5h0M372.5 148h0M372 157h0M364 152.5h0M362.5 153.5h0M370 144h0M367.5 157.5h0M374.5 150.5h0M369 156h0M365 144h0M373 154h0M369 150.5h0M361 148h0M375.5 150h0M366 152h0M361.5 154h0M363 145h0M371 151h0M362 153.5h0M368.5 150.5h0M363.5 154h0M362.5 146.5h0M373 148h0M373.5 154.5h0M370.5 155h0M361 154h0M370.5 150.5h0M367.5 150.5h0M373.5 153.5h0M374 146h0M372 151.5h0M372 148.5h0M365.5 150h0M368 150h0M367 153h0M362 146h0M371 155.5h0M364 153.5h0M371 153.5h0M368 153h0M372.5 153h0M374.5 155.5h0M365.5 153.5h0M361.5 146.5h0M368 155.5h0M369 152.5h0M370.5 145h0M366.5 149.5h0M366 147h0M374.5 153.5h0M372.5 147h0M371.5 155h0M365.5 155h0M368 155h0M367 144h0M368.5 157.5h0M376.5 147h0M364.5 153.5h0M376.5 150h0M372 149h0M377 150h0M371 151.5h0M365.5 151h0M373 144.5h0M360 152h0M371 146.5h0M370 155h0M374.5 152.5h0M363 151h0M364 143.5h0M361.5 153.5h0M364.5 144h0M369 151h0M374 150h0M360.5 150.5h0M363.5 153h0M371 148h0M363.5 153.5h0M375.5 148h0M366 156.5h0M372.5 146.5h0M369 155.5h0M374.5 149.5h0M370 153.5h0M364.5 142.5h0M368.5 143.5h0M364.5 156.5h0M372 144.5h0M370.5 147h0M367 154.5h0M373.5 148.5h0M361.5 146h0M367.5 149.5h0M369.5 151h0M361 153.5h0M364 145h0M374.5 147h0M363 150h0M367.5 146h0M363.5 147.5h0M373 152.5h0M368 151h0M373 151.5h0M362 145h0M366.5 151h0M373.5 152.5h0M368 142h0M369 155h0M364.5 155h0M373.5 145h0M361 149h0M370 154.5h0M365.5 157.5h0M373.5 151.5h0M374 149h0M362.5 152h0M363.5 145.5h0M366 156h0M364.5 147h0M369 149h0M362 149.5h0M370.5 147.5h0M373.5 155h0M364.5 148h0M370 157.5h0M361 150h0M369.5 154h0M362.5 155.5h0M371.5 153h0M363 144h0M364 148h0M363 152h0M370.5 146h0M364 143h0M364 150h0M365 152h0M370 151h0M361 154.5h0M364 144h0M374 148.5h0M373 149h0M365 143h0M370 143.5h0M375.5 148.5h0M364 146h0M370.5 152.5h0M374.5 148.5h0M369.5 143.5h0M369.5 147h0M365 152.5h0M374 151.5h0M376 151h0M369.5 143h0M375.5 154h0M367.5 155h0M362 151h0M371 152h0M361.5 147.5h0M363 151.5h0M359 148.5h0M366 154h0M368.5 147.5h0M368.5 144h0M359.5 150h0M369.5 150h0M374.5 145.5h0M362.5 146h0M372 150.5h0M367.5 149h0M365.5 149h0M367 153.5h0M370 148h0M369 154h0M364 148.5h0M367.5 147.5h0M362 145.5h0M368.5 156.5h0M362 144.5h0M371 157h0M368 146h0M371.5 157h0M365.5 166.5h0M363.5 164h0M371.5 161.5h0M372.5 163.5h0M369 158h0M363 160h0M372 158h0M368.5 160.5h0M371.5 166h0M363 164.5h0M372.5 156.5h0M366.5 159.5h0M367.5 167.5h0M371.5 158h0M363 164h0M372.5 165h0M376 161.5h0M372.5 157.5h0M363 161h0M372 157.5h0M375.5 160h0M372 167h0M374.5 164h0M367 157.5h0M372.5 158h0M362.5 161.5h0M373 160.5h0M369 163.5h0M373.5 160h0M375 158.5h0M366 159h0M370 160.5h0M365.5 161h0M366 158.5h0M365.5 159h0M375 160.5h0M368.5 158h0M367 162h0M368.5 159.5h0M371 167.5h0M374.5 161.5h0M366 166h0M376.5 164h0M376 163h0M366.5 162h0M377 162h0M365.5 160.5h0M373.5 161.5h0M367.5 164.5h0M369 157h0M371 160.5h0M367.5 167h0M367.5 159h0M367 160h0M368.5 162.5h0M377 159.5h0M364.5 160.5h0M366.5 162.5h0M376 164.5h0M365.5 157h0M367 167.5h0M374 164.5h0M373 156.5h0M372.5 166h0M375 157.5h0M367.5 164h0M370.5 168h0M370.5 156.5h0M362 162h0M372 164h0M369.5 159h0M374.5 163h0M363.5 164.5h0M365 159.5h0M368 159h0M364.5 163.5h0M367 167h0M374 159.5h0M366 160.5h0M364.5 161h0M371.5 159h0M368 158.5h0M370.5 166.5h0M373.5 167.5h0M366.5 164h0M375 161.5h0M365.5 161.5h0M372 163.5h0M368.5 163.5h0M368 161.5h0M371 158h0M366.5 158h0M372.5 164h0M371 162h0M371 166.5h0M366.5 164.5h0M372 161.5h0M377 164h0M372.5 161.5h0M365 166h0M369 165.5h0M365.5 165.5h0M362.5 162h0M372.5 159h0M365.5 163h0M378 163h0M374 160.5h0M374 158h0M374 165.5h0M370 158h0M373.5 159h0M372.5 158.5h0M366.5 163.5h0M370.5 164.5h0M367.5 163h0M368.5 161h0M374.5 161h0M364.5 161.5h0M364.5 162h0M365 160.5h0M364 164h0M366.5 166.5h0M363 162h0M372 165h0M367.5 163.5h0M369 166.5h0M375.5 164.5h0M369.5 163h0M368 166.5h0M373.5 163.5h0M367 157h0M368.5 167h0M368 157.5h0M372 167.5h0M366 163.5h0M370 160h0M370 156.5h0M371.5 162h0M367.5 159.5h0M370 158.5h0M371 167h0M369.5 166.5h0M367 158.5h0M375 172.5h0M372.5 170.5h0M375 170h0M371.5 172h0M376.5 173.5h0M376.5 172.5h0M374 170h0M375 174h0M374.5 169.5h0M376.5 170.5h0M373.5 173.5h0M373 173.5h0M376 172h0M374.5 172.5h0M375 169h0M373.5 171.5h0M376 171.5h0M372 172h0M375.5 171.5h0M373.5 174.5h0M373 172h0M374 169.5h0M376.5 171h0M373.5 169.5h0M373 174.5h0M374 171.5h0" stroke="#5254a3" stroke-width="1.7" stroke-linecap="round" fill="none"/>
<path d="M182.5 126.5h0M180.5 107.5h0M196.5 117h0M171.5 122h0M182.5 119h0M193.5 121h0M199.5 113h0M175.5 124.5h0M199.5 120.5h0M174 118.5h0M176.5 115.5h0M197.5 109.5h0M200 121h0M188.5 108h0M182.5 128h0M190 128.5h0M194 128.5h0M179 110.5h0M191.5 114h0M175 111.5h0M177.5 113.5h0M187 130h0M186 130.5h0M193.5 119h0M186 107h0M186.5 111.5h0M171 116.5h0M184.5 106.5h0M198 115.5h0M179.5 120.5h0M172.5 115.5h0M186.5 107h0M196.5 120.5h0M196.5 120h0M187.5 115.5h0M179.5 117h0M184 109.5h0M175 127.5h0M198 118h0M190 118h0M198 121.5h0M197 122.5h0M191.5 129.5h0M187.5 110h0M195.5 124.5h0M177 116.5h0M174.5 124.5h0M192.5 122.5h0M177 106.5h0M186.5 115.5h0M177 128.5h0M189.5 114.5h0M191.5 108.5h0M193.5 106.5h0M187.5 121h0M181.5 130h0M175.5 109.5h0M195 113.5h0M181 117.5h0M180 106.5h0M179 113.5h0M179.5 104h0M194.5 128h0M174 123.5h0M191.5 124.5h0M180 126h0M192.5 115.5h0M183.5 120h0M187.5 119.5h0M193 105h0M174.5 121.5h0M193 127.5h0M176 118h0M194.5 125h0M199 111h0M198 119h0M196 122.5h0M187 104h0M198 121h0M175.5 117h0M181.5 129.5h0M182 109.5h0M188.5 126.5h0M189 105.5h0M190 113.5h0M195 120.5h0M195 112.5h0M189.5 130h0M173 124.5h0M188 104.5h0M194 123.5h0M191.5 125h0M185 107.5h0M178 125.5h0M197 112h0M195.5 106.5h0M179.5 125h0M191.5 108h0M200 121.5h0M196 119.5h0M179 114h0M200 120.5h0M179 116.5h0M192 107.5h0M189 104.5h0M179 117.5h0M186 109h0M184.5 110.5h0M183 110.5h0M186.5 119.5h0M183.5 103.5h0M183 115.5h0M178 110.5h0M193 114h0M190.5 124.5h0M197.5 122.5h0M173 122h0M183 114.5h0M192.5 121.5h0M184 108.5h0M197.5 117.5h0M178 115h0M190.5 111h0M183.5 123h0M190 112.5h0M195.5 122h0M171 113h0M178 129h0M189.5 121.5h0M185.5 109.5h0M189.5 118.5h0M189 107h0M174 113h0M180.5 108h0M189.5 128h0M186.5 124.5h0M181 113.5h0M189.5 107.5h0M192 122.5h0M180 129h0M195 123h0M183.5 119h0M189.5 110.5h0M184.5 114h0M186 127h0M197 114h0M184 113.5h0M193.5 126h0M198.5 111.5h0M174 118h0M178.5 108.5h0M170 120h0M171 123h0M189.5 123.5h0M179.5 126.5h0M197.5 122h0M177 128h0M185 111h0M179 113h0M184 126.5h0M176 117h0M183.5 114h0M178.5 126.5h0M180 110h0M193 112.5h0M172.5 117h0M199 117.5h0M174 125.5h0M172 110.5h0M193 123h0M185.5 114.5h0M171.5 117h0M183 107.5h0M192 110h0M177 112h0M187 117.5h0M193 114.5h0M182.5 114.5h0M178.5 124.5h0M193.5 126.5h0M191.5 127.5h0M178 122h0M199.5 115h0M188 110h0M188.5 121h0M183 123h0M177 111.5h0M194 114h0M172.5 118h0M178.5 110.5h0M197 108.5h0M194.5 110.5h0M199.5 121h0M176.5 109h0M184 117.5h0M172.5 125h0M182 110h0M194 107h0M186.5 128.5h0M187.5 127h0M179.5 117.5h0M181.5 121h0M190.5 111.5h0M184.5 124h0M177.5 111h0M191.5 128.5h0M175 122h0M174.5 115.5h0M194.5 125.5h0M181 120.5h0M182 110.5h0M181 113h0M198 123h0M180.5 118h0M180.5 120.5h0M179 121.5h0M170 112h0M175.5 121.5h0M187 105h0M179 108.5h0M187.5 106.5h0M185.5 104.5h0M187.5 120.5h0M190 118.5h0M186 103.5h0M191 104.5h0M179.5 116h0M195 120h0M194.5 111h0M196.5 113.5h0M195 110h0M179 105.5h0M190 113h0M184 124.5h0M189.5 104.5h0M179 127h0M181 106h0M185.5 115h0M185.5 129h0M193.5 112.5h0M189 122h0M194 107.5h0M179.5 113.5h0M189.5 115.5h0M200 119.5h0M180 107h0M188 116.5h0M188 112h0M198 122.5h0M173 108.5h0M182 126h0M176 115h0M196 109.5h0M189 116.5h0M176 114.5h0M178 115.5h0M172 119.5h0M171.5 117.5h0M187.5 123h0M185 118.5h0M186 121.5h0M180.5 112h0M195.5 125.5h0M178 113.5h0M192 121.5h0M186.5 114.5h0M176.5 114h0M171.5 122.5h0M195.5 122.5h0M172 122h0M176.5 111.5h0M180 118.5h0M191 128.5h0M179.5 108h0M189 107.5h0M181 126h0M189 110.5h0M175 124h0M180.5 109h0M171.5 111h0M185 112.5h0M193.5 116h0M179 125.5h0M200 118h0M189.5 122.5h0M197 123h0M174 107.5h0M180 113h0M200.5 114.5h0M177 109h0M176.5 119.5h0M193 118.5h0M176.5 106h0M181.5 128.5h0M183 125h0M179.5 111.5h0M176 125.5h0M187.5 113.5h0M182.5 110.5h0M184.5 127h0M176 118.5h0M181.5 125.5h0M171 122h0M192.5 118h0M193 121.5h0M187.5 112h0M196 110h0M175 109h0M194.5 108.5h0M171.5 112h0M188 126h0M191 129.5h0M183.5 125.5h0M175 119h0M198 124h0M192 125h0M198.5 114.5h0M171.5 116h0M180 109h0M191.5 120h0M188.5 130h0M175.5 128h0M200.5 119.5h0M187.5 130.5h0M192 120.5h0M186 114.5h0M176.5 128.5h0M197.5 121.5h0M186.5 130h0M182.5 111h0M185.5 128h0M190.5 112.5h0M194.5 119.5h0M173.5 108h0M172.5 115h0M174 119h0M172.5 124.5h0M196.5 125.5h0M178 122.5h0M180.5 113.5h0M173.5 125h0M183 108.5h0M178 109h0M185 127h0M201 117.5h0M191 120h0M187 106h0M198 117.5h0M185.5 109h0M178 119.5h0M177 121.5h0M192 117h0M193 113.5h0M199.5 113.5h0M178 128.5h0M190 107.5h0M179 111.5h0M198.5 120h0M173.5 116.5h0M196 107.5h0M177.5 117h0M181 120h0M172.5 109.5h0M200 112h0M178.5 117h0M185 113.5h0M190.5 126h0M185 126h0M179.5 105.5h0M181 105h0M179.5 114h0M190 128h0M187 126h0M176 107.5h0M183 124.5h0M177.5 115.5h0M188.5 109h0M183.5 118.5h0M199.5 116h0M187 103h0M188 111h0M181.5 113.5h0M195 127h0M197 121.5h0M198 116.5h0M173.5 113.5h0M180.5 129.5h0M186.5 121.5h0M172.5 113.5h0M171.5 113h0M178.5 117.5h0M191 116.5h0M196 125.5h0M180 105.5h0M180 115.5h0M170.5 118.5h0M171.5 119.5h0M177.5 123.5h0M191 112h0M181 125.5h0M172.5 125.5h0M183 128h0M176 108.5h0M175 109.5h0M175 118.5h0M194.5 107h0M184 128.5h0M181.5 126.5h0M176 106.5h0M183.5 126h0M185 103.5h0M197.5 121h0M182 113h0M178 114h0M185.5 130.5h0M176.5 126h0M197.5 120.5h0M182 123.5h0M185.5 105.5h0M191.5 119h0M190.5 109.5h0M170 118h0M201 119.5h0M176.5 121.5h0M198.5 119.5h0M190.5 114h0M171.5 121h0M179.5 108.5h0M192.5 113.5h0M200 118.5h0M187 112.5h0M199.5 111.5h0M194.5 108h0M174.5 110h0M178.5 112h0M196 121h0M174 125h0M189.5 120.5h0M178 127h0M187 114.5h0M182 103.5h0M184.5 116.5h0M181 108.5h0M176 109.5h0M192 108h0M191 113.5h0M172.5 109h0M192 112h0M187 105.5h0M194.5 109h0M191 128h0M189 106h0M197 125h0M191 120.5h0M170.5 111.5h0M179.5 109.5h0M194.5 106.5h0M177.5 108h0M174.5 127.5h0M193.5 111.5h0M178.5 107.5h0M188.5 106h0M182.5 121h0M170.5 115.5h0M200 115h0M197.5 110.5h0M182.5 120h0M180.5 109.5h0M177 126.5h0M187 113.5h0M175 110.5h0M177 117h0M171 118h0M188 124h0M174.5 126.5h0M176 112.5h0M195 125.5h0M175 108.5h0M176 120.5h0M176.5 119h0M193.5 128h0M193 112h0M190 105.5h0M186 116.5h0M196.5 116h0M184 118h0M175 121.5h0M173.5 118h0M184.5 122.5h0M191.5 129h0M173.5 115.5h0M191.5 115h0M174.5 109.5h0M193 120h0M182 113.5h0M183.5 112.5h0M197.5 114h0M183 119.5h0M194 116.5h0M190 111h0M191 121h0M178.5 119h0M178.5 109h0M189.5 106.5h0M170 121.5h0M180.5 112.5h0M189 127.5h0M190 106.5h0M193.5 118.5h0M180.5 105.5h0M178.5 116h0M192.5 129h0M187.5 116h0M194.5 120h0M188.5 110h0M187 122.5h0M173 119.5h0M188.5 119h0M195.5 107.5h0M192 123h0M186 115.5h0M182 108.5h0M195 119.5h0M200 117.5h0M172 118h0M189 128.5h0M182.5 124.5h0M177 113h0M182 119.5h0M177.5 107.5h0M179 115.5h0M182 118.5h0M195.5 120h0M173 114.5h0M185 130.5h0M189 123h0M184 124h0M199.5 122h0M182 127h0M188.5 126h0M185.5 125.5h0M197 116h0M176.5 112.5h0M181 130h0M175 108h0M181 115h0M193.5 110.5h0M180 112h0M173.5 117.5h0M180 111h0M178 124.5h0M181 122h0M191.5 126h0M185.5 112.5h0M181.5 128h0M199 122h0M186.5 112.5h0M186.5 128h0M174 117.5h0M180 117h0M178.5 113h0M184 107.5h0M193 123.5h0M175.5 125.5h0M174.5 114.5h0M183 118h0M196.5 109h0M179.5 107h0M185 113h0M188 113h0M180.5 122.5h0M174 115h0M182 116h0M191 123.5h0M196 109h0M191.5 112h0M187 103.5h0M187.5 110.5h0M191.5 109h0M197.5 116.5h0M185 105.5h0M172.5 120.5h0M194 120h0M180 106h0M197.5 123.5h0M186 122h0M181.5 116h0M190.5 110.5h0M177.5 124.5h0M177.5 121.5h0M192.5 125.5h0M185.5 124.5h0M192.5 123h0M180 117.5h0M190 104h0M185.5 115.5h0M184.5 126.5h0M192 120h0M184.5 122h0M190 110h0M199 115.5h0M187 127.5h0M170.5 116h0M180.5 118.5h0M191 118h0M177.5 127.5h0M192.5 108.5h0M197 115h0M172 119h0M186.5 120h0M190.5 112h0M174.5 112.5h0M173.5 121h0M189 110h0M200.5 116h0M187 112h0M180 121h0M171 111h0M182 124h0M188 123h0M193 111h0M192 127.5h0M191 111h0M198.5 114h0M188 128h0M190.5 121h0M181 116h0M199.5 111h0M192 115.5h0M188.5 116.5h0M178.5 121h0M174 110.5h0M190.5 124h0M175 126h0M181 112h0M192 105.5h0M194 117h0M181.5 113h0M184 106h0M177.5 118.5h0M183.5 104h0M184.5 116h0M179.5 104.5h0M183.5 127.5h0M175 115h0M194 121.5h0M197 109h0M175 123h0M193.5 110h0M184.5 119.5h0M190.5 120h0M190.5 108.5h0M184 116h0M189.5 116h0M183.5 129h0M197.5 118.5h0M188.5 125h0M200.5 120h0M184 105.5h0M187.5 103.5h0M178 107h0M173 124h0M184 111h0M194.5 115.5h0M189.5 107h0M182 106.5h0M194.5 120.5h0M195 106h0M193.5 108.5h0M198.5 119h0M182.5 120.5h0M172 117.5h0M182.5 114h0M186 124.5h0M187.5 105.5h0M188 101.5h0M188 94.5h0M186.5 96.5h0M191.5 94.5h0M182 95.5h0M189.5 92h0M181.5 97.5h0M191 101.5h0M187 94.5h0M186 108h0M194 101h0M192.5 101h0M191.5 106h0M189.5 93.5h0M184 98h0M189.5 98.5h0M188 97.5h0M189.5 102h0M191 103.5h0M191.5 96h0M186 100.5h0M180.5 103.5h0M183.5 95h0M184 101h0M180.5 102h0M192.5 96h0M190.5 95.5h0M191 97h0M184.5 104h0M193 94h0M194 99.5h0M192.5 98.5h0M195 101.5h0M187 98h0M186 97h0M193 94.5h0M190.5 91.5h0M194.5 102h0M183.5 98h0M188.5 99.5h0M188.5 106.5h0M182.5 100h0M189 91.5h0M190 106h0M191.5 99.5h0M181 97h0M184 104.5h0M186 98.5h0M192 99.5h0M191 100h0M180.5 97.5h0M196 99.5h0M182.5 97.5h0M192 97.5h0M182 101.5h0M187.5 100h0M181 104h0M186.5 93.5h0M193 99h0M190 92.5h0M184.5 101h0M185.5 102h0M184.5 103h0M188.5 98h0M184.5 99h0M190.5 97h0M187.5 107h0M188 98.5h0M189.5 104h0M188 95.5h0M184 107h0M185.5 94h0M183 95.5h0M181 102h0M190 102.5h0M189.5 91.5h0M188.5 96.5h0M188.5 103.5h0M187.5 101.5h0M191 102.5h0M189 93h0M181 102.5h0M185 96.5h0M184 95.5h0M186.5 93h0M185 97.5h0M195.5 102h0M192 96h0M193.5 105h0M184.5 94.5h0M187 100h0M188.5 99h0M183.5 102h0M189 105h0M189.5 103h0M186 104h0M187.5 93.5h0M195 101h0M187.5 91.5h0M184 104h0M195 103h0M194 106h0M190 97.5h0M187.5 94.5h0M192.5 97h0M193.5 95h0M187.5 95h0M189 99.5h0M191 98.5h0M186 101.5h0M188.5 97h0M186 104.5h0M186.5 100h0M191.5 107h0M189.5 105.5h0M181 99h0M180.5 100.5h0M186 91.5h0M182 100.5h0M194.5 95.5h0M186 102h0M194 102h0M192 97h0M184 106.5h0M190 93.5h0M191.5 92.5h0M192.5 103.5h0M194 98h0M184 108h0M180.5 100h0M185 93h0M185.5 104h0M190 93h0M194.5 96.5h0M189 97.5h0M185.5 92.5h0M184.5 108h0M193.5 106h0M188 92h0M183.5 105h0M193.5 104h0M183 102.5h0M186.5 104.5h0M183.5 107.5h0M195 96h0M188.5 92h0M189.5 94h0M192.5 94h0M188.5 96h0M188 102.5h0M184 100h0M188 93.5h0M191 94h0M190.5 107.5h0M192.5 100.5h0M189.5 96.5h0M183 100.5h0M182 96.5h0M183 93.5h0M194.5 99h0M188 99h0M183.5 106.5h0M191.5 98h0M189 106.5h0M189 94h0M189 102h0M192.5 104.5h0M191 96h0M184 93.5h0M184.5 97h0M186.5 94h0M190.5 105.5h0M183.5 105.5h0M182.5 95h0M188.5 94.5h0M193 100.5h0M188.5 105h0M194 103h0M185 94.5h0M189 98h0M185.5 100h0M193.5 101h0M182.5 105.5h0M186 92.5h0M186.5 92h0M192 105h0M181 96.5h0M190 100h0M188 103.5h0M195.5 97.5h0M188 99.5h0M189.5 99h0M188 108.5h0M192 96.5h0M192.5 106h0M192.5 97.5h0M187 95.5h0M191.5 93.5h0M192 95h0M180.5 101h0M183.5 101.5h0M192.5 100h0M194 96h0M189 95h0M194 102.5h0M187 92h0M185.5 94.5h0M185.5 99.5h0M197 111.5h0M198 113h0M200 108h0M194.5 104h0M199.5 108.5h0M195 107.5h0M195.5 114.5h0M199.5 108h0M195.5 113h0M199.5 110h0M199 106h0M197 108h0M196.5 106h0M200 104.5h0M197.5 107h0M193 110.5h0M201 110.5h0M196.5 107h0M194.5 105h0M200 110.5h0M198 103h0M193 106h0M201 107.5h0M198.5 109.5h0M197.5 103h0M200.5 108.5h0M198.5 110h0M192.5 109h0M195.5 106h0M198 110.5h0M197.5 106h0M198 110h0M193.5 111h0M196.5 112h0M196.5 104.5h0M197 113h0M198.5 103.5h0M197.5 108h0M197.5 115h0M199 104.5h0M197.5 111.5h0M196.5 105h0M201 105.5h0M200.5 107.5h0M197 103h0M200 111.5h0M197.5 105h0M200 107.5h0M192 108.5h0M197.5 110h0M196.5 103.5h0M201 112.5h0M197 111h0M199 114h0M199 110h0M201 111h0M201.5 109h0M193 109h0M201 111.5h0M197 109.5h0M192.5 109.5h0M196 103h0M193.5 112h0M192.5 111.5h0M199 106.5h0M199.5 105.5h0M200 109.5h0M198 104.5h0M194 110.5h0M202 108.5h0M196 112.5h0M200.5 113h0M198.5 107.5h0M201 110h0M193 106.5h0M199.5 109h0M173.5 128.5h0M176.5 124h0M166 125.5h0M168 125.5h0M167.5 125.5h0M174 128.5h0M168.5 125.5h0M171.5 126h0M169 127h0M175 126.5h0M176.5 125h0M173 123h0M173.5 126.5h0M176 123.5h0M177.5 128.5h0M168.5 129h0M171.5 123h0M168.5 126.5h0M170 123h0M174.5 122.5h0M169.5 129h0M170.5 127.5h0M170.5 124h0M175 125.5h0M173 126.5h0M173.5 127h0M169 125h0M175.5 126h0M175 128h0M175.5 127h0M174 129.5h0M173.5 124.5h0M177 124.5h0M174 122.5h0M172.5 126h0M175.5 128.5h0M171.5 129.5h0M174.5 124h0M172.5 128h0M169 130h0M170.5 128.5h0M177.5 125h0M167 124.5h0M168.5 123.5h0M174.5 125h0M166 126h0M176 124.5h0M171.5 128h0M168.5 127h0M174 130.5h0M175 127h0M166.5 127.5h0M174 130h0M168 129h0M172.5 122.5h0M173 131h0M175 130h0M175.5 123h0M173 130h0M169.5 125h0M172 130h0M167 127h0M174.5 126h0M170.5 124.5h0M173.5 123h0M173.5 125.5h0M169 122.5h0M173 123.5h0M168 123.5h0M167.5 124.5h0M167 126h0M168.5 126h0M172 123.5h0M170.5 128h0M172.5 122h0M171.5 130.5h0M167.5 124h0M167.5 129h0M166.5 124.5h0M173.5 130.5h0M170 129h0M169 123h0M201 122.5h0M200 123.5h0M198.5 123.5h0M195.5 121.5h0M198.5 121.5h0M201 123h0M197.5 126h0M197.5 125h0M202 119.5h0M200 122h0M200.5 126.5h0M199.5 119h0M199.5 119.5h0M200.5 125.5h0M202.5 120.5h0M198 123.5h0M198.5 118h0M202.5 124h0M202.5 121h0M199.5 120h0M196.5 124.5h0M200 125.5h0M201.5 122.5h0M199 120.5h0M201 124h0M199.5 123h0M199 125h0M198.5 122h0M197.5 126.5h0M196.5 123h0M201.5 118h0M198.5 124.5h0M195.5 123.5h0M199 123.5h0M197 120h0M202.5 122h0M197.5 125.5h0M197.5 119.5h0M203 122.5h0M197.5 124.5h0M197 119.5h0M198.5 120.5h0M201 124.5h0M201 126.5h0M200.5 124h0M195 123.5h0M180 105h0M178 103.5h0M178.5 102h0M175.5 103.5h0M178.5 105h0M180 107.5h0M177 104h0M179.5 102.5h0M179 109.5h0M176 110.5h0M178 106h0M175 102h0M178 106.5h0M178.5 109.5h0M181.5 107.5h0M180.5 103h0M178 108.5h0M182 107.5h0M181 107h0M181 108h0M183 105h0M182.5 106h0M179 109h0M177.5 105.5h0M180 102.5h0M179 103h0M175 107h0M178 102.5h0M174.5 108.5h0M176.5 107h0M176.5 105h0M176 102.5h0M178 103h0M181.5 108h0M177 107h0M175.5 106h0M178 108h0M177 105.5h0M178 104h0M173.5 105.5h0M181.5 103.5h0M177.5 110.5h0M181.5 103h0M179 108h0M175 110h0M182 107h0M176.5 101.5h0M179.5 110.5h0M176 108h0M175 106h0M174.5 107h0M176.5 105.5h0M180 108.5h0M174.5 104.5h0M175 105.5h0M178 105.5h0M178 102h0M175.5 103h0M178.5 106h0M151 208h0M150 208h0M150.5 206h0M151.5 206h0M150 206.5h0M151.5 207h0M152 207.5h0M420.5 53.5h0M424 57h0M422 57.5h0M419 54h0M420 58h0M423.5 57h0M423 54h0M420 56.5h0M423 54.5h0M421 58h0M418.5 55.5h0M420.5 55.5h0M418 55h0M420.5 57.5h0M424 55.5h0M419 57h0M419.5 55h0M419.5 57.5h0M418 56.5h0M419 55h0M418.5 55h0M421.5 57h0M421 56.5h0M421 57.5h0M422 57h0M441 100.5h0M425.5 117h0M436 104.5h0M443 115h0M441.5 115.5h0M437 117.5h0M442.5 111h0M416.5 104.5h0M437 99h0M440 105h0M421 115h0M423 98.5h0M435 107.5h0M432.5 115.5h0M428.5 115h0M431 124.5h0M429.5 107h0M438 111h0M416 105.5h0M430 100.5h0M415.5 109.5h0M427.5 116h0M426 106.5h0M434 99.5h0M427.5 122h0M436 118.5h0M421.5 116h0M430.5 124h0M423 104h0M434 105.5h0M425.5 104h0M435.5 103.5h0M435 114.5h0M434.5 112h0M416 108h0M421 109.5h0M435.5 110h0M435.5 114.5h0M436.5 120h0M420 100h0M432 107h0M430.5 106h0M428 110h0M436.5 100.5h0M425 98h0M423 98h0M430 118h0M433 110h0M433 122.5h0M429 124.5h0M418.5 114.5h0M443 110.5h0M416.5 113h0M430 110.5h0M428.5 109h0M429.5 116h0M429 124h0M435.5 118.5h0M440 121h0M422 102.5h0M423.5 111h0M438 100.5h0M420 112h0M430.5 110h0M425 115.5h0M443 114h0M438 114h0M441 108h0M432.5 119.5h0M425 106.5h0M438 121h0M428 101h0M438.5 116h0M434 107.5h0M433 117.5h0M441 118h0M425.5 103h0M421 121h0M425 97.5h0M421 115.5h0M436 96.5h0M430 96h0M443 113.5h0M429.5 96.5h0M433.5 103h0M430 122h0M434 101.5h0M423 107.5h0M430 106.5h0M440 107h0M436.5 117.5h0M436.5 106h0M425.5 107.5h0M432.5 110.5h0M425.5 99.5h0M423.5 102.5h0M434 109h0M432.5 100h0M429.5 113.5h0M428 104.5h0M425 109h0M426 120h0M423 117.5h0M428.5 96h0M440.5 103h0M438 118.5h0M429 110.5h0M421 100h0M427 115h0M417 113.5h0M428.5 113h0M440 117h0M427 97h0M435 98.5h0M436 106h0M443 110h0M438 106h0M421.5 111.5h0M432.5 120.5h0M424 122h0M423 113h0M432.5 101.5h0M419 110.5h0M444.5 110.5h0M436 121h0M437 105.5h0M430.5 98h0M424 105h0M437.5 105h0M428 119.5h0M421 122h0M417.5 113.5h0M431.5 123.5h0M438 116.5h0M422 111h0M424 104.5h0M424 103.5h0M437 98.5h0M435 111h0M418 112h0M426 111h0M433.5 99h0M433.5 120h0M434 113.5h0M436 118h0M426 102.5h0M420 114.5h0M429.5 124h0M431.5 116.5h0M427 120h0M434 107h0M420.5 108.5h0M419.5 110h0M425.5 121h0M426 122h0M437.5 108h0M418 116h0M433 106.5h0M421 98.5h0M427.5 104h0M438.5 115h0M419.5 106.5h0M437 106h0M433 101h0M420 110h0M429 118.5h0M427 96.5h0M442 103.5h0M423.5 120h0M427 116.5h0M442 112h0M434.5 113h0M434 121h0M418 109h0M439 102.5h0M417 114h0M421 121.5h0M420 101.5h0M420 118h0M442.5 110.5h0M417.5 109h0M424.5 108h0M433 105h0M426 102h0M427 122.5h0M436.5 118.5h0M417.5 105.5h0M442.5 106.5h0M424.5 123h0M432 118.5h0M430.5 111h0M427.5 101.5h0M442 110.5h0M426.5 117.5h0M432.5 100.5h0M417 112.5h0M439 98.5h0M428 116.5h0M439 114.5h0M442 118h0M420 105.5h0M436 119.5h0M431.5 119.5h0M429.5 108.5h0M422.5 99.5h0M431 107h0M426.5 120h0M418 109.5h0M427 111h0M440 105.5h0M427 105.5h0M426 118.5h0M419.5 115.5h0M423 116.5h0M440 116h0M417 107h0M437 112.5h0M434.5 107.5h0M439 103h0M431.5 121h0M430 114h0M433.5 110h0M431.5 113h0M416 112.5h0M424 102h0M421 103h0M425.5 114.5h0M425 100h0M419.5 101.5h0M432.5 107.5h0M434 109.5h0M425 110.5h0M442 104h0M442 106.5h0M438 110h0M431.5 106.5h0M424 106h0M426 98h0M418.5 101.5h0M430 123.5h0M436.5 101.5h0M427.5 110h0M433.5 111h0M438 110.5h0M431 101.5h0M435.5 102h0M431.5 110h0M435 99.5h0M430.5 114h0M437.5 99.5h0M439.5 119.5h0M437 113h0M424 109h0M440 115.5h0M422.5 98.5h0M421.5 103h0M421.5 101h0M427.5 106h0M424.5 102.5h0M421 119.5h0M420.5 101.5h0M422.5 119.5h0M436.5 119h0M419.5 113h0M422 105h0M429 97.5h0M431 95.5h0M418 103h0M429 115.5h0M436.5 103h0M427.5 120h0M426 116.5h0M431 96h0M430.5 121h0M420 116.5h0M420 116h0M418 106.5h0M432 113h0M427 113.5h0M438 118h0M419 115.5h0M432.5 118h0M428.5 123h0M424 115h0M436.5 123h0M429 106.5h0M428 95h0M435.5 122h0M444.5 113.5h0M428 118h0M422.5 121h0M441 113h0M425 97h0M439 104h0M439.5 108.5h0M435 110.5h0M435 106h0M431 113.5h0M424.5 104.5h0M431 103h0M442.5 115h0M418 117h0M431.5 112.5h0M422.5 117h0M438.5 104h0M430.5 100h0M432 116.5h0M423.5 116h0M434.5 99.5h0M419 102h0M430 121.5h0M436 101h0M442 108.5h0M427 122h0M433 107h0M424 111h0M432 111h0M437 108.5h0M416 107.5h0M439 107.5h0M434.5 106.5h0M430 110h0M419 103h0M425.5 120.5h0M419.5 119h0M433 96h0M434.5 105h0M434.5 123.5h0M421 112.5h0M439 114h0M439 109.5h0M433 110.5h0M425.5 109.5h0M434.5 98.5h0M417 108h0M437 111.5h0M429 95.5h0M429.5 117.5h0M415.5 110.5h0M424 102.5h0M439.5 120h0M439 99.5h0M419 114h0M428 120.5h0M426.5 116h0M426.5 96.5h0M426 97h0M417.5 110.5h0M433.5 118.5h0M444 109.5h0M431.5 102h0M430.5 113.5h0M423 99.5h0M437.5 107h0M436.5 111h0M421.5 114h0M428 99.5h0M433.5 113.5h0M427.5 108h0M441.5 104h0M434.5 108.5h0M428.5 111.5h0M429.5 106h0M428.5 117h0M439 113.5h0M443.5 106h0M431.5 116h0M430 118.5h0M421.5 119.5h0M436.5 110.5h0M427 114h0M427.5 123.5h0M426 100.5h0M430.5 119h0M431 100.5h0M430.5 119.5h0M433.5 124h0M430 111.5h0M430.5 122h0M418 116.5h0M429 123h0M432 100.5h0M418 106h0M426.5 111.5h0M428 124.5h0M425.5 118h0M422 109h0M435 115.5h0M421 105.5h0M422.5 118.5h0M440.5 107.5h0M421 118h0M438 97.5h0M443.5 109.5h0M423.5 113.5h0M434 98.5h0M424 106.5h0M431.5 120.5h0M426.5 114.5h0M439 120h0M440.5 117.5h0M436.5 97h0M437.5 105.5h0M440 111h0M434 119h0M420 106h0M426 118h0M434.5 122h0M420.5 116h0M432.5 108.5h0M432.5 109h0M427.5 122.5h0M429.5 111.5h0M438 119h0M426 123h0M428 123.5h0M430.5 96.5h0M425.5 105.5h0M418.5 113.5h0M435 109.5h0M431.5 105h0M444 112.5h0M435 120h0M420 110.5h0M443.5 115.5h0M423 118h0M441 111.5h0M429 97h0M426.5 107h0M437.5 107.5h0M434.5 118h0M431 97h0M437.5 115.5h0M421.5 102h0M441 110h0M428.5 99.5h0M434.5 108h0M440 110.5h0M430 124.5h0M433.5 105h0M433 106h0M429 110h0M433.5 112h0M425 99h0M420 108.5h0M416.5 106h0M440.5 113h0M421 111h0M419.5 99.5h0M434 97.5h0M437 115h0M442.5 111.5h0M425 107h0M422 114.5h0M438 107.5h0M417 106h0M420 111h0M422 116.5h0M435 103h0M419.5 111.5h0M431 102.5h0M423.5 100h0M429 99.5h0M430.5 99h0M439.5 104.5h0M435 97.5h0M429 111h0M438.5 111h0M435.5 116.5h0M435 123.5h0M419.5 120h0M419 106.5h0M424 101h0M425 111.5h0M430.5 102.5h0M424.5 106h0M416.5 108h0M437 120h0M437.5 104h0M429 102.5h0M437.5 120.5h0M443 107h0M425.5 122.5h0M422.5 112h0M430 101.5h0M437.5 110.5h0M429.5 97.5h0M435.5 117h0M425 117.5h0M416.5 112h0M418.5 116.5h0M444 113.5h0M437 111h0M430.5 115h0M425.5 116h0M426 115h0M419.5 96.5h0M417.5 92h0M416 101h0M425 102h0M420 95h0M420.5 99h0M420 94h0M423.5 98.5h0M416 99h0M418.5 105h0M413.5 101h0M418.5 95h0M417 103.5h0M427 104h0M421 106.5h0M423.5 102h0M421.5 103.5h0M420.5 103.5h0M423.5 97h0M413.5 95h0M414 101.5h0M426 101.5h0M417 102.5h0M413 97h0M415.5 102.5h0M419.5 95h0M421 91.5h0M413.5 101.5h0M420 93.5h0M415 103.5h0M420.5 93.5h0M423 103.5h0M412.5 96h0M422 106h0M424 97h0M416.5 103.5h0M414 105h0M415.5 98h0M421.5 92.5h0M415.5 105h0M419 105h0M416.5 100.5h0M423 106h0M419.5 98h0M426.5 99.5h0M418.5 93h0M423 97h0M411 99.5h0M423.5 103.5h0M411.5 101h0M425.5 103.5h0M422.5 94.5h0M413.5 96.5h0M420 106.5h0M422.5 101h0M414.5 95.5h0M427 102h0M418 96.5h0M415 102.5h0M419 95h0M422 94h0M411.5 100h0M419.5 103.5h0M421.5 98.5h0M424.5 93.5h0M419.5 105.5h0M418.5 95.5h0M416 94h0M420.5 103h0M417 106.5h0M415 102h0M414 97h0M416.5 99h0M423 95.5h0M425.5 93h0M421.5 92h0M427.5 97.5h0M421.5 100h0M412 100h0M421.5 99.5h0M415.5 94.5h0M424 103h0M422.5 101.5h0M426.5 100h0M418 95.5h0M416.5 105h0M419 93.5h0M412 98h0M427 102.5h0M420.5 101h0M416 93h0M421.5 96.5h0M424.5 104h0M428.5 98h0M419.5 105h0M418 92.5h0M425 93.5h0M417.5 96h0M421.5 93h0M420.5 106h0M416 95.5h0M418 98h0M413.5 99h0M412.5 103h0M418 105h0M425 104h0M414.5 104h0M412 100.5h0M427.5 96h0M420 103.5h0M411.5 100.5h0M416 92.5h0M426.5 95h0M427 96h0M423 101.5h0M425 100.5h0M414 95h0M427 103.5h0M423.5 106h0M424.5 97h0M425.5 104.5h0M415.5 93h0M419.5 91.5h0M422.5 96h0M414.5 98.5h0M427.5 99.5h0M423.5 96h0M420.5 94.5h0M419.5 94.5h0M416 104.5h0M418.5 92.5h0M425 103h0M422 96h0M418.5 104h0M426 103h0M427.5 99h0M420.5 98h0M427 100h0M428 97.5h0M417.5 103h0M414 97.5h0M418 101h0M425.5 102h0M417 101.5h0M414.5 103h0M414 102h0M419.5 92h0M424.5 98.5h0M424 95.5h0M417 92h0M431.5 96.5h0M447.5 99.5h0M443.5 101h0M431.5 92h0M445 99.5h0M430.5 96h0M447.5 96.5h0M436.5 100h0M434.5 103.5h0M441 103.5h0M437.5 98.5h0M440.5 98h0M435 104.5h0M441 101.5h0M430.5 94.5h0M436 91.5h0M445.5 100h0M435 92.5h0M437 101h0M439.5 105.5h0M431.5 94.5h0M434 100h0M438.5 100h0M444.5 101.5h0M431.5 97.5h0M444.5 99h0M444.5 95h0M437 101.5h0M441 93h0M434.5 93.5h0M448 99h0M441.5 94.5h0M435 92h0M432.5 95h0M446.5 93.5h0M437 94h0M438.5 90h0M433.5 99.5h0M439.5 101.5h0M440 102h0M444 102h0M445 93h0M445.5 100.5h0M434 97h0M431 99.5h0M437 97.5h0M432.5 91h0M440.5 96.5h0M441.5 96h0M442.5 98h0M441 105.5h0M447.5 98.5h0M433.5 94h0M443 103.5h0M438.5 91h0M435.5 100h0M438 88.5h0M435.5 95h0M449 99h0M431.5 100.5h0M432 98h0M439.5 92.5h0M431.5 93h0M439 96.5h0M441.5 89.5h0M449 93h0M432.5 94.5h0M444 104h0M440.5 90.5h0M440 99h0M445.5 92.5h0M433.5 93.5h0M448.5 94.5h0M441 97.5h0M432 95.5h0M440.5 89.5h0M437.5 89.5h0M441 106h0M436.5 93h0M442 95h0M432.5 95.5h0M444.5 90h0M434 99h0M433.5 101h0M438.5 99.5h0M445.5 89.5h0M439 97h0M441 104h0M445 101.5h0M438.5 98h0M435.5 93h0M446 91h0M441 95h0M431.5 92.5h0M431.5 94h0M435.5 90h0M433.5 92.5h0M444.5 103.5h0M438.5 101h0M436 89h0M437 92.5h0M441 94.5h0M440 89.5h0M445.5 93.5h0M440 96.5h0M446.5 91h0M442.5 104h0M435.5 96h0M440.5 90h0M433 92.5h0M445 97.5h0M434.5 97.5h0M440.5 91h0M437.5 94.5h0M438.5 94.5h0M436 91h0M448 94h0M446 92.5h0M448.5 99h0M435.5 91.5h0M448.5 97h0M442 91h0M436.5 90.5h0M431 99h0M445 97h0M440 104.5h0M447.5 101h0M439.5 102.5h0M443.5 89h0M444 94.5h0M443.5 90h0M448 99.5h0M442.5 93h0M436 103h0M435 99h0M446 101h0M443 103h0M437 95h0M438 99.5h0M442.5 105h0M440 92.5h0M448 98h0M432 93h0M447.5 92h0M442.5 97h0M441.5 98h0M444 91.5h0M440 98.5h0M438 98h0M435.5 100.5h0M440 101.5h0M441 99.5h0M440.5 100.5h0M439 90h0M436.5 92h0M447 90.5h0M440.5 94.5h0M447 95.5h0M445.5 95h0M439.5 101h0M447.5 95h0M440 91h0M439.5 91h0M443 98h0M431.5 100h0M435 94h0M446 94h0M437 105h0M444 93h0M445 102.5h0M433.5 100.5h0M445.5 97.5h0M442.5 101h0M448 100h0M431.5 101h0M438.5 94h0M444.5 93.5h0M432.5 99h0M443 92.5h0M434.5 93h0M438 97h0M439 100.5h0M439.5 102h0M442.5 103h0M444 96h0M436.5 102.5h0M431 98h0M448 96.5h0M437.5 101.5h0M435 104h0M449 100.5h0M424 130h0M424.5 114.5h0M427 129h0M426 115.5h0M424 118.5h0M420 125h0M424 128.5h0M432.5 122h0M427 124h0M418.5 128h0M422.5 111h0M424.5 129.5h0M422.5 110.5h0M428 122.5h0M432 119.5h0M423.5 129.5h0M429.5 120h0M427.5 111h0M425.5 128.5h0M420 113h0M421 117.5h0M415.5 123h0M416.5 121.5h0M427 126h0M416.5 115h0M418.5 117h0M426 130h0M428 113.5h0M427 112.5h0M424.5 119h0M421.5 125h0M429 120h0M425 122.5h0M420 126h0M417 115.5h0M423.5 112.5h0M416 119h0M417 122h0M423.5 113h0M429 123.5h0M415.5 121.5h0M422 122h0M428.5 129h0M430.5 117.5h0M423.5 110.5h0M421 129.5h0M420.5 113h0M431 121h0M416.5 124h0M429.5 123.5h0M419 121h0M423.5 124.5h0M431 116.5h0M418 123.5h0M429.5 121h0M419 112.5h0M429.5 126.5h0M421 113.5h0M415.5 123.5h0M425 130.5h0M430 125.5h0M421.5 128h0M426.5 115.5h0M425 123h0M420 129.5h0M417.5 112.5h0M417 126h0M431.5 115h0M433 123h0M431.5 113.5h0M425 116h0M433.5 122.5h0M421 122.5h0M422.5 117.5h0M430.5 111.5h0M423 123h0M428 127.5h0M427.5 124.5h0M420 120h0M420.5 123h0M430 119h0M421 129h0M419.5 115h0M422.5 111.5h0M418.5 118h0M424 129h0M423 111.5h0M425 121.5h0M424.5 120.5h0M415 116.5h0M419 128h0M418.5 125h0M423.5 127.5h0M419.5 125.5h0M414.5 121h0M417.5 122h0M416.5 123.5h0M420 111.5h0M421.5 110.5h0M418 126h0M422 118.5h0M422 129.5h0M424 113h0M418.5 124.5h0M419.5 130h0M419 113h0M423.5 119.5h0M427.5 127.5h0M419.5 123h0M430.5 122.5h0M423.5 128h0M426 121h0M416 120h0M428.5 116h0M424 114.5h0M421.5 126.5h0M418.5 115.5h0M416 121.5h0M433 123.5h0M418.5 121h0M424 113.5h0M414 120h0M430.5 120.5h0M424.5 113h0M429.5 125.5h0M425.5 111.5h0M415.5 114.5h0M425.5 127.5h0M430 128h0M432 123.5h0M423 120h0M420.5 120h0M415.5 116h0M418 124h0M426.5 113.5h0M431 127h0M425.5 114h0M417 118.5h0M422.5 125.5h0M432 120.5h0M427 123.5h0M419 126h0M426 127.5h0M416 124.5h0M432.5 124.5h0M426 116h0M421.5 119h0M428 117.5h0M431.5 127h0M429 121h0M429.5 125h0M416 126.5h0M425 123.5h0M424 126.5h0M419 118h0M424.5 109.5h0M417 127.5h0M424 118h0M431.5 123h0M431 114.5h0M429.5 120.5h0M419.5 122h0M427 111.5h0M429 112h0M417.5 115.5h0M428 111h0M432.5 114.5h0M421.5 120h0M424.5 130.5h0M423 128h0M421.5 112.5h0M416.5 117h0M426.5 122.5h0M431 117.5h0M427.5 124h0M427.5 121h0M419.5 127h0M433.5 121h0M427.5 117.5h0M422 119h0M432.5 125.5h0M433 124h0M422.5 130.5h0M420.5 124h0M432 118h0M414.5 119h0M431.5 117h0M429 113h0M415.5 125h0M424.5 114h0M425 124.5h0M431.5 125h0M432 123h0M418 122.5h0M423.5 121h0M420.5 128.5h0M431 118h0M422 121.5h0M429 126.5h0M424 109.5h0M419 124h0M429 112.5h0M421.5 116.5h0M414.5 122h0M428.5 120.5h0M418 115.5h0M428 114.5h0M419.5 129h0M422.5 130h0M430 112.5h0M442 127h0M445 117.5h0M440 118h0M436.5 115.5h0M444.5 128.5h0M438.5 117.5h0M438 128h0M445.5 117h0M442 121h0M440 128.5h0M450 118.5h0M437 118.5h0M440 128h0M446.5 128.5h0M440 116.5h0M442 115h0M440.5 123h0M449.5 122.5h0M438.5 114h0M448 117.5h0M436.5 126.5h0M447 123.5h0M444.5 115.5h0M445 116h0M437 122.5h0M445.5 112.5h0M450.5 122.5h0M442.5 116h0M442 120h0M449 122h0M437 120.5h0M443 126.5h0M440.5 120.5h0M447.5 128h0M438 120h0M437.5 114h0M448.5 117.5h0M441 119.5h0M442 113h0M442.5 121h0M447.5 114.5h0M446.5 113h0M444.5 129h0M441 114.5h0M444.5 111.5h0M441 126.5h0M443 112h0M440.5 127.5h0M443 115.5h0M435.5 119h0M442 124.5h0M441 115h0M443.5 117.5h0M445.5 119h0M439.5 115.5h0M443.5 125.5h0M444 120.5h0M438 127.5h0M442 114h0M442 125.5h0M447.5 123h0M438.5 125h0M444.5 121.5h0M449 123.5h0M440 117.5h0M448.5 124.5h0M446 126h0M436.5 116h0M449 117.5h0M449.5 120h0M448 122h0M449 119.5h0M447.5 116.5h0M437.5 123h0M444 113h0M448.5 115.5h0M447.5 129h0M440.5 124h0M444 126h0M445.5 120h0M441 125.5h0M442 111.5h0M450 124h0M443.5 112.5h0M443.5 113h0M446 112h0M440 112.5h0M441.5 113.5h0M442 124h0M436 123h0M442.5 125h0M436.5 122h0M447.5 114h0M443.5 120.5h0M439.5 122.5h0M445 113.5h0M444.5 117.5h0M447 127.5h0M449 118.5h0M443 130.5h0M446.5 112h0M437.5 121.5h0M439 119.5h0M443.5 111.5h0M443 122.5h0M443.5 126h0M439.5 120.5h0M442.5 127h0M450 121.5h0M447.5 118h0M447 117.5h0M448.5 117h0M439 115.5h0M449.5 124h0M448 116h0M442.5 121.5h0M438 125h0M445.5 116h0M441.5 120.5h0M442.5 124.5h0M437.5 118.5h0M449.5 127h0M441.5 127h0M443 119h0M440.5 121h0M443.5 127.5h0M440 115h0M447 125h0M442 129h0M445.5 111.5h0M448.5 122.5h0M444 127.5h0M448 120.5h0M443 121.5h0M441 129.5h0M439.5 117h0M442 118.5h0M439 115h0M437 123h0M449.5 122h0M442.5 112.5h0M446 119h0M444 126.5h0M443.5 122h0M438.5 124h0M445 114h0M441 123h0M449 117h0M443.5 124.5h0M446.5 122h0M444.5 116.5h0M441 130h0M438.5 113h0M449 114.5h0M438 123h0M447.5 127.5h0M442 122.5h0M447.5 127h0M442.5 125.5h0M443.5 115h0M443.5 119h0M444.5 128h0M436 120h0M440.5 117h0M435.5 124.5h0M447 122.5h0M450 120h0M417.5 55.5h0M422 50.5h0M417 53.5h0M420.5 50.5h0M415 56h0M422 52h0M422.5 51h0M416.5 54.5h0M415 55.5h0M418.5 54h0M416 55.5h0M418.5 53.5h0M421 51.5h0M419.5 51.5h0M420 51.5h0M419.5 50.5h0M416 56.5h0M415.5 55.5h0M421 52.5h0M419 51.5h0M418 55.5h0M417.5 53h0M415.5 55h0M418 54.5h0M421.5 53h0M420.5 52h0M416 58h0M415.5 56h0M416 55h0M421.5 50.5h0M421 51h0M424 49.5h0M430 49h0M431.5 48.5h0M427 49.5h0M431.5 49h0M425.5 50.5h0M429 48h0M429 49.5h0M425 48.5h0M426 49h0M423 50h0M424 50.5h0M424 48.5h0M429.5 48.5h0M423.5 50.5h0M423 50.5h0M428 49.5h0M423 49.5h0M432 48.5h0M424.5 50.5h0M430.5 49.5h0M422.5 50.5h0M425.5 49.5h0M423 51h0M426 48.5h0M431 49.5h0M431.5 47.5h0M423.5 48.5h0M425.5 48h0M427 48.5h0M423.5 49.5h0M430 52h0M431 49h0M430.5 53.5h0M429.5 57.5h0M429 52.5h0M431 54h0M431 55h0M431 50.5h0M431.5 49.5h0M431 57h0M430.5 57.5h0M431 50h0M429.5 55.5h0M431.5 52h0M430.5 52.5h0M429.5 55h0M428.5 57.5h0M431 51.5h0M428 57h0M429.5 52h0M431.5 50.5h0M431.5 52.5h0M432.5 51h0M431 56.5h0M431.5 51.5h0M432.5 50.5h0M390.5 75.5h0M383 72h0M375 65.5h0M370 62h0M376.5 64.5h0M370 61.5h0M383.5 73h0M375.5 65h0M381 69.5h0M371.5 62h0M372 62.5h0M395 79.5h0M377 65.5h0M392 76h0M379 69.5h0M395.5 80h0M389 75.5h0M386 73.5h0M385 74h0M381.5 69h0M393.5 80.5h0M389 76h0M389 74.5h0M375.5 64.5h0M379.5 67.5h0M383 72.5h0M371.5 61h0M387.5 75h0M379.5 68h0M392.5 80.5h0M391.5 77h0M373.5 65h0M383.5 71h0M381.5 68h0M383.5 72.5h0M382.5 69h0M372 64h0M378 66.5h0M377.5 65h0M389.5 75.5h0M377 67.5h0M383 69h0M386 71.5h0M372.5 63h0M388.5 74.5h0M379 68.5h0M370 60.5h0M388.5 77h0M394 79.5h0M373.5 62h0M393.5 78.5h0M381.5 70h0M387 73.5h0M381 68h0M393.5 80h0M373.5 63.5h0M372.5 61h0M391.5 79.5h0M389 76.5h0M394.5 79.5h0M374 65.5h0M380 69.5h0M377 67h0M383.5 72h0M378.5 66h0M392.5 79h0M396 80.5h0M372.5 62h0M391.5 76.5h0M389 75h0M384 71.5h0M371 62h0M392.5 80h0M388.5 76.5h0M383 69.5h0M385.5 72.5h0M392.5 78.5h0M393 79.5h0M377 65h0M393 80h0M393 78h0M372 62h0M392.5 77.5h0M389.5 77.5h0M371.5 60h0M391 76h0M386.5 73.5h0M385 71.5h0M389 77.5h0M387 75.5h0M379.5 66.5h0M378.5 67h0" stroke="#98df8a" stroke-width="1.7" stroke-linecap="round" fill="none"/>
<path d="M210.5 101h0M209 102.5h0M209.5 102.5h0M212 101h0M211.5 98.5h0M212 98.5h0M211 98h0M209.5 100h0M210.5 100h0M211.5 101h0M210.5 101.5h0M214 100.5h0M211 101.5h0M213 102h0M210.5 98.5h0M208.5 101h0M211.5 102h0M210.5 98h0M212.5 100.5h0M210 102.5h0M209.5 101h0M99 170h0M104 183.5h0M92 180.5h0M104.5 173h0M94 178h0M94.5 180h0M95.5 169.5h0M101 176h0M104 175.5h0M100.5 170h0M105 180h0M95 173h0M105.5 171.5h0M94 178.5h0M100 181.5h0M91 179.5h0M105.5 172h0M92.5 170h0M98.5 180.5h0M88.5 177.5h0M90.5 176h0M105.5 181.5h0M98 178.5h0M95.5 172.5h0M104 171.5h0M104.5 170.5h0M97 172h0M92.5 177.5h0M104.5 183h0M106.5 180h0M90 172.5h0M101.5 180.5h0M92 182h0M98.5 174h0M93 176h0M98.5 177h0M99.5 175.5h0M104.5 178h0M92.5 176h0M99 173h0M89.5 176.5h0M97.5 171h0M101.5 171h0M106 172h0M95.5 179h0M105.5 173.5h0M99 184h0M101 176.5h0M105.5 175.5h0M105 174h0M106 173.5h0M94.5 170.5h0M104.5 169h0M100 170.5h0M99 179.5h0M89.5 173.5h0M93.5 181.5h0M102.5 172h0M101.5 168.5h0M89.5 179.5h0M98.5 173.5h0M93.5 177.5h0M107 171.5h0M90.5 178h0M103.5 170.5h0M107 172.5h0M95.5 180h0M103.5 169.5h0M98.5 169.5h0M103.5 170h0M107.5 180h0M95 181.5h0M90 173.5h0M102.5 172.5h0M96.5 181.5h0M102 181h0M95.5 175.5h0M93 173h0M101 172h0M100 184.5h0M97 178h0M103.5 173h0M100.5 168h0M94.5 171h0M97.5 183.5h0M89.5 172h0M91.5 172h0M105 180.5h0M100.5 181.5h0M89.5 178.5h0M97 184.5h0M90 180.5h0M91.5 178.5h0M95 181h0M108 174.5h0M104 177.5h0M91.5 174h0M90 172h0M94 175.5h0M94.5 181h0M100.5 172h0M94 169h0M93.5 179.5h0M107 178h0M101 178h0M94 171.5h0M102.5 183.5h0M101 179h0M99.5 176.5h0M94 176h0M102.5 183h0M107 179.5h0M101.5 172h0M96.5 176.5h0M95.5 181h0M102.5 171h0M100 177.5h0M97.5 184h0M94.5 178.5h0M99 174.5h0M97.5 185h0M102 170.5h0M98 167.5h0M106.5 176.5h0M89.5 176h0M99 177.5h0M99.5 180h0M100 183.5h0M99 178.5h0M99.5 185h0M93.5 172.5h0M96 182h0M90 174h0M97 168.5h0M93 179h0M99.5 174h0M97.5 178.5h0M104.5 172h0M91 175h0M101.5 174.5h0M103 170.5h0M98.5 175h0M96 169.5h0M92 178h0M94.5 173.5h0M100.5 184.5h0M101 174.5h0M106.5 173h0M96 176h0M96 169h0M98.5 174.5h0M100 176.5h0M92 175.5h0M103.5 178h0M105 175.5h0M106.5 181h0M95 182.5h0M94.5 174.5h0M93 175h0M89 177h0M102.5 177h0M99 170.5h0M90.5 174h0M93.5 174h0M93 171h0M90.5 179.5h0M90.5 174.5h0M95.5 169h0M103 171h0M94 174h0M100.5 175h0M101.5 178.5h0M97 176.5h0M95 183h0M97.5 180h0M102.5 175h0M103 173.5h0M91.5 175h0M103 184h0M104 170h0M93.5 179h0M94 173h0M105.5 180.5h0M99.5 171h0M96 172h0M106.5 174h0M98.5 184h0M102 179.5h0M97.5 167.5h0M97.5 184.5h0M96.5 177.5h0M104 176.5h0M93 170.5h0M94 183.5h0M106 179h0M98 181.5h0M107 179h0M102.5 182h0M98.5 172h0M104.5 180.5h0M97 175h0M104 181h0M104.5 169.5h0M92.5 172.5h0M104 168.5h0M92.5 173h0M103 183h0M100 184h0M90.5 171h0M102 181.5h0M89.5 175.5h0M99.5 181.5h0M97 169.5h0M105 179.5h0M91.5 189.5h0M96 190h0M93.5 189h0M96.5 190h0M94 190h0M94.5 190h0M92 189.5h0M92 190h0M92 189h0M218 158h0M216 157h0M218 156.5h0M219.5 155.5h0M219.5 156.5h0M217 157h0M218 156h0M218 157.5h0M217.5 157.5h0M216.5 156.5h0M217.5 157h0M221 156h0M219 155.5h0M219.5 157.5h0M220 156.5h0M219.5 154h0M219 155h0M218.5 154.5h0M218.5 156h0M221 156.5h0M219.5 159h0M217 158h0M218.5 153.5h0M220 155h0M217 156.5h0M216 154.5h0M220 156h0M215 124h0M216 126h0M215.5 124h0M215 120h0M214 118.5h0M213.5 126h0M214 121h0M212.5 120.5h0M213.5 124.5h0M216 126.5h0M214 126.5h0M214.5 128h0M215 128h0M214 125h0M215 121h0M214.5 125.5h0M212 118.5h0M215 120.5h0M213.5 119h0M212 120.5h0M215 122h0M215.5 125h0M212.5 121.5h0M214.5 124.5h0M215.5 126h0M213.5 118h0M213.5 128h0M214 127.5h0M84 166h0M90.5 169h0M89.5 169h0M85 167h0M89.5 168h0M90.5 168.5h0M90 168.5h0M85 166.5h0M89 169h0M87.5 167h0M83 168h0M86.5 168h0M93.5 169h0M83 168.5h0M86 166.5h0M86 168h0M95 169.5h0M87.5 169.5h0M93 169.5h0M94.5 170h0M87.5 168.5h0M88 168.5h0M91.5 169.5h0M90 170h0M95 170h0M87 169h0M85.5 166.5h0M82.5 165.5h0M94 170h0M90 169.5h0M89.5 167.5h0M86 168.5h0M86.5 169h0M92 170h0M93.5 170.5h0M86 169h0M84.5 169h0M88 169.5h0M94 171h0M93 168h0M387.5 190.5h0M390 204h0M395 187.5h0M406 202h0M395 193.5h0M409 194.5h0M392 193.5h0M393 186h0M392.5 189.5h0M404.5 203h0M389 197.5h0M399 189h0M397.5 197.5h0M397.5 193.5h0M384 195h0M397.5 202.5h0M398 202h0M389 205h0M388.5 202.5h0M395.5 188.5h0M389 204.5h0M385.5 204h0M393.5 186h0M401.5 191h0M403 187.5h0M408.5 194.5h0M401.5 200h0M397 207h0M385.5 202.5h0M385.5 192.5h0M387.5 191.5h0M395.5 204h0M407.5 200h0M393 196h0M398 198h0M403.5 195h0M393 189.5h0M407 193.5h0M391 203.5h0M389.5 202.5h0M395 203h0M382.5 197.5h0M387.5 204.5h0M409 199.5h0M398 190h0M398 203h0M385 204h0M392 192h0M390.5 189h0M388 198.5h0M404.5 205h0M387.5 188.5h0M388 192.5h0M394 196h0M384 191h0M388.5 187.5h0M388.5 193.5h0M408.5 197.5h0M391.5 198h0M382.5 201h0M399 193.5h0M387.5 194.5h0M404 198h0M398 188.5h0M390.5 188h0M385 197.5h0M409.5 194h0M394.5 195h0M400 204h0M394.5 204.5h0M394.5 197h0M406.5 194h0M392 202h0M398.5 192.5h0M402 206h0M399 197h0M389.5 198.5h0M400 203h0M396.5 190h0M410 197h0M387 202h0M402.5 190.5h0M402.5 195h0M391.5 206h0M407.5 198h0M389.5 201h0M398.5 203.5h0M397 190h0M386.5 196h0M407.5 202h0M400.5 187h0M400 186.5h0M388 205.5h0M400 202.5h0M398 196h0M404.5 187.5h0M399 202h0M382.5 191h0M385.5 194.5h0M394.5 206.5h0M409.5 193h0M397 194.5h0M396 204.5h0M395 190h0M395 197h0M398 201.5h0M386 198h0M385.5 190h0M398 191.5h0M392.5 205.5h0M392.5 192.5h0M396 207h0M395 205h0M382 200.5h0M404 197.5h0M393.5 188h0M403 195.5h0M406 204h0M395 191.5h0M392 191h0M390.5 196h0M398.5 197.5h0M400.5 191.5h0M399.5 193h0M405.5 199h0M401 190.5h0M401.5 189.5h0M393.5 201.5h0M394 198.5h0M384 203h0M403 204.5h0M393 200h0M396 200h0M403 201.5h0M388 202.5h0M387.5 198.5h0M402 194h0M389 186h0M398 193.5h0M397 204h0M396.5 189.5h0M405.5 198.5h0M394.5 190.5h0M405.5 199.5h0M396.5 199h0M408.5 201h0M381.5 197.5h0M400.5 206h0M394 195h0M392 190h0M391.5 197.5h0M398 189.5h0M385 204.5h0M399.5 185.5h0M396 196h0M396.5 200.5h0M389 203.5h0M386.5 188h0M390 195.5h0M397.5 189.5h0M396 188h0M402.5 201.5h0M404.5 191h0M401.5 192.5h0M391 193h0M407.5 192h0M389 190.5h0M393.5 206h0M406.5 189h0M396 208h0M400 197h0M407 202.5h0M404.5 201.5h0M396 197.5h0M382 191.5h0M401.5 198.5h0M401 188.5h0M398 187.5h0M383 201.5h0M386 189h0M399 203.5h0M383.5 195h0M394.5 207h0M397 206h0M398.5 200.5h0M403.5 201.5h0M386.5 189.5h0M404 196.5h0M389 206.5h0M410 196.5h0M401.5 199.5h0M383 197.5h0M410 196h0M388 187.5h0M394.5 194h0M397 193h0M404 195.5h0M380.5 197h0M394.5 203.5h0M393 202h0M394.5 201.5h0M392.5 203.5h0M404.5 200.5h0M403.5 191h0M398 186.5h0M408 193h0M398 190.5h0M388 200h0M402.5 198.5h0M388.5 189h0M381 195h0M406 189.5h0M392 196h0M402 185.5h0M408.5 194h0M400.5 188h0M402.5 200h0M391.5 186.5h0M398 185h0M395 199.5h0M388 205h0M388.5 206h0M380.5 195.5h0M399 197.5h0M382 201h0M398.5 190.5h0M405.5 195.5h0M405.5 191h0M384 200h0M403 191.5h0M401.5 192h0M408.5 191.5h0M390.5 202h0M393.5 200h0M394.5 205h0M405.5 192h0M387.5 190h0M400.5 199h0M387 188h0M396.5 193.5h0M403 186.5h0M387.5 192.5h0M403.5 199.5h0M407 196.5h0M397 191h0M389 196.5h0M384 199h0M392 192.5h0M384.5 200h0M388 193h0M402.5 189.5h0M399 200h0M404 204h0M405.5 197h0M407 200.5h0M403 198.5h0M408 200.5h0M387 201.5h0M389 197h0M401.5 204h0M394.5 200.5h0M382 195h0M395 189h0M399.5 186.5h0M389.5 202h0M399 196h0M400 190h0M388 191.5h0M402 202h0M404 187h0M406 203h0M391 188.5h0M389.5 185.5h0M391 195h0M386.5 195.5h0M387.5 189.5h0M387 193h0M384 192h0M389 199.5h0M400.5 196.5h0M386.5 199h0M409 194h0M405 196.5h0M392.5 203h0M391 206.5h0M386.5 204h0M398.5 196.5h0M403 198h0M386 202.5h0M405.5 189.5h0M401.5 195.5h0M405 203.5h0M396 198.5h0M393.5 193.5h0M388 195.5h0M382.5 193h0M400 201.5h0M406 200.5h0M388.5 190.5h0M388.5 197.5h0M391.5 190.5h0M393.5 202.5h0M406.5 194.5h0M391 185h0M397.5 203.5h0M387 198.5h0M404 201h0M407.5 196h0M382.5 200h0M402 189.5h0M403.5 205.5h0M389.5 190.5h0M398.5 191h0M406 196h0M399 188h0M386.5 203.5h0M385.5 203.5h0M403.5 188h0M387 200h0M400.5 204.5h0M385.5 203h0M391.5 203h0M395 198.5h0M408.5 193.5h0M382 197h0M394.5 194.5h0M398.5 188h0M400.5 197.5h0M383 194.5h0M383.5 199h0M400.5 186h0M407 198h0M399.5 197h0M402.5 201h0M386 192h0M382 191h0M402 186.5h0M383.5 195.5h0M400 193.5h0M384 201.5h0M397 204.5h0M386 196.5h0M395.5 205.5h0M404.5 197h0M389.5 191h0M404 205h0M404 196h0M396.5 203.5h0M401 212h0M395 221h0M399 216.5h0M399.5 215.5h0M396 220h0M401 211h0M401 213h0M394.5 222h0M396.5 219.5h0M394 221h0M397.5 218h0M401 211.5h0M399.5 211h0M393 226.5h0M393 223h0M390.5 228h0M390 230.5h0M389 231h0M395.5 222.5h0M394.5 223h0M396.5 217h0M396 218.5h0M392 228h0M390.5 229.5h0M398.5 214h0M392 228.5h0M391.5 230.5h0M392 229h0M397 217h0M398.5 215h0M391.5 227.5h0M394 223.5h0M389.5 230h0M392.5 225.5h0M391.5 226h0M393 224h0M393.5 224h0M400.5 210h0M399 213h0M393.5 223.5h0M389 230h0M398 216h0M395.5 220.5h0M391.5 229h0M391 227h0M401 213.5h0M402 211h0M397.5 215h0M400.5 211.5h0M390.5 228.5h0M394 221.5h0M391.5 229.5h0M398.5 217h0M396.5 221.5h0M392.5 226h0M398 216.5h0M393 224.5h0M396 219.5h0M409 199h0M406 203.5h0M406.5 201.5h0M410.5 194h0M411.5 191h0M408.5 202h0M411 190h0M406 205.5h0M412.5 190.5h0M410.5 195h0M410.5 193.5h0M406.5 202.5h0M410.5 191.5h0M407.5 205h0M408.5 200.5h0M411 191.5h0M408 203.5h0M409 195h0M410.5 193h0M411.5 193.5h0M407.5 199h0M410.5 195.5h0M407 201.5h0M407 203h0M410.5 192.5h0M409 197h0M409.5 192.5h0M407.5 201.5h0M408.5 197h0M411.5 192h0M409.5 197h0M496 162h0M487 170h0M490 166h0M494.5 161.5h0M490 168.5h0M491.5 166.5h0M488 170.5h0M496.5 159.5h0M488 170h0M499 156.5h0M488.5 170.5h0M496.5 160h0M493 162h0M490 167.5h0M494 163h0M495.5 160.5h0M489.5 168.5h0M499 158h0M497.5 160h0M498 157h0M492.5 164h0M493.5 164.5h0M488.5 168.5h0M492 164.5h0M488.5 169h0M494.5 161h0M493 163h0M498 159.5h0M499 157.5h0M488 169.5h0M498.5 157.5h0M497.5 159.5h0M495.5 163h0M491.5 164.5h0M491 164.5h0M493.5 161.5h0M490.5 166h0M492.5 166.5h0M492 164h0M490 169h0M491 165h0M496.5 160.5h0M498.5 156.5h0M494 164h0M497.5 157.5h0M499.5 158h0M491.5 167h0M489 170h0M495 163h0M489.5 170h0M496.5 161.5h0" stroke="#8c564b" stroke-width="1.7" stroke-linecap="round" fill="none"/>
<path d="M162.5 119.5h0M163.5 116h0M161 123.5h0M160.5 115h0M161.5 119.5h0M159 115.5h0M161.5 121h0M159 119.5h0M163.5 116.5h0M159 114h0M160 114h0M163 116.5h0M160 122.5h0M159.5 119.5h0M162 113h0M162 112.5h0M162 119h0M162.5 120h0M161.5 123h0M161.5 114.5h0M161.5 120.5h0M161.5 117h0M160.5 116h0M162.5 119h0M160 122h0M163 119h0M163 121h0M159 120h0M163.5 115h0M161 122h0M161.5 117.5h0M162 114h0M164 115h0M159 117.5h0M160 119h0M163 114h0M164 117.5h0M161.5 115h0M163 113.5h0M159.5 116.5h0M161 117.5h0M159 121h0M162 114.5h0M160 123h0M163 115h0M159.5 114h0M162.5 118.5h0M162.5 113h0M162.5 116h0M160.5 113h0M160 120h0M162.5 122h0M162.5 159h0M161.5 157.5h0M158.5 155.5h0M163.5 157.5h0M162 158h0M160.5 156h0M163 155h0M158 159h0M162.5 158.5h0M159.5 159h0M162.5 157.5h0M161.5 156h0M162.5 155h0M158.5 156.5h0M163.5 157h0M164 158h0M158 158h0M160.5 154.5h0M160.5 155h0M160.5 159.5h0M161 155.5h0M161 160h0M158 158.5h0M157.5 158h0M157.5 156.5h0M160.5 158.5h0M158.5 157.5h0M158.5 157h0M159 159h0M162.5 158h0M160.5 155.5h0M159 157h0M158.5 156h0M171.5 182.5h0M172 183.5h0M173 182h0M174.5 188h0M171 189.5h0M168.5 185.5h0M170 188h0M170.5 184.5h0M174 182.5h0M174.5 188.5h0M175.5 183h0M174 184.5h0M173 188.5h0M172 186h0M169.5 188.5h0M171.5 187h0M172.5 185h0M167.5 186.5h0M174.5 184.5h0M170 186.5h0M174 183.5h0M168.5 183.5h0M170.5 184h0M171 184.5h0M175 183.5h0M168.5 187h0M173.5 185h0M174.5 183h0M169 185.5h0M176 185h0M174.5 186h0M174.5 185.5h0M173 183h0M171.5 184h0M171.5 185h0M169 188.5h0M170.5 181.5h0M173.5 188.5h0M174 184h0M169 182.5h0M175.5 187.5h0M172 187h0M173 185.5h0M172.5 189.5h0M171 186h0M168.5 186.5h0M173.5 182h0M168 186h0M167.5 184h0M172.5 186.5h0M174.5 187.5h0M169.5 183h0M169 185h0M167.5 185h0M170.5 186.5h0M171 184h0M170 183.5h0M174 182h0M170.5 185h0M161 158.5h0M159.5 155.5h0M163 155.5h0M160 154h0M159 157.5h0M160.5 157.5h0M161.5 156.5h0M159.5 156h0M160.5 157h0M162.5 155.5h0M159 155.5h0M161 157h0M161 158h0M162.5 156.5h0M160 154.5h0M161 154.5h0M171 188h0M173 185h0M176 186h0M174.5 185h0M169 184h0M172 184.5h0M175.5 186.5h0M169.5 186.5h0M170 182.5h0M167.5 185.5h0M168 184.5h0M168.5 184.5h0M169 186.5h0M174 187h0M170.5 183h0M170.5 183.5h0M175 184.5h0M175 185h0M168 185h0M172.5 183.5h0M173.5 188h0M173.5 184.5h0M169.5 187h0M171.5 183h0M170.5 185.5h0M173.5 183h0M172.5 182.5h0M172.5 184.5h0M375 91h0M376 85.5h0M370 95h0M374.5 80h0M369.5 85.5h0M372.5 84.5h0M373.5 84.5h0M370 82.5h0M378 91.5h0M374 89h0M376.5 86h0M373.5 82.5h0M372.5 83.5h0M369 82.5h0M364.5 86.5h0M372.5 81h0M369.5 94h0M376 88.5h0M372 79.5h0M374 90.5h0M371.5 87h0M371.5 81h0M373.5 87h0M378 87h0M377.5 92h0M378 86h0M364 84.5h0M378 92h0M373.5 90.5h0M374.5 85h0M366 87.5h0M371.5 88.5h0M374.5 90h0M377 88h0M370 84h0M375.5 81.5h0M374.5 82.5h0M364.5 84.5h0M372 89h0M370.5 87.5h0M368.5 89.5h0M375.5 85.5h0M374.5 92h0M368.5 84.5h0M377.5 88.5h0M363.5 88h0M368.5 93h0M373 84h0M369.5 87.5h0M371.5 95h0M370.5 94.5h0M376.5 85h0M369.5 93.5h0M367 81.5h0M368 95h0M378 83h0M367.5 86h0M372 85h0M364 85h0M372.5 89.5h0M371 88h0M370.5 79.5h0M366 89.5h0M374 93.5h0M364.5 89h0M367 92h0M367 90h0M372 90h0M376.5 90h0M369 84.5h0M374 87h0M369.5 91h0M365.5 88.5h0M375 91.5h0M370 87.5h0M378.5 86.5h0M371 87.5h0M374.5 79.5h0M373 79.5h0M372 88.5h0M365 83h0M368.5 81.5h0M372.5 82h0M375 94h0M371.5 80.5h0M372 89.5h0M372.5 92h0M373.5 81h0M373.5 92h0M366.5 86.5h0M363.5 86.5h0M373 91.5h0M366 84.5h0M375 86h0M371.5 79h0M368 81.5h0M366.5 89.5h0M370 95.5h0M371.5 93.5h0M377.5 91.5h0M371.5 91.5h0M365 88.5h0M367 94h0M365.5 89.5h0M376.5 93h0M375.5 86h0M374.5 84.5h0M365 82.5h0M377 83h0M377 91h0M375 82h0M377 88.5h0M374 84h0M371 95.5h0M372.5 91.5h0M367.5 81h0M366.5 89h0M368.5 88.5h0M369 93h0M366 86h0M369.5 89.5h0M378.5 87h0M371.5 91h0M377.5 92.5h0M367.5 93.5h0M376.5 91.5h0M369 86h0M368.5 82.5h0M363.5 89h0M371 87h0M377 89h0M368.5 91.5h0M371 90h0M365.5 91.5h0M371.5 84h0M375.5 82h0M366.5 82h0M378 86.5h0M364 87.5h0M370.5 87h0M370.5 82h0M372 92.5h0M375 90h0M372 95.5h0M373.5 91h0M367.5 82.5h0M377.5 85h0M367.5 82h0M368.5 83.5h0M375 89.5h0M374 92.5h0M366.5 87h0M367 85h0M376 81.5h0M377.5 82.5h0M375 88.5h0M374 89.5h0M376 87.5h0M372.5 85.5h0M371 89.5h0M366.5 93h0M365 84.5h0M374 82h0M369 87h0M377 81.5h0M377.5 86h0M370 81h0M373 81.5h0M377 90.5h0M368 88.5h0M376.5 89h0M375.5 93.5h0M368.5 84h0M372 84h0M368.5 81h0M370 88.5h0M376 86.5h0M378.5 90h0M376 85h0M379 88h0M367 88.5h0M367 81h0M368 86h0M369.5 80.5h0M371 86.5h0M374 88h0M364 89h0M371 81.5h0M374 85h0M366 90.5h0M378.5 85h0M369.5 90h0M372 87h0M370.5 92.5h0M371.5 94h0M373.5 87.5h0M376 89h0M374.5 90.5h0M372.5 94.5h0M367.5 90h0M373 91h0M373 86h0M368.5 89h0M366.5 83h0M365 91.5h0M364.5 85h0M370.5 92h0M364 86.5h0M368 88h0M316 128.5h0M319 138.5h0M320.5 137.5h0M319.5 137.5h0M324.5 137h0M322.5 140h0M323 137h0M321 131h0M320.5 131h0M317 135.5h0M317.5 134h0M326.5 132h0M323 128h0M318.5 140h0M323.5 137h0M316.5 131h0M323 137.5h0M317 129.5h0M324 135.5h0M323.5 135.5h0M317 134h0M314.5 130.5h0M313.5 137h0M315 130.5h0M324 135h0M320.5 136.5h0M319 132h0M315.5 129h0M320 129h0M316.5 138h0M319 134.5h0M321 136.5h0M322.5 130.5h0M317.5 137.5h0M316 134h0M317.5 130h0M325.5 134.5h0M323.5 136.5h0M324 134.5h0M320 134h0M317 134.5h0M316.5 136h0M316 130h0M326.5 133.5h0M321 139h0M323 139h0M323 133.5h0M321.5 129h0M315.5 131.5h0M323 129h0M326 137.5h0M325 136h0M316 137h0M326 135.5h0M323.5 130.5h0M321.5 129.5h0M322.5 139h0M313 134h0M324 129.5h0M315 134h0M313 132.5h0M325 136.5h0M315 135h0M323.5 129h0M320 132h0M319.5 135h0M316.5 134h0M326 131h0M320 132.5h0M319.5 131h0M316 130.5h0M316 133.5h0M319 131.5h0M318.5 135h0M322.5 135.5h0M322.5 137h0M317 135h0M318.5 130h0M314 133h0M319 136h0M316.5 132.5h0M316.5 139.5h0M312.5 134.5h0M315 130h0M318.5 139h0M321.5 136h0M317.5 128h0M324.5 136.5h0M324.5 138.5h0M313 134.5h0M325.5 132h0M321 135h0M325.5 134h0M319.5 130.5h0M317 137.5h0M317.5 136.5h0M323.5 132.5h0M316.5 133h0M316.5 130h0M325.5 133.5h0M321.5 139.5h0M319.5 128h0M325.5 131h0M322.5 131.5h0M317 138h0M321.5 137h0M318 139.5h0M318 136.5h0M314 136.5h0M325 129.5h0M327 132h0M315.5 133h0M320 136.5h0M322 131h0M321 129.5h0M323 139.5h0M317.5 135h0M315.5 130h0M324 136h0M322 134.5h0M318.5 131h0M313.5 133h0M319.5 129h0M320.5 140h0M326.5 136.5h0M314.5 133h0M321 129h0M318 139h0M319 129.5h0M317.5 130.5h0M323.5 139h0M324.5 129h0M323 135h0M325 130h0M321.5 134.5h0M323 134h0M324 131h0M317.5 135.5h0M325.5 131.5h0M321.5 138h0M319.5 134.5h0M319.5 135.5h0M323 129.5h0M317.5 132.5h0M319 138h0M327 137.5h0M325 138.5h0M326.5 138h0M320.5 138.5h0M322 137.5h0M320 137.5h0M321 136h0M325.5 137.5h0M326 138h0M325.5 138.5h0M320.5 139h0M320 138h0M326 139h0M324 139h0M325 139h0M325 137h0M323.5 137.5h0M318.5 138h0M320 136h0M319 137h0M321.5 139h0M319 137.5h0M428.5 196h0M420 192h0M427.5 200h0M429.5 198.5h0M427 189h0M424.5 192h0M426 197h0M426.5 190h0M426.5 199h0M422.5 190.5h0M424 194h0M429 192.5h0M427 200h0M427.5 192h0M422.5 191h0M419.5 193h0M430 196h0M426 195.5h0M424.5 194h0M426 197.5h0M426 191h0M430.5 197.5h0M423 200h0M426 191.5h0M426 192h0M422.5 199.5h0M421.5 194h0M422 191.5h0M420.5 193.5h0M429 197h0M426.5 191.5h0M428.5 194h0M429.5 190.5h0M421.5 192h0M423 191.5h0M424.5 189h0M422 193h0M426.5 196h0M421.5 196h0M419.5 196h0M426 193.5h0M429.5 196.5h0M427.5 191.5h0M427 197.5h0M420 196h0M428.5 198h0M424 196h0M424 195.5h0M429.5 190h0M420 193h0M422.5 198.5h0M424.5 200h0M429.5 193.5h0M428 198h0M420.5 191.5h0M425.5 195h0M429 193h0M425 192.5h0M419.5 192.5h0M428 199.5h0M427.5 191h0M422 195h0M426 194.5h0M430.5 195h0M424 189h0M430 197.5h0M428.5 192.5h0M430 193h0M426 193h0M423.5 193.5h0M424 200h0M429 197.5h0M430 197h0M421 198.5h0M425 196.5h0M428.5 190h0M423 192h0M422 190.5h0M427.5 194h0M426.5 198.5h0M422.5 191.5h0M420.5 193h0M427.5 195.5h0M429 191.5h0M421 191h0M427 193h0M424.5 192.5h0M422 199.5h0M425 196h0M422.5 192h0M428.5 193.5h0M425.5 199h0M430 194.5h0M426 190h0M428 190.5h0M427.5 199.5h0M427 190h0M422 196h0M428 192.5h0M424.5 199.5h0M422.5 197h0M424.5 199h0M419.5 194h0M423 198h0M429 195h0" stroke="#fc8d62" stroke-width="1.7" stroke-linecap="round" fill="none"/>
<path d="M52 145h0M50 145.5h0M52.5 144.5h0M49.5 144h0M47.5 144.5h0M50.5 144.5h0M50 146h0M50 145h0M48 146h0M47 145.5h0M50.5 146.5h0M49.5 145.5h0M50.5 146h0M50.5 144h0M47 145h0M51.5 145.5h0M47.5 145.5h0M202 179h0M205.5 179h0M206.5 178.5h0M206 178h0M207.5 179h0M206 178.5h0M208.5 178.5h0M207 178.5h0M204 178.5h0M207.5 180h0M203.5 179h0M208 179h0M204 179h0M202.5 179.5h0M205.5 177.5h0M205 180.5h0M514.5 109.5h0M509.5 108h0M517.5 116h0M512 106h0M511 118.5h0M509 112h0M507.5 118h0M506 115h0M509 105.5h0M506.5 107h0M506.5 116.5h0M510.5 111.5h0M507 109h0M505.5 114h0M511 114h0M510.5 116.5h0M513.5 115h0M514 117.5h0M508.5 108h0M515.5 108h0M507.5 113.5h0M516 111.5h0M513 103.5h0M507 110h0M510 114.5h0M509.5 117h0M515 104.5h0M512.5 119.5h0M512.5 103h0M512.5 106.5h0M514 115h0M511 112h0M506 108h0M507 116h0M517 112h0M511 108h0M516 105h0M507 117.5h0M508.5 112h0M514 107.5h0M515 119h0M509 118h0M510 106h0M507 108h0M508.5 110h0M509.5 118.5h0M510 104h0M514 116.5h0M510.5 103.5h0M515.5 109.5h0M514 120h0M510.5 115h0M513 117h0M514.5 108.5h0M518.5 108.5h0M513.5 115.5h0M508 104.5h0M518 107h0M514 103.5h0M507.5 107h0M512.5 113.5h0M514.5 111.5h0M510.5 104.5h0M515.5 104.5h0M518 112h0M510.5 106.5h0M508 107h0M512 106.5h0M510 119.5h0M508.5 119h0M517 106.5h0M511.5 118.5h0M516 107h0M507.5 110.5h0M514.5 109h0M512.5 120h0M509.5 115.5h0M508.5 115h0M509.5 114.5h0M510 115.5h0M512.5 104h0M509 117.5h0M512 103.5h0M510.5 109h0M514.5 116h0M509.5 109h0M513 117.5h0M516 112h0M514 115.5h0M510 103h0M518 115h0M517.5 114h0M505.5 108.5h0M518.5 112h0M515.5 111.5h0M510 118h0M513.5 104h0M510 115h0M514 117h0M511 119.5h0M512 116h0M518.5 114.5h0M510.5 113h0M509.5 112h0M509 116h0M507 111h0M516 107.5h0M514.5 118.5h0M507.5 114.5h0M506.5 111.5h0M508 109.5h0M508 105.5h0M506.5 111h0M515 110.5h0M512 113.5h0M508 111.5h0M514 108.5h0M509.5 110h0M505 111h0M512 114.5h0M507.5 113h0M516.5 109h0M516 116h0M515 112.5h0M508.5 116h0M517.5 113.5h0M514.5 103.5h0M513 112h0M512.5 114h0M511.5 111h0M508.5 111.5h0M515.5 109h0M518 109.5h0M510 116h0M513.5 103.5h0M517 115h0M512.5 110.5h0M517.5 116.5h0M514 114h0M515 114h0M513 115h0M515 107.5h0M507.5 110h0M506.5 117h0M513 119.5h0M500 173h0M497.5 172.5h0M499 174.5h0M496.5 173h0M496 173.5h0M496 174h0M499.5 174h0M498.5 172.5h0M497 174.5h0M497 173.5h0" stroke="#8ca252" stroke-width="1.7" stroke-linecap="round" fill="none"/>
<path d="M49.5 155.5h0M48.5 155h0M48.5 154.5h0M48 155h0M110 170.5h0M109.5 170.5h0M110 169.5h0M109.5 171h0M108 171h0M110.5 171.5h0M109 170h0M108.5 170h0M109 172.5h0M116.5 190.5h0M116 189.5h0M115.5 191.5h0M116 191h0M115 191.5h0M116.5 188h0M115.5 191h0M115 191h0M116 190.5h0M116.5 191h0M119 185h0M118.5 183.5h0M118 183h0M119 182h0M119.5 183h0M119 184.5h0M202.5 169.5h0M203.5 169.5h0M204 169.5h0M201 170h0M202.5 170h0M202.5 170.5h0M204 171h0M202 169h0M204 169h0M151 193h0M150.5 190h0M153.5 190h0M152.5 190h0M153.5 188.5h0M153.5 191h0M153.5 189.5h0M150.5 187h0M151 189h0M149 189h0M154 189.5h0M152 192.5h0M150 189.5h0M153 190.5h0M152 188h0M152 190h0M152.5 187h0M153 191.5h0M152.5 192h0M153 192h0M151 188.5h0M153 189h0M150 189h0M151 187.5h0M149.5 190.5h0M150 190.5h0M152 188.5h0M151.5 190h0M151 191.5h0M150 199h0M149.5 199.5h0M151.5 199h0M151.5 198.5h0M150.5 199h0M149.5 198.5h0M150 199.5h0M151.5 191h0M150.5 189h0M152.5 191h0M152.5 187.5h0M150.5 190.5h0M151.5 186.5h0M151 189.5h0M152 191h0M152 187.5h0M151.5 188h0M150.5 188h0M150 190h0M151.5 187.5h0M390.5 161.5h0M392 143h0M400.5 151h0M388 147.5h0M397.5 141h0M389.5 149.5h0M387 153.5h0M401.5 145h0M400 147h0M390.5 148.5h0M396.5 151h0M399 144.5h0M392 159.5h0M398.5 157.5h0M387.5 150.5h0M394 153.5h0M400.5 161.5h0M404 154.5h0M404.5 155.5h0M397.5 144h0M391 157h0M398.5 156.5h0M401 157.5h0M396 160h0M401 149.5h0M395 149h0M402.5 143h0M397.5 154.5h0M399 152.5h0M394.5 150h0M395.5 143h0M400.5 144h0M393.5 152.5h0M386.5 154h0M398.5 161h0M396.5 144h0M392.5 157.5h0M388.5 158h0M393.5 162h0M403 144h0M404 156.5h0M391.5 146h0M391.5 142.5h0M396 145h0M394 163h0M397 150.5h0" stroke="#bd9e39" stroke-width="1.7" stroke-linecap="round" fill="none"/>
<path d="M64.5 170.5h0M62 168h0M62.5 169.5h0M63.5 169.5h0M63.5 168h0M64 168.5h0M62 171h0M61.5 171h0M62 168.5h0M62.5 170.5h0M64.5 170h0M63 169h0M159.5 213.5h0M160 210h0M158 211h0M158.5 209.5h0M158 212.5h0M157.5 213h0M160.5 214.5h0M160.5 211h0M161 211.5h0M158.5 213.5h0M159.5 212h0M158.5 214.5h0M159 214h0M159.5 211.5h0M161 212h0M160.5 210h0M159.5 214.5h0M160.5 210.5h0M159 211.5h0M159 211h0M161.5 213h0M162 212.5h0M158.5 209h0M482.5 198.5h0M481.5 197h0M481 197h0M482 198h0M482 196.5h0M481 197.5h0" stroke="#66c2a5" stroke-width="1.7" stroke-linecap="round" fill="none"/>
<path d="M100 136h0M104.5 149.5h0M91 135.5h0M104.5 147h0M100 148h0M97 151.5h0M102 140h0M93 144.5h0M97.5 137.5h0M107 138.5h0M101 145h0M103.5 148h0M100.5 146.5h0M105.5 143.5h0M101.5 141h0M92.5 137.5h0M103.5 142h0M96 142h0M90.5 136.5h0M102.5 149h0M89 141.5h0M97.5 136.5h0M99 150.5h0M90.5 146h0M97 136h0M96 137.5h0M92.5 137h0M93 134h0M94.5 140.5h0M96.5 139.5h0M91 136.5h0M105.5 136h0M105.5 149h0M106 144h0M94 139.5h0M98 133h0M103.5 139.5h0M103 151.5h0M99.5 137h0M98.5 145h0M102.5 138.5h0M95.5 144.5h0M92.5 146h0M93 138h0M97 145h0M101.5 133h0M95.5 147h0M92.5 140.5h0M106 145.5h0M98 149.5h0M102 143.5h0M101.5 134h0M98 138h0M98 135h0M90 145h0M92 144.5h0M103 148h0M103 143.5h0M95 143h0M103 138.5h0M90 143.5h0M91.5 145.5h0M100 149h0M97 132.5h0M99.5 141.5h0M104.5 136h0M100.5 145h0M98 141h0M99.5 145h0M92.5 149.5h0M95.5 151.5h0M105 147.5h0M95 147h0M91.5 135.5h0M100.5 139h0M99 140h0M97 134h0M94.5 143.5h0M96 146.5h0M92.5 142.5h0M93 148.5h0M93.5 149h0M98 144.5h0M105 143h0M100 141h0M94.5 142.5h0M89 143h0M94.5 143h0M95.5 148.5h0M97 133h0M95.5 145.5h0M93.5 151.5h0M98 152.5h0M91.5 138h0M97 136.5h0M95.5 138h0M103.5 138h0M95 136.5h0M99.5 152h0M98 141.5h0M92.5 136.5h0M104.5 135h0M98 132.5h0M101 142.5h0M92 136h0M91.5 136h0M100.5 136h0M99 148.5h0M100 143h0M88.5 142h0M88.5 144.5h0M107.5 139.5h0M94 142.5h0M101 150h0M96 136h0M103 139.5h0M94 138.5h0M102.5 141.5h0M88.5 144h0M92.5 149h0M98.5 135.5h0M91.5 146h0M100.5 138.5h0M96.5 148h0M102.5 147h0M96 145.5h0M89.5 144.5h0M97 141h0M92 142h0M102.5 140h0M106 143.5h0M104.5 148h0M103.5 134h0M90.5 143h0M99 149h0M102.5 138h0M98.5 143h0M102 148.5h0M95 150.5h0M89.5 139h0M100.5 142h0M90 148.5h0M104 145h0M92 149.5h0M102 150h0M98.5 142.5h0M97.5 146h0M94.5 135h0M97.5 134h0M92 149h0M101.5 151h0M101.5 144h0M91.5 134.5h0M105 149.5h0M101.5 148.5h0M103.5 139h0M91 144h0M95.5 149.5h0M94.5 134h0M89 142.5h0M101 148.5h0M100 136.5h0M89.5 142.5h0M88.5 145.5h0M104.5 148.5h0M97.5 149.5h0M103 149.5h0M93.5 133.5h0M97.5 144.5h0M106.5 142h0M105.5 145h0M96 140h0M89.5 146.5h0M96.5 132.5h0M100 138.5h0M100 135h0M106.5 146h0M103 150h0M99.5 144.5h0M103 144h0M98.5 136h0M95 147.5h0M89.5 141.5h0M100 133.5h0M103.5 134.5h0M107.5 141.5h0M92 150.5h0M96 136.5h0M98.5 153h0M98.5 132h0M90 138.5h0M103 147h0M104 135h0M98 144h0M102 144h0M92.5 134.5h0M101.5 140.5h0M99 146.5h0M91 145.5h0M90 147h0M105 135h0M100 134.5h0M102.5 140.5h0M91.5 139h0M102 149.5h0M94 146.5h0M106.5 137h0M101.5 150.5h0M96 148.5h0M96 147.5h0M95.5 132h0M106.5 145.5h0M96.5 135h0M96 144.5h0M95 149h0M95 144.5h0M95 146h0M99 136.5h0M95 151h0M102.5 152h0M106.5 138h0M91.5 144h0M104 135.5h0M95.5 133.5h0M104.5 138h0M97 147h0M89 141h0M94.5 151h0M89.5 146h0M99 137h0M95 153h0M99.5 147h0M89 146h0M97 141.5h0M97.5 150h0M91.5 150h0M98 139.5h0M96 149h0M99 140.5h0M93 141.5h0M99.5 140h0M96 143h0M97.5 147h0M93.5 139.5h0M93 133h0M93 134.5h0M100.5 151.5h0M103 139h0M103.5 149h0M104 149h0M93 150.5h0M98 137h0M98.5 136.5h0M99.5 133h0M101 142h0M102.5 133.5h0M93 135h0M94 150.5h0M104 137h0M94 137h0M101.5 152.5h0M94.5 149h0M95 139h0M94.5 135.5h0M97 132h0M105 149h0M106 138.5h0M98.5 132.5h0M93 147.5h0M105 137.5h0M104.5 147.5h0M105 136h0M99 152.5h0M106 138h0M102.5 151.5h0M94 145h0M97.5 151.5h0M93 145.5h0M101 149h0M90.5 143.5h0M92.5 141.5h0M102 148h0M99.5 134h0M94 151h0M100.5 152.5h0M96.5 145h0M106 147.5h0M92 138.5h0M103.5 143h0M102 150.5h0M97 149.5h0M93.5 134h0M97 148h0M104.5 149h0M106 141h0M103.5 147.5h0M90.5 140h0M91 150h0M98 139h0M101 141h0M105.5 138.5h0M106 137h0M92.5 150h0M102 132.5h0M102 141h0M95.5 145h0M99.5 132.5h0M103.5 148.5h0M99.5 151.5h0M99.5 139.5h0M105.5 141h0M103.5 151h0M88.5 146.5h0M105.5 137.5h0M97.5 145h0M107.5 145.5h0M93.5 139h0M102.5 151h0M92 134.5h0M99 144h0M94.5 152.5h0M100.5 147h0M90 142.5h0M94 143h0M96.5 147.5h0M99.5 136h0M91 144.5h0M104 150h0M238.5 174h0M238 174h0M238 173h0M410.5 125h0M409 130.5h0M408 129.5h0M410.5 126.5h0M411.5 128.5h0M411.5 127h0M411.5 126h0M412 126.5h0M411 125h0M411 125.5h0M410 131.5h0M410 130h0M410 132.5h0M409 126.5h0M410 129.5h0M409 127h0M413 129h0M410 127h0M412.5 128h0M410 128.5h0M412.5 130.5h0M410 129h0M410 130.5h0M412 128.5h0M409 128h0M409 131h0M411.5 130.5h0M410.5 131h0M409.5 126.5h0M411 126.5h0M409.5 125.5h0M383 147h0M381.5 146h0M379 146h0M382 146.5h0M384 143.5h0M379 144h0M384 144.5h0M382.5 146.5h0M380 141.5h0M383 142.5h0M384.5 144h0M380.5 147.5h0M381.5 148h0M379.5 141.5h0M379 145.5h0M383.5 145.5h0M380 141h0M383 144h0M379 142h0M380.5 148h0M379.5 146h0M381.5 145h0M384 144h0M379.5 146.5h0M383.5 142h0M381 140.5h0M380.5 144.5h0M380 142h0M379.5 143h0M384 146h0M382 148h0M382 145h0M381.5 141.5h0M379 143.5h0M382 144h0M379.5 144h0M379.5 145.5h0M378.5 143h0M383.5 146.5h0M379.5 143.5h0M380 144.5h0M382 146h0M382.5 145h0M382.5 143.5h0M381.5 140.5h0M385 144h0M383.5 142.5h0M382.5 144.5h0M384 142.5h0M385.5 142.5h0M381 144h0M379 143h0M383.5 141h0M382 143.5h0M385.5 144h0M382.5 140.5h0M380 144h0M381 139.5h0M379.5 142h0M381 145h0M384 141.5h0M383.5 143.5h0M380.5 144h0M382.5 144h0M384 141h0M384.5 142.5h0M380 143.5h0M383 141h0M385 140.5h0M379.5 142.5h0M381.5 139h0M381 144.5h0M383 141.5h0M401 110.5h0M400 111.5h0M401 116.5h0M402.5 108h0M402 108.5h0M399.5 116.5h0M401 104h0M404 97.5h0M402.5 114h0M402.5 105.5h0M402 95.5h0M404 103.5h0M401 98h0M401.5 104.5h0M403.5 95.5h0M400.5 118h0M404 107h0M405.5 98.5h0M405 103h0M402.5 117h0M400 114h0M401 107.5h0M402.5 103.5h0M401 101h0M403 110h0M404.5 98h0M402.5 96h0M403 112.5h0M401.5 114.5h0M403 108h0M403 97h0M402 98.5h0M406 95h0M401.5 96h0M399 114.5h0M400 118h0M402.5 104.5h0M403 102.5h0M402.5 116h0M405 100.5h0M401 117.5h0M403.5 100.5h0M402 104h0M405.5 101.5h0M400.5 107h0M400.5 106.5h0M400.5 110h0M400.5 108.5h0M399.5 112.5h0M403 100h0M405 100h0M400.5 113h0M404 97h0M403 116.5h0M405.5 99h0M403.5 117h0M401 105.5h0M404 110h0M403 103.5h0M404.5 110.5h0M403.5 110h0M402.5 97.5h0M401.5 100.5h0M405 98.5h0M399.5 109h0M404 102.5h0M403 104h0M402.5 94.5h0M401.5 102.5h0M403 116h0M400.5 109.5h0M403 98.5h0M401 97h0M402 98h0M402.5 113h0M405.5 96h0M403 114h0M403.5 100h0M404 105h0M403.5 113.5h0M403 108.5h0M404.5 106.5h0M405 99.5h0M401.5 105.5h0M405 103.5h0M402.5 117.5h0M401.5 99h0M402 97h0M403 97.5h0M405 105.5h0M402 116h0M404 115h0M403 107h0M403 107.5h0M402 106h0M403.5 105h0M400.5 104h0M401.5 112.5h0M401 117h0M401 100.5h0M401 111h0M401.5 109h0M404 103h0M401.5 105h0M403 118h0M405.5 99.5h0M405 99h0M404.5 105.5h0M402.5 110h0M404 109.5h0M401.5 107h0M406.5 93.5h0M403.5 103h0M403 101.5h0M404.5 103h0M402 107.5h0M404.5 99h0M401.5 111.5h0M409.5 131h0M411 127h0M407.5 120h0M413.5 133h0M407.5 128h0M411 130.5h0M407 124.5h0M409.5 130h0M408 125.5h0M411 130h0M406.5 124.5h0M410.5 132.5h0M408.5 122.5h0M410 125h0M408.5 134.5h0M408.5 133.5h0M408 128h0M404.5 123h0M409.5 133h0M408.5 132.5h0M409 130h0M404.5 123.5h0M404 122h0M404 124.5h0M404.5 125h0M406.5 122.5h0M409 121.5h0M407.5 119h0M406.5 126.5h0M407 122.5h0M407 125h0M406.5 128.5h0M404.5 121h0M404.5 120h0M407 123h0M406 123.5h0M406.5 127h0M409.5 134.5h0M410.5 135h0M407 129h0M409.5 131.5h0M408 123h0M410 131h0M408 132h0M408.5 127h0M405.5 126h0M410.5 128h0M411 132.5h0M412.5 131.5h0M409 131.5h0M410 124.5h0M408 125h0M404.5 118.5h0M412.5 132.5h0M407.5 134h0M407.5 120.5h0M410.5 127.5h0M406.5 128h0M404.5 125.5h0M411 131.5h0M410 134h0M406 126.5h0M409.5 128.5h0M411.5 131h0M409 126h0M407.5 131h0M407 120h0M406 125.5h0M408 130h0M408 127.5h0M406.5 124h0M408 118.5h0M409.5 127.5h0M403 120.5h0M411 134.5h0M412.5 134.5h0M407 132h0M408.5 123h0M411.5 128h0M412.5 131h0M407 128h0M405.5 120.5h0M411 135h0M408 117.5h0M406 121h0M405 118h0M410 124h0M404 120h0M409.5 128h0M411.5 132.5h0M405.5 128h0M406 125h0M407.5 118.5h0M409.5 123h0M404 118.5h0M408.5 130h0M407.5 127h0M409.5 125h0M404.5 119.5h0M408.5 126.5h0M408 119h0M408.5 123.5h0M409.5 133.5h0" stroke="#c7c7c7" stroke-width="1.7" stroke-linecap="round" fill="none"/>
<path d="M144 156h0M145 154h0M145 156.5h0M144.5 155h0M144.5 157h0M145.5 155h0M144.5 156h0M145 157h0M147 154.5h0M143.5 154h0M150.5 158h0M151.5 159.5h0M150 158h0M150.5 157.5h0M150.5 159.5h0M151 160h0M150.5 160.5h0M159 185h0M160 183h0M159.5 185h0M158.5 184.5h0M159.5 183h0M160.5 185h0M148 157.5h0M146.5 155.5h0M149.5 155.5h0M146.5 155h0M146.5 157.5h0M146 155.5h0M149.5 157h0M148 155h0M150 156.5h0M147 156.5h0M146 156h0M148 156h0" stroke="#9edae5" stroke-width="1.7" stroke-linecap="round" fill="none"/>
<path d="M133 134h0M129.5 135h0M132.5 141h0M137 138h0M134 138.5h0M128.5 132.5h0M126.5 139.5h0M130 135h0M133.5 134h0M136.5 139h0M136 137.5h0M132 132h0M127.5 134h0M135.5 136.5h0M128.5 138h0M130.5 141.5h0M131.5 140.5h0M132.5 134h0M129.5 141.5h0M133.5 138.5h0M131 135.5h0M134.5 134.5h0M129 139h0M134 134h0M134.5 137h0M128.5 141h0M126 138h0M130 132.5h0M135.5 134h0M126 139.5h0M129.5 138.5h0M133.5 136.5h0M130 133h0M131 138h0M128 138.5h0M132.5 137.5h0M137 137h0M131.5 139h0M129.5 138h0M129.5 135.5h0M126.5 140h0M130.5 135.5h0M129.5 132.5h0M132.5 133.5h0M128 141h0M134 133h0M133 136.5h0M130 137h0M127.5 137h0M134.5 138h0M127.5 137.5h0M127 140.5h0M128 137h0M126.5 137.5h0M125 137h0M128.5 135h0M130.5 137.5h0M132.5 141.5h0M135.5 137.5h0M127 137.5h0M135 137.5h0M131 140h0M131 134h0M132 141.5h0M130.5 136h0M132 136.5h0M131 133h0M128.5 137.5h0M126.5 137h0M131.5 138.5h0M134 140.5h0M127 137h0M130 142h0M129 137.5h0M134.5 141h0M129.5 137.5h0M132 137.5h0M132.5 132.5h0M134.5 140h0M136 139.5h0M132.5 140h0M128 134h0M133.5 140h0M126.5 135h0M133 137.5h0M133 140.5h0M128 136h0M129.5 140h0M127 135.5h0M131.5 137.5h0M127 136.5h0M364.5 103.5h0M364.5 110.5h0M364 106.5h0M362 116.5h0M372.5 110.5h0M368.5 116h0M368.5 116.5h0M366 114.5h0M366 108h0M363.5 116h0M362.5 112.5h0M367.5 106.5h0M365 120h0M367.5 116.5h0M367 118h0M367.5 120h0M362 111h0M364 111h0M368.5 105.5h0M363 104.5h0M368 111.5h0M369 109h0M366.5 111h0M371 109h0M371.5 114h0M362 113h0M362.5 116h0M366.5 105.5h0M367.5 103.5h0M365.5 114.5h0M361 108.5h0M369 115.5h0M365.5 113h0M368 107h0M362.5 112h0M364 110.5h0M367.5 108h0M369.5 104.5h0M370 113.5h0M367.5 116h0M370 106h0M370.5 108h0M368 102.5h0M371.5 108.5h0M367.5 109h0M365.5 104.5h0M367.5 115.5h0M362.5 107.5h0M366 107h0M369 110h0M364 109h0M371 116.5h0M361 115h0M370.5 112h0M365 118h0M372 108h0M369.5 113h0M362.5 106.5h0M366 110.5h0M368.5 112h0M367 112.5h0M366 114h0M367 110h0M369 120h0M367 110.5h0M364.5 116.5h0M364 112h0M362 107h0M365 113h0M366 116h0M371.5 115h0M371.5 109h0M369 108.5h0M368 106.5h0M369 103.5h0M369 112.5h0M362 115h0M365.5 104h0M368 111h0M363 111h0M362 105.5h0M368 117h0M370.5 107.5h0M371 113h0M369 112h0M362.5 105h0M369 106h0M371 111h0M365 119.5h0M365 115.5h0M371 118.5h0M369.5 106.5h0M363.5 113h0M373 112.5h0M368.5 109.5h0M371.5 110.5h0M373 110.5h0M373 112h0M361 113.5h0M368.5 107h0M360.5 111.5h0M366.5 120h0M366 103h0M370 113h0M364 115h0M363 115.5h0M367 107.5h0M363.5 105h0M366 113h0M366.5 119h0M367.5 105.5h0M369.5 104h0M363 110h0M367.5 107h0M365 117h0M363 108.5h0M367 106h0M363 118.5h0M364 118.5h0M366.5 119.5h0M365.5 108.5h0M367.5 110.5h0M369 105h0M367 105.5h0M372.5 112h0M369.5 113.5h0M361.5 111h0M362 109h0M362 117.5h0M369.5 107h0M367 111h0M370 107.5h0M368.5 118h0M362.5 114h0M371 108.5h0M371 114.5h0M365.5 109.5h0M366 103.5h0M367.5 110h0M367 104h0M370.5 115h0M367 106.5h0M368 115h0M360.5 110h0M367.5 111.5h0M368 119h0M365.5 112h0M369 119.5h0M368 109.5h0M363.5 109.5h0M369.5 103.5h0M370.5 111h0M364 119h0M369 119h0M367.5 107.5h0M365.5 117.5h0M367 109.5h0M367.5 112h0M364 116.5h0M370 105.5h0M364 108h0M371.5 114.5h0M361.5 108h0M363 112.5h0M365.5 106.5h0M366.5 110h0M360.5 109.5h0M368.5 112.5h0M362 109.5h0M365.5 103.5h0M362.5 113h0M372.5 114.5h0M360.5 112.5h0M371.5 106.5h0M370 110.5h0" stroke="#cedb9c" stroke-width="1.7" stroke-linecap="round" fill="none"/>
<path d="M171 168.5h0M174.5 171h0M172.5 169h0M167 167.5h0M175.5 171.5h0M168.5 167h0M175 172h0M169 169.5h0M171.5 169.5h0M170.5 169.5h0M166.5 168.5h0M176 170.5h0M171.5 168.5h0M174 171.5h0M171.5 170h0M175.5 169.5h0M173 171h0M169 168.5h0M170.5 168h0M174 170.5h0M170.5 167h0M168 169h0M166.5 168h0M166.5 167h0M167.5 167h0M168.5 166.5h0M176.5 171.5h0M174 169.5h0M168.5 168.5h0M177 171.5h0M167.5 167.5h0M169.5 167.5h0M172 167.5h0M173.5 171h0M174.5 170.5h0M167.5 168h0M383 130.5h0M388 137h0M385.5 135h0M383.5 130.5h0M384.5 132.5h0M387 138h0M384.5 133.5h0M383.5 129.5h0M386 135h0M387 138.5h0M384.5 131h0M386 136.5h0M386 135.5h0M382.5 128.5h0M384.5 132h0M386.5 139h0M384 130h0M386.5 136h0M387 137.5h0M387 139.5h0M386.5 138.5h0M386.5 133.5h0M385.5 135.5h0M384 129.5h0M387.5 137.5h0M387.5 138.5h0M386 138.5h0M383.5 128.5h0M384 130.5h0M386 137h0M388.5 138h0M386.5 135.5h0M389 143h0M389.5 147h0M388.5 146h0M389 147h0M388.5 145.5h0M389.5 142.5h0M389.5 145.5h0M389 147.5h0M389.5 145h0M389 142.5h0M390.5 144.5h0M389 144.5h0M390 143.5h0" stroke="#17becf" stroke-width="1.7" stroke-linecap="round" fill="none"/>
<path d="M204 210.5h0M208 207h0M206.5 207.5h0M205.5 209h0M207 208h0M209 204.5h0M205.5 211h0M208.5 206.5h0M207 207h0M206 208h0M206 207.5h0M205.5 210.5h0M204.5 210.5h0M207 206.5h0M207.5 203.5h0M207 208.5h0M206.5 210h0M209 205.5h0M208 202h0M207 206h0M205 211h0M208.5 205h0M206.5 209.5h0M210 202h0M206.5 210.5h0M209 206h0M210 202.5h0M205.5 207h0M207.5 206.5h0M209 204h0M206 211.5h0M522.5 128.5h0M521.5 130.5h0M521.5 130h0M523 128.5h0M523 127.5h0M523.5 128h0M522.5 131.5h0M521.5 128.5h0M523 128h0M523 131h0M360 207h0M361.5 209.5h0M358 207.5h0M359 207h0M360.5 210h0M358.5 211h0M360.5 211.5h0M359 206.5h0M358.5 211.5h0M360 211h0M359.5 211.5h0M360 209h0M360 210.5h0M359 209.5h0M359.5 208.5h0M358 210.5h0M358 209.5h0M360.5 209h0" stroke="#2ca02c" stroke-width="1.7" stroke-linecap="round" fill="none"/>
<path d="M519.5 179.5h0M520 180.5h0M520.5 180h0M519.5 177.5h0M520 180h0M519.5 178.5h0M520 177.5h0" stroke="#d62728" stroke-width="1.7" stroke-linecap="round" fill="none"/>
<path d="M435.5 103.5h0M442.5 108h0M436 103.5h0M429.5 106h0M440 105h0M431 105h0M432.5 109h0M438 104h0M435 104.5h0M443 105.5h0M437 106h0M436 108.5h0M443 106.5h0M441 105h0M428.5 105.5h0M440.5 104h0M429 105h0M430 104h0M428.5 106h0M434 109h0M439.5 109h0M428.5 106.5h0M431 104h0M430.5 107h0M435.5 106h0M432.5 106.5h0M431.5 103.5h0M442 105h0M430 105.5h0M433 103.5h0M437.5 104.5h0" stroke="#9467bd" stroke-width="1.7" stroke-linecap="round" fill="none"/>
<path d="M433 113h0M438 115.5h0M429 115h0M435.5 118h0M421 115.5h0M425.5 118.5h0M431.5 114.5h0M436.5 115.5h0M434.5 113.5h0M425.5 113.5h0M431.5 115h0M426.5 115.5h0M422.5 117.5h0M425.5 117.5h0M433.5 113.5h0M428 115h0M432 114.5h0M438.5 114.5h0M428 116.5h0M432 115.5h0M434.5 118.5h0M426 114h0M438 116.5h0M430 118.5h0M427 118h0M437.5 117h0M422 115h0M436 116.5h0M432 118h0M431.5 118h0M435.5 115.5h0" stroke="#9edae5" stroke-width="1.7" stroke-linecap="round" fill="none"/>
<path d="M403 147h0M395.5 145.5h0M394.5 162.5h0M387.5 148h0M391.5 149.5h0M391 145h0M400.5 157.5h0M386.5 154.5h0M396 148h0M401 161h0M395.5 152.5h0M394 148h0M392.5 163h0M396 158.5h0M387.5 154h0M395.5 157.5h0M388.5 158h0M400 151h0M403 150h0M403.5 148.5h0M392.5 161.5h0M391.5 145.5h0M400 141.5h0M398 145h0M402 153.5h0M401 157.5h0M398.5 151h0M402.5 152.5h0M396.5 148.5h0M403 159.5h0M398 147.5h0M387.5 155.5h0M398.5 154h0M388.5 147h0M404.5 149.5h0M396.5 157h0M398.5 147.5h0M391.5 157h0M404 158.5h0M397 146.5h0M395 155.5h0M399.5 158.5h0M402 160.5h0M394 151.5h0M396.5 145.5h0M401.5 155.5h0M395 160h0M388 155h0M388.5 152.5h0M402.5 152h0M400 154h0M396 143.5h0M391 161.5h0M391 154.5h0M404.5 148.5h0M396.5 152h0M392 151.5h0M390 147.5h0M402.5 160.5h0M398 160.5h0M394.5 146h0M399 154.5h0M390.5 146h0M400.5 143.5h0M393 158.5h0M394.5 151.5h0M394.5 161h0M388 148.5h0M397 152.5h0M400 144.5h0M393.5 156.5h0M393 158h0M388.5 145h0M391.5 148h0M398.5 151.5h0M390.5 143.5h0M394 150.5h0M402.5 146h0M387.5 157.5h0M394.5 158h0M399.5 153.5h0M389.5 151h0M393.5 148h0M401 146.5h0M401.5 160.5h0M404.5 149h0M401 157h0M402 145h0M390 153h0M400.5 161h0M388 152h0M389 147.5h0M386.5 149h0M394.5 161.5h0M389.5 158h0M390 148h0" stroke="#ffbb78" stroke-width="1.7" stroke-linecap="round" fill="none"/>
<path d="M400.5 153.5h0M399.5 144.5h0M395.5 162.5h0M393 151.5h0M399 145h0M391.5 141.5h0M397 153.5h0M398 143.5h0M401.5 157.5h0M399.5 152.5h0M397 154h0M405 148h0M404 157h0M388.5 147.5h0M401.5 152h0M399 156.5h0M388 155h0M389.5 144.5h0M389.5 150h0M392 162h0M394 158h0M394 141h0M397.5 155.5h0M389 153h0M396 151h0M403.5 152h0M392 152h0M403 157.5h0M396 148h0M405 151h0M389.5 157h0M399.5 149h0M388 147h0M401.5 162h0M398 154h0M389 160h0M398 159.5h0M403 151h0M388 146h0M404 152.5h0" stroke="#17becf" stroke-width="1.7" stroke-linecap="round" fill="none"/>
<rect x="22.00" y="12.00" width="249.40" height="249.00" fill="none" stroke="#3c3c3c" stroke-width="1"/>
<rect x="292.40" y="12.00" width="249.00" height="249.00" fill="none" stroke="#3c3c3c" stroke-width="1"/>
<text x="146.50" y="8.40" font-size="9.4" text-anchor="middle" fill="#262626" stroke="#262626" stroke-width="0.15">LNP embeddings</text>
<text x="417.00" y="8.40" font-size="9.4" text-anchor="middle" fill="#262626" stroke="#262626" stroke-width="0.15">Ionizable lipid embeddings</text>
<text x="146.50" y="271.80" font-size="9.2" text-anchor="middle" fill="#262626" stroke="#262626" stroke-width="0.15">UMAP 1</text>
<text x="417.00" y="271.80" font-size="9.2" text-anchor="middle" fill="#262626" stroke="#262626" stroke-width="0.15">UMAP 1</text>
<text x="18.20" y="136.40" font-size="9.3" text-anchor="middle" fill="#262626" stroke="#262626" stroke-width="0.15" transform="rotate(-90 18.20 136.40)">UMAP 2</text>
<text x="288.40" y="136.40" font-size="9.3" text-anchor="middle" fill="#262626" stroke="#262626" stroke-width="0.15" transform="rotate(-90 288.40 136.40)">UMAP 2</text>
<text x="613.80" y="12.00" font-size="8.0" text-anchor="middle" fill="#262626" stroke="#262626" stroke-width="0.15">Library ID</text>
<circle cx="558" cy="22.20" r="3.85" fill="#1f77b4"/>
<text x="570.60" y="24.80" font-size="7.45" text-anchor="start" fill="#3d4563" stroke="#3d4563" stroke-width="0.15">AA_2008</text>
<circle cx="558" cy="34.00" r="3.85" fill="#aec7e8"/>
<text x="570.60" y="36.60" font-size="7.45" text-anchor="start" fill="#3d4563" stroke="#3d4563" stroke-width="0.15">KL_2010</text>
<circle cx="558" cy="45.80" r="3.85" fill="#ff7f0e"/>
<text x="570.60" y="48.40" font-size="7.45" text-anchor="start" fill="#3d4563" stroke="#3d4563" stroke-width="0.15">LL_2012</text>
<circle cx="558" cy="57.60" r="3.85" fill="#ffbb78"/>
<text x="570.60" y="60.20" font-size="7.45" text-anchor="start" fill="#3d4563" stroke="#3d4563" stroke-width="0.15">KW_2014</text>
<circle cx="558" cy="69.40" r="3.85" fill="#2ca02c"/>
<text x="570.60" y="72.00" font-size="7.45" text-anchor="start" fill="#3d4563" stroke="#3d4563" stroke-width="0.15">JM_2016</text>
<circle cx="558" cy="81.20" r="3.85" fill="#98df8a"/>
<text x="570.60" y="83.80" font-size="7.45" text-anchor="start" fill="#3d4563" stroke="#3d4563" stroke-width="0.15">KZ_2016</text>
<circle cx="558" cy="93.00" r="3.85" fill="#d62728"/>
<text x="570.60" y="95.60" font-size="7.45" text-anchor="start" fill="#3d4563" stroke="#3d4563" stroke-width="0.15">SS_2018</text>
<circle cx="558" cy="104.80" r="3.85" fill="#ff9896"/>
<text x="570.60" y="107.40" font-size="7.45" text-anchor="start" fill="#3d4563" stroke="#3d4563" stroke-width="0.15">LM_2019</text>
<circle cx="558" cy="116.60" r="3.85" fill="#9467bd"/>
<text x="570.60" y="119.20" font-size="7.45" text-anchor="start" fill="#3d4563" stroke="#3d4563" stroke-width="0.15">SL_2020</text>
<circle cx="558" cy="128.40" r="3.85" fill="#c5b0d5"/>
<text x="570.60" y="131.00" font-size="7.45" text-anchor="start" fill="#3d4563" stroke="#3d4563" stroke-width="0.15">SP_2020</text>
<circle cx="558" cy="140.20" r="3.85" fill="#8c564b"/>
<text x="570.60" y="142.80" font-size="7.45" text-anchor="start" fill="#3d4563" stroke="#3d4563" stroke-width="0.15">SL_2021</text>
<circle cx="558" cy="152.00" r="3.85" fill="#c49c94"/>
<text x="570.60" y="154.60" font-size="7.45" text-anchor="start" fill="#3d4563" stroke="#3d4563" stroke-width="0.15">YZ_2022</text>
<circle cx="558" cy="163.80" r="3.85" fill="#e377c2"/>
<text x="570.60" y="166.40" font-size="7.45" text-anchor="start" fill="#3d4563" stroke="#3d4563" stroke-width="0.15">ZL_2022</text>
<circle cx="558" cy="175.60" r="3.85" fill="#f7b6d2"/>
<text x="570.60" y="178.20" font-size="7.45" text-anchor="start" fill="#3d4563" stroke="#3d4563" stroke-width="0.15">BL_2023</text>
<circle cx="558" cy="187.40" r="3.85" fill="#7f7f7f"/>
<text x="570.60" y="190.00" font-size="7.45" text-anchor="start" fill="#3d4563" stroke="#3d4563" stroke-width="0.15">JC_2023</text>
<circle cx="558" cy="199.20" r="3.85" fill="#c7c7c7"/>
<text x="570.60" y="201.80" font-size="7.45" text-anchor="start" fill="#3d4563" stroke="#3d4563" stroke-width="0.15">LR_2023</text>
<circle cx="558" cy="211.00" r="3.85" fill="#bcbd22"/>
<text x="570.60" y="213.60" font-size="7.45" text-anchor="start" fill="#3d4563" stroke="#3d4563" stroke-width="0.15">RG_2023</text>
<circle cx="558" cy="222.80" r="3.85" fill="#dbdb8d"/>
<text x="570.60" y="225.40" font-size="7.45" text-anchor="start" fill="#3d4563" stroke="#3d4563" stroke-width="0.15">YX_2023</text>
<circle cx="558" cy="234.60" r="3.85" fill="#17becf"/>
<text x="570.60" y="237.20" font-size="7.45" text-anchor="start" fill="#3d4563" stroke="#3d4563" stroke-width="0.15">YY_2023</text>
<circle cx="558" cy="246.40" r="3.85" fill="#9edae5"/>
<text x="570.60" y="249.00" font-size="7.45" text-anchor="start" fill="#3d4563" stroke="#3d4563" stroke-width="0.15">ZC_2023</text>
<circle cx="558" cy="258.20" r="3.85" fill="#393b79"/>
<text x="570.60" y="260.80" font-size="7.45" text-anchor="start" fill="#3d4563" stroke="#3d4563" stroke-width="0.15">ZH_2023</text>
<circle cx="624.3" cy="22.20" r="3.85" fill="#5254a3"/>
<text x="636.90" y="24.80" font-size="7.45" text-anchor="start" fill="#3d4563" stroke="#3d4563" stroke-width="0.15">BL_2024</text>
<circle cx="624.3" cy="34.00" r="3.85" fill="#6b6ecf"/>
<text x="636.90" y="36.60" font-size="7.45" text-anchor="start" fill="#3d4563" stroke="#3d4563" stroke-width="0.15">JL_2024</text>
<circle cx="624.3" cy="45.80" r="3.85" fill="#9c9ede"/>
<text x="636.90" y="48.40" font-size="7.45" text-anchor="start" fill="#3d4563" stroke="#3d4563" stroke-width="0.15">JW_2024</text>
<circle cx="624.3" cy="57.60" r="3.85" fill="#637939"/>
<text x="636.90" y="60.20" font-size="7.45" text-anchor="start" fill="#3d4563" stroke="#3d4563" stroke-width="0.15">KS_2024</text>
<circle cx="624.3" cy="69.40" r="3.85" fill="#8ca252"/>
<text x="636.90" y="72.00" font-size="7.45" text-anchor="start" fill="#3d4563" stroke="#3d4563" stroke-width="0.15">LX_2024</text>
<circle cx="624.3" cy="81.20" r="3.85" fill="#b5cf6b"/>
<text x="636.90" y="83.80" font-size="7.45" text-anchor="start" fill="#3d4563" stroke="#3d4563" stroke-width="0.15">LX_2024_2</text>
<circle cx="624.3" cy="93.00" r="3.85" fill="#cedb9c"/>
<text x="636.90" y="95.60" font-size="7.45" text-anchor="start" fill="#3d4563" stroke="#3d4563" stroke-width="0.15">LX_2024_3</text>
<circle cx="624.3" cy="104.80" r="3.85" fill="#8c6d31"/>
<text x="636.90" y="107.40" font-size="7.45" text-anchor="start" fill="#3d4563" stroke="#3d4563" stroke-width="0.15">NC_2024</text>
<circle cx="624.3" cy="116.60" r="3.85" fill="#bd9e39"/>
<text x="636.90" y="119.20" font-size="7.45" text-anchor="start" fill="#3d4563" stroke="#3d4563" stroke-width="0.15">SB_2024</text>
<circle cx="624.3" cy="128.40" r="3.85" fill="#e7ba52"/>
<text x="636.90" y="131.00" font-size="7.45" text-anchor="start" fill="#3d4563" stroke="#3d4563" stroke-width="0.15">SW_2024</text>
<circle cx="624.3" cy="140.20" r="3.85" fill="#e7cb94"/>
<text x="636.90" y="142.80" font-size="7.45" text-anchor="start" fill="#3d4563" stroke="#3d4563" stroke-width="0.15">XH_2024</text>
<circle cx="624.3" cy="152.00" r="3.85" fill="#843c39"/>
<text x="636.90" y="154.60" font-size="7.45" text-anchor="start" fill="#3d4563" stroke="#3d4563" stroke-width="0.15">XH_2024_2</text>
<circle cx="624.3" cy="163.80" r="3.85" fill="#ad494a"/>
<text x="636.90" y="166.40" font-size="7.45" text-anchor="start" fill="#3d4563" stroke="#3d4563" stroke-width="0.15">YR_2024</text>
<circle cx="624.3" cy="175.60" r="3.85" fill="#d6616b"/>
<text x="636.90" y="178.20" font-size="7.45" text-anchor="start" fill="#3d4563" stroke="#3d4563" stroke-width="0.15">YX_2024</text>
<circle cx="624.3" cy="187.40" r="3.85" fill="#e7969c"/>
<text x="636.90" y="190.00" font-size="7.45" text-anchor="start" fill="#3d4563" stroke="#3d4563" stroke-width="0.15">YZ_2024</text>
<circle cx="624.3" cy="199.20" r="3.85" fill="#7b4173"/>
<text x="636.90" y="201.80" font-size="7.45" text-anchor="start" fill="#3d4563" stroke="#3d4563" stroke-width="0.15">AP_2025</text>
<circle cx="624.3" cy="211.00" r="3.85" fill="#a55194"/>
<text x="636.90" y="213.60" font-size="7.45" text-anchor="start" fill="#3d4563" stroke="#3d4563" stroke-width="0.15">LL_2025</text>
<circle cx="624.3" cy="222.80" r="3.85" fill="#ce6dbd"/>
<text x="636.90" y="225.40" font-size="7.45" text-anchor="start" fill="#3d4563" stroke="#3d4563" stroke-width="0.15">LZ_2025</text>
<circle cx="624.3" cy="234.60" r="3.85" fill="#de9ed6"/>
<text x="636.90" y="237.20" font-size="7.45" text-anchor="start" fill="#3d4563" stroke="#3d4563" stroke-width="0.15">SX_2025</text>
<circle cx="624.3" cy="246.40" r="3.85" fill="#66c2a5"/>
<text x="636.90" y="249.00" font-size="7.45" text-anchor="start" fill="#3d4563" stroke="#3d4563" stroke-width="0.15">SY_2025</text>
<circle cx="624.3" cy="258.20" r="3.85" fill="#fc8d62"/>
<text x="636.90" y="260.80" font-size="7.45" text-anchor="start" fill="#3d4563" stroke="#3d4563" stroke-width="0.15">XH_2025</text>
<text x="0.60" y="285.30" font-size="15.5" text-anchor="start" fill="#111" stroke="#111" stroke-width="0.15" font-weight="bold">b</text>
<text x="13.60" y="287.60" font-size="9.3" text-anchor="start" fill="#262626" stroke="#262626" stroke-width="0.15">Ionizable lipid</text>
<rect x="5.20" y="292.50" width="678.95" height="169.50" fill="none" stroke="#2a2a2a" stroke-width="1.3" rx="12.2"/>
<text x="0.60" y="478.60" font-size="15.5" text-anchor="start" fill="#111" stroke="#111" stroke-width="0.15" font-weight="bold">c</text>
<text x="13.60" y="480.90" font-size="9.3" text-anchor="start" fill="#262626" stroke="#262626" stroke-width="0.15">Other components</text>
<rect x="4.90" y="485.50" width="679.25" height="169.90" fill="none" stroke="#2a2a2a" stroke-width="1.3" rx="12.2"/>
<text x="0.60" y="670.60" font-size="15.5" text-anchor="start" fill="#111" stroke="#111" stroke-width="0.15" font-weight="bold">d</text>
<text x="13.60" y="672.90" font-size="9.3" text-anchor="start" fill="#262626" stroke="#262626" stroke-width="0.15">Experiment</text>
<rect x="5.00" y="677.80" width="679.15" height="169.40" fill="none" stroke="#2a2a2a" stroke-width="1.3" rx="12.2"/>
<rect x="56.00" y="424.41" width="8.23" height="5.19" fill="#7070a8" stroke="#1e1e28" stroke-width="0.7"/>
<rect x="64.23" y="383.72" width="8.23" height="45.88" fill="#7070a8" stroke="#1e1e28" stroke-width="0.7"/>
<rect x="72.46" y="307.70" width="8.23" height="121.90" fill="#7070a8" stroke="#1e1e28" stroke-width="0.7"/>
<rect x="80.69" y="387.51" width="8.23" height="42.09" fill="#7070a8" stroke="#1e1e28" stroke-width="0.7"/>
<rect x="88.92" y="394.38" width="8.23" height="35.22" fill="#7070a8" stroke="#1e1e28" stroke-width="0.7"/>
<rect x="97.15" y="399.38" width="8.23" height="30.22" fill="#7070a8" stroke="#1e1e28" stroke-width="0.7"/>
<rect x="105.38" y="416.33" width="8.23" height="13.27" fill="#7070a8" stroke="#1e1e28" stroke-width="0.7"/>
<rect x="113.61" y="425.31" width="8.23" height="4.29" fill="#7070a8" stroke="#1e1e28" stroke-width="0.7"/>
<rect x="121.84" y="426.50" width="8.23" height="3.10" fill="#7070a8" stroke="#1e1e28" stroke-width="0.7"/>
<rect x="130.07" y="427.40" width="8.23" height="2.20" fill="#7070a8" stroke="#1e1e28" stroke-width="0.7"/>
<rect x="138.30" y="427.59" width="8.23" height="2.01" fill="#7070a8" stroke="#1e1e28" stroke-width="0.7"/>
<rect x="146.53" y="428.60" width="8.23" height="1.00" fill="#7070a8" stroke="#1e1e28" stroke-width="0.7"/>
<rect x="154.76" y="428.72" width="8.23" height="0.88" fill="#7070a8" stroke="#1e1e28" stroke-width="0.7"/>
<rect x="162.99" y="429.20" width="8.23" height="0.40" fill="#7070a8" stroke="#1e1e28" stroke-width="0.7"/>
<rect x="171.22" y="429.28" width="8.23" height="0.32" fill="#7070a8" stroke="#1e1e28" stroke-width="0.7"/>
<rect x="179.45" y="429.36" width="8.23" height="0.24" fill="#7070a8" stroke="#1e1e28" stroke-width="0.7"/>
<rect x="187.68" y="429.41" width="8.23" height="0.19" fill="#7070a8" stroke="#1e1e28" stroke-width="0.7"/>
<rect x="195.91" y="429.44" width="8.23" height="0.16" fill="#7070a8" stroke="#1e1e28" stroke-width="0.7"/>
<rect x="204.14" y="429.47" width="8.23" height="0.13" fill="#7070a8" stroke="#1e1e28" stroke-width="0.7"/>
<rect x="212.37" y="429.50" width="8.23" height="0.10" fill="#7070a8" stroke="#1e1e28" stroke-width="0.7"/>
<line x1="47.80" y1="429.60" x2="228.50" y2="429.60" stroke="#3c3c3c" stroke-width="1"/>
<line x1="47.80" y1="429.60" x2="47.80" y2="301.00" stroke="#3c3c3c" stroke-width="1"/>
<text x="39.90" y="432.50" font-size="8.1" text-anchor="end" fill="#333333" stroke="#333333" stroke-width="0.15">0</text>
<text x="39.90" y="416.44" font-size="8.1" text-anchor="end" fill="#333333" stroke="#333333" stroke-width="0.15">1000</text>
<text x="39.90" y="400.38" font-size="8.1" text-anchor="end" fill="#333333" stroke="#333333" stroke-width="0.15">2000</text>
<text x="39.90" y="384.32" font-size="8.1" text-anchor="end" fill="#333333" stroke="#333333" stroke-width="0.15">3000</text>
<text x="39.90" y="368.26" font-size="8.1" text-anchor="end" fill="#333333" stroke="#333333" stroke-width="0.15">4000</text>
<text x="39.90" y="352.20" font-size="8.1" text-anchor="end" fill="#333333" stroke="#333333" stroke-width="0.15">5000</text>
<text x="39.90" y="336.14" font-size="8.1" text-anchor="end" fill="#333333" stroke="#333333" stroke-width="0.15">6000</text>
<text x="39.90" y="320.08" font-size="8.1" text-anchor="end" fill="#333333" stroke="#333333" stroke-width="0.15">7000</text>
<text x="39.90" y="304.02" font-size="8.1" text-anchor="end" fill="#333333" stroke="#333333" stroke-width="0.15">8000</text>
<text x="91.05" y="443.80" font-size="8.1" text-anchor="middle" fill="#333333" stroke="#333333" stroke-width="0.15">1000</text>
<text x="134.10" y="443.80" font-size="8.1" text-anchor="middle" fill="#333333" stroke="#333333" stroke-width="0.15">2000</text>
<text x="177.15" y="443.80" font-size="8.1" text-anchor="middle" fill="#333333" stroke="#333333" stroke-width="0.15">3000</text>
<text x="220.20" y="443.80" font-size="8.1" text-anchor="middle" fill="#333333" stroke="#333333" stroke-width="0.15">4000</text>
<text x="137.80" y="454.50" font-size="8.35" text-anchor="middle" fill="#333333" stroke="#333333" stroke-width="0.15">Molecular weight</text>
<text x="16.60" y="365.60" font-size="8.35" text-anchor="middle" fill="#333333" stroke="#333333" stroke-width="0.15" transform="rotate(-90 16.60 365.60)">Ionizable lipid count</text>
<rect x="262.50" y="428.98" width="10.72" height="0.42" fill="#7070a8" stroke="#1e1e28" stroke-width="0.7"/>
<rect x="273.22" y="314.60" width="10.72" height="114.80" fill="#7070a8" stroke="#1e1e28" stroke-width="0.7"/>
<rect x="283.94" y="321.81" width="10.72" height="107.59" fill="#7070a8" stroke="#1e1e28" stroke-width="0.7"/>
<rect x="294.66" y="305.30" width="10.72" height="124.10" fill="#7070a8" stroke="#1e1e28" stroke-width="0.7"/>
<rect x="305.38" y="383.50" width="10.72" height="45.90" fill="#7070a8" stroke="#1e1e28" stroke-width="0.7"/>
<rect x="316.10" y="417.29" width="10.72" height="12.11" fill="#7070a8" stroke="#1e1e28" stroke-width="0.7"/>
<rect x="326.82" y="425.31" width="10.72" height="4.09" fill="#7070a8" stroke="#1e1e28" stroke-width="0.7"/>
<rect x="337.54" y="427.30" width="10.72" height="2.10" fill="#7070a8" stroke="#1e1e28" stroke-width="0.7"/>
<rect x="348.26" y="428.55" width="10.72" height="0.85" fill="#7070a8" stroke="#1e1e28" stroke-width="0.7"/>
<rect x="358.98" y="428.98" width="10.72" height="0.42" fill="#7070a8" stroke="#1e1e28" stroke-width="0.7"/>
<rect x="369.70" y="428.23" width="10.72" height="1.17" fill="#7070a8" stroke="#1e1e28" stroke-width="0.7"/>
<rect x="380.42" y="429.19" width="10.72" height="0.21" fill="#7070a8" stroke="#1e1e28" stroke-width="0.7"/>
<rect x="391.14" y="429.23" width="10.72" height="0.17" fill="#7070a8" stroke="#1e1e28" stroke-width="0.7"/>
<rect x="401.86" y="429.27" width="10.72" height="0.13" fill="#7070a8" stroke="#1e1e28" stroke-width="0.7"/>
<rect x="412.58" y="429.29" width="10.72" height="0.11" fill="#7070a8" stroke="#1e1e28" stroke-width="0.7"/>
<rect x="423.30" y="429.32" width="10.72" height="0.08" fill="#7070a8" stroke="#1e1e28" stroke-width="0.7"/>
<rect x="434.02" y="429.34" width="10.72" height="0.06" fill="#7070a8" stroke="#1e1e28" stroke-width="0.7"/>
<line x1="262.50" y1="429.40" x2="456.00" y2="429.40" stroke="#3c3c3c" stroke-width="1"/>
<line x1="262.50" y1="429.40" x2="262.50" y2="299.00" stroke="#3c3c3c" stroke-width="1"/>
<text x="254.40" y="432.30" font-size="8.1" text-anchor="end" fill="#333333" stroke="#333333" stroke-width="0.15">0</text>
<text x="254.40" y="411.10" font-size="8.1" text-anchor="end" fill="#333333" stroke="#333333" stroke-width="0.15">1000</text>
<text x="254.40" y="389.90" font-size="8.1" text-anchor="end" fill="#333333" stroke="#333333" stroke-width="0.15">2000</text>
<text x="254.40" y="368.70" font-size="8.1" text-anchor="end" fill="#333333" stroke="#333333" stroke-width="0.15">3000</text>
<text x="254.40" y="347.50" font-size="8.1" text-anchor="end" fill="#333333" stroke="#333333" stroke-width="0.15">4000</text>
<text x="254.40" y="326.30" font-size="8.1" text-anchor="end" fill="#333333" stroke="#333333" stroke-width="0.15">5000</text>
<text x="254.40" y="305.10" font-size="8.1" text-anchor="end" fill="#333333" stroke="#333333" stroke-width="0.15">6000</text>
<text x="267.84" y="443.80" font-size="8.1" text-anchor="middle" fill="#333333" stroke="#333333" stroke-width="0.15">0</text>
<text x="289.28" y="443.80" font-size="8.1" text-anchor="middle" fill="#333333" stroke="#333333" stroke-width="0.15">2</text>
<text x="310.72" y="443.80" font-size="8.1" text-anchor="middle" fill="#333333" stroke="#333333" stroke-width="0.15">4</text>
<text x="332.16" y="443.80" font-size="8.1" text-anchor="middle" fill="#333333" stroke="#333333" stroke-width="0.15">6</text>
<text x="353.60" y="443.80" font-size="8.1" text-anchor="middle" fill="#333333" stroke="#333333" stroke-width="0.15">8</text>
<text x="375.04" y="443.80" font-size="8.1" text-anchor="middle" fill="#333333" stroke="#333333" stroke-width="0.15">10</text>
<text x="396.48" y="443.80" font-size="8.1" text-anchor="middle" fill="#333333" stroke="#333333" stroke-width="0.15">12</text>
<text x="417.92" y="443.80" font-size="8.1" text-anchor="middle" fill="#333333" stroke="#333333" stroke-width="0.15">14</text>
<text x="439.36" y="443.80" font-size="8.1" text-anchor="middle" fill="#333333" stroke="#333333" stroke-width="0.15">16</text>
<text x="358.40" y="454.50" font-size="8.35" text-anchor="middle" fill="#333333" stroke="#333333" stroke-width="0.15">Number of nitrogens</text>
<rect x="493.40" y="305.10" width="31.20" height="125.00" fill="#7070a8" stroke="#1e1e28" stroke-width="0.7"/>
<rect x="530.00" y="363.43" width="31.20" height="66.67" fill="#7070a8" stroke="#1e1e28" stroke-width="0.7"/>
<rect x="566.60" y="426.97" width="31.20" height="3.13" fill="#7070a8" stroke="#1e1e28" stroke-width="0.7"/>
<rect x="603.20" y="423.12" width="31.20" height="6.98" fill="#7070a8" stroke="#1e1e28" stroke-width="0.7"/>
<line x1="487.70" y1="430.10" x2="677.00" y2="430.10" stroke="#3c3c3c" stroke-width="1"/>
<line x1="487.70" y1="430.10" x2="487.70" y2="299.00" stroke="#3c3c3c" stroke-width="1"/>
<text x="480.20" y="433.00" font-size="8.1" text-anchor="end" fill="#333333" stroke="#333333" stroke-width="0.15">0</text>
<text x="480.20" y="412.17" font-size="8.1" text-anchor="end" fill="#333333" stroke="#333333" stroke-width="0.15">2000</text>
<text x="480.20" y="391.33" font-size="8.1" text-anchor="end" fill="#333333" stroke="#333333" stroke-width="0.15">4000</text>
<text x="480.20" y="370.50" font-size="8.1" text-anchor="end" fill="#333333" stroke="#333333" stroke-width="0.15">6000</text>
<text x="480.20" y="349.66" font-size="8.1" text-anchor="end" fill="#333333" stroke="#333333" stroke-width="0.15">8000</text>
<text x="480.20" y="328.83" font-size="8.1" text-anchor="end" fill="#333333" stroke="#333333" stroke-width="0.15">10000</text>
<text x="480.20" y="308.00" font-size="8.1" text-anchor="end" fill="#333333" stroke="#333333" stroke-width="0.15">12000</text>
<text x="509.00" y="443.80" font-size="8.1" text-anchor="middle" fill="#333333" stroke="#333333" stroke-width="0.15">3° only</text>
<text x="545.60" y="443.80" font-size="8.1" text-anchor="middle" fill="#333333" stroke="#333333" stroke-width="0.15">3°+2°</text>
<text x="582.20" y="443.80" font-size="8.1" text-anchor="middle" fill="#333333" stroke="#333333" stroke-width="0.15">3°+2°+1°</text>
<text x="618.80" y="443.80" font-size="8.1" text-anchor="middle" fill="#333333" stroke="#333333" stroke-width="0.15">2° only</text>
<text x="655.40" y="443.80" font-size="8.1" text-anchor="middle" fill="#333333" stroke="#333333" stroke-width="0.15">2°+1°</text>
<text x="582.00" y="454.50" font-size="8.35" text-anchor="middle" fill="#333333" stroke="#333333" stroke-width="0.15">Nitrogen substitution class</text>
<rect x="65.80" y="621.51" width="5.36" height="2.99" fill="#7070a8" stroke="#1e1e28" stroke-width="0.7"/>
<rect x="71.16" y="606.59" width="5.36" height="17.91" fill="#7070a8" stroke="#1e1e28" stroke-width="0.7"/>
<rect x="76.52" y="620.12" width="5.36" height="4.38" fill="#7070a8" stroke="#1e1e28" stroke-width="0.7"/>
<rect x="81.88" y="615.73" width="5.36" height="8.77" fill="#7070a8" stroke="#1e1e28" stroke-width="0.7"/>
<rect x="87.24" y="615.20" width="5.36" height="9.30" fill="#7070a8" stroke="#1e1e28" stroke-width="0.7"/>
<rect x="92.60" y="501.30" width="5.36" height="123.20" fill="#7070a8" stroke="#1e1e28" stroke-width="0.7"/>
<rect x="97.96" y="622.36" width="5.36" height="2.14" fill="#7070a8" stroke="#1e1e28" stroke-width="0.7"/>
<rect x="103.32" y="617.34" width="5.36" height="7.16" fill="#7070a8" stroke="#1e1e28" stroke-width="0.7"/>
<rect x="108.68" y="615.41" width="5.36" height="9.09" fill="#7070a8" stroke="#1e1e28" stroke-width="0.7"/>
<rect x="114.04" y="623.64" width="5.36" height="0.86" fill="#7070a8" stroke="#1e1e28" stroke-width="0.7"/>
<rect x="119.40" y="615.73" width="5.36" height="8.77" fill="#7070a8" stroke="#1e1e28" stroke-width="0.7"/>
<rect x="124.76" y="623.75" width="5.36" height="0.75" fill="#7070a8" stroke="#1e1e28" stroke-width="0.7"/>
<rect x="130.12" y="622.36" width="5.36" height="2.14" fill="#7070a8" stroke="#1e1e28" stroke-width="0.7"/>
<rect x="135.48" y="624.18" width="5.36" height="0.32" fill="#7070a8" stroke="#1e1e28" stroke-width="0.7"/>
<rect x="146.20" y="616.27" width="5.36" height="8.23" fill="#7070a8" stroke="#1e1e28" stroke-width="0.7"/>
<line x1="52.50" y1="624.50" x2="229.50" y2="624.50" stroke="#3c3c3c" stroke-width="1"/>
<line x1="52.50" y1="624.50" x2="52.50" y2="495.00" stroke="#3c3c3c" stroke-width="1"/>
<text x="45.00" y="627.40" font-size="8.1" text-anchor="end" fill="#333333" stroke="#333333" stroke-width="0.15">0</text>
<text x="45.00" y="606.02" font-size="8.1" text-anchor="end" fill="#333333" stroke="#333333" stroke-width="0.15">2000</text>
<text x="45.00" y="584.64" font-size="8.1" text-anchor="end" fill="#333333" stroke="#333333" stroke-width="0.15">4000</text>
<text x="45.00" y="563.26" font-size="8.1" text-anchor="end" fill="#333333" stroke="#333333" stroke-width="0.15">6000</text>
<text x="45.00" y="541.88" font-size="8.1" text-anchor="end" fill="#333333" stroke="#333333" stroke-width="0.15">8000</text>
<text x="45.00" y="520.50" font-size="8.1" text-anchor="end" fill="#333333" stroke="#333333" stroke-width="0.15">10000</text>
<text x="45.00" y="499.12" font-size="8.1" text-anchor="end" fill="#333333" stroke="#333333" stroke-width="0.15">12000</text>
<text x="93.90" y="638.60" font-size="8.1" text-anchor="middle" fill="#333333" stroke="#333333" stroke-width="0.15">10</text>
<text x="130.70" y="638.60" font-size="8.1" text-anchor="middle" fill="#333333" stroke="#333333" stroke-width="0.15">20</text>
<text x="167.50" y="638.60" font-size="8.1" text-anchor="middle" fill="#333333" stroke="#333333" stroke-width="0.15">30</text>
<text x="204.30" y="638.60" font-size="8.1" text-anchor="middle" fill="#333333" stroke="#333333" stroke-width="0.15">40</text>
<text x="140.90" y="649.60" font-size="8.35" text-anchor="middle" fill="#333333" stroke="#333333" stroke-width="0.15">IL-to-nucleic acid mass ratio</text>
<text x="16.60" y="559.90" font-size="8.35" text-anchor="middle" fill="#333333" stroke="#333333" stroke-width="0.15" transform="rotate(-90 16.60 559.90)">LNP formulation count</text>
<text x="307.60" y="496.00" font-size="9.42" text-anchor="middle" fill="#111" stroke="#111" stroke-width="0.15">Helper lipid type</text>
<path d="M309.00 513.60A63.8 63.8 0 0 0 300.19 640.59L305.48 602.68A25.52 25.52 0 0 1 309.00 551.88Z" fill="#1f77b4" stroke="#1f77b4" stroke-width="0.25"/>
<path d="M300.19 640.59A63.8 63.8 0 0 0 372.63 572.78L334.45 575.55A25.52 25.52 0 0 1 305.48 602.68Z" fill="#ff7f0e" stroke="#ff7f0e" stroke-width="0.25"/>
<path d="M372.63 572.78A63.8 63.8 0 0 0 350.35 528.81L325.54 557.97A25.52 25.52 0 0 1 334.45 575.55Z" fill="#2ca02c" stroke="#2ca02c" stroke-width="0.25"/>
<path d="M350.35 528.81A63.8 63.8 0 0 0 340.84 522.11L321.74 555.29A25.52 25.52 0 0 1 325.54 557.97Z" fill="#d62728" stroke="#d62728" stroke-width="0.25"/>
<path d="M340.84 522.11A63.8 63.8 0 0 0 330.27 517.25L317.51 553.34A25.52 25.52 0 0 1 321.74 555.29Z" fill="#9467bd" stroke="#9467bd" stroke-width="0.25"/>
<path d="M330.27 517.25A63.8 63.8 0 0 0 323.34 515.23L314.73 552.53A25.52 25.52 0 0 1 317.51 553.34Z" fill="#8c564b" stroke="#8c564b" stroke-width="0.25"/>
<path d="M323.34 515.23A63.8 63.8 0 0 0 316.21 514.01L311.89 552.04A25.52 25.52 0 0 1 314.73 552.53Z" fill="#e377c2" stroke="#e377c2" stroke-width="0.25"/>
<path d="M316.21 514.01A63.8 63.8 0 0 0 309.00 513.60L309.00 551.88A25.52 25.52 0 0 1 311.89 552.04Z" fill="#7f7f7f" stroke="#7f7f7f" stroke-width="0.25"/>
<text x="270.70" y="576.30" font-size="6.45" text-anchor="middle" fill="#222" stroke="#222" stroke-width="0.15">47.7%</text>
<text x="334.60" y="607.10" font-size="6.45" text-anchor="middle" fill="#222" stroke="#222" stroke-width="0.15">28.3%</text>
<text x="343.20" y="562.40" font-size="6.45" text-anchor="middle" fill="#222" stroke="#222" stroke-width="0.15">12.6%</text>
<text x="310.10" y="508.00" font-size="6.45" text-anchor="middle" fill="#222" stroke="#222" stroke-width="0.15">1.8%</text>
<text x="325.05" y="509.50" font-size="6.45" text-anchor="middle" fill="#222" stroke="#222" stroke-width="0.15">1.8%</text>
<text x="334.65" y="515.00" font-size="6.45" text-anchor="middle" fill="#222" stroke="#222" stroke-width="0.15">1.8%</text>
<text x="346.25" y="520.30" font-size="6.45" text-anchor="middle" fill="#222" stroke="#222" stroke-width="0.15">2.9%</text>
<text x="355.15" y="525.20" font-size="6.45" text-anchor="middle" fill="#222" stroke="#222" stroke-width="0.15">2.9%</text>
<rect x="377.70" y="543.85" width="14.80" height="4.90" fill="#1f77b4" stroke="none" stroke-width="1"/>
<text x="398.60" y="548.90" font-size="7.3" text-anchor="start" fill="#2b2b2b" stroke="#2b2b2b" stroke-width="0.15">DOPE</text>
<rect x="377.70" y="554.31" width="14.80" height="4.90" fill="#ff7f0e" stroke="none" stroke-width="1"/>
<text x="398.60" y="559.36" font-size="7.3" text-anchor="start" fill="#2b2b2b" stroke="#2b2b2b" stroke-width="0.15">DSPC</text>
<rect x="377.70" y="564.77" width="14.80" height="4.90" fill="#2ca02c" stroke="none" stroke-width="1"/>
<text x="398.60" y="569.82" font-size="7.3" text-anchor="start" fill="#2b2b2b" stroke="#2b2b2b" stroke-width="0.15">DOTAP</text>
<rect x="377.70" y="575.23" width="14.80" height="4.90" fill="#d62728" stroke="none" stroke-width="1"/>
<text x="398.60" y="580.28" font-size="7.3" text-anchor="start" fill="#2b2b2b" stroke="#2b2b2b" stroke-width="0.15">None</text>
<rect x="377.70" y="585.69" width="14.80" height="4.90" fill="#9467bd" stroke="none" stroke-width="1"/>
<text x="398.60" y="590.74" font-size="7.3" text-anchor="start" fill="#2b2b2b" stroke="#2b2b2b" stroke-width="0.15">MDOA</text>
<rect x="377.70" y="596.15" width="14.80" height="4.90" fill="#8c564b" stroke="none" stroke-width="1"/>
<text x="398.60" y="601.20" font-size="7.3" text-anchor="start" fill="#2b2b2b" stroke="#2b2b2b" stroke-width="0.15">DDAB</text>
<rect x="377.70" y="606.61" width="14.80" height="4.90" fill="#e377c2" stroke="none" stroke-width="1"/>
<text x="398.60" y="611.66" font-size="7.3" text-anchor="start" fill="#2b2b2b" stroke="#2b2b2b" stroke-width="0.15">14PA</text>
<rect x="377.70" y="617.07" width="14.80" height="4.90" fill="#7f7f7f" stroke="none" stroke-width="1"/>
<text x="398.60" y="622.12" font-size="7.3" text-anchor="start" fill="#2b2b2b" stroke="#2b2b2b" stroke-width="0.15">18PG</text>
<text x="510.30" y="495.80" font-size="9.42" text-anchor="middle" fill="#111" stroke="#111" stroke-width="0.15">PEG lipid type</text>
<path d="M511.60 513.60A63.6 63.6 0 1 0 539.04 634.58L522.58 600.15A25.44 25.44 0 1 1 511.60 551.76Z" fill="#1f77b4" stroke="#1f77b4" stroke-width="0.25"/>
<path d="M539.04 634.58A63.6 63.6 0 0 0 550.58 526.95L527.19 557.10A25.44 25.44 0 0 1 522.58 600.15Z" fill="#ff7f0e" stroke="#ff7f0e" stroke-width="0.25"/>
<path d="M550.58 526.95A63.6 63.6 0 0 0 516.79 513.81L513.68 551.84A25.44 25.44 0 0 1 527.19 557.10Z" fill="#2ca02c" stroke="#2ca02c" stroke-width="0.25"/>
<path d="M516.79 513.81A63.6 63.6 0 0 0 513.20 513.62L512.24 551.77A25.44 25.44 0 0 1 513.68 551.84Z" fill="#d62728" stroke="#d62728" stroke-width="0.25"/>
<path d="M513.20 513.62A63.6 63.6 0 0 0 512.80 513.61L512.08 551.76A25.44 25.44 0 0 1 512.24 551.77Z" fill="#9467bd" stroke="#9467bd" stroke-width="0.25"/>
<path d="M512.80 513.61A63.6 63.6 0 0 0 512.60 513.61L512.00 551.76A25.44 25.44 0 0 1 512.08 551.76Z" fill="#8c564b" stroke="#8c564b" stroke-width="0.25"/>
<path d="M512.60 513.61A63.6 63.6 0 0 0 512.40 513.61L511.92 551.76A25.44 25.44 0 0 1 512.00 551.76Z" fill="#e377c2" stroke="#e377c2" stroke-width="0.25"/>
<path d="M512.40 513.61A63.6 63.6 0 0 0 512.24 513.60L511.86 551.76A25.44 25.44 0 0 1 511.92 551.76Z" fill="#7f7f7f" stroke="#7f7f7f" stroke-width="0.25"/>
<path d="M512.24 513.60A63.6 63.6 0 0 0 512.12 513.60L511.81 551.76A25.44 25.44 0 0 1 511.86 551.76Z" fill="#bcbd22" stroke="#bcbd22" stroke-width="0.25"/>
<path d="M512.12 513.60A63.6 63.6 0 0 0 512.00 513.60L511.76 551.76A25.44 25.44 0 0 1 511.81 551.76Z" fill="#17becf" stroke="#17becf" stroke-width="0.25"/>
<path d="M512.00 513.60A63.6 63.6 0 0 0 511.92 513.60L511.73 551.76A25.44 25.44 0 0 1 511.76 551.76Z" fill="#393b79" stroke="#393b79" stroke-width="0.25"/>
<path d="M511.92 513.60A63.6 63.6 0 0 0 511.84 513.60L511.70 551.76A25.44 25.44 0 0 1 511.73 551.76Z" fill="#5254a3" stroke="#5254a3" stroke-width="0.25"/>
<path d="M511.84 513.60A63.6 63.6 0 0 0 511.76 513.60L511.66 551.76A25.44 25.44 0 0 1 511.70 551.76Z" fill="#6b6ecf" stroke="#6b6ecf" stroke-width="0.25"/>
<path d="M511.76 513.60A63.6 63.6 0 0 0 511.68 513.60L511.63 551.76A25.44 25.44 0 0 1 511.66 551.76Z" fill="#9c9ede" stroke="#9c9ede" stroke-width="0.25"/>
<path d="M511.68 513.60A63.6 63.6 0 0 0 511.64 513.60L511.62 551.76A25.44 25.44 0 0 1 511.63 551.76Z" fill="#637939" stroke="#637939" stroke-width="0.25"/>
<path d="M511.64 513.60A63.6 63.6 0 0 0 511.60 513.60L511.60 551.76A25.44 25.44 0 0 1 511.62 551.76Z" fill="#8ca252" stroke="#8ca252" stroke-width="0.25"/>
<text x="474.50" y="587.50" font-size="6.45" text-anchor="middle" fill="#222" stroke="#222" stroke-width="0.15">57.1%</text>
<text x="549.60" y="583.20" font-size="6.45" text-anchor="middle" fill="#222" stroke="#222" stroke-width="0.15">32.4%</text>
<text x="525.85" y="543.50" font-size="6.45" text-anchor="middle" fill="#222" stroke="#222" stroke-width="0.15">9.2%</text>
<text x="506.00" y="508.60" font-size="6.45" text-anchor="middle" fill="#222" stroke="#222" stroke-width="0.15">0.1%</text>
<line x1="494.30" y1="506.90" x2="497.40" y2="506.90" stroke="#222" stroke-width="1.0"/>
<text x="522.80" y="512.20" font-size="6.45" text-anchor="middle" fill="#222" stroke="#222" stroke-width="0.15">0.9%</text>
<rect x="579.20" y="490.05" width="14.80" height="4.90" fill="#1f77b4" stroke="none" stroke-width="1"/>
<text x="599.90" y="495.10" font-size="7.3" text-anchor="start" fill="#2b2b2b" stroke="#2b2b2b" stroke-width="0.15">DMG-PEG2000</text>
<rect x="579.20" y="500.47" width="14.80" height="4.90" fill="#ff7f0e" stroke="none" stroke-width="1"/>
<text x="599.90" y="505.52" font-size="7.3" text-anchor="start" fill="#2b2b2b" stroke="#2b2b2b" stroke-width="0.15">DMPE-PEG2000</text>
<rect x="579.20" y="510.89" width="14.80" height="4.90" fill="#2ca02c" stroke="none" stroke-width="1"/>
<text x="599.90" y="515.94" font-size="7.3" text-anchor="start" fill="#2b2b2b" stroke="#2b2b2b" stroke-width="0.15">Unknown</text>
<rect x="579.20" y="521.31" width="14.80" height="4.90" fill="#d62728" stroke="none" stroke-width="1"/>
<text x="599.90" y="526.36" font-size="7.3" text-anchor="start" fill="#2b2b2b" stroke="#2b2b2b" stroke-width="0.15">None</text>
<rect x="579.20" y="531.73" width="14.80" height="4.90" fill="#9467bd" stroke="none" stroke-width="1"/>
<text x="599.90" y="536.78" font-size="7.3" text-anchor="start" fill="#2b2b2b" stroke="#2b2b2b" stroke-width="0.15">DSG-PEG2000</text>
<rect x="579.20" y="542.15" width="14.80" height="4.90" fill="#8c564b" stroke="none" stroke-width="1"/>
<text x="599.90" y="547.20" font-size="7.3" text-anchor="start" fill="#2b2b2b" stroke="#2b2b2b" stroke-width="0.15">ALC-0159</text>
<rect x="579.20" y="552.57" width="14.80" height="4.90" fill="#e377c2" stroke="none" stroke-width="1"/>
<text x="599.90" y="557.62" font-size="7.3" text-anchor="start" fill="#2b2b2b" stroke="#2b2b2b" stroke-width="0.15">DMG-C-PEG2000</text>
<rect x="579.20" y="562.99" width="14.80" height="4.90" fill="#7f7f7f" stroke="none" stroke-width="1"/>
<text x="599.90" y="568.04" font-size="7.3" text-anchor="start" fill="#2b2b2b" stroke="#2b2b2b" stroke-width="0.15">C8-Ceramide-PEG2000</text>
<rect x="579.20" y="573.41" width="14.80" height="4.90" fill="#bcbd22" stroke="none" stroke-width="1"/>
<text x="599.90" y="578.46" font-size="7.3" text-anchor="start" fill="#2b2b2b" stroke="#2b2b2b" stroke-width="0.15">C16-Ceramide-PEG2000</text>
<rect x="579.20" y="583.83" width="14.80" height="4.90" fill="#17becf" stroke="none" stroke-width="1"/>
<text x="599.90" y="588.88" font-size="7.3" text-anchor="start" fill="#2b2b2b" stroke="#2b2b2b" stroke-width="0.15">DSPE-PEG2000</text>
<rect x="579.20" y="594.25" width="14.80" height="4.90" fill="#393b79" stroke="none" stroke-width="1"/>
<text x="599.90" y="599.30" font-size="7.3" text-anchor="start" fill="#2b2b2b" stroke="#2b2b2b" stroke-width="0.15">DMG-PEG5000</text>
<rect x="579.20" y="604.67" width="14.80" height="4.90" fill="#5254a3" stroke="none" stroke-width="1"/>
<text x="599.90" y="609.72" font-size="7.3" text-anchor="start" fill="#2b2b2b" stroke="#2b2b2b" stroke-width="0.15">DPG-PEG2000</text>
<rect x="579.20" y="615.09" width="14.80" height="4.90" fill="#6b6ecf" stroke="none" stroke-width="1"/>
<text x="599.90" y="620.14" font-size="7.3" text-anchor="start" fill="#2b2b2b" stroke="#2b2b2b" stroke-width="0.15">DPG-PEG5000</text>
<rect x="579.20" y="625.51" width="14.80" height="4.90" fill="#9c9ede" stroke="none" stroke-width="1"/>
<text x="599.90" y="630.56" font-size="7.3" text-anchor="start" fill="#2b2b2b" stroke="#2b2b2b" stroke-width="0.15">DSG-PEG5000</text>
<rect x="579.20" y="635.93" width="14.80" height="4.90" fill="#637939" stroke="none" stroke-width="1"/>
<text x="599.90" y="640.98" font-size="7.3" text-anchor="start" fill="#2b2b2b" stroke="#2b2b2b" stroke-width="0.15">DOG-PEG2000</text>
<rect x="579.20" y="646.35" width="14.80" height="4.90" fill="#8ca252" stroke="none" stroke-width="1"/>
<text x="599.90" y="651.40" font-size="7.3" text-anchor="start" fill="#2b2b2b" stroke="#2b2b2b" stroke-width="0.15">DOG-PEG5000</text>
<text x="71.00" y="691.20" font-size="9.42" text-anchor="middle" fill="#111" stroke="#111" stroke-width="0.15">Cargo</text>
<path d="M71.00 708.80A63.3 63.3 0 1 0 134.29 773.29L96.32 772.58A25.32 25.32 0 1 1 71.00 746.78Z" fill="#1f77b4" stroke="#1f77b4" stroke-width="0.25"/>
<path d="M134.29 773.29A63.3 63.3 0 0 0 94.67 713.39L80.47 748.62A25.32 25.32 0 0 1 96.32 772.58Z" fill="#ff7f0e" stroke="#ff7f0e" stroke-width="0.25"/>
<path d="M94.67 713.39A63.3 63.3 0 0 0 71.00 708.80L71.00 746.78A25.32 25.32 0 0 1 80.47 748.62Z" fill="#2ca02c" stroke="#2ca02c" stroke-width="0.25"/>
<text x="43.80" y="800.90" font-size="6.45" text-anchor="middle" fill="#222" stroke="#222" stroke-width="0.15">74.7%</text>
<text x="103.00" y="752.90" font-size="6.45" text-anchor="middle" fill="#222" stroke="#222" stroke-width="0.15">19.2%</text>
<text x="79.35" y="730.80" font-size="6.45" text-anchor="middle" fill="#222" stroke="#222" stroke-width="0.15">6.1%</text>
<rect x="138.50" y="758.95" width="14.80" height="4.90" fill="#1f77b4" stroke="none" stroke-width="1"/>
<text x="158.70" y="764.00" font-size="7.3" text-anchor="start" fill="#2b2b2b" stroke="#2b2b2b" stroke-width="0.15">mRNA</text>
<rect x="138.50" y="769.30" width="14.80" height="4.90" fill="#ff7f0e" stroke="none" stroke-width="1"/>
<text x="158.70" y="774.35" font-size="7.3" text-anchor="start" fill="#2b2b2b" stroke="#2b2b2b" stroke-width="0.15">siRNA</text>
<rect x="138.50" y="779.65" width="14.80" height="4.90" fill="#2ca02c" stroke="none" stroke-width="1"/>
<text x="158.70" y="784.70" font-size="7.3" text-anchor="start" fill="#2b2b2b" stroke="#2b2b2b" stroke-width="0.15">pDNA</text>
<text x="256.20" y="691.40" font-size="9.42" text-anchor="middle" fill="#111" stroke="#111" stroke-width="0.15">Delivery target</text>
<path d="M257.50 708.80A63.4 63.4 0 1 0 319.46 758.76L282.28 766.82A25.36 25.36 0 1 1 257.50 746.84Z" fill="#1f77b4" stroke="#1f77b4" stroke-width="0.25"/>
<path d="M319.46 758.76A63.4 63.4 0 0 0 300.90 725.98L274.86 753.71A25.36 25.36 0 0 1 282.28 766.82Z" fill="#ff7f0e" stroke="#ff7f0e" stroke-width="0.25"/>
<path d="M300.90 725.98A63.4 63.4 0 0 0 285.93 715.53L268.87 749.53A25.36 25.36 0 0 1 274.86 753.71Z" fill="#2ca02c" stroke="#2ca02c" stroke-width="0.25"/>
<path d="M285.93 715.53A63.4 63.4 0 0 0 276.71 711.78L265.18 748.03A25.36 25.36 0 0 1 268.87 749.53Z" fill="#d62728" stroke="#d62728" stroke-width="0.25"/>
<path d="M276.71 711.78A63.4 63.4 0 0 0 271.72 710.41L263.19 747.49A25.36 25.36 0 0 1 265.18 748.03Z" fill="#9467bd" stroke="#9467bd" stroke-width="0.25"/>
<path d="M271.72 710.41A63.4 63.4 0 0 0 267.81 709.64L261.62 747.18A25.36 25.36 0 0 1 263.19 747.49Z" fill="#8c564b" stroke="#8c564b" stroke-width="0.25"/>
<path d="M267.81 709.64A63.4 63.4 0 0 0 264.66 709.21L260.36 747.00A25.36 25.36 0 0 1 261.62 747.18Z" fill="#e377c2" stroke="#e377c2" stroke-width="0.25"/>
<path d="M264.66 709.21A63.4 63.4 0 0 0 263.07 709.05L259.73 746.94A25.36 25.36 0 0 1 260.36 747.00Z" fill="#7f7f7f" stroke="#7f7f7f" stroke-width="0.25"/>
<path d="M263.07 709.05A63.4 63.4 0 0 0 261.08 708.90L258.93 746.88A25.36 25.36 0 0 1 259.73 746.94Z" fill="#bcbd22" stroke="#bcbd22" stroke-width="0.25"/>
<path d="M261.08 708.90A63.4 63.4 0 0 0 259.09 708.82L258.14 746.85A25.36 25.36 0 0 1 258.93 746.88Z" fill="#17becf" stroke="#17becf" stroke-width="0.25"/>
<path d="M259.09 708.82A63.4 63.4 0 0 0 258.10 708.80L257.74 746.84A25.36 25.36 0 0 1 258.14 746.85Z" fill="#393b79" stroke="#393b79" stroke-width="0.25"/>
<path d="M258.10 708.80A63.4 63.4 0 0 0 257.50 708.80L257.50 746.84A25.36 25.36 0 0 1 257.74 746.84Z" fill="#5254a3" stroke="#5254a3" stroke-width="0.25"/>
<text x="233.50" y="803.90" font-size="6.45" text-anchor="middle" fill="#222" stroke="#222" stroke-width="0.15">78.4%</text>
<text x="290.45" y="755.30" font-size="6.45" text-anchor="middle" fill="#222" stroke="#222" stroke-width="0.15">9.6%</text>
<text x="280.55" y="705.40" font-size="6.45" text-anchor="middle" fill="#222" stroke="#222" stroke-width="0.15">1.3%</text>
<text x="290.45" y="712.10" font-size="6.45" text-anchor="middle" fill="#222" stroke="#222" stroke-width="0.15">2.5%</text>
<text x="301.55" y="719.10" font-size="6.45" text-anchor="middle" fill="#222" stroke="#222" stroke-width="0.15">4.6%</text>
<rect x="325.40" y="713.25" width="14.80" height="4.90" fill="#1f77b4" stroke="none" stroke-width="1"/>
<text x="345.80" y="718.30" font-size="7.3" text-anchor="start" fill="#2b2b2b" stroke="#2b2b2b" stroke-width="0.15">in_vitro</text>
<rect x="325.40" y="723.67" width="14.80" height="4.90" fill="#ff7f0e" stroke="none" stroke-width="1"/>
<text x="345.80" y="728.72" font-size="7.3" text-anchor="start" fill="#2b2b2b" stroke="#2b2b2b" stroke-width="0.15">lung_epithelium</text>
<rect x="325.40" y="734.09" width="14.80" height="4.90" fill="#2ca02c" stroke="none" stroke-width="1"/>
<text x="345.80" y="739.14" font-size="7.3" text-anchor="start" fill="#2b2b2b" stroke="#2b2b2b" stroke-width="0.15">liver</text>
<rect x="325.40" y="744.51" width="14.80" height="4.90" fill="#d62728" stroke="none" stroke-width="1"/>
<text x="345.80" y="749.56" font-size="7.3" text-anchor="start" fill="#2b2b2b" stroke="#2b2b2b" stroke-width="0.15">muscle</text>
<rect x="325.40" y="754.93" width="14.80" height="4.90" fill="#9467bd" stroke="none" stroke-width="1"/>
<text x="345.80" y="759.98" font-size="7.3" text-anchor="start" fill="#2b2b2b" stroke="#2b2b2b" stroke-width="0.15">spleen</text>
<rect x="325.40" y="765.35" width="14.80" height="4.90" fill="#8c564b" stroke="none" stroke-width="1"/>
<text x="345.80" y="770.40" font-size="7.3" text-anchor="start" fill="#2b2b2b" stroke="#2b2b2b" stroke-width="0.15">multiorgan</text>
<rect x="325.40" y="775.77" width="14.80" height="4.90" fill="#e377c2" stroke="none" stroke-width="1"/>
<text x="345.80" y="780.82" font-size="7.3" text-anchor="start" fill="#2b2b2b" stroke="#2b2b2b" stroke-width="0.15">bone_marrow</text>
<rect x="325.40" y="786.19" width="14.80" height="4.90" fill="#7f7f7f" stroke="none" stroke-width="1"/>
<text x="345.80" y="791.24" font-size="7.3" text-anchor="start" fill="#2b2b2b" stroke="#2b2b2b" stroke-width="0.15">heart</text>
<rect x="325.40" y="796.61" width="14.80" height="4.90" fill="#bcbd22" stroke="none" stroke-width="1"/>
<text x="345.80" y="801.66" font-size="7.3" text-anchor="start" fill="#2b2b2b" stroke="#2b2b2b" stroke-width="0.15">lung</text>
<rect x="325.40" y="807.03" width="14.80" height="4.90" fill="#17becf" stroke="none" stroke-width="1"/>
<text x="345.80" y="812.08" font-size="7.3" text-anchor="start" fill="#2b2b2b" stroke="#2b2b2b" stroke-width="0.15">kidney</text>
<rect x="325.40" y="817.45" width="14.80" height="4.90" fill="#393b79" stroke="none" stroke-width="1"/>
<text x="345.80" y="822.50" font-size="7.3" text-anchor="start" fill="#2b2b2b" stroke="#2b2b2b" stroke-width="0.15">ear</text>
<rect x="325.40" y="827.87" width="14.80" height="4.90" fill="#5254a3" stroke="none" stroke-width="1"/>
<text x="345.80" y="832.92" font-size="7.3" text-anchor="start" fill="#2b2b2b" stroke="#2b2b2b" stroke-width="0.15">whole_body</text>
<text x="471.50" y="691.20" font-size="9.42" text-anchor="middle" fill="#111" stroke="#111" stroke-width="0.15">Readout method</text>
<path d="M471.30 709.50A63.5 63.5 0 1 0 534.80 773.40L496.70 773.16A25.40 25.40 0 1 1 471.30 747.60Z" fill="#1f77b4" stroke="#1f77b4" stroke-width="0.25"/>
<path d="M534.80 773.40A63.5 63.5 0 0 0 506.66 720.26L485.44 751.90A25.40 25.40 0 0 1 496.70 773.16Z" fill="#ff7f0e" stroke="#ff7f0e" stroke-width="0.25"/>
<path d="M506.66 720.26A63.5 63.5 0 0 0 492.81 713.25L479.90 749.10A25.40 25.40 0 0 1 485.44 751.90Z" fill="#2ca02c" stroke="#2ca02c" stroke-width="0.25"/>
<path d="M492.81 713.25A63.5 63.5 0 0 0 483.20 710.62L476.06 748.05A25.40 25.40 0 0 1 479.90 749.10Z" fill="#d62728" stroke="#d62728" stroke-width="0.25"/>
<path d="M483.20 710.62A63.5 63.5 0 0 0 480.44 710.16L474.96 747.86A25.40 25.40 0 0 1 476.06 748.05Z" fill="#9467bd" stroke="#9467bd" stroke-width="0.25"/>
<path d="M480.44 710.16A63.5 63.5 0 0 0 478.07 709.86L474.01 747.74A25.40 25.40 0 0 1 474.96 747.86Z" fill="#8c564b" stroke="#8c564b" stroke-width="0.25"/>
<path d="M478.07 709.86A63.5 63.5 0 0 0 476.08 709.68L473.21 747.67A25.40 25.40 0 0 1 474.01 747.74Z" fill="#e377c2" stroke="#e377c2" stroke-width="0.25"/>
<path d="M476.08 709.68A63.5 63.5 0 0 0 474.29 709.57L472.50 747.63A25.40 25.40 0 0 1 473.21 747.67Z" fill="#7f7f7f" stroke="#7f7f7f" stroke-width="0.25"/>
<path d="M474.29 709.57A63.5 63.5 0 0 0 472.50 709.51L471.78 747.60A25.40 25.40 0 0 1 472.50 747.63Z" fill="#bcbd22" stroke="#bcbd22" stroke-width="0.25"/>
<path d="M472.50 709.51A63.5 63.5 0 0 0 471.30 709.50L471.30 747.60A25.40 25.40 0 0 1 471.78 747.60Z" fill="#17becf" stroke="#17becf" stroke-width="0.25"/>
<text x="444.15" y="802.30" font-size="6.45" text-anchor="middle" fill="#222" stroke="#222" stroke-width="0.15">74.9%</text>
<text x="504.90" y="757.90" font-size="6.45" text-anchor="middle" fill="#222" stroke="#222" stroke-width="0.15">15.7%</text>
<text x="487.75" y="703.80" font-size="6.45" text-anchor="middle" fill="#222" stroke="#222" stroke-width="0.15">0.7%</text>
<text x="495.75" y="710.90" font-size="6.45" text-anchor="middle" fill="#222" stroke="#222" stroke-width="0.15">2.5%</text>
<text x="509.25" y="717.90" font-size="6.45" text-anchor="middle" fill="#222" stroke="#222" stroke-width="0.15">3.9%</text>
<rect x="538.90" y="722.25" width="14.80" height="4.90" fill="#1f77b4" stroke="none" stroke-width="1"/>
<text x="559.50" y="727.30" font-size="7.3" text-anchor="start" fill="#2b2b2b" stroke="#2b2b2b" stroke-width="0.15">luminescence_normalized</text>
<rect x="538.90" y="732.69" width="14.80" height="4.90" fill="#ff7f0e" stroke="none" stroke-width="1"/>
<text x="559.50" y="737.74" font-size="7.3" text-anchor="start" fill="#2b2b2b" stroke="#2b2b2b" stroke-width="0.15">luminescence_discretized_normalized</text>
<rect x="538.90" y="743.13" width="14.80" height="4.90" fill="#2ca02c" stroke="none" stroke-width="1"/>
<text x="559.50" y="748.18" font-size="7.3" text-anchor="start" fill="#2b2b2b" stroke="#2b2b2b" stroke-width="0.15">protein_adundance_normalized</text>
<rect x="538.90" y="753.57" width="14.80" height="4.90" fill="#d62728" stroke="none" stroke-width="1"/>
<text x="559.50" y="758.62" font-size="7.3" text-anchor="start" fill="#2b2b2b" stroke="#2b2b2b" stroke-width="0.15">uptake</text>
<rect x="538.90" y="764.01" width="14.80" height="4.90" fill="#9467bd" stroke="none" stroke-width="1"/>
<text x="559.50" y="769.06" font-size="7.3" text-anchor="start" fill="#2b2b2b" stroke="#2b2b2b" stroke-width="0.15">editing_efficiency_normalized</text>
<rect x="538.90" y="774.45" width="14.80" height="4.90" fill="#8c564b" stroke="none" stroke-width="1"/>
<text x="559.50" y="779.50" font-size="7.3" text-anchor="start" fill="#2b2b2b" stroke="#2b2b2b" stroke-width="0.15">LRP6_knockdown_normalized</text>
<rect x="538.90" y="784.89" width="14.80" height="4.90" fill="#e377c2" stroke="none" stroke-width="1"/>
<text x="559.50" y="789.94" font-size="7.3" text-anchor="start" fill="#2b2b2b" stroke="#2b2b2b" stroke-width="0.15">diameter</text>
<rect x="538.90" y="795.33" width="14.80" height="4.90" fill="#7f7f7f" stroke="none" stroke-width="1"/>
<text x="559.50" y="800.38" font-size="7.3" text-anchor="start" fill="#2b2b2b" stroke="#2b2b2b" stroke-width="0.15">zeta_potential</text>
<rect x="538.90" y="805.77" width="14.80" height="4.90" fill="#bcbd22" stroke="none" stroke-width="1"/>
<text x="559.50" y="810.82" font-size="7.3" text-anchor="start" fill="#2b2b2b" stroke="#2b2b2b" stroke-width="0.15">hemolysis_percent</text>
<rect x="538.90" y="816.21" width="14.80" height="4.90" fill="#17becf" stroke="none" stroke-width="1"/>
<text x="559.50" y="821.26" font-size="7.3" text-anchor="start" fill="#2b2b2b" stroke="#2b2b2b" stroke-width="0.15">luminescence_relative_to_Spikevax</text>
</svg></body></html>
